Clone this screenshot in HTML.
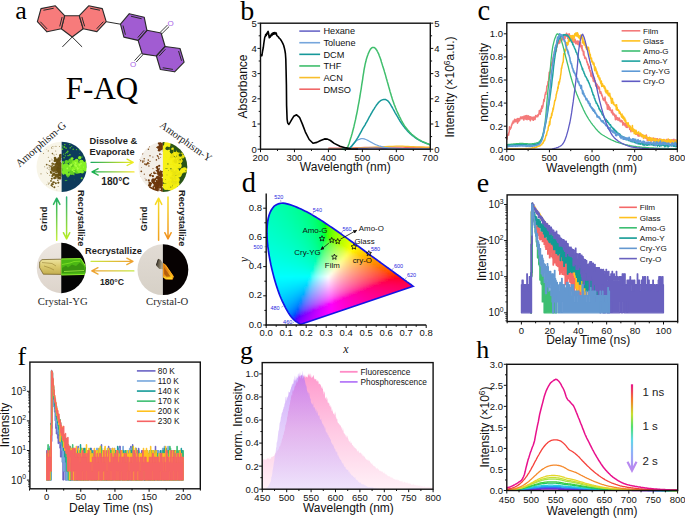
<!DOCTYPE html>
<html><head><meta charset="utf-8"><style>html,body{margin:0;padding:0;background:#fff;width:685px;height:518px;overflow:hidden}svg{display:block}</style></head>
<body><svg width="685" height="518" viewBox="0 0 685 518"><defs><clipPath id="cie"><path d="M301.02 324.27 L300.99 324.28 L300.95 324.28 L300.9 324.29 L300.86 324.3 L300.83 324.3 L300.8 324.3 L300.76 324.3 L300.72 324.3 L300.67 324.3 L300.62 324.29 L300.56 324.28 L300.48 324.26 L300.38 324.21 L300.27 324.16 L300.14 324.09 L299.98 323.99 L299.78 323.87 L299.54 323.71 L299.3 323.55 L299.08 323.41 L298.9 323.29 L298.75 323.2 L298.6 323.1 L298.42 322.99 L298.22 322.86 L298 322.72 L297.77 322.57 L297.52 322.42 L297.26 322.25 L296.99 322.08 L296.7 321.89 L296.4 321.69 L296.08 321.46 L295.74 321.22 L295.38 320.96 L295 320.66 L294.61 320.35 L294.21 320.02 L293.77 319.64 L293.3 319.17 L292.79 318.64 L292.24 318.04 L291.65 317.35 L291.02 316.56 L290.36 315.67 L289.66 314.7 L288.91 313.6 L288.12 312.33 L287.28 310.9 L286.39 309.33 L285.45 307.59 L284.46 305.63 L283.39 303.46 L282.26 301.1 L281.1 298.53 L279.94 295.7 L278.78 292.61 L277.6 289.27 L276.43 285.7 L275.28 281.93 L274.13 277.9 L272.99 273.62 L271.9 269.2 L270.9 264.75 L269.99 260.21 L269.15 255.56 L268.42 250.91 L267.84 246.39 L267.4 241.98 L267.09 237.62 L266.94 233.4 L266.98 229.4 L267.21 225.59 L267.61 221.94 L268.2 218.54 L268.98 215.47 L269.97 212.73 L271.16 210.29 L272.51 208.18 L273.98 206.45 L275.58 205.14 L277.33 204.22 L279.18 203.62 L281.06 203.27 L282.99 203.2 L284.99 203.44 L287.02 203.87 L289.04 204.37 L291.07 204.97 L293.11 205.7 L295.14 206.51 L297.14 207.34 L299.09 208.17 L301.01 209.05 L302.9 209.95 L304.78 210.89 L306.64 211.84 L308.47 212.83 L310.3 213.84 L312.12 214.87 L313.94 215.93 L315.75 217.02 L317.56 218.13 L319.36 219.25 L321.16 220.39 L322.95 221.56 L324.73 222.73 L326.52 223.92 L328.31 225.13 L330.09 226.34 L331.87 227.57 L333.66 228.8 L335.45 230.04 L337.24 231.3 L339.03 232.56 L340.82 233.82 L342.6 235.09 L344.38 236.37 L346.16 237.64 L347.94 238.92 L349.72 240.19 L351.49 241.47 L353.26 242.74 L355.02 244.01 L356.77 245.28 L358.51 246.54 L360.24 247.8 L361.96 249.05 L363.67 250.29 L365.36 251.52 L367.04 252.75 L368.7 253.96 L370.34 255.15 L371.97 256.34 L373.58 257.51 L375.16 258.66 L376.72 259.79 L378.26 260.9 L379.77 262 L381.24 263.07 L382.68 264.12 L384.09 265.15 L385.46 266.15 L386.78 267.11 L388.05 268.03 L389.27 268.92 L390.45 269.78 L391.6 270.62 L392.72 271.43 L393.8 272.22 L394.84 272.97 L395.84 273.7 L396.79 274.38 L397.69 275.03 L398.54 275.65 L399.36 276.24 L400.14 276.8 L400.87 277.33 L401.56 277.84 L402.22 278.32 L402.84 278.78 L403.42 279.2 L403.98 279.61 L404.5 279.99 L405 280.35 L405.46 280.68 L405.9 281 L406.32 281.3 L406.69 281.57 L407.02 281.82 L407.37 282.07 L407.78 282.37 L408.3 282.75 L408.89 283.18 L409.48 283.61 L410 283.99 L410.42 284.29 L410.79 284.56 L411.11 284.79 L411.4 285 L411.64 285.17 L411.84 285.32 L412.02 285.45 L412.2 285.58 L412.39 285.72 L412.57 285.85 L412.74 285.98 L412.88 286.08 L412.98 286.15 L413.05 286.2 L413.1 286.24 L413.14 286.27Z"/></clipPath><filter id="blr" x="-5%" y="-5%" width="110%" height="110%"><feGaussianBlur stdDeviation="1.3"/></filter><marker id="ah" viewBox="0 0 6 6" refX="5" refY="3" markerWidth="5" markerHeight="5" orient="auto"><path d="M0 0L6 3L0 6z" fill="#111"/></marker><linearGradient id="gpk" gradientUnits="userSpaceOnUse" x1="0" y1="374" x2="0" y2="489"><stop offset="0" stop-color="#FF9ACD"/><stop offset="0.5" stop-color="#FFCAE4"/><stop offset="1" stop-color="#FFF1F7"/></linearGradient><linearGradient id="gpu" gradientUnits="userSpaceOnUse" x1="0" y1="374" x2="0" y2="489"><stop offset="0" stop-color="#B070FA" stop-opacity="0.62"/><stop offset="0.5" stop-color="#C8A0F8" stop-opacity="0.5"/><stop offset="1" stop-color="#E8DEFD" stop-opacity="0.7"/></linearGradient><linearGradient id="harr" gradientUnits="userSpaceOnUse" x1="0" y1="384" x2="0" y2="470"><stop offset="0" stop-color="#E8108C"/><stop offset="0.18" stop-color="#F47A2A"/><stop offset="0.35" stop-color="#C8E030"/><stop offset="0.5" stop-color="#50E070"/><stop offset="0.65" stop-color="#60D8E8"/><stop offset="0.8" stop-color="#90B0F8"/><stop offset="1" stop-color="#B88AF0"/></linearGradient><filter id="soft" x="-10%" y="-10%" width="120%" height="120%"><feGaussianBlur stdDeviation="0.35"/></filter><clipPath id="c1L"><path d="M61.6 141.7V191.9A25.1 25.1 0 0 1 61.6 141.7Z"/></clipPath><clipPath id="c1R"><path d="M61.6 141.7V191.9A25.1 25.1 0 0 0 61.6 141.7Z"/></clipPath><clipPath id="c2L"><path d="M162.9 141.91V192.09A25.1 25.1 0 0 1 162.9 141.91Z"/></clipPath><clipPath id="c2R"><path d="M162.9 141.91V192.09A25.1 25.1 0 0 0 162.9 141.91Z"/></clipPath><clipPath id="c3L"><path d="M61.25 242.81V293.19A25.2 25.2 0 0 1 61.25 242.81Z"/></clipPath><clipPath id="c3R"><path d="M61.25 242.81V293.19A25.2 25.2 0 0 0 61.25 242.81Z"/></clipPath><linearGradient id="bg3" x1="0" y1="0" x2="0" y2="1"><stop offset="0" stop-color="#EEE8E2"/><stop offset="1" stop-color="#DCD3CA"/></linearGradient><linearGradient id="yc3" x1="0" y1="0" x2="0" y2="1"><stop offset="0" stop-color="#EDE3A0"/><stop offset="0.45" stop-color="#DCCB70"/><stop offset="1" stop-color="#C4AE50"/></linearGradient><clipPath id="c4L"><path d="M162.9 244.3V295.1A25.4 25.4 0 0 1 162.9 244.3Z"/></clipPath><clipPath id="c4R"><path d="M162.9 244.3V295.1A25.4 25.4 0 0 0 162.9 244.3Z"/></clipPath><linearGradient id="bg4" x1="0" y1="0" x2="0" y2="1"><stop offset="0" stop-color="#E2DCD5"/><stop offset="1" stop-color="#D6D0C6"/></linearGradient><linearGradient id="dc4" x1="0" y1="0" x2="1" y2="0.2"><stop offset="0" stop-color="#3A3328"/><stop offset="0.5" stop-color="#6A6250"/><stop offset="1" stop-color="#B4AC96"/></linearGradient><linearGradient id="oc4" x1="0" y1="0" x2="0.5" y2="1"><stop offset="0" stop-color="#D87410"/><stop offset="0.6" stop-color="#E88A14"/><stop offset="1" stop-color="#FFC81C"/></linearGradient><linearGradient id="ga1" gradientUnits="userSpaceOnUse" x1="91" y1="162.3" x2="133.3" y2="162.3"><stop offset="0" stop-color="#1CAA5E"/><stop offset="1" stop-color="#F4EE1E"/></linearGradient><linearGradient id="ga2" gradientUnits="userSpaceOnUse" x1="134" y1="171.9" x2="92" y2="171.9"><stop offset="0" stop-color="#F8E630"/><stop offset="1" stop-color="#12AE52"/></linearGradient><linearGradient id="ga3" gradientUnits="userSpaceOnUse" x1="56.7" y1="240.2" x2="56.7" y2="198.2"><stop offset="0" stop-color="#C8F040"/><stop offset="1" stop-color="#1EAE62"/></linearGradient><linearGradient id="ga4" gradientUnits="userSpaceOnUse" x1="66.6" y1="196.9" x2="66.6" y2="238.9"><stop offset="0" stop-color="#2EB07A"/><stop offset="1" stop-color="#B8EE22"/></linearGradient><linearGradient id="ga5" gradientUnits="userSpaceOnUse" x1="158.6" y1="240.2" x2="158.6" y2="198.2"><stop offset="0" stop-color="#F0A020"/><stop offset="1" stop-color="#F8E024"/></linearGradient><linearGradient id="ga6" gradientUnits="userSpaceOnUse" x1="168" y1="196.9" x2="168" y2="238.9"><stop offset="0" stop-color="#F8E024"/><stop offset="1" stop-color="#F09020"/></linearGradient><linearGradient id="ga7" gradientUnits="userSpaceOnUse" x1="91.1" y1="261.4" x2="133" y2="261.4"><stop offset="0" stop-color="#C8E840"/><stop offset="1" stop-color="#F0A030"/></linearGradient><linearGradient id="ga8" gradientUnits="userSpaceOnUse" x1="133.9" y1="270.9" x2="91.8" y2="270.9"><stop offset="0" stop-color="#C4E840"/><stop offset="1" stop-color="#F0A030"/></linearGradient></defs><polyline points="328.4,148.2 330.2,148.2 332.6,148.1 335.4,148.1 338.6,148.1 342,148 345.4,147.9 348.9,147.9 352.7,147.8 356.6,147.7 360.7,147.6 364.9,147.5 369.2,147.4 373.6,147.4 378.4,147.3 383.2,147.3 387.9,147.2 392.4,147.2 396.3,147.2 399.8,147.2 402.8,147.2 405.5,147.3 408,147.3 410.6,147.4 413.3,147.4 416.3,147.5 419.6,147.5 422.9,147.6 425.9,147.6 428.5,147.7 430.3,147.7" fill="none" stroke="#F06868" stroke-width="1.3" stroke-linejoin="round"/>
<polyline points="328.4,148.7 330.6,148.7 333.6,148.7 337.1,148.6 341,148.6 345,148.5 348.8,148.4 352.6,148.3 356.5,148.2 360.5,148 364.5,147.8 368.6,147.6 372.6,147.4 376.6,147.2 380.7,147 384.9,146.7 388.9,146.5 392.8,146.3 396.3,146.2 399.6,146.2 402.5,146.2 405.3,146.3 407.9,146.4 410.6,146.6 413.3,146.7 416.3,146.8 419.6,146.9 422.9,147 425.9,147.1 428.5,147.1 430.3,147.2" fill="none" stroke="#F8BE2C" stroke-width="1.3" stroke-linejoin="round"/>
<polyline points="328.4,149.2 330.6,149.2 333.7,149.2 337.3,149.1 341.2,149.1 345.2,149 348.8,148.9 352.2,148.8 355.6,148.7 359,148.5 362.4,148.4 365.8,148.3 369.2,148.2 372.3,148.2 375.2,148.2 378.1,148.2 381.2,148.3 385,148.4 389.5,148.4 395.6,148.5 403.1,148.6 411.2,148.7 419,148.8 425.6,148.9 430.3,148.9" fill="none" stroke="#6A68C8" stroke-width="1.3" stroke-linejoin="round"/>
<polyline points="342,149.2 342.8,149.2 343.8,149.2 345,149.2 346.4,149.1 347.7,148.8 348.9,148.3 350.1,147.5 351.2,146.3 352.4,145 353.6,143.7 354.6,142.5 355.5,141.6 356.2,141 356.8,140.5 357.4,140.2 357.8,139.9 358.3,139.7 358.8,139.5 359.4,139.3 359.9,139.1 360.5,138.9 361.1,138.7 361.6,138.6 362.2,138.6 362.8,138.6 363.3,138.7 363.8,138.8 364.4,138.9 364.9,139.1 365.5,139.3 366.1,139.5 366.6,139.8 367.2,140 367.7,140.4 368.3,140.7 368.9,141 369.5,141.4 370.2,141.7 370.9,142.1 371.6,142.5 372.3,142.9 373,143.3 373.7,143.7 374.4,144 375.1,144.4 375.8,144.7 376.7,145 377.7,145.4 378.9,145.8 380.2,146.2 381.6,146.6 383.1,147 384.8,147.4 386.6,147.7 388.4,148 390.1,148.2 392,148.4 394.1,148.5 396.7,148.7 400,148.8 404.4,148.9 410,148.9 416,148.9 421.8,148.9 426.8,148.9 430.3,148.9" fill="none" stroke="#76A6DC" stroke-width="1.3" stroke-linejoin="round"/>
<polyline points="342,149.2 342.8,149.2 343.9,149.2 345.2,149.2 346.6,149.1 347.8,148.9 348.9,148.6 349.7,148.2 350.4,147.6 351.1,146.9 351.7,146.2 352.3,145.4 353,144.5 353.8,143.5 354.6,142.5 355.4,141.3 356.2,140.1 357,138.9 357.8,137.7 358.5,136.5 359.2,135.2 359.9,133.9 360.6,132.6 361.3,131.3 362,130 362.7,128.7 363.5,127.4 364.3,126.1 365.1,124.8 365.8,123.4 366.6,122.1 367.3,120.8 368.1,119.4 368.8,118 369.5,116.7 370.3,115.3 371,114 371.8,112.7 372.5,111.4 373.3,110 374.1,108.8 374.8,107.6 375.5,106.6 376.1,105.7 376.6,104.9 377.1,104.3 377.6,103.7 378,103.1 378.5,102.6 378.9,102.1 379.4,101.7 379.8,101.3 380.2,101 380.6,100.7 381.1,100.4 381.6,100.1 382.2,99.9 382.8,99.7 383.3,99.6 383.9,99.4 384.4,99.4 384.9,99.4 385.3,99.5 385.7,99.6 386.1,99.8 386.4,100 386.8,100.2 387.1,100.4 387.5,100.6 387.8,100.8 388.1,101.1 388.4,101.5 388.8,102 389.3,102.6 389.8,103.4 390.3,104.2 390.9,105.1 391.4,106.1 392,107 392.6,108 393.1,109 393.7,110.1 394.3,111.2 394.9,112.3 395.5,113.3 396.1,114.3 396.7,115.4 397.3,116.4 397.9,117.4 398.4,118.4 399,119.3 399.5,120.2 400,121.1 400.5,121.9 401.1,122.7 401.6,123.5 402.2,124.4 402.9,125.3 403.5,126.2 404.3,127.1 405,128.1 405.8,128.9 406.5,129.8 407.2,130.6 408,131.4 408.7,132.2 409.5,132.9 410.2,133.6 411,134.3 411.8,134.9 412.5,135.6 413.3,136.2 414,136.7 414.8,137.3 415.5,137.8 416.2,138.3 416.9,138.8 417.7,139.3 418.4,139.7 419.1,140.2 419.9,140.6 420.7,141 421.5,141.4 422.4,141.8 423.3,142.2 424.1,142.6 425,142.9 425.9,143.2 426.9,143.6 428,143.9 428.9,144.2 429.7,144.4 430.3,144.6" fill="none" stroke="#16989A" stroke-width="1.5" stroke-linejoin="round"/>
<polyline points="342,149.2 342.5,149.2 343.3,149.3 344.1,149.4 345.1,149.4 345.9,149.1 346.7,148.6 347.3,147.7 347.9,146.6 348.4,145.2 349,143.7 349.5,142.1 350,140.5 350.5,138.8 351.1,137 351.6,135.2 352.2,133.2 352.7,131.2 353.3,129 353.9,126.7 354.4,124.4 355,121.9 355.6,119.4 356.1,116.7 356.7,114 357.3,111.1 357.8,108.1 358.4,104.9 359,101.8 359.5,98.8 360,96 360.4,93.4 360.8,91 361.2,88.8 361.5,86.5 361.8,84.3 362.2,82 362.6,79.6 362.9,77.2 363.3,74.7 363.7,72.3 364,70.1 364.4,68 364.8,66.1 365.1,64.4 365.5,62.8 365.9,61.3 366.2,59.8 366.6,58.5 367,57.2 367.4,56.1 367.8,55 368.1,54 368.5,53.1 368.9,52.2 369.3,51.4 369.6,50.7 369.9,50.1 370.3,49.5 370.6,49 371,48.6 371.4,48.2 371.8,47.9 372.1,47.7 372.5,47.5 372.9,47.4 373.3,47.4 373.7,47.4 374,47.5 374.4,47.7 374.8,47.9 375.1,48.2 375.5,48.6 375.9,49 376.2,49.5 376.6,50 377,50.6 377.3,51.3 377.7,52 378.1,52.8 378.5,53.6 378.9,54.5 379.2,55.5 379.6,56.5 380,57.5 380.4,58.5 380.7,59.6 381.1,60.7 381.4,61.9 381.8,63.1 382.2,64.4 382.6,65.8 383.1,67.3 383.6,68.8 384.1,70.4 384.5,71.9 385,73.5 385.5,75.1 385.9,76.6 386.3,78.2 386.8,79.8 387.2,81.4 387.7,83 388.2,84.7 388.6,86.3 389.1,88 389.6,89.7 390,91.4 390.5,93 391,94.5 391.4,96 391.9,97.5 392.3,98.9 392.8,100.4 393.3,101.8 393.8,103.2 394.3,104.7 394.9,106.1 395.4,107.5 396,108.9 396.5,110.2 397.1,111.5 397.6,112.7 398.2,113.9 398.8,115.1 399.3,116.3 399.9,117.4 400.5,118.5 401,119.6 401.5,120.6 402.1,121.6 402.6,122.6 403.2,123.5 403.7,124.4 404.3,125.3 404.8,126.1 405.4,127 406,127.8 406.6,128.6 407.3,129.4 408,130.3 408.7,131.1 409.5,132 410.2,132.7 411,133.5 411.7,134.2 412.5,134.9 413.2,135.5 414,136.1 414.7,136.7 415.5,137.3 416.3,137.8 417,138.4 417.8,138.9 418.5,139.3 419.3,139.8 420,140.2 420.7,140.6 421.4,140.9 422.1,141.3 422.7,141.6 423.5,141.9 424.3,142.3 425.3,142.7 426.4,143.3 427.6,143.8 428.7,144.3 429.6,144.7 430.3,145" fill="none" stroke="#3FBE6C" stroke-width="1.5" stroke-linejoin="round"/>
<polyline points="260.5,56.3 261.2,54.8 261.9,55.6 262.6,51 263.3,47.5 263.8,43.5 264.3,40.2 264.8,37 265.3,36.4 265.7,34.5 266.2,35.6 266.7,33.2 267.2,34 267.6,32.2 268.1,31.4 268.5,33 268.9,35.5 269.3,37.8 269.7,36.2 270.1,37.2 270.6,35.2 271,36 271.5,34 271.9,35.4 272.4,33.3 272.8,34.6 273.3,32.8 273.7,34.2 274.2,32.6 274.7,33.8 275.2,32.7 275.7,34 276.2,33 276.8,35.5 277.5,36.2 278.3,36.8 279.2,38.2 280.2,39 281,40.2 282,41.8 282.9,43.6 283.7,45.5 284.4,48.2 285,51 285.4,53.5 285.8,59 286.1,71.3 286.4,85 286.6,105.6 287.1,119.2 287.7,123 288.9,124.4 290,122.6 291.4,120.2 293.7,116.3 296.6,114.8 299.5,117.3 302.4,124.1 305.3,131.8 309.2,139.5 313,143.2 316.9,142.4 320.7,140.5 324.6,138.9 327.5,139.1 330.4,140.5 334.2,143.4 340,146.3 345.9,147.9 350.9,149 358,149.3" fill="none" stroke="#000" stroke-width="1.6" stroke-linejoin="round"/>
<line x1="299.3" y1="31.1" x2="320.1" y2="31.1" stroke="#6A68C8" stroke-width="1.6"/>
<text x="323.4" y="34.4" font-family="'Liberation Sans',sans-serif" font-size="9.2" text-anchor="start" font-weight="normal" fill="#111">Hexane</text>
<line x1="299.3" y1="42.72" x2="320.1" y2="42.72" stroke="#76A6DC" stroke-width="1.6"/>
<text x="323.4" y="46.02" font-family="'Liberation Sans',sans-serif" font-size="9.2" text-anchor="start" font-weight="normal" fill="#111">Toluene</text>
<line x1="299.3" y1="54.34" x2="320.1" y2="54.34" stroke="#16989A" stroke-width="1.6"/>
<text x="323.4" y="57.64" font-family="'Liberation Sans',sans-serif" font-size="9.2" text-anchor="start" font-weight="normal" fill="#111">DCM</text>
<line x1="299.3" y1="65.96" x2="320.1" y2="65.96" stroke="#3FBE6C" stroke-width="1.6"/>
<text x="323.4" y="69.26" font-family="'Liberation Sans',sans-serif" font-size="9.2" text-anchor="start" font-weight="normal" fill="#111">THF</text>
<line x1="299.3" y1="77.58" x2="320.1" y2="77.58" stroke="#F8BE2C" stroke-width="1.6"/>
<text x="323.4" y="80.88" font-family="'Liberation Sans',sans-serif" font-size="9.2" text-anchor="start" font-weight="normal" fill="#111">ACN</text>
<line x1="299.3" y1="89.2" x2="320.1" y2="89.2" stroke="#F06868" stroke-width="1.6"/>
<text x="323.4" y="92.5" font-family="'Liberation Sans',sans-serif" font-size="9.2" text-anchor="start" font-weight="normal" fill="#111">DMSO</text>
<rect x="260.5" y="23.2" width="169.8" height="126" fill="none" stroke="#111" stroke-width="1.4"/>
<path d="M260.5 149.2v3M294.46 149.2v3M328.42 149.2v3M362.38 149.2v3M396.34 149.2v3M430.3 149.2v3" stroke="#111" stroke-width="1"/>
<path d="M277.48 149.2v1.8M311.44 149.2v1.8M345.4 149.2v1.8M379.36 149.2v1.8M413.32 149.2v1.8" stroke="#111" stroke-width="1"/>
<path d="M260.5 149.2h-3M260.5 124h-3M260.5 98.8h-3M260.5 73.6h-3M260.5 48.4h-3M260.5 23.2h-3" stroke="#111" stroke-width="1"/>
<path d="M260.5 136.6h-1.8M260.5 111.4h-1.8M260.5 86.2h-1.8M260.5 61h-1.8M260.5 35.8h-1.8" stroke="#111" stroke-width="1"/>
<path d="M430.3 149.2h3M430.3 124h3M430.3 98.8h3M430.3 73.6h3M430.3 48.4h3M430.3 23.2h3" stroke="#111" stroke-width="1"/>
<path d="M430.3 136.6h1.8M430.3 111.4h1.8M430.3 86.2h1.8M430.3 61h1.8M430.3 35.8h1.8" stroke="#111" stroke-width="1"/>
<text x="260.5" y="160.8" font-family="'Liberation Sans',sans-serif" font-size="9.5" text-anchor="middle" font-weight="normal" fill="#111">200</text>
<text x="294.46" y="160.8" font-family="'Liberation Sans',sans-serif" font-size="9.5" text-anchor="middle" font-weight="normal" fill="#111">300</text>
<text x="328.42" y="160.8" font-family="'Liberation Sans',sans-serif" font-size="9.5" text-anchor="middle" font-weight="normal" fill="#111">400</text>
<text x="362.38" y="160.8" font-family="'Liberation Sans',sans-serif" font-size="9.5" text-anchor="middle" font-weight="normal" fill="#111">500</text>
<text x="396.34" y="160.8" font-family="'Liberation Sans',sans-serif" font-size="9.5" text-anchor="middle" font-weight="normal" fill="#111">600</text>
<text x="430.3" y="160.8" font-family="'Liberation Sans',sans-serif" font-size="9.5" text-anchor="middle" font-weight="normal" fill="#111">700</text>
<text x="256.7" y="152.6" font-family="'Liberation Sans',sans-serif" font-size="9.5" text-anchor="end" font-weight="normal" fill="#111">0</text>
<text x="256.7" y="127.4" font-family="'Liberation Sans',sans-serif" font-size="9.5" text-anchor="end" font-weight="normal" fill="#111">1</text>
<text x="256.7" y="102.2" font-family="'Liberation Sans',sans-serif" font-size="9.5" text-anchor="end" font-weight="normal" fill="#111">2</text>
<text x="256.7" y="77" font-family="'Liberation Sans',sans-serif" font-size="9.5" text-anchor="end" font-weight="normal" fill="#111">3</text>
<text x="256.7" y="51.8" font-family="'Liberation Sans',sans-serif" font-size="9.5" text-anchor="end" font-weight="normal" fill="#111">4</text>
<text x="256.7" y="26.6" font-family="'Liberation Sans',sans-serif" font-size="9.5" text-anchor="end" font-weight="normal" fill="#111">5</text>
<text x="434.2" y="152.6" font-family="'Liberation Sans',sans-serif" font-size="9.5" text-anchor="start" font-weight="normal" fill="#111">0</text>
<text x="434.2" y="127.4" font-family="'Liberation Sans',sans-serif" font-size="9.5" text-anchor="start" font-weight="normal" fill="#111">1</text>
<text x="434.2" y="102.2" font-family="'Liberation Sans',sans-serif" font-size="9.5" text-anchor="start" font-weight="normal" fill="#111">2</text>
<text x="434.2" y="77" font-family="'Liberation Sans',sans-serif" font-size="9.5" text-anchor="start" font-weight="normal" fill="#111">3</text>
<text x="434.2" y="51.8" font-family="'Liberation Sans',sans-serif" font-size="9.5" text-anchor="start" font-weight="normal" fill="#111">4</text>
<text x="434.2" y="26.6" font-family="'Liberation Sans',sans-serif" font-size="9.5" text-anchor="start" font-weight="normal" fill="#111">5</text>
<text x="247.3" y="86.5" font-family="'Liberation Sans',sans-serif" font-size="12" text-anchor="middle" font-weight="normal" fill="#111" transform="rotate(-90 247.3 86.5)">Absorbance</text>
<text x="454" y="87" font-family="'Liberation Sans',sans-serif" font-size="12" text-anchor="middle" fill="#111" transform="rotate(-90 454 87)">Intensity (×10<tspan dy="-4" font-size="8.5">6</tspan><tspan dy="4">a.u.)</tspan></text>
<text x="345.3" y="171.3" font-family="'Liberation Sans',sans-serif" font-size="12" text-anchor="middle" font-weight="normal" fill="#111">Wavelength (nm)</text>
<polyline points="506.8,134.7 507.1,139.1 507.4,135.1 507.7,135.5 508,134.7 508.3,133.7 508.6,135.1 508.9,132.3 509.2,132.3 509.5,126.8 509.8,129.6 510.1,129.4 510.4,128.6 510.7,128.3 511,128 511.3,126.5 511.6,124.8 511.9,125 512.2,123 512.5,123.9 512.8,123.2 513.1,121 513.4,121.9 513.7,122.9 514,122.2 514.3,121.1 514.6,119.2 514.9,121.6 515.2,121.4 515.5,119.7 515.8,121.8 516,120.9 516.3,119.3 516.6,119.5 516.9,119.9 517.2,119.1 517.5,123.3 517.8,118.5 518.1,120.9 518.4,121.7 518.7,119.2 519,118.6 519.3,119.9 519.6,120.6 519.9,119.1 520.2,119 520.5,117.1 520.8,117.7 521.1,118.2 521.4,116.9 521.7,118.3 522,119 522.3,117 522.6,116.8 522.9,117.6 523.2,118.2 523.5,116.8 523.8,120.1 524.1,116 524.4,116.2 524.7,118.8 525,116.6 525.3,117.9 525.6,115.8 525.9,119.3 526.2,117.9 526.5,116 526.8,115.5 527.1,119.7 527.4,117.8 527.7,116.9 528,118.2 528.3,115.7 528.6,119.3 528.9,117.6 529.2,119.5 529.5,116.6 529.8,118.5 530.1,119.1 530.4,120.8 530.7,116.7 531,117.9 531.3,118 531.6,117.5 531.9,118.5 532.2,119.6 532.5,119.8 532.8,119.7 533.1,116.9 533.4,120.3 533.7,119.1 534,118.6 534.3,117.7 534.5,117.1 534.8,119.1 535.1,119.5 535.4,117.2 535.7,115.5 536,115.9 536.3,116.4 536.6,116.8 536.9,115.9 537.2,116.4 537.5,114.9 537.8,116.7 538.1,115.2 538.4,115.2 538.7,114 539,114 539.3,110.5 539.6,111.2 539.9,110.5 540.2,114.3 540.5,111.4 540.8,111 541.1,108.7 541.4,111.6 541.7,106.5 542,105.9 542.3,108.3 542.6,107.2 542.9,106.2 543.2,104.2 543.5,102.5 543.8,99.6 544.1,101.3 544.4,98.8 544.7,98.3 545,94.7 545.3,94.7 545.6,92.4 545.9,94.3 546.2,91.6 546.5,91 546.8,86.2 547.1,85.9 547.4,85.8 547.7,84.5 548,81.6 548.3,81.7 548.6,80.4 548.9,76.7 549.2,72.2 549.5,74.6 549.8,73.5 550.1,72.9 550.4,71.7 550.7,67.5 551,65.6 551.3,65.6 551.6,63.8 551.9,62.8 552.2,61.5 552.5,62.8 552.7,59.9 553,57.8 553.3,58.1 553.6,56.4 553.9,55.9 554.2,54.1 554.5,51.1 554.8,52.2 555.1,50.9 555.4,48.5 555.7,48 556,45.5 556.3,51.1 556.6,45.6 556.9,47.2 557.2,45.6 557.5,43.9 557.8,42.9 558.1,42.5 558.4,43.5 558.7,40.6 559,43.4 559.3,42.7 559.6,40.8 559.9,42.7 560.2,37.7 560.5,39.3 560.8,37 561.1,40.4 561.4,40.6 561.7,39.4 562,38.1 562.3,40 562.6,38.1 562.9,38.5 563.2,35.5 563.5,39.1 563.8,35.9 564.1,38.6 564.4,38.9 564.7,38.3 565,38.9 565.3,36.4 565.6,34.7 565.9,36 566.2,35.1 566.5,33.2 566.8,35.4 567.1,35.5 567.4,36.2 567.7,38.4 568,34.3 568.3,38.6 568.6,34.4 568.9,35.6 569.2,33.7 569.5,35.8 569.8,37.2 570.1,35.4 570.4,37.2 570.7,36.8 571,36.6 571.2,37.2 571.5,37.6 571.8,38.9 572.1,38.1 572.4,41.7 572.7,38.6 573,40.6 573.3,36.9 573.6,36.9 573.9,42.6 574.2,39.3 574.5,40 574.8,41.7 575.1,39.3 575.4,41.2 575.7,43.7 576,41.4 576.3,41.4 576.6,41.3 576.9,43.8 577.2,41 577.5,41 577.8,44.5 578.1,44 578.4,43.3 578.7,44.5 579,41 579.3,43.9 579.6,46.3 579.9,46.4 580.2,45.6 580.5,42.2 580.8,46.8 581.1,46.9 581.4,46.9 581.7,48.5 582,45.4 582.3,50.8 582.6,49.5 582.9,51.3 583.2,51.4 583.5,55.1 583.8,51.2 584.1,55.1 584.4,55.7 584.7,58.1 585,58.5 585.3,57.2 585.6,57.4 585.9,58.5 586.2,58.6 586.5,60.2 586.8,62.1 587.1,61.7 587.4,62.9 587.7,64.8 588,64.4 588.3,64.3 588.6,66.8 588.9,68.5 589.2,67.6 589.4,66.6 589.7,70.6 590,71.2 590.3,72 590.6,70.7 590.9,76.1 591.2,73.5 591.5,73.1 591.8,76.8 592.1,74.1 592.4,76.2 592.7,78.4 593,77.9 593.3,81.1 593.6,80.2 593.9,77.3 594.2,81.8 594.5,78.3 594.8,81.5 595.1,80.4 595.4,82.2 595.7,86 596,84 596.3,83.4 596.6,85.7 596.9,86.5 597.2,84.6 597.5,86.5 597.8,88.6 598.1,87.8 598.4,86.2 598.7,88.8 599,87.5 599.3,87.3 599.6,90.1 599.9,92.4 600.2,93.4 600.5,92.3 600.8,91.7 601.1,93.1 601.4,93.4 601.7,95.3 602,94.9 602.3,96.5 602.6,96.9 602.9,98.8 603.2,99.7 603.5,98.8 603.8,100.2 604.1,100.6 604.4,99 604.7,100.6 605,97.1 605.3,100.3 605.6,102.9 605.9,101.6 606.2,102.7 606.5,104.6 606.8,102.8 607.1,105.8 607.4,109.2 607.7,104.7 607.9,107.1 608.2,104.8 608.5,108.1 608.8,109.2 609.1,106.2 609.4,110 609.7,108.8 610,107.7 610.3,109.8 610.6,110.5 610.9,110.7 611.2,110.2 611.5,112.7 611.8,111.3 612.1,111.8 612.4,110 612.7,113.7 613,114.8 613.3,113.1 613.6,114.9 613.9,114.4 614.2,115 614.5,114.1 614.8,116.7 615.1,116.3 615.4,119.7 615.7,117.9 616,115.2 616.3,118.2 616.6,118.5 616.9,119.4 617.2,117.4 617.5,118.2 617.8,120.1 618.1,118.1 618.4,118.9 618.7,118.5 619,120.5 619.3,117.9 619.6,119.7 619.9,120.6 620.2,121.4 620.5,121.3 620.8,120.2 621.1,121.8 621.4,120.4 621.7,121.3 622,120.6 622.3,121.5 622.6,122.8 622.9,125.2 623.2,122.9 623.5,122.5 623.8,123.5 624.1,123.3 624.4,124.7 624.7,124.9 625,125.8 625.3,123.3 625.6,125 625.9,126 626.1,127.2 626.4,126.1 626.7,124.4 627,125.8 627.3,127.5 627.6,125.2 627.9,125.4 628.2,126.2 628.5,126.6 628.8,126.4 629.1,127.4 629.4,127.4 629.7,129.4 630,127 630.3,128.7 630.6,126.9 630.9,131.8 631.2,128.9 631.5,128.8 631.8,130.5 632.1,129.8 632.4,129.6 632.7,130 633,131.5 633.3,131.2 633.6,130.1 633.9,129.9 634.2,131.5 634.5,131.7 634.8,131.8 635.1,131 635.4,133.6 635.7,134.1 636,132.6 636.3,134.2 636.6,133.8 636.9,133.2 637.2,132.9 637.5,134.9 637.8,132.9 638.1,136 638.4,133.6 638.7,136.1 639,136 639.3,134 639.6,135.3 639.9,135.9 640.2,135.7 640.5,134.8 640.8,135.5 641.1,135.7 641.4,134.6 641.7,136.7 642,136.6 642.3,136.8 642.6,135 642.9,135.3 643.2,135.1 643.5,136.7 643.8,137 644.1,136 644.4,137.5 644.6,136.2 644.9,136.5 645.2,138.2 645.5,137.6 645.8,137.8 646.1,135.8 646.4,135 646.7,138.1 647,138.1 647.3,140.7 647.6,138 647.9,138.4 648.2,139.7 648.5,137.7 648.8,140.4 649.1,139 649.4,138.7 649.7,140.3 650,138.1 650.3,138 650.6,140.8 650.9,140.9 651.2,138.7 651.5,139.5 651.8,140.9 652.1,140 652.4,139.8 652.7,139.9 653,138.9 653.3,139.5 653.6,138 653.9,138.5 654.2,139.4 654.5,139 654.8,138.8 655.1,139.5 655.4,141.7 655.7,139.5 656,140.4 656.3,138.7 656.6,140.4 656.9,140 657.2,140.3 657.5,138.8 657.8,140.5 658.1,141 658.4,140.4 658.7,141.3 659,140.6 659.3,140.9 659.6,140.6 659.9,138.8 660.2,141.4 660.5,140.9 660.8,141.2 661.1,140.2 661.4,142.3 661.7,141.8 662,141.1 662.3,140.4 662.6,141.1 662.9,141.6 663.1,142 663.4,140.5 663.7,139.5 664,140.7 664.3,140.9 664.6,140.6 664.9,142.1 665.2,141.5 665.5,141.4 665.8,140.8 666.1,141.2 666.4,142.5 666.7,139.9 667,139.3 667.3,141.5 667.6,140.7 667.9,140.9 668.2,140.3 668.5,142.8 668.8,139.4 669.1,141.7 669.4,139.8 669.7,141.1 670,141.6 670.3,141.3 670.6,140.2 670.9,142.1 671.2,141.6 671.5,141.7 671.8,143.1 672.1,139.8 672.4,140.6 672.7,141.2 673,139.9 673.3,142.2 673.6,141.3 673.9,139.3 674.2,140.1 674.5,143.6 674.8,144.8 675.1,142.3 675.4,140 675.7,141.7 676,141.4 676.3,140.5 676.6,142.2 676.9,141 677.2,140.4" fill="none" stroke="#F47A7A" stroke-width="1.5" stroke-linejoin="round"/>
<polyline points="506.8,148.8 507.1,148.8 507.4,148.8 507.7,148.8 508,148.8 508.3,148.8 508.6,148.8 508.9,148.8 509.2,148.8 509.5,148.8 509.8,148.8 510.1,148.8 510.4,148.8 510.7,148.8 511,148.8 511.3,148.8 511.6,148.8 511.9,148.8 512.2,148.8 512.5,148.8 512.8,148.8 513.1,148.8 513.4,148.8 513.7,148.8 514,148.8 514.3,148.8 514.6,148.8 514.9,148.8 515.2,148.8 515.5,148.8 515.8,148.8 516,148.8 516.3,148.8 516.6,148.8 516.9,148.8 517.2,148.8 517.5,148.8 517.8,148.8 518.1,148.8 518.4,148.8 518.7,148.8 519,148.8 519.3,148.8 519.6,148.8 519.9,148.8 520.2,148.8 520.5,148.8 520.8,148.8 521.1,148.8 521.4,148.8 521.7,148.8 522,148.8 522.3,148.8 522.6,148.8 522.9,148.8 523.2,148.8 523.5,148.8 523.8,148.8 524.1,148.8 524.4,148.8 524.7,148.7 525,148.8 525.3,148.6 525.6,148.8 525.9,148.8 526.2,148.5 526.5,148.8 526.8,148.6 527.1,148.8 527.4,148.6 527.7,148.8 528,148.8 528.3,148.4 528.6,148.5 528.9,148.5 529.2,148.6 529.5,148.4 529.8,148.7 530.1,148.6 530.4,148.4 530.7,148.5 531,148.4 531.3,148.3 531.6,148.2 531.9,148.2 532.2,147.9 532.5,147.9 532.8,147.8 533.1,148 533.4,148 533.7,148.1 534,147.8 534.3,148 534.5,147.7 534.8,147.4 535.1,147.2 535.4,147.2 535.7,147.4 536,147.1 536.3,147.2 536.6,146.9 536.9,146.9 537.2,146.6 537.5,146.2 537.8,146.4 538.1,146.1 538.4,146.3 538.7,146.2 539,145.9 539.3,145.7 539.6,145.9 539.9,145.6 540.2,145.8 540.5,145.4 540.8,144.9 541.1,144.9 541.4,144.8 541.7,144.8 542,143.9 542.3,143.4 542.6,143.1 542.9,142.8 543.2,143 543.5,141.1 543.8,141.4 544.1,140.8 544.4,139.8 544.7,140.5 545,138.7 545.3,137.9 545.6,136.8 545.9,135.3 546.2,134.9 546.5,135.4 546.8,133.4 547.1,131.9 547.4,130.9 547.7,130.8 548,130 548.3,127.1 548.6,126.1 548.9,125.3 549.2,125.7 549.5,121.4 549.8,124.6 550.1,121.1 550.4,117.6 550.7,118.7 551,117.2 551.3,117.5 551.6,113.6 551.9,115.3 552.2,112.4 552.5,111.4 552.7,111.6 553,108 553.3,109.6 553.6,107.5 553.9,105.4 554.2,104.6 554.5,102.2 554.8,100.3 555.1,100.7 555.4,99.7 555.7,98.4 556,96.9 556.3,94 556.6,94 556.9,91.8 557.2,91.1 557.5,90.8 557.8,87.1 558.1,88.3 558.4,85.5 558.7,81.9 559,84.2 559.3,81.2 559.6,82 559.9,79 560.2,78.9 560.5,75.8 560.8,74.5 561.1,72 561.4,68.1 561.7,68.3 562,65.9 562.3,65.1 562.6,63.4 562.9,62.4 563.2,62.1 563.5,57.5 563.8,53.4 564.1,53.8 564.4,54.1 564.7,49.4 565,51.6 565.3,50.8 565.6,50.7 565.9,49.3 566.2,47.1 566.5,42.4 566.8,45.2 567.1,45.7 567.4,44.2 567.7,42.8 568,44.6 568.3,40.9 568.6,39.3 568.9,39.4 569.2,38.4 569.5,41.1 569.8,41.4 570.1,35.9 570.4,35.9 570.7,40 571,36.8 571.2,36.8 571.5,35.7 571.8,36 572.1,37 572.4,35.6 572.7,35.5 573,35.7 573.3,38.7 573.6,40.5 573.9,36.6 574.2,38 574.5,34.6 574.8,33.8 575.1,34.5 575.4,35.5 575.7,34.7 576,32.8 576.3,36.1 576.6,33.3 576.9,33.8 577.2,34.6 577.5,32.7 577.8,36.6 578.1,33.9 578.4,37.3 578.7,37.3 579,38 579.3,35.7 579.6,38.4 579.9,37 580.2,39.3 580.5,35.9 580.8,34.9 581.1,38 581.4,35.9 581.7,38.1 582,35.8 582.3,39.7 582.6,42.9 582.9,38.1 583.2,41.3 583.5,43.2 583.8,43 584.1,45 584.4,43 584.7,45 585,41.2 585.3,43 585.6,47.3 585.9,47.6 586.2,46.5 586.5,49.2 586.8,46.7 587.1,47.2 587.4,48.9 587.7,49.2 588,48.1 588.3,47.2 588.6,47.9 588.9,51 589.2,50.5 589.4,54 589.7,53 590,56.2 590.3,54.4 590.6,58.4 590.9,58.9 591.2,58.2 591.5,58.1 591.8,62 592.1,61.4 592.4,61.1 592.7,61.7 593,64.1 593.3,63.4 593.6,64.8 593.9,62.9 594.2,65 594.5,68.6 594.8,70.7 595.1,67.9 595.4,67 595.7,69.3 596,68.9 596.3,71.7 596.6,73.8 596.9,71.3 597.2,73 597.5,72.9 597.8,76.7 598.1,75.1 598.4,77 598.7,75.6 599,78.4 599.3,79.2 599.6,79.9 599.9,77.9 600.2,80.4 600.5,82.2 600.8,83.3 601.1,84 601.4,81 601.7,86.4 602,85.6 602.3,84.1 602.6,83.9 602.9,86.3 603.2,85.5 603.5,86 603.8,86.2 604.1,88 604.4,86.1 604.7,88.6 605,87.1 605.3,91.2 605.6,88.8 605.9,92.2 606.2,92.9 606.5,90.5 606.8,92.8 607.1,91.4 607.4,93.9 607.7,90.6 607.9,93.2 608.2,95.2 608.5,93.9 608.8,93.4 609.1,96.1 609.4,94.8 609.7,93.2 610,95.3 610.3,97 610.6,98.3 610.9,97.3 611.2,100.7 611.5,103.2 611.8,100.6 612.1,101.7 612.4,98.5 612.7,101.2 613,103.2 613.3,104 613.6,102.3 613.9,104.6 614.2,104.8 614.5,104.7 614.8,105 615.1,105.5 615.4,106 615.7,104.9 616,104.9 616.3,109.7 616.6,104.7 616.9,108.3 617.2,107.4 617.5,110.3 617.8,109.4 618.1,110 618.4,110.6 618.7,110.1 619,110.8 619.3,113.3 619.6,112.6 619.9,112 620.2,112.5 620.5,114.2 620.8,114.5 621.1,114.8 621.4,116.4 621.7,117.1 622,114 622.3,116.9 622.6,116.8 622.9,118.3 623.2,116.3 623.5,116.2 623.8,119.1 624.1,118.6 624.4,120.6 624.7,118 625,119.5 625.3,122.1 625.6,120 625.9,121.5 626.1,121.9 626.4,122.4 626.7,124 627,124.3 627.3,123.3 627.6,124.4 627.9,125.9 628.2,122.7 628.5,125.7 628.8,126.4 629.1,126.9 629.4,125.6 629.7,125.6 630,126.7 630.3,126.3 630.6,129.3 630.9,128.2 631.2,128.6 631.5,128.3 631.8,128 632.1,131.2 632.4,125.4 632.7,130.3 633,129.1 633.3,128.8 633.6,129 633.9,129.9 634.2,133.7 634.5,131.8 634.8,129.9 635.1,132 635.4,132.4 635.7,134.1 636,130.2 636.3,131.2 636.6,133 636.9,132.3 637.2,132.4 637.5,133.8 637.8,133 638.1,132.6 638.4,132.4 638.7,131.8 639,133.4 639.3,134.1 639.6,133.4 639.9,134.7 640.2,135.6 640.5,133.1 640.8,134.9 641.1,134.6 641.4,134.1 641.7,136.3 642,134.5 642.3,134.9 642.6,135.6 642.9,135.3 643.2,136.7 643.5,138.5 643.8,136.5 644.1,137.3 644.4,135.5 644.6,136.3 644.9,137.4 645.2,136.9 645.5,135.6 645.8,135.9 646.1,136.9 646.4,137 646.7,137.9 647,137.9 647.3,137.2 647.6,138.1 647.9,137.8 648.2,139.5 648.5,140.2 648.8,140.3 649.1,139.1 649.4,137.2 649.7,137.5 650,140 650.3,140.7 650.6,138.2 650.9,138.7 651.2,140.8 651.5,138.2 651.8,139.2 652.1,138 652.4,139.2 652.7,138.7 653,139.4 653.3,140.8 653.6,140.1 653.9,140.6 654.2,139 654.5,141.1 654.8,141.7 655.1,139.3 655.4,138.9 655.7,138.6 656,139 656.3,141.9 656.6,141 656.9,140.9 657.2,140.3 657.5,142.7 657.8,140.4 658.1,140.1 658.4,141.5 658.7,140.3 659,139.2 659.3,140.5 659.6,139.4 659.9,139.5 660.2,140.2 660.5,140.2 660.8,141.1 661.1,139.3 661.4,141.2 661.7,141.5 662,140 662.3,141.6 662.6,140.3 662.9,139.7 663.1,140.8 663.4,140.8 663.7,139.9 664,140.1 664.3,142.6 664.6,142.4 664.9,139.5 665.2,140.6 665.5,143.3 665.8,142.5 666.1,141 666.4,142.1 666.7,140.5 667,141 667.3,140.6 667.6,142.4 667.9,140.4 668.2,139 668.5,142 668.8,139.7 669.1,140.1 669.4,140.5 669.7,141.3 670,142.5 670.3,142.2 670.6,140.4 670.9,140.2 671.2,139.9 671.5,140.2 671.8,140.3 672.1,141.8 672.4,142.6 672.7,141.1 673,140.8 673.3,141.3 673.6,143 673.9,141.9 674.2,143 674.5,141.2 674.8,142.6 675.1,141.6 675.4,141.1 675.7,141.3 676,140 676.3,142.7 676.6,143.9 676.9,140.5 677.2,140" fill="none" stroke="#FFC11E" stroke-width="1.5" stroke-linejoin="round"/>
<polyline points="506.8,144.7 507.7,144.6 508.5,144.5 509.4,144.4 510.2,144.3 511.1,144.2 511.9,144.1 512.8,144.1 513.6,144 514.5,143.9 515.3,143.8 516.2,143.7 517,143.7 517.9,143.6 518.7,143.6 519.6,143.5 520.4,143.5 521.3,143.5 522.1,143.5 523,143.5 523.9,143.6 524.7,143.6 525.6,143.7 526.4,143.7 527.3,143.7 528.1,143.8 529,143.8 529.8,143.8 530.7,143.8 531.5,143.8 532.4,143.7 533.2,143.7 534.1,143.5 534.9,143.3 535.8,143.2 536.6,142.9 537.5,142.7 538.3,142.3 539.2,141.7 540,140.9 540.9,139.7 541.8,137.9 542.6,135.5 543.5,132 544.3,127.3 545.2,121.6 546,113.6 546.9,102.3 547.7,93 548.6,85 549.4,77.1 550.3,68.8 551.1,59.7 552,51.8 552.8,46.4 553.7,42.6 554.5,39.6 555.4,37.2 556.2,35.2 557.1,34 558,34 558.8,34.9 559.7,36.3 560.5,38.2 561.4,40.6 562.2,43.3 563.1,46.4 563.9,49.7 564.8,53.2 565.6,56.6 566.5,59.9 567.3,63.1 568.2,66.4 569,69.8 569.9,73.1 570.7,76.3 571.6,79.3 572.4,82.1 573.3,84.7 574.1,87.2 575,89.5 575.9,91.7 576.7,93.9 577.6,95.9 578.4,98 579.3,100 580.1,101.9 581,103.9 581.8,105.9 582.7,107.8 583.5,109.7 584.4,111.4 585.2,113.1 586.1,114.7 586.9,116.2 587.8,117.6 588.6,119 589.5,120.3 590.3,121.5 591.2,122.8 592,123.9 592.9,125.1 593.8,126.2 594.6,127.2 595.5,128.3 596.3,129.3 597.2,130.2 598,131.2 598.9,132 599.7,132.8 600.6,133.5 601.4,134.2 602.3,134.8 603.1,135.3 604,135.8 604.8,136.3 605.7,136.8 606.5,137.3 607.4,137.8 608.2,138.3 609.1,138.7 610,139.2 610.8,139.6 611.7,140 612.5,140.4 613.4,140.7 614.2,141.1 615.1,141.4 615.9,141.8 616.8,142.1 617.6,142.4 618.5,142.6 619.3,142.9 620.2,143.2 621,143.4 621.9,143.7 622.7,143.9 623.6,144.1 624.4,144.4 625.3,144.6 626.1,144.8 627,145 627.9,145.2 628.7,145.3 629.6,145.5 630.4,145.7 631.3,145.8 632.1,146 633,146.1 633.8,146.3 634.7,146.4 635.5,146.5 636.4,146.6 637.2,146.8 638.1,146.9 638.9,147 639.8,147 640.6,147.1 641.5,147.2 642.3,147.3 643.2,147.4 644.1,147.4 644.9,147.5 645.8,147.5 646.6,147.6 647.5,147.7 648.3,147.7 649.2,147.8 650,147.8 650.9,147.9 651.7,147.9 652.6,148 653.4,148 654.3,148.1 655.1,148.1 656,148.1 656.8,148.2 657.7,148.2 658.5,148.3 659.4,148.3 660.2,148.3 661.1,148.4 662,148.4 662.8,148.4 663.7,148.4 664.5,148.5 665.4,148.5 666.2,148.5 667.1,148.5 667.9,148.5 668.8,148.6 669.6,148.6 670.5,148.6 671.3,148.6 672.2,148.6 673,148.6 673.9,148.7 674.7,148.7 675.6,148.7 676.4,148.7 677.3,148.7" fill="none" stroke="#3DBE72" stroke-width="1.3" stroke-linejoin="round"/>
<polyline points="506.8,145.2 507.1,145.2 507.4,145.2 507.7,145.2 508,145.3 508.3,145.2 508.6,145.1 508.9,145.2 509.2,145 509.5,145.2 509.8,145.1 510.1,145 510.4,145.1 510.7,145.1 511,145.1 511.3,145.1 511.6,144.9 511.9,145 512.2,144.9 512.5,145 512.8,144.9 513.1,144.9 513.4,145 513.7,144.9 514,144.9 514.3,144.8 514.6,144.9 514.9,144.8 515.2,144.7 515.5,144.9 515.8,144.9 516,144.7 516.3,144.8 516.6,144.8 516.9,144.7 517.2,144.8 517.5,144.7 517.8,144.7 518.1,144.7 518.4,144.8 518.7,144.8 519,144.7 519.3,144.7 519.6,144.6 519.9,144.7 520.2,144.7 520.5,144.7 520.8,144.7 521.1,144.8 521.4,144.8 521.7,144.7 522,144.7 522.3,144.7 522.6,144.7 522.9,144.7 523.2,144.6 523.5,144.7 523.8,144.8 524.1,144.7 524.4,144.7 524.7,144.8 525,144.8 525.3,144.8 525.6,144.8 525.9,144.8 526.2,144.9 526.5,144.8 526.8,144.9 527.1,144.9 527.4,145 527.7,144.9 528,145.1 528.3,144.9 528.6,144.9 528.9,144.9 529.2,145 529.5,145 529.8,145.1 530.1,145.1 530.4,145 530.7,145 531,144.9 531.3,145 531.6,144.9 531.9,145.1 532.2,145 532.5,144.9 532.8,144.8 533.1,144.9 533.4,144.9 533.7,144.7 534,144.7 534.3,144.7 534.5,144.7 534.8,144.6 535.1,144.4 535.4,144.3 535.7,144.4 536,144.1 536.3,144.2 536.6,144.1 536.9,144 537.2,143.9 537.5,143.7 537.8,143.7 538.1,143.6 538.4,143.5 538.7,143.3 539,143.1 539.3,142.8 539.6,142.6 539.9,142.1 540.2,141.9 540.5,141.4 540.8,140.9 541.1,140.7 541.4,140 541.7,139.1 542,138.5 542.3,137.7 542.6,136.7 542.9,136 543.2,134.8 543.5,133.9 543.8,132.8 544.1,130.8 544.4,129.9 544.7,128.4 545,126.5 545.3,125 545.6,123.9 545.9,122.4 546.2,120.7 546.5,119.4 546.8,117.3 547.1,115.6 547.4,113.8 547.7,111.8 548,109.9 548.3,107.5 548.6,105.6 548.9,104.7 549.2,101.7 549.5,100.4 549.8,98.4 550.1,95.6 550.4,94 550.7,91.6 551,88.8 551.3,87.1 551.6,84.8 551.9,81.9 552.2,79.2 552.5,77.1 552.7,75.6 553,72.8 553.3,70 553.6,66.6 553.9,64.5 554.2,62.1 554.5,59.5 554.8,57.9 555.1,55.3 555.4,53.3 555.7,52.1 556,49.9 556.3,48 556.6,47.3 556.9,45 557.2,43.7 557.5,42.5 557.8,42.3 558.1,40.9 558.4,39.5 558.7,39.1 559,39.2 559.3,38.2 559.6,37.1 559.9,37.4 560.2,36.8 560.5,35.5 560.8,36.4 561.1,36.2 561.4,36.4 561.7,36 562,34.9 562.3,35.5 562.6,35.9 562.9,35.7 563.2,35.1 563.5,34.7 563.8,35.4 564.1,34.6 564.4,35.2 564.7,34.7 565,34.7 565.3,34.6 565.6,35.1 565.9,35 566.2,34.8 566.5,35.7 566.8,35.2 567.1,35.1 567.4,35.1 567.7,35.8 568,36.2 568.3,36.3 568.6,37 568.9,37.2 569.2,37.3 569.5,37.7 569.8,38.8 570.1,38.9 570.4,40.3 570.7,39.4 571,40.6 571.2,40.8 571.5,42 571.8,42.1 572.1,42.4 572.4,42.8 572.7,44.5 573,44.1 573.3,45.2 573.6,46.1 573.9,46.2 574.2,47.2 574.5,47.9 574.8,48.8 575.1,49 575.4,49.8 575.7,50.7 576,51.8 576.3,52.4 576.6,52.7 576.9,53.1 577.2,54.6 577.5,54.8 577.8,56.3 578.1,57.6 578.4,57.7 578.7,59.3 579,59.5 579.3,60 579.6,61.5 579.9,62.2 580.2,61.8 580.5,63.6 580.8,64.3 581.1,64.9 581.4,66 581.7,66.8 582,67.3 582.3,69.4 582.6,68.4 582.9,70.2 583.2,71 583.5,71 583.8,71.9 584.1,73.3 584.4,73.3 584.7,74.6 585,75.1 585.3,76.2 585.6,76.5 585.9,76.6 586.2,77.4 586.5,77.9 586.8,78.3 587.1,79.3 587.4,80.2 587.7,80.6 588,80.3 588.3,81.7 588.6,82.1 588.9,82.9 589.2,83.4 589.4,83.9 589.7,84.8 590,85.6 590.3,86.6 590.6,87.4 590.9,87.6 591.2,88.3 591.5,89.2 591.8,90.5 592.1,91.9 592.4,92.1 592.7,93 593,94.8 593.3,94.5 593.6,95.4 593.9,95.7 594.2,97.7 594.5,98.5 594.8,98.3 595.1,100.2 595.4,100.5 595.7,101.4 596,102 596.3,103.2 596.6,103.1 596.9,103.2 597.2,104.1 597.5,104.8 597.8,105.8 598.1,105.6 598.4,106.6 598.7,107 599,108.8 599.3,108.5 599.6,109.8 599.9,109.6 600.2,110.3 600.5,111.4 600.8,111.4 601.1,111.5 601.4,112.3 601.7,112.8 602,114 602.3,114.4 602.6,115.1 602.9,115.1 603.2,115.1 603.5,115.9 603.8,116.6 604.1,117.6 604.4,117.4 604.7,118.1 605,119.4 605.3,119.7 605.6,119.5 605.9,120.2 606.2,119.5 606.5,120.6 606.8,121.5 607.1,121.6 607.4,121 607.7,122.6 607.9,122.2 608.2,122.7 608.5,122.6 608.8,123.3 609.1,124.1 609.4,124 609.7,124.6 610,124.5 610.3,125.4 610.6,124.8 610.9,126.1 611.2,126.2 611.5,127 611.8,127 612.1,127.4 612.4,127.7 612.7,127.7 613,128.7 613.3,129.2 613.6,128.6 613.9,129.6 614.2,130 614.5,129.5 614.8,130 615.1,131.9 615.4,131.2 615.7,130.9 616,131.2 616.3,132.1 616.6,131.5 616.9,132.8 617.2,132.8 617.5,132.9 617.8,133.3 618.1,133.2 618.4,133.3 618.7,134.1 619,133.7 619.3,134.9 619.6,134.9 619.9,134.2 620.2,135.2 620.5,135 620.8,135.9 621.1,136.1 621.4,136.2 621.7,136.3 622,136.7 622.3,136.8 622.6,136.6 622.9,136.6 623.2,137.3 623.5,137.2 623.8,137.2 624.1,138.3 624.4,138.7 624.7,137.4 625,137.7 625.3,138.4 625.6,138.4 625.9,139.2 626.1,139.5 626.4,138.9 626.7,139.8 627,138.9 627.3,139.7 627.6,139.4 627.9,138.8 628.2,139 628.5,140.1 628.8,139.6 629.1,140.7 629.4,140.6 629.7,140.3 630,139.9 630.3,140.9 630.6,140.5 630.9,140.9 631.2,141.6 631.5,141.2 631.8,140.6 632.1,141.4 632.4,141.2 632.7,141.2 633,142 633.3,141.2 633.6,141.2 633.9,141.2 634.2,141.4 634.5,142.4 634.8,142.5 635.1,142.7 635.4,142.8 635.7,142.9 636,142.1 636.3,142 636.6,143 636.9,142.5 637.2,143.5 637.5,143.1 637.8,143.5 638.1,143.9 638.4,143.2 638.7,143.2 639,143.5 639.3,143.6 639.6,143.9 639.9,143.6 640.2,143.9 640.5,143.5 640.8,144.3 641.1,143.7 641.4,143.6 641.7,143.3 642,143.4 642.3,143.9 642.6,144.3 642.9,144.9 643.2,144.1 643.5,143.5 643.8,143.4 644.1,145.4 644.4,144.6 644.6,144.4 644.9,144.8 645.2,144.3 645.5,144.4 645.8,144.7 646.1,144.5 646.4,145.2 646.7,145 647,145 647.3,144.2 647.6,145.3 647.9,144.7 648.2,144.3 648.5,144.7 648.8,144.3 649.1,145 649.4,144.5 649.7,144.4 650,143.8 650.3,144.5 650.6,144.2 650.9,144.8 651.2,144.8 651.5,144.2 651.8,144.6 652.1,144.3 652.4,144.6 652.7,144 653,143.9 653.3,145.4 653.6,144.2 653.9,144.8 654.2,144.8 654.5,145.1 654.8,144.8 655.1,145.6 655.4,145.5 655.7,145.5 656,145 656.3,144.8 656.6,144.9 656.9,145.1 657.2,145.5 657.5,146.1 657.8,145.1 658.1,145.2 658.4,145.1 658.7,144.7 659,145.4 659.3,145.4 659.6,146.4 659.9,145.1 660.2,145.4 660.5,145.7 660.8,145.2 661.1,145.9 661.4,145.7 661.7,144.5 662,145.1 662.3,145 662.6,145.1 662.9,145.2 663.1,145.4 663.4,144.5 663.7,145.6 664,145.2 664.3,145.6 664.6,145.7 664.9,146.7 665.2,146.5 665.5,144.9 665.8,144.9 666.1,145.8 666.4,145.6 666.7,145.3 667,146.1 667.3,144.8 667.6,146.1 667.9,146 668.2,146.9 668.5,144.9 668.8,145.6 669.1,144.9 669.4,146.1 669.7,145.5 670,145.6 670.3,145.6 670.6,144.7 670.9,144.7 671.2,145.1 671.5,145.9 671.8,145.3 672.1,145.1 672.4,145.5 672.7,145.5 673,145.5 673.3,146.2 673.6,145.6 673.9,145 674.2,146.2 674.5,145.7 674.8,145.4 675.1,146.4 675.4,145.9 675.7,146.6 676,146.1 676.3,146.5 676.6,146.2 676.9,146 677.2,146" fill="none" stroke="#1FA3A0" stroke-width="1.5" stroke-linejoin="round"/>
<polyline points="506.8,146.4 507.1,146.7 507.4,146.2 507.7,146.4 508,146.5 508.3,146.4 508.6,146.3 508.9,146.4 509.2,146.3 509.5,146.3 509.8,146.2 510.1,146.3 510.4,146.2 510.7,146.2 511,146.2 511.3,146 511.6,146.2 511.9,146.3 512.2,146.1 512.5,146.1 512.8,146.1 513.1,146.1 513.4,145.8 513.7,146 514,146 514.3,146.1 514.6,145.9 514.9,146 515.2,146.1 515.5,146.1 515.8,145.9 516,145.9 516.3,146.1 516.6,146 516.9,145.8 517.2,145.8 517.5,146.1 517.8,145.9 518.1,145.8 518.4,145.9 518.7,145.9 519,145.9 519.3,146 519.6,145.8 519.9,145.8 520.2,146 520.5,145.8 520.8,145.7 521.1,145.8 521.4,145.7 521.7,145.9 522,145.7 522.3,146 522.6,145.6 522.9,145.9 523.2,146 523.5,146 523.8,146 524.1,146 524.4,146 524.7,146 525,145.9 525.3,145.9 525.6,146.1 525.9,145.9 526.2,146.2 526.5,146.2 526.8,146.2 527.1,146 527.4,146.3 527.7,146.3 528,146 528.3,145.9 528.6,146 528.9,146.3 529.2,146.1 529.5,146 529.8,146.1 530.1,146.4 530.4,146.2 530.7,146.4 531,146.3 531.3,145.9 531.6,146 531.9,146.3 532.2,146.3 532.5,146 532.8,146.1 533.1,145.9 533.4,146 533.7,145.9 534,145.8 534.3,145.9 534.5,146 534.8,145.8 535.1,145.7 535.4,145.6 535.7,145.5 536,145.5 536.3,145.3 536.6,145.4 536.9,145.1 537.2,144.9 537.5,145 537.8,144.9 538.1,144.7 538.4,144.6 538.7,144.5 539,144.4 539.3,144.2 539.6,144 539.9,143.4 540.2,142.9 540.5,142.9 540.8,142.2 541.1,141.6 541.4,141.1 541.7,140.5 542,139.6 542.3,139.1 542.6,137.5 542.9,136.4 543.2,134.4 543.5,133.3 543.8,132.2 544.1,130.4 544.4,128.1 544.7,126.3 545,125.1 545.3,123.4 545.6,122.2 545.9,120 546.2,118.1 546.5,116.4 546.8,113.3 547.1,113 547.4,110 547.7,107.5 548,105.2 548.3,102.2 548.6,101.6 548.9,98.8 549.2,95.8 549.5,93.2 549.8,90.7 550.1,88 550.4,83.8 550.7,82.1 551,78.9 551.3,74.7 551.6,71.9 551.9,70 552.2,68.8 552.5,66.3 552.7,64 553,61.9 553.3,59.1 553.6,55.6 553.9,54.5 554.2,53.5 554.5,51.8 554.8,50.5 555.1,47.2 555.4,48.5 555.7,45.4 556,45.6 556.3,44.2 556.6,43.5 556.9,40.6 557.2,40.5 557.5,37.4 557.8,39.6 558.1,38.9 558.4,36.8 558.7,36.1 559,36.2 559.3,37.1 559.6,33.9 559.9,34.3 560.2,34.4 560.5,35.2 560.8,34.4 561.1,35.6 561.4,35.4 561.7,35.9 562,35.2 562.3,37 562.6,37.4 562.9,36.8 563.2,38.1 563.5,38.9 563.8,39.7 564.1,39.5 564.4,41.5 564.7,41.3 565,40.9 565.3,43 565.6,44.8 565.9,46 566.2,45.8 566.5,47.8 566.8,49.1 567.1,49.4 567.4,50.7 567.7,50.1 568,53.1 568.3,51.7 568.6,54.6 568.9,55 569.2,55.6 569.5,57 569.8,57.7 570.1,60.1 570.4,62.2 570.7,61.6 571,63.8 571.2,63.9 571.5,63.6 571.8,65.5 572.1,66.8 572.4,68.1 572.7,68.4 573,69.1 573.3,71.1 573.6,70.4 573.9,72.3 574.2,72 574.5,73.3 574.8,72.9 575.1,73.8 575.4,75.2 575.7,76 576,76.2 576.3,76.2 576.6,77.1 576.9,78.5 577.2,79.1 577.5,78.7 577.8,82 578.1,80.9 578.4,82.7 578.7,81.5 579,83.7 579.3,84.1 579.6,85.5 579.9,85.3 580.2,85.4 580.5,85.3 580.8,88.4 581.1,88.4 581.4,85.6 581.7,88.7 582,90.2 582.3,90.5 582.6,93.7 582.9,90.9 583.2,92.8 583.5,94.7 583.8,93.2 584.1,95.3 584.4,96.2 584.7,95.5 585,96.2 585.3,97.4 585.6,97.7 585.9,99.2 586.2,99.8 586.5,98.5 586.8,98.7 587.1,99.9 587.4,100.4 587.7,101.6 588,101.8 588.3,103 588.6,101.3 588.9,103.6 589.2,103.3 589.4,104.1 589.7,105.7 590,103.5 590.3,105.8 590.6,106.6 590.9,106.3 591.2,107.6 591.5,107.3 591.8,108.5 592.1,107.7 592.4,108.6 592.7,110.2 593,108.7 593.3,109.8 593.6,111.3 593.9,110.6 594.2,110.9 594.5,110.2 594.8,112.8 595.1,111.9 595.4,113.1 595.7,112.9 596,114 596.3,114.3 596.6,114.2 596.9,116 597.2,117.1 597.5,115.8 597.8,116.6 598.1,116.5 598.4,116.5 598.7,117.5 599,116.8 599.3,118.1 599.6,118.4 599.9,118.1 600.2,118.7 600.5,119.6 600.8,119.8 601.1,120.9 601.4,121.1 601.7,120.9 602,120.7 602.3,122 602.6,121.3 602.9,120.8 603.2,120.9 603.5,123 603.8,122.5 604.1,123.2 604.4,123.3 604.7,123.6 605,124.2 605.3,124.2 605.6,125.1 605.9,125.7 606.2,125.6 606.5,125.7 606.8,125.4 607.1,126.4 607.4,126.3 607.7,126.1 607.9,128.2 608.2,127.9 608.5,127.6 608.8,128.2 609.1,129.3 609.4,127.9 609.7,129 610,130 610.3,127.9 610.6,130.8 610.9,130 611.2,130.7 611.5,130.3 611.8,130.2 612.1,131.6 612.4,131.2 612.7,131.5 613,132.4 613.3,130.9 613.6,131.9 613.9,132.5 614.2,133 614.5,132.9 614.8,132.8 615.1,133.5 615.4,132.3 615.7,135.5 616,135.4 616.3,134.1 616.6,135.6 616.9,134.3 617.2,135 617.5,134.2 617.8,134.5 618.1,133.9 618.4,134.4 618.7,134.3 619,135.1 619.3,134.8 619.6,135.4 619.9,136.4 620.2,137.1 620.5,137.3 620.8,136 621.1,138.5 621.4,136.6 621.7,137.5 622,136.4 622.3,137 622.6,137.8 622.9,137.3 623.2,139.3 623.5,137.4 623.8,137.3 624.1,139.3 624.4,137.2 624.7,138.1 625,138 625.3,139.4 625.6,137.9 625.9,138 626.1,138.6 626.4,139.5 626.7,138.1 627,137.8 627.3,138.6 627.6,138.2 627.9,139.6 628.2,139.1 628.5,139 628.8,139.2 629.1,137.2 629.4,139.2 629.7,140 630,139 630.3,140.6 630.6,139.5 630.9,139.3 631.2,140.4 631.5,140.3 631.8,140.9 632.1,140.1 632.4,140.8 632.7,138.9 633,139.8 633.3,140.6 633.6,141.6 633.9,138.9 634.2,139.6 634.5,140.3 634.8,140.6 635.1,140.7 635.4,141.2 635.7,139.4 636,140.8 636.3,142.2 636.6,141.6 636.9,143.3 637.2,140.7 637.5,140.7 637.8,139.9 638.1,139.7 638.4,142.1 638.7,141.1 639,140.8 639.3,141 639.6,142.1 639.9,141.1 640.2,141.4 640.5,140.7 640.8,141.9 641.1,142.1 641.4,142.4 641.7,142.3 642,142.7 642.3,142.4 642.6,141.8 642.9,141.8 643.2,141.2 643.5,141.4 643.8,141.8 644.1,143.3 644.4,142 644.6,141.5 644.9,143.6 645.2,143.4 645.5,143.3 645.8,143.4 646.1,142.9 646.4,143.4 646.7,142.4 647,143.7 647.3,142.9 647.6,143.2 647.9,143.6 648.2,142 648.5,142.9 648.8,142.5 649.1,143.2 649.4,142.4 649.7,142.5 650,143.1 650.3,144.5 650.6,142.4 650.9,142.5 651.2,142.9 651.5,142.9 651.8,143 652.1,143 652.4,144 652.7,143.2 653,143 653.3,143.7 653.6,144 653.9,141.8 654.2,142.8 654.5,143.6 654.8,143.7 655.1,145.5 655.4,144.5 655.7,143.6 656,142.4 656.3,145.1 656.6,144 656.9,141.9 657.2,142.9 657.5,143.2 657.8,142.5 658.1,143.6 658.4,143.7 658.7,143 659,142.9 659.3,144.4 659.6,142.4 659.9,145 660.2,144.2 660.5,141.1 660.8,144.1 661.1,143.1 661.4,144.5 661.7,143.9 662,144.3 662.3,144 662.6,143.2 662.9,142.3 663.1,143 663.4,142.5 663.7,144.2 664,142.6 664.3,143.3 664.6,142.7 664.9,144.1 665.2,144 665.5,142.7 665.8,143.3 666.1,143.7 666.4,144.4 666.7,143.9 667,143.5 667.3,143.3 667.6,144.3 667.9,144.1 668.2,143.5 668.5,144.8 668.8,143.1 669.1,143.9 669.4,144 669.7,145.9 670,145.2 670.3,144.8 670.6,144.4 670.9,144.9 671.2,143.7 671.5,143.9 671.8,144.2 672.1,145.6 672.4,142.9 672.7,144.2 673,143.5 673.3,144.6 673.6,144 673.9,143.5 674.2,143.8 674.5,143.3 674.8,144.2 675.1,142.4 675.4,145.6 675.7,144.5 676,143.3 676.3,144.3 676.6,144.4 676.9,145.5 677.2,143.1" fill="none" stroke="#5E9AD6" stroke-width="1.6" stroke-linejoin="round"/>
<polyline points="506.8,149.3 507.7,149.3 508.5,149.3 509.4,149.3 510.2,149.3 511.1,149.3 511.9,149.3 512.8,149.3 513.6,149.3 514.5,149.3 515.3,149.3 516.2,149.3 517,149.3 517.9,149.3 518.7,149.3 519.6,149.3 520.4,149.3 521.3,149.3 522.1,149.3 523,149.3 523.9,149.3 524.7,149.3 525.6,149.3 526.4,149.3 527.3,149.3 528.1,149.3 529,149.3 529.8,149.3 530.7,149.3 531.5,149.3 532.4,149.3 533.2,149.3 534.1,149.3 534.9,149.3 535.8,149.3 536.6,149.3 537.5,149.3 538.3,149.3 539.2,149.3 540,149.3 540.9,149.3 541.8,149.3 542.6,149.3 543.5,149.3 544.3,149.3 545.2,149.3 546,149.3 546.9,149.3 547.7,149.3 548.6,149.3 549.4,149.3 550.3,149.3 551.1,149.3 552,149.2 552.8,148.9 553.7,148.6 554.5,148.3 555.4,148.1 556.2,147.9 557.1,147.6 558,147.3 558.8,146.9 559.7,146.5 560.5,146 561.4,145.4 562.2,144.6 563.1,143.5 563.9,142.1 564.8,140.4 565.6,138.2 566.5,135.7 567.3,132.8 568.2,129.6 569,126.2 569.9,122.5 570.7,118.1 571.6,112.9 572.4,107.2 573.3,101.2 574.1,94.8 575,87.9 575.9,80.7 576.7,73.1 577.6,63.4 578.4,52.6 579.3,46 580.1,41.4 581,37.8 581.8,35 582.7,34.2 583.5,36.1 584.4,38.3 585.2,41.4 586.1,44.8 586.9,48.4 587.8,52.1 588.6,55.8 589.5,59.5 590.3,63.2 591.2,66.8 592,70.3 592.9,73.8 593.8,76.9 594.6,79.9 595.5,82.8 596.3,85.9 597.2,89.8 598,93.8 598.9,97.5 599.7,101 600.6,104.4 601.4,107.6 602.3,110.7 603.1,113.8 604,116.6 604.8,119.3 605.7,121.7 606.5,124 607.4,126.1 608.2,128 609.1,129.7 610,131.3 610.8,132.8 611.7,134.3 612.5,135.6 613.4,136.7 614.2,137.7 615.1,138.5 615.9,139.3 616.8,139.9 617.6,140.6 618.5,141.2 619.3,141.7 620.2,142.2 621,142.7 621.9,143.2 622.7,143.7 623.6,144.1 624.4,144.5 625.3,144.8 626.1,145.2 627,145.5 627.9,145.8 628.7,146.1 629.6,146.4 630.4,146.6 631.3,146.8 632.1,147 633,147.1 633.8,147.3 634.7,147.4 635.5,147.5 636.4,147.6 637.2,147.8 638.1,147.9 638.9,147.9 639.8,148 640.6,148.1 641.5,148.2 642.3,148.3 643.2,148.4 644.1,148.5 644.9,148.5 645.8,148.6 646.6,148.6 647.5,148.7 648.3,148.7 649.2,148.8 650,148.8 650.9,148.8 651.7,148.9 652.6,148.9 653.4,148.9 654.3,148.9 655.1,149 656,149 656.8,149 657.7,149 658.5,149 659.4,149 660.2,149.1 661.1,149.1 662,149.1 662.8,149.1 663.7,149.1 664.5,149.2 665.4,149.2 666.2,149.2 667.1,149.2 667.9,149.2 668.8,149.2 669.6,149.2 670.5,149.2 671.3,149.2 672.2,149.3 673,149.3 673.9,149.3 674.7,149.3 675.6,149.3 676.4,149.3 677.3,149.3" fill="none" stroke="#5F5BC4" stroke-width="1.3" stroke-linejoin="round"/>
<line x1="621.6" y1="30.8" x2="640.3" y2="30.8" stroke="#F47A7A" stroke-width="1.6"/>
<text x="643" y="33.8" font-family="'Liberation Sans',sans-serif" font-size="8.1" text-anchor="start" font-weight="normal" fill="#111">Film</text>
<line x1="621.6" y1="40.9" x2="640.3" y2="40.9" stroke="#FFC11E" stroke-width="1.6"/>
<text x="643" y="43.9" font-family="'Liberation Sans',sans-serif" font-size="8.1" text-anchor="start" font-weight="normal" fill="#111">Glass</text>
<line x1="621.6" y1="51" x2="640.3" y2="51" stroke="#3DBE72" stroke-width="1.6"/>
<text x="643" y="54" font-family="'Liberation Sans',sans-serif" font-size="8.1" text-anchor="start" font-weight="normal" fill="#111">Amo-G</text>
<line x1="621.6" y1="61.1" x2="640.3" y2="61.1" stroke="#1FA3A0" stroke-width="1.6"/>
<text x="643" y="64.1" font-family="'Liberation Sans',sans-serif" font-size="8.1" text-anchor="start" font-weight="normal" fill="#111">Amo-Y</text>
<line x1="621.6" y1="71.2" x2="640.3" y2="71.2" stroke="#5E9AD6" stroke-width="1.6"/>
<text x="643" y="74.2" font-family="'Liberation Sans',sans-serif" font-size="8.1" text-anchor="start" font-weight="normal" fill="#111">Cry-YG</text>
<line x1="621.6" y1="81.3" x2="640.3" y2="81.3" stroke="#5F5BC4" stroke-width="1.6"/>
<text x="643" y="84.3" font-family="'Liberation Sans',sans-serif" font-size="8.1" text-anchor="start" font-weight="normal" fill="#111">Cry-O</text>
<rect x="506.8" y="22.7" width="170.5" height="126.6" fill="none" stroke="#111" stroke-width="1.4"/>
<path d="M506.8 149.3v3M549.42 149.3v3M592.05 149.3v3M634.67 149.3v3M677.3 149.3v3" stroke="#111" stroke-width="1"/>
<path d="M528.11 149.3v1.8M570.74 149.3v1.8M613.36 149.3v1.8M655.99 149.3v1.8" stroke="#111" stroke-width="1"/>
<path d="M506.8 149.3h-3M506.8 126.2h-3M506.8 103.1h-3M506.8 80h-3M506.8 56.9h-3M506.8 33.8h-3" stroke="#111" stroke-width="1"/>
<path d="M506.8 137.75h-1.8M506.8 114.65h-1.8M506.8 91.55h-1.8M506.8 68.45h-1.8M506.8 45.35h-1.8" stroke="#111" stroke-width="1"/>
<text x="506.8" y="161.4" font-family="'Liberation Sans',sans-serif" font-size="9.5" text-anchor="middle" font-weight="normal" fill="#111">400</text>
<text x="549.42" y="161.4" font-family="'Liberation Sans',sans-serif" font-size="9.5" text-anchor="middle" font-weight="normal" fill="#111">500</text>
<text x="592.05" y="161.4" font-family="'Liberation Sans',sans-serif" font-size="9.5" text-anchor="middle" font-weight="normal" fill="#111">600</text>
<text x="634.67" y="161.4" font-family="'Liberation Sans',sans-serif" font-size="9.5" text-anchor="middle" font-weight="normal" fill="#111">700</text>
<text x="677.3" y="161.4" font-family="'Liberation Sans',sans-serif" font-size="9.5" text-anchor="middle" font-weight="normal" fill="#111">800</text>
<text x="503" y="152.7" font-family="'Liberation Sans',sans-serif" font-size="9.5" text-anchor="end" font-weight="normal" fill="#111">0.0</text>
<text x="503" y="129.6" font-family="'Liberation Sans',sans-serif" font-size="9.5" text-anchor="end" font-weight="normal" fill="#111">0.2</text>
<text x="503" y="106.5" font-family="'Liberation Sans',sans-serif" font-size="9.5" text-anchor="end" font-weight="normal" fill="#111">0.4</text>
<text x="503" y="83.4" font-family="'Liberation Sans',sans-serif" font-size="9.5" text-anchor="end" font-weight="normal" fill="#111">0.6</text>
<text x="503" y="60.3" font-family="'Liberation Sans',sans-serif" font-size="9.5" text-anchor="end" font-weight="normal" fill="#111">0.8</text>
<text x="503" y="37.2" font-family="'Liberation Sans',sans-serif" font-size="9.5" text-anchor="end" font-weight="normal" fill="#111">1.0</text>
<text x="488.4" y="82.3" font-family="'Liberation Sans',sans-serif" font-size="12" text-anchor="middle" font-weight="normal" fill="#111" transform="rotate(-90 488.4 82.3)">norm. Intensity</text>
<text x="591.5" y="171.9" font-family="'Liberation Sans',sans-serif" font-size="12" text-anchor="middle" font-weight="normal" fill="#111">Wavelength (nm)</text>
<g clip-path="url(#cie)"><g filter="url(#blr)"><rect x="273" y="200" width="4" height="4" fill="#00ffae"/><rect x="276" y="200" width="4" height="4" fill="#00ffab"/><rect x="279" y="200" width="4" height="4" fill="#00ffa8"/><rect x="282" y="200" width="4" height="4" fill="#00ffa5"/><rect x="285" y="200" width="4" height="4" fill="#00ffa1"/><rect x="288" y="200" width="4" height="4" fill="#00ff9d"/><rect x="291" y="200" width="4" height="4" fill="#00ff99"/><rect x="270" y="203" width="4" height="4" fill="#00ffb2"/><rect x="273" y="203" width="4" height="4" fill="#00ffb0"/><rect x="276" y="203" width="4" height="4" fill="#00ffad"/><rect x="279" y="203" width="4" height="4" fill="#00ffaa"/><rect x="282" y="203" width="4" height="4" fill="#00ffa7"/><rect x="285" y="203" width="4" height="4" fill="#00ffa3"/><rect x="288" y="203" width="4" height="4" fill="#00ff9f"/><rect x="291" y="203" width="4" height="4" fill="#00ff9b"/><rect x="294" y="203" width="4" height="4" fill="#00ff96"/><rect x="297" y="203" width="4" height="4" fill="#00ff91"/><rect x="267" y="206" width="4" height="4" fill="#00ffb7"/><rect x="270" y="206" width="4" height="4" fill="#00ffb4"/><rect x="273" y="206" width="4" height="4" fill="#00ffb2"/><rect x="276" y="206" width="4" height="4" fill="#00ffaf"/><rect x="279" y="206" width="4" height="4" fill="#00ffac"/><rect x="282" y="206" width="4" height="4" fill="#00ffa9"/><rect x="285" y="206" width="4" height="4" fill="#00ffa5"/><rect x="288" y="206" width="4" height="4" fill="#00ffa1"/><rect x="291" y="206" width="4" height="4" fill="#00ff9d"/><rect x="294" y="206" width="4" height="4" fill="#00ff99"/><rect x="297" y="206" width="4" height="4" fill="#00ff93"/><rect x="300" y="206" width="4" height="4" fill="#00ff8d"/><rect x="303" y="206" width="4" height="4" fill="#00ff87"/><rect x="267" y="209" width="4" height="4" fill="#00ffb9"/><rect x="270" y="209" width="4" height="4" fill="#00ffb7"/><rect x="273" y="209" width="4" height="4" fill="#00ffb4"/><rect x="276" y="209" width="4" height="4" fill="#00ffb1"/><rect x="279" y="209" width="4" height="4" fill="#00ffae"/><rect x="282" y="209" width="4" height="4" fill="#00ffab"/><rect x="285" y="209" width="4" height="4" fill="#00ffa8"/><rect x="288" y="209" width="4" height="4" fill="#00ffa4"/><rect x="291" y="209" width="4" height="4" fill="#00ffa0"/><rect x="294" y="209" width="4" height="4" fill="#00ff9b"/><rect x="297" y="209" width="4" height="4" fill="#00ff96"/><rect x="300" y="209" width="4" height="4" fill="#00ff90"/><rect x="303" y="209" width="4" height="4" fill="#00ff89"/><rect x="306" y="209" width="4" height="4" fill="#00ff82"/><rect x="309" y="209" width="4" height="4" fill="#00ff79"/><rect x="267" y="212" width="4" height="4" fill="#00ffbb"/><rect x="270" y="212" width="4" height="4" fill="#00ffb9"/><rect x="273" y="212" width="4" height="4" fill="#00ffb6"/><rect x="276" y="212" width="4" height="4" fill="#00ffb3"/><rect x="279" y="212" width="4" height="4" fill="#00ffb1"/><rect x="282" y="212" width="4" height="4" fill="#00ffad"/><rect x="285" y="212" width="4" height="4" fill="#00ffaa"/><rect x="288" y="212" width="4" height="4" fill="#00ffa6"/><rect x="291" y="212" width="4" height="4" fill="#00ffa2"/><rect x="294" y="212" width="4" height="4" fill="#00ff9d"/><rect x="297" y="212" width="4" height="4" fill="#00ff98"/><rect x="300" y="212" width="4" height="4" fill="#00ff93"/><rect x="303" y="212" width="4" height="4" fill="#00ff8c"/><rect x="306" y="212" width="4" height="4" fill="#00ff84"/><rect x="309" y="212" width="4" height="4" fill="#00ff7b"/><rect x="312" y="212" width="4" height="4" fill="#00ff71"/><rect x="315" y="212" width="4" height="4" fill="#00ff63"/><rect x="264" y="215" width="4" height="4" fill="#00ffbf"/><rect x="267" y="215" width="4" height="4" fill="#00ffbd"/><rect x="270" y="215" width="4" height="4" fill="#00ffbb"/><rect x="273" y="215" width="4" height="4" fill="#00ffb8"/><rect x="276" y="215" width="4" height="4" fill="#00ffb6"/><rect x="279" y="215" width="4" height="4" fill="#00ffb3"/><rect x="282" y="215" width="4" height="4" fill="#00ffb0"/><rect x="285" y="215" width="4" height="4" fill="#00ffac"/><rect x="288" y="215" width="4" height="4" fill="#00ffa9"/><rect x="291" y="215" width="4" height="4" fill="#00ffa5"/><rect x="294" y="215" width="4" height="4" fill="#00ffa0"/><rect x="297" y="215" width="4" height="4" fill="#00ff9b"/><rect x="300" y="215" width="4" height="4" fill="#00ff95"/><rect x="303" y="215" width="4" height="4" fill="#00ff8f"/><rect x="306" y="215" width="4" height="4" fill="#00ff87"/><rect x="309" y="215" width="4" height="4" fill="#00ff7e"/><rect x="312" y="215" width="4" height="4" fill="#00ff74"/><rect x="315" y="215" width="4" height="4" fill="#00ff66"/><rect x="318" y="215" width="4" height="4" fill="#00ff55"/><rect x="321" y="215" width="4" height="4" fill="#00ff3a"/><rect x="264" y="218" width="4" height="4" fill="#00ffc1"/><rect x="267" y="218" width="4" height="4" fill="#00ffbf"/><rect x="270" y="218" width="4" height="4" fill="#00ffbd"/><rect x="273" y="218" width="4" height="4" fill="#00ffbb"/><rect x="276" y="218" width="4" height="4" fill="#00ffb8"/><rect x="279" y="218" width="4" height="4" fill="#00ffb5"/><rect x="282" y="218" width="4" height="4" fill="#00ffb2"/><rect x="285" y="218" width="4" height="4" fill="#00ffaf"/><rect x="288" y="218" width="4" height="4" fill="#00ffab"/><rect x="291" y="218" width="4" height="4" fill="#00ffa7"/><rect x="294" y="218" width="4" height="4" fill="#00ffa3"/><rect x="297" y="218" width="4" height="4" fill="#00ff9e"/><rect x="300" y="218" width="4" height="4" fill="#00ff98"/><rect x="303" y="218" width="4" height="4" fill="#00ff92"/><rect x="306" y="218" width="4" height="4" fill="#00ff8a"/><rect x="309" y="218" width="4" height="4" fill="#00ff81"/><rect x="312" y="218" width="4" height="4" fill="#00ff77"/><rect x="315" y="218" width="4" height="4" fill="#00ff69"/><rect x="318" y="218" width="4" height="4" fill="#00ff58"/><rect x="321" y="218" width="4" height="4" fill="#00ff3d"/><rect x="324" y="218" width="4" height="4" fill="#17ff00"/><rect x="264" y="221" width="4" height="4" fill="#00ffc3"/><rect x="267" y="221" width="4" height="4" fill="#00ffc2"/><rect x="270" y="221" width="4" height="4" fill="#00ffbf"/><rect x="273" y="221" width="4" height="4" fill="#00ffbd"/><rect x="276" y="221" width="4" height="4" fill="#00ffbb"/><rect x="279" y="221" width="4" height="4" fill="#00ffb8"/><rect x="282" y="221" width="4" height="4" fill="#00ffb5"/><rect x="285" y="221" width="4" height="4" fill="#00ffb2"/><rect x="288" y="221" width="4" height="4" fill="#00ffae"/><rect x="291" y="221" width="4" height="4" fill="#00ffaa"/><rect x="294" y="221" width="4" height="4" fill="#00ffa5"/><rect x="297" y="221" width="4" height="4" fill="#00ffa1"/><rect x="300" y="221" width="4" height="4" fill="#00ff9b"/><rect x="303" y="221" width="4" height="4" fill="#00ff95"/><rect x="306" y="221" width="4" height="4" fill="#00ff8d"/><rect x="309" y="221" width="4" height="4" fill="#00ff84"/><rect x="312" y="221" width="4" height="4" fill="#00ff7a"/><rect x="315" y="221" width="4" height="4" fill="#00ff6d"/><rect x="318" y="221" width="4" height="4" fill="#00ff5b"/><rect x="321" y="221" width="4" height="4" fill="#00ff41"/><rect x="324" y="221" width="4" height="4" fill="#10ff00"/><rect x="327" y="221" width="4" height="4" fill="#49ff00"/><rect x="330" y="221" width="4" height="4" fill="#64ff00"/><rect x="264" y="224" width="4" height="4" fill="#00ffc6"/><rect x="267" y="224" width="4" height="4" fill="#00ffc4"/><rect x="270" y="224" width="4" height="4" fill="#00ffc2"/><rect x="273" y="224" width="4" height="4" fill="#00ffc0"/><rect x="276" y="224" width="4" height="4" fill="#00ffbd"/><rect x="279" y="224" width="4" height="4" fill="#00ffba"/><rect x="282" y="224" width="4" height="4" fill="#00ffb7"/><rect x="285" y="224" width="4" height="4" fill="#00ffb4"/><rect x="288" y="224" width="4" height="4" fill="#00ffb1"/><rect x="291" y="224" width="4" height="4" fill="#00ffad"/><rect x="294" y="224" width="4" height="4" fill="#00ffa8"/><rect x="297" y="224" width="4" height="4" fill="#00ffa4"/><rect x="300" y="224" width="4" height="4" fill="#00ff9e"/><rect x="303" y="224" width="4" height="4" fill="#00ff98"/><rect x="306" y="224" width="4" height="4" fill="#00ff90"/><rect x="309" y="224" width="4" height="4" fill="#00ff88"/><rect x="312" y="224" width="4" height="4" fill="#00ff7d"/><rect x="315" y="224" width="4" height="4" fill="#00ff70"/><rect x="318" y="224" width="4" height="4" fill="#00ff5f"/><rect x="321" y="224" width="4" height="4" fill="#00ff45"/><rect x="324" y="224" width="4" height="4" fill="#05ff00"/><rect x="327" y="224" width="4" height="4" fill="#49ff00"/><rect x="330" y="224" width="4" height="4" fill="#66ff00"/><rect x="333" y="224" width="4" height="4" fill="#7bff00"/><rect x="264" y="227" width="4" height="4" fill="#00ffc8"/><rect x="267" y="227" width="4" height="4" fill="#00ffc6"/><rect x="270" y="227" width="4" height="4" fill="#00ffc4"/><rect x="273" y="227" width="4" height="4" fill="#00ffc2"/><rect x="276" y="227" width="4" height="4" fill="#00ffc0"/><rect x="279" y="227" width="4" height="4" fill="#00ffbd"/><rect x="282" y="227" width="4" height="4" fill="#00ffba"/><rect x="285" y="227" width="4" height="4" fill="#00ffb7"/><rect x="288" y="227" width="4" height="4" fill="#00ffb4"/><rect x="291" y="227" width="4" height="4" fill="#00ffb0"/><rect x="294" y="227" width="4" height="4" fill="#00ffab"/><rect x="297" y="227" width="4" height="4" fill="#00ffa7"/><rect x="300" y="227" width="4" height="4" fill="#00ffa1"/><rect x="303" y="227" width="4" height="4" fill="#00ff9b"/><rect x="306" y="227" width="4" height="4" fill="#00ff94"/><rect x="309" y="227" width="4" height="4" fill="#00ff8b"/><rect x="312" y="227" width="4" height="4" fill="#00ff81"/><rect x="315" y="227" width="4" height="4" fill="#00ff74"/><rect x="318" y="227" width="4" height="4" fill="#00ff63"/><rect x="321" y="227" width="4" height="4" fill="#00ff49"/><rect x="324" y="227" width="4" height="4" fill="#00ff0a"/><rect x="327" y="227" width="4" height="4" fill="#49ff00"/><rect x="330" y="227" width="4" height="4" fill="#67ff00"/><rect x="333" y="227" width="4" height="4" fill="#7dff00"/><rect x="336" y="227" width="4" height="4" fill="#8fff00"/><rect x="339" y="227" width="4" height="4" fill="#9eff00"/><rect x="264" y="230" width="4" height="4" fill="#00ffca"/><rect x="267" y="230" width="4" height="4" fill="#00ffc9"/><rect x="270" y="230" width="4" height="4" fill="#00ffc7"/><rect x="273" y="230" width="4" height="4" fill="#00ffc5"/><rect x="276" y="230" width="4" height="4" fill="#00ffc2"/><rect x="279" y="230" width="4" height="4" fill="#00ffc0"/><rect x="282" y="230" width="4" height="4" fill="#00ffbd"/><rect x="285" y="230" width="4" height="4" fill="#00ffba"/><rect x="288" y="230" width="4" height="4" fill="#00ffb7"/><rect x="291" y="230" width="4" height="4" fill="#00ffb3"/><rect x="294" y="230" width="4" height="4" fill="#00ffaf"/><rect x="297" y="230" width="4" height="4" fill="#00ffaa"/><rect x="300" y="230" width="4" height="4" fill="#00ffa5"/><rect x="303" y="230" width="4" height="4" fill="#00ff9e"/><rect x="306" y="230" width="4" height="4" fill="#00ff97"/><rect x="309" y="230" width="4" height="4" fill="#00ff8f"/><rect x="312" y="230" width="4" height="4" fill="#00ff84"/><rect x="315" y="230" width="4" height="4" fill="#00ff78"/><rect x="318" y="230" width="4" height="4" fill="#00ff67"/><rect x="321" y="230" width="4" height="4" fill="#00ff4e"/><rect x="324" y="230" width="4" height="4" fill="#00ff16"/><rect x="327" y="230" width="4" height="4" fill="#49ff00"/><rect x="330" y="230" width="4" height="4" fill="#68ff00"/><rect x="333" y="230" width="4" height="4" fill="#7fff00"/><rect x="336" y="230" width="4" height="4" fill="#92ff00"/><rect x="339" y="230" width="4" height="4" fill="#a2ff00"/><rect x="342" y="230" width="4" height="4" fill="#b0ff00"/><rect x="264" y="233" width="4" height="4" fill="#00ffcd"/><rect x="267" y="233" width="4" height="4" fill="#00ffcc"/><rect x="270" y="233" width="4" height="4" fill="#00ffca"/><rect x="273" y="233" width="4" height="4" fill="#00ffc8"/><rect x="276" y="233" width="4" height="4" fill="#00ffc5"/><rect x="279" y="233" width="4" height="4" fill="#00ffc3"/><rect x="282" y="233" width="4" height="4" fill="#00ffc0"/><rect x="285" y="233" width="4" height="4" fill="#00ffbd"/><rect x="288" y="233" width="4" height="4" fill="#00ffba"/><rect x="291" y="233" width="4" height="4" fill="#00ffb6"/><rect x="294" y="233" width="4" height="4" fill="#00ffb2"/><rect x="297" y="233" width="4" height="4" fill="#00ffad"/><rect x="300" y="233" width="4" height="4" fill="#00ffa8"/><rect x="303" y="233" width="4" height="4" fill="#00ffa2"/><rect x="306" y="233" width="4" height="4" fill="#00ff9b"/><rect x="309" y="233" width="4" height="4" fill="#00ff93"/><rect x="312" y="233" width="4" height="4" fill="#00ff88"/><rect x="315" y="233" width="4" height="4" fill="#00ff7c"/><rect x="318" y="233" width="4" height="4" fill="#00ff6b"/><rect x="321" y="233" width="4" height="4" fill="#00ff52"/><rect x="324" y="233" width="4" height="4" fill="#00ff1f"/><rect x="327" y="233" width="4" height="4" fill="#48ff00"/><rect x="330" y="233" width="4" height="4" fill="#6aff00"/><rect x="333" y="233" width="4" height="4" fill="#82ff00"/><rect x="336" y="233" width="4" height="4" fill="#95ff00"/><rect x="339" y="233" width="4" height="4" fill="#a6ff00"/><rect x="342" y="233" width="4" height="4" fill="#b5ff00"/><rect x="345" y="233" width="4" height="4" fill="#c2ff00"/><rect x="264" y="236" width="4" height="4" fill="#00ffd0"/><rect x="267" y="236" width="4" height="4" fill="#00ffce"/><rect x="270" y="236" width="4" height="4" fill="#00ffcc"/><rect x="273" y="236" width="4" height="4" fill="#00ffca"/><rect x="276" y="236" width="4" height="4" fill="#00ffc8"/><rect x="279" y="236" width="4" height="4" fill="#00ffc6"/><rect x="282" y="236" width="4" height="4" fill="#00ffc3"/><rect x="285" y="236" width="4" height="4" fill="#00ffc0"/><rect x="288" y="236" width="4" height="4" fill="#00ffbd"/><rect x="291" y="236" width="4" height="4" fill="#00ffb9"/><rect x="294" y="236" width="4" height="4" fill="#00ffb5"/><rect x="297" y="236" width="4" height="4" fill="#00ffb1"/><rect x="300" y="236" width="4" height="4" fill="#00ffac"/><rect x="303" y="236" width="4" height="4" fill="#00ffa6"/><rect x="306" y="236" width="4" height="4" fill="#00ff9f"/><rect x="309" y="236" width="4" height="4" fill="#00ff97"/><rect x="312" y="236" width="4" height="4" fill="#00ff8d"/><rect x="315" y="236" width="4" height="4" fill="#00ff80"/><rect x="318" y="236" width="4" height="4" fill="#00ff6f"/><rect x="321" y="236" width="4" height="4" fill="#00ff57"/><rect x="324" y="236" width="4" height="4" fill="#00ff26"/><rect x="327" y="236" width="4" height="4" fill="#48ff00"/><rect x="330" y="236" width="4" height="4" fill="#6cff00"/><rect x="333" y="236" width="4" height="4" fill="#85ff00"/><rect x="336" y="236" width="4" height="4" fill="#99ff00"/><rect x="339" y="236" width="4" height="4" fill="#abff00"/><rect x="342" y="236" width="4" height="4" fill="#baff00"/><rect x="345" y="236" width="4" height="4" fill="#c8ff00"/><rect x="348" y="236" width="4" height="4" fill="#d4ff00"/><rect x="351" y="236" width="4" height="4" fill="#e0ff00"/><rect x="264" y="239" width="4" height="4" fill="#00ffd2"/><rect x="267" y="239" width="4" height="4" fill="#00ffd1"/><rect x="270" y="239" width="4" height="4" fill="#00ffcf"/><rect x="273" y="239" width="4" height="4" fill="#00ffcd"/><rect x="276" y="239" width="4" height="4" fill="#00ffcb"/><rect x="279" y="239" width="4" height="4" fill="#00ffc9"/><rect x="282" y="239" width="4" height="4" fill="#00ffc6"/><rect x="285" y="239" width="4" height="4" fill="#00ffc4"/><rect x="288" y="239" width="4" height="4" fill="#00ffc1"/><rect x="291" y="239" width="4" height="4" fill="#00ffbd"/><rect x="294" y="239" width="4" height="4" fill="#00ffb9"/><rect x="297" y="239" width="4" height="4" fill="#00ffb5"/><rect x="300" y="239" width="4" height="4" fill="#00ffb0"/><rect x="303" y="239" width="4" height="4" fill="#00ffaa"/><rect x="306" y="239" width="4" height="4" fill="#00ffa3"/><rect x="309" y="239" width="4" height="4" fill="#00ff9b"/><rect x="312" y="239" width="4" height="4" fill="#00ff91"/><rect x="315" y="239" width="4" height="4" fill="#00ff85"/><rect x="318" y="239" width="4" height="4" fill="#00ff74"/><rect x="321" y="239" width="4" height="4" fill="#00ff5c"/><rect x="324" y="239" width="4" height="4" fill="#1bff37"/><rect x="327" y="239" width="4" height="4" fill="#51ff26"/><rect x="330" y="239" width="4" height="4" fill="#6eff01"/><rect x="333" y="239" width="4" height="4" fill="#89ff00"/><rect x="336" y="239" width="4" height="4" fill="#9eff00"/><rect x="339" y="239" width="4" height="4" fill="#b0ff00"/><rect x="342" y="239" width="4" height="4" fill="#c0ff00"/><rect x="345" y="239" width="4" height="4" fill="#ceff00"/><rect x="348" y="239" width="4" height="4" fill="#dbff00"/><rect x="351" y="239" width="4" height="4" fill="#e7ff00"/><rect x="354" y="239" width="4" height="4" fill="#f3ff00"/><rect x="264" y="242" width="4" height="4" fill="#00ffd5"/><rect x="267" y="242" width="4" height="4" fill="#00ffd4"/><rect x="270" y="242" width="4" height="4" fill="#00ffd2"/><rect x="273" y="242" width="4" height="4" fill="#00ffd1"/><rect x="276" y="242" width="4" height="4" fill="#00ffce"/><rect x="279" y="242" width="4" height="4" fill="#00ffcc"/><rect x="282" y="242" width="4" height="4" fill="#00ffca"/><rect x="285" y="242" width="4" height="4" fill="#00ffc7"/><rect x="288" y="242" width="4" height="4" fill="#00ffc4"/><rect x="291" y="242" width="4" height="4" fill="#00ffc1"/><rect x="294" y="242" width="4" height="4" fill="#00ffbd"/><rect x="297" y="242" width="4" height="4" fill="#00ffb9"/><rect x="300" y="242" width="4" height="4" fill="#00ffb4"/><rect x="303" y="242" width="4" height="4" fill="#00ffae"/><rect x="306" y="242" width="4" height="4" fill="#00ffa8"/><rect x="309" y="242" width="4" height="4" fill="#00ffa0"/><rect x="312" y="242" width="4" height="4" fill="#00ff96"/><rect x="315" y="242" width="4" height="4" fill="#00ff89"/><rect x="318" y="242" width="4" height="4" fill="#00ff79"/><rect x="321" y="242" width="4" height="4" fill="#00ff61"/><rect x="324" y="242" width="4" height="4" fill="#38ff4d"/><rect x="327" y="242" width="4" height="4" fill="#5fff42"/><rect x="330" y="242" width="4" height="4" fill="#7aff35"/><rect x="333" y="242" width="4" height="4" fill="#8fff21"/><rect x="336" y="242" width="4" height="4" fill="#a3ff00"/><rect x="339" y="242" width="4" height="4" fill="#b6ff00"/><rect x="342" y="242" width="4" height="4" fill="#c6ff00"/><rect x="345" y="242" width="4" height="4" fill="#d5ff00"/><rect x="348" y="242" width="4" height="4" fill="#e3ff00"/><rect x="351" y="242" width="4" height="4" fill="#efff00"/><rect x="354" y="242" width="4" height="4" fill="#fbff00"/><rect x="357" y="242" width="4" height="4" fill="#fff800"/><rect x="264" y="245" width="4" height="4" fill="#00ffd8"/><rect x="267" y="245" width="4" height="4" fill="#00ffd7"/><rect x="270" y="245" width="4" height="4" fill="#00ffd6"/><rect x="273" y="245" width="4" height="4" fill="#00ffd4"/><rect x="276" y="245" width="4" height="4" fill="#00ffd2"/><rect x="279" y="245" width="4" height="4" fill="#00ffd0"/><rect x="282" y="245" width="4" height="4" fill="#00ffcd"/><rect x="285" y="245" width="4" height="4" fill="#00ffcb"/><rect x="288" y="245" width="4" height="4" fill="#00ffc8"/><rect x="291" y="245" width="4" height="4" fill="#00ffc5"/><rect x="294" y="245" width="4" height="4" fill="#00ffc1"/><rect x="297" y="245" width="4" height="4" fill="#00ffbd"/><rect x="300" y="245" width="4" height="4" fill="#00ffb8"/><rect x="303" y="245" width="4" height="4" fill="#00ffb3"/><rect x="306" y="245" width="4" height="4" fill="#00ffac"/><rect x="309" y="245" width="4" height="4" fill="#00ffa5"/><rect x="312" y="245" width="4" height="4" fill="#00ff9b"/><rect x="315" y="245" width="4" height="4" fill="#00ff8f"/><rect x="318" y="245" width="4" height="4" fill="#00ff7f"/><rect x="321" y="245" width="4" height="4" fill="#00ff67"/><rect x="324" y="245" width="4" height="4" fill="#4bff5e"/><rect x="327" y="245" width="4" height="4" fill="#6cff56"/><rect x="330" y="245" width="4" height="4" fill="#85ff4d"/><rect x="333" y="245" width="4" height="4" fill="#9aff42"/><rect x="336" y="245" width="4" height="4" fill="#acff33"/><rect x="339" y="245" width="4" height="4" fill="#bdff1b"/><rect x="342" y="245" width="4" height="4" fill="#ceff00"/><rect x="345" y="245" width="4" height="4" fill="#ddff00"/><rect x="348" y="245" width="4" height="4" fill="#ebff00"/><rect x="351" y="245" width="4" height="4" fill="#f9ff00"/><rect x="354" y="245" width="4" height="4" fill="#fff900"/><rect x="357" y="245" width="4" height="4" fill="#ffee00"/><rect x="360" y="245" width="4" height="4" fill="#ffe500"/><rect x="363" y="245" width="4" height="4" fill="#ffdd00"/><rect x="264" y="248" width="4" height="4" fill="#00ffdb"/><rect x="267" y="248" width="4" height="4" fill="#00ffda"/><rect x="270" y="248" width="4" height="4" fill="#00ffd9"/><rect x="273" y="248" width="4" height="4" fill="#00ffd7"/><rect x="276" y="248" width="4" height="4" fill="#00ffd5"/><rect x="279" y="248" width="4" height="4" fill="#00ffd3"/><rect x="282" y="248" width="4" height="4" fill="#00ffd1"/><rect x="285" y="248" width="4" height="4" fill="#00ffcf"/><rect x="288" y="248" width="4" height="4" fill="#00ffcc"/><rect x="291" y="248" width="4" height="4" fill="#00ffc9"/><rect x="294" y="248" width="4" height="4" fill="#00ffc5"/><rect x="297" y="248" width="4" height="4" fill="#00ffc1"/><rect x="300" y="248" width="4" height="4" fill="#00ffbd"/><rect x="303" y="248" width="4" height="4" fill="#00ffb8"/><rect x="306" y="248" width="4" height="4" fill="#00ffb1"/><rect x="309" y="248" width="4" height="4" fill="#00ffaa"/><rect x="312" y="248" width="4" height="4" fill="#00ffa1"/><rect x="315" y="248" width="4" height="4" fill="#00ff95"/><rect x="318" y="248" width="4" height="4" fill="#00ff85"/><rect x="321" y="248" width="4" height="4" fill="#2bff74"/><rect x="324" y="248" width="4" height="4" fill="#5bff6e"/><rect x="327" y="248" width="4" height="4" fill="#79ff68"/><rect x="330" y="248" width="4" height="4" fill="#90ff60"/><rect x="333" y="248" width="4" height="4" fill="#a5ff58"/><rect x="336" y="248" width="4" height="4" fill="#b7ff4e"/><rect x="339" y="248" width="4" height="4" fill="#c8ff41"/><rect x="342" y="248" width="4" height="4" fill="#d7ff30"/><rect x="345" y="248" width="4" height="4" fill="#e7ff0f"/><rect x="348" y="248" width="4" height="4" fill="#f6ff00"/><rect x="351" y="248" width="4" height="4" fill="#fffb00"/><rect x="354" y="248" width="4" height="4" fill="#ffef00"/><rect x="357" y="248" width="4" height="4" fill="#ffe400"/><rect x="360" y="248" width="4" height="4" fill="#ffdb00"/><rect x="363" y="248" width="4" height="4" fill="#ffd300"/><rect x="366" y="248" width="4" height="4" fill="#ffcc00"/><rect x="264" y="251" width="4" height="4" fill="#00ffdf"/><rect x="267" y="251" width="4" height="4" fill="#00ffde"/><rect x="270" y="251" width="4" height="4" fill="#00ffdc"/><rect x="273" y="251" width="4" height="4" fill="#00ffdb"/><rect x="276" y="251" width="4" height="4" fill="#00ffd9"/><rect x="279" y="251" width="4" height="4" fill="#00ffd7"/><rect x="282" y="251" width="4" height="4" fill="#00ffd5"/><rect x="285" y="251" width="4" height="4" fill="#00ffd3"/><rect x="288" y="251" width="4" height="4" fill="#00ffd0"/><rect x="291" y="251" width="4" height="4" fill="#00ffcd"/><rect x="294" y="251" width="4" height="4" fill="#00ffca"/><rect x="297" y="251" width="4" height="4" fill="#00ffc6"/><rect x="300" y="251" width="4" height="4" fill="#00ffc2"/><rect x="303" y="251" width="4" height="4" fill="#00ffbd"/><rect x="306" y="251" width="4" height="4" fill="#00ffb7"/><rect x="309" y="251" width="4" height="4" fill="#00ffb0"/><rect x="312" y="251" width="4" height="4" fill="#00ffa7"/><rect x="315" y="251" width="4" height="4" fill="#00ff9b"/><rect x="318" y="251" width="4" height="4" fill="#00ff8b"/><rect x="321" y="251" width="4" height="4" fill="#44ff82"/><rect x="324" y="251" width="4" height="4" fill="#6aff7d"/><rect x="327" y="251" width="4" height="4" fill="#85ff78"/><rect x="330" y="251" width="4" height="4" fill="#9cff72"/><rect x="333" y="251" width="4" height="4" fill="#b0ff6b"/><rect x="336" y="251" width="4" height="4" fill="#c2ff63"/><rect x="339" y="251" width="4" height="4" fill="#d3ff5a"/><rect x="342" y="251" width="4" height="4" fill="#e3ff4f"/><rect x="345" y="251" width="4" height="4" fill="#f2ff41"/><rect x="348" y="251" width="4" height="4" fill="#fffd2c"/><rect x="351" y="251" width="4" height="4" fill="#ffef00"/><rect x="354" y="251" width="4" height="4" fill="#ffe300"/><rect x="357" y="251" width="4" height="4" fill="#ffd900"/><rect x="360" y="251" width="4" height="4" fill="#ffd100"/><rect x="363" y="251" width="4" height="4" fill="#ffc900"/><rect x="366" y="251" width="4" height="4" fill="#ffc200"/><rect x="369" y="251" width="4" height="4" fill="#ffbc00"/><rect x="372" y="251" width="4" height="4" fill="#ffb600"/><rect x="264" y="254" width="4" height="4" fill="#00ffe2"/><rect x="267" y="254" width="4" height="4" fill="#00ffe1"/><rect x="270" y="254" width="4" height="4" fill="#00ffe0"/><rect x="273" y="254" width="4" height="4" fill="#00ffde"/><rect x="276" y="254" width="4" height="4" fill="#00ffdd"/><rect x="279" y="254" width="4" height="4" fill="#00ffdb"/><rect x="282" y="254" width="4" height="4" fill="#00ffd9"/><rect x="285" y="254" width="4" height="4" fill="#00ffd7"/><rect x="288" y="254" width="4" height="4" fill="#00ffd5"/><rect x="291" y="254" width="4" height="4" fill="#00ffd2"/><rect x="294" y="254" width="4" height="4" fill="#00ffcf"/><rect x="297" y="254" width="4" height="4" fill="#00ffcb"/><rect x="300" y="254" width="4" height="4" fill="#00ffc7"/><rect x="303" y="254" width="4" height="4" fill="#00ffc3"/><rect x="306" y="254" width="4" height="4" fill="#00ffbd"/><rect x="309" y="254" width="4" height="4" fill="#00ffb6"/><rect x="312" y="254" width="4" height="4" fill="#00ffad"/><rect x="315" y="254" width="4" height="4" fill="#00ffa2"/><rect x="318" y="254" width="4" height="4" fill="#11ff94"/><rect x="321" y="254" width="4" height="4" fill="#57ff90"/><rect x="324" y="254" width="4" height="4" fill="#78ff8b"/><rect x="327" y="254" width="4" height="4" fill="#92ff87"/><rect x="330" y="254" width="4" height="4" fill="#a8ff82"/><rect x="333" y="254" width="4" height="4" fill="#bbff7c"/><rect x="336" y="254" width="4" height="4" fill="#cdff76"/><rect x="339" y="254" width="4" height="4" fill="#dfff6e"/><rect x="342" y="254" width="4" height="4" fill="#efff66"/><rect x="345" y="254" width="4" height="4" fill="#ffff5c"/><rect x="348" y="254" width="4" height="4" fill="#fff04b"/><rect x="351" y="254" width="4" height="4" fill="#ffe338"/><rect x="354" y="254" width="4" height="4" fill="#ffd820"/><rect x="357" y="254" width="4" height="4" fill="#ffce00"/><rect x="360" y="254" width="4" height="4" fill="#ffc500"/><rect x="363" y="254" width="4" height="4" fill="#ffbe00"/><rect x="366" y="254" width="4" height="4" fill="#ffb800"/><rect x="369" y="254" width="4" height="4" fill="#ffb200"/><rect x="372" y="254" width="4" height="4" fill="#ffac00"/><rect x="375" y="254" width="4" height="4" fill="#ffa700"/><rect x="267" y="257" width="4" height="4" fill="#00ffe5"/><rect x="270" y="257" width="4" height="4" fill="#00ffe3"/><rect x="273" y="257" width="4" height="4" fill="#00ffe2"/><rect x="276" y="257" width="4" height="4" fill="#00ffe1"/><rect x="279" y="257" width="4" height="4" fill="#00ffdf"/><rect x="282" y="257" width="4" height="4" fill="#00ffdd"/><rect x="285" y="257" width="4" height="4" fill="#00ffdc"/><rect x="288" y="257" width="4" height="4" fill="#00ffd9"/><rect x="291" y="257" width="4" height="4" fill="#00ffd7"/><rect x="294" y="257" width="4" height="4" fill="#00ffd4"/><rect x="297" y="257" width="4" height="4" fill="#00ffd1"/><rect x="300" y="257" width="4" height="4" fill="#00ffcd"/><rect x="303" y="257" width="4" height="4" fill="#00ffc9"/><rect x="306" y="257" width="4" height="4" fill="#00ffc3"/><rect x="309" y="257" width="4" height="4" fill="#00ffbd"/><rect x="312" y="257" width="4" height="4" fill="#00ffb5"/><rect x="315" y="257" width="4" height="4" fill="#00ffaa"/><rect x="318" y="257" width="4" height="4" fill="#39ffa1"/><rect x="321" y="257" width="4" height="4" fill="#67ff9d"/><rect x="324" y="257" width="4" height="4" fill="#86ff9a"/><rect x="327" y="257" width="4" height="4" fill="#9eff96"/><rect x="330" y="257" width="4" height="4" fill="#b4ff91"/><rect x="333" y="257" width="4" height="4" fill="#c7ff8d"/><rect x="336" y="257" width="4" height="4" fill="#daff87"/><rect x="339" y="257" width="4" height="4" fill="#ebff81"/><rect x="342" y="257" width="4" height="4" fill="#fcff7b"/><rect x="345" y="257" width="4" height="4" fill="#fff26d"/><rect x="348" y="257" width="4" height="4" fill="#ffe45e"/><rect x="351" y="257" width="4" height="4" fill="#ffd84f"/><rect x="354" y="257" width="4" height="4" fill="#ffcd40"/><rect x="357" y="257" width="4" height="4" fill="#ffc32e"/><rect x="360" y="257" width="4" height="4" fill="#ffba14"/><rect x="363" y="257" width="4" height="4" fill="#ffb200"/><rect x="366" y="257" width="4" height="4" fill="#ffac00"/><rect x="369" y="257" width="4" height="4" fill="#ffa600"/><rect x="372" y="257" width="4" height="4" fill="#ffa100"/><rect x="375" y="257" width="4" height="4" fill="#ff9d00"/><rect x="378" y="257" width="4" height="4" fill="#ff9800"/><rect x="267" y="260" width="4" height="4" fill="#00ffe8"/><rect x="270" y="260" width="4" height="4" fill="#00ffe7"/><rect x="273" y="260" width="4" height="4" fill="#00ffe6"/><rect x="276" y="260" width="4" height="4" fill="#00ffe5"/><rect x="279" y="260" width="4" height="4" fill="#00ffe4"/><rect x="282" y="260" width="4" height="4" fill="#00ffe2"/><rect x="285" y="260" width="4" height="4" fill="#00ffe0"/><rect x="288" y="260" width="4" height="4" fill="#00ffde"/><rect x="291" y="260" width="4" height="4" fill="#00ffdc"/><rect x="294" y="260" width="4" height="4" fill="#00ffda"/><rect x="297" y="260" width="4" height="4" fill="#00ffd7"/><rect x="300" y="260" width="4" height="4" fill="#00ffd3"/><rect x="303" y="260" width="4" height="4" fill="#00ffcf"/><rect x="306" y="260" width="4" height="4" fill="#00ffca"/><rect x="309" y="260" width="4" height="4" fill="#00ffc4"/><rect x="312" y="260" width="4" height="4" fill="#00ffbd"/><rect x="315" y="260" width="4" height="4" fill="#00ffb3"/><rect x="318" y="260" width="4" height="4" fill="#50ffae"/><rect x="321" y="260" width="4" height="4" fill="#77ffab"/><rect x="324" y="260" width="4" height="4" fill="#93ffa8"/><rect x="327" y="260" width="4" height="4" fill="#abffa5"/><rect x="330" y="260" width="4" height="4" fill="#c1ffa1"/><rect x="333" y="260" width="4" height="4" fill="#d4ff9d"/><rect x="336" y="260" width="4" height="4" fill="#e7ff99"/><rect x="339" y="260" width="4" height="4" fill="#f9ff94"/><rect x="342" y="260" width="4" height="4" fill="#fff488"/><rect x="345" y="260" width="4" height="4" fill="#ffe57a"/><rect x="348" y="260" width="4" height="4" fill="#ffd86c"/><rect x="351" y="260" width="4" height="4" fill="#ffcd5f"/><rect x="354" y="260" width="4" height="4" fill="#ffc253"/><rect x="357" y="260" width="4" height="4" fill="#ffb845"/><rect x="360" y="260" width="4" height="4" fill="#ffaf37"/><rect x="363" y="260" width="4" height="4" fill="#ffa725"/><rect x="366" y="260" width="4" height="4" fill="#ff9f05"/><rect x="369" y="260" width="4" height="4" fill="#ff9a00"/><rect x="372" y="260" width="4" height="4" fill="#ff9500"/><rect x="375" y="260" width="4" height="4" fill="#ff9100"/><rect x="378" y="260" width="4" height="4" fill="#ff8d00"/><rect x="381" y="260" width="4" height="4" fill="#ff8900"/><rect x="384" y="260" width="4" height="4" fill="#ff8600"/><rect x="267" y="263" width="4" height="4" fill="#00ffec"/><rect x="270" y="263" width="4" height="4" fill="#00ffeb"/><rect x="273" y="263" width="4" height="4" fill="#00ffea"/><rect x="276" y="263" width="4" height="4" fill="#00ffe9"/><rect x="279" y="263" width="4" height="4" fill="#00ffe8"/><rect x="282" y="263" width="4" height="4" fill="#00ffe7"/><rect x="285" y="263" width="4" height="4" fill="#00ffe5"/><rect x="288" y="263" width="4" height="4" fill="#00ffe4"/><rect x="291" y="263" width="4" height="4" fill="#00ffe2"/><rect x="294" y="263" width="4" height="4" fill="#00ffe0"/><rect x="297" y="263" width="4" height="4" fill="#00ffdd"/><rect x="300" y="263" width="4" height="4" fill="#00ffda"/><rect x="303" y="263" width="4" height="4" fill="#00ffd7"/><rect x="306" y="263" width="4" height="4" fill="#00ffd2"/><rect x="309" y="263" width="4" height="4" fill="#00ffcd"/><rect x="312" y="263" width="4" height="4" fill="#00ffc6"/><rect x="315" y="263" width="4" height="4" fill="#28ffbe"/><rect x="318" y="263" width="4" height="4" fill="#64ffbc"/><rect x="321" y="263" width="4" height="4" fill="#86ffba"/><rect x="324" y="263" width="4" height="4" fill="#a1ffb7"/><rect x="327" y="263" width="4" height="4" fill="#b9ffb4"/><rect x="330" y="263" width="4" height="4" fill="#ceffb1"/><rect x="333" y="263" width="4" height="4" fill="#e2ffae"/><rect x="336" y="263" width="4" height="4" fill="#f5ffaa"/><rect x="339" y="263" width="4" height="4" fill="#fff7a0"/><rect x="342" y="263" width="4" height="4" fill="#ffe792"/><rect x="345" y="263" width="4" height="4" fill="#ffd984"/><rect x="348" y="263" width="4" height="4" fill="#ffcc78"/><rect x="351" y="263" width="4" height="4" fill="#ffc16c"/><rect x="354" y="263" width="4" height="4" fill="#ffb760"/><rect x="357" y="263" width="4" height="4" fill="#ffae55"/><rect x="360" y="263" width="4" height="4" fill="#ffa549"/><rect x="363" y="263" width="4" height="4" fill="#ff9d3d"/><rect x="366" y="263" width="4" height="4" fill="#ff952f"/><rect x="369" y="263" width="4" height="4" fill="#ff8e1d"/><rect x="372" y="263" width="4" height="4" fill="#ff8700"/><rect x="375" y="263" width="4" height="4" fill="#ff8300"/><rect x="378" y="263" width="4" height="4" fill="#ff8000"/><rect x="381" y="263" width="4" height="4" fill="#ff7c00"/><rect x="384" y="263" width="4" height="4" fill="#ff7900"/><rect x="387" y="263" width="4" height="4" fill="#ff7600"/><rect x="267" y="266" width="4" height="4" fill="#00fff0"/><rect x="270" y="266" width="4" height="4" fill="#00fff0"/><rect x="273" y="266" width="4" height="4" fill="#00ffef"/><rect x="276" y="266" width="4" height="4" fill="#00ffee"/><rect x="279" y="266" width="4" height="4" fill="#00ffed"/><rect x="282" y="266" width="4" height="4" fill="#00ffec"/><rect x="285" y="266" width="4" height="4" fill="#00ffeb"/><rect x="288" y="266" width="4" height="4" fill="#00ffea"/><rect x="291" y="266" width="4" height="4" fill="#00ffe8"/><rect x="294" y="266" width="4" height="4" fill="#00ffe6"/><rect x="297" y="266" width="4" height="4" fill="#00ffe4"/><rect x="300" y="266" width="4" height="4" fill="#00ffe2"/><rect x="303" y="266" width="4" height="4" fill="#00ffdf"/><rect x="306" y="266" width="4" height="4" fill="#00ffdb"/><rect x="309" y="266" width="4" height="4" fill="#00ffd6"/><rect x="312" y="266" width="4" height="4" fill="#00ffd0"/><rect x="315" y="266" width="4" height="4" fill="#48ffcc"/><rect x="318" y="266" width="4" height="4" fill="#76ffca"/><rect x="321" y="266" width="4" height="4" fill="#95ffc9"/><rect x="324" y="266" width="4" height="4" fill="#b0ffc6"/><rect x="327" y="266" width="4" height="4" fill="#c7ffc4"/><rect x="330" y="266" width="4" height="4" fill="#ddffc2"/><rect x="333" y="266" width="4" height="4" fill="#f1ffbf"/><rect x="336" y="266" width="4" height="4" fill="#fff9b8"/><rect x="339" y="266" width="4" height="4" fill="#ffe8a8"/><rect x="342" y="266" width="4" height="4" fill="#ffd99a"/><rect x="345" y="266" width="4" height="4" fill="#ffcc8d"/><rect x="348" y="266" width="4" height="4" fill="#ffc081"/><rect x="351" y="266" width="4" height="4" fill="#ffb576"/><rect x="354" y="266" width="4" height="4" fill="#ffac6c"/><rect x="357" y="266" width="4" height="4" fill="#ffa361"/><rect x="360" y="266" width="4" height="4" fill="#ff9a57"/><rect x="363" y="266" width="4" height="4" fill="#ff924d"/><rect x="366" y="266" width="4" height="4" fill="#ff8a42"/><rect x="369" y="266" width="4" height="4" fill="#ff8336"/><rect x="372" y="266" width="4" height="4" fill="#ff7c28"/><rect x="375" y="266" width="4" height="4" fill="#ff7514"/><rect x="378" y="266" width="4" height="4" fill="#ff7000"/><rect x="381" y="266" width="4" height="4" fill="#ff6d00"/><rect x="384" y="266" width="4" height="4" fill="#ff6b00"/><rect x="387" y="266" width="4" height="4" fill="#ff6800"/><rect x="390" y="266" width="4" height="4" fill="#ff6600"/><rect x="267" y="269" width="4" height="4" fill="#00fff5"/><rect x="270" y="269" width="4" height="4" fill="#00fff4"/><rect x="273" y="269" width="4" height="4" fill="#00fff4"/><rect x="276" y="269" width="4" height="4" fill="#00fff3"/><rect x="279" y="269" width="4" height="4" fill="#00fff2"/><rect x="282" y="269" width="4" height="4" fill="#00fff2"/><rect x="285" y="269" width="4" height="4" fill="#00fff1"/><rect x="288" y="269" width="4" height="4" fill="#00fff0"/><rect x="291" y="269" width="4" height="4" fill="#00ffef"/><rect x="294" y="269" width="4" height="4" fill="#00ffed"/><rect x="297" y="269" width="4" height="4" fill="#00ffec"/><rect x="300" y="269" width="4" height="4" fill="#00ffea"/><rect x="303" y="269" width="4" height="4" fill="#00ffe8"/><rect x="306" y="269" width="4" height="4" fill="#00ffe5"/><rect x="309" y="269" width="4" height="4" fill="#00ffe1"/><rect x="312" y="269" width="4" height="4" fill="#00ffdc"/><rect x="315" y="269" width="4" height="4" fill="#5fffdb"/><rect x="318" y="269" width="4" height="4" fill="#87ffda"/><rect x="321" y="269" width="4" height="4" fill="#a5ffd8"/><rect x="324" y="269" width="4" height="4" fill="#bfffd7"/><rect x="327" y="269" width="4" height="4" fill="#d7ffd5"/><rect x="330" y="269" width="4" height="4" fill="#edffd3"/><rect x="333" y="269" width="4" height="4" fill="#fffccf"/><rect x="336" y="269" width="4" height="4" fill="#ffeabe"/><rect x="339" y="269" width="4" height="4" fill="#ffdaaf"/><rect x="342" y="269" width="4" height="4" fill="#ffcca1"/><rect x="345" y="269" width="4" height="4" fill="#ffbf95"/><rect x="348" y="269" width="4" height="4" fill="#ffb48a"/><rect x="351" y="269" width="4" height="4" fill="#ffa97f"/><rect x="354" y="269" width="4" height="4" fill="#ffa075"/><rect x="357" y="269" width="4" height="4" fill="#ff976b"/><rect x="360" y="269" width="4" height="4" fill="#ff8f62"/><rect x="363" y="269" width="4" height="4" fill="#ff8759"/><rect x="366" y="269" width="4" height="4" fill="#ff7f4f"/><rect x="369" y="269" width="4" height="4" fill="#ff7845"/><rect x="372" y="269" width="4" height="4" fill="#ff713b"/><rect x="375" y="269" width="4" height="4" fill="#ff6a2f"/><rect x="378" y="269" width="4" height="4" fill="#ff6321"/><rect x="381" y="269" width="4" height="4" fill="#ff5c0a"/><rect x="384" y="269" width="4" height="4" fill="#ff5900"/><rect x="387" y="269" width="4" height="4" fill="#ff5700"/><rect x="390" y="269" width="4" height="4" fill="#ff5400"/><rect x="393" y="269" width="4" height="4" fill="#ff5300"/><rect x="396" y="269" width="4" height="4" fill="#ff5100"/><rect x="270" y="272" width="4" height="4" fill="#00fff9"/><rect x="273" y="272" width="4" height="4" fill="#00fff9"/><rect x="276" y="272" width="4" height="4" fill="#00fff8"/><rect x="279" y="272" width="4" height="4" fill="#00fff8"/><rect x="282" y="272" width="4" height="4" fill="#00fff7"/><rect x="285" y="272" width="4" height="4" fill="#00fff7"/><rect x="288" y="272" width="4" height="4" fill="#00fff6"/><rect x="291" y="272" width="4" height="4" fill="#00fff6"/><rect x="294" y="272" width="4" height="4" fill="#00fff5"/><rect x="297" y="272" width="4" height="4" fill="#00fff4"/><rect x="300" y="272" width="4" height="4" fill="#00fff3"/><rect x="303" y="272" width="4" height="4" fill="#00fff2"/><rect x="306" y="272" width="4" height="4" fill="#00fff0"/><rect x="309" y="272" width="4" height="4" fill="#00ffee"/><rect x="312" y="272" width="4" height="4" fill="#3bffec"/><rect x="315" y="272" width="4" height="4" fill="#74ffeb"/><rect x="318" y="272" width="4" height="4" fill="#98ffea"/><rect x="321" y="272" width="4" height="4" fill="#b5ffe9"/><rect x="324" y="272" width="4" height="4" fill="#cfffe8"/><rect x="327" y="272" width="4" height="4" fill="#e7ffe8"/><rect x="330" y="272" width="4" height="4" fill="#feffe7"/><rect x="333" y="272" width="4" height="4" fill="#ffebd4"/><rect x="336" y="272" width="4" height="4" fill="#ffdac3"/><rect x="339" y="272" width="4" height="4" fill="#ffcbb4"/><rect x="342" y="272" width="4" height="4" fill="#ffbea7"/><rect x="345" y="272" width="4" height="4" fill="#ffb29c"/><rect x="348" y="272" width="4" height="4" fill="#ffa791"/><rect x="351" y="272" width="4" height="4" fill="#ff9d87"/><rect x="354" y="272" width="4" height="4" fill="#ff947d"/><rect x="357" y="272" width="4" height="4" fill="#ff8b74"/><rect x="360" y="272" width="4" height="4" fill="#ff836b"/><rect x="363" y="272" width="4" height="4" fill="#ff7b62"/><rect x="366" y="272" width="4" height="4" fill="#ff735a"/><rect x="369" y="272" width="4" height="4" fill="#ff6c51"/><rect x="372" y="272" width="4" height="4" fill="#ff6449"/><rect x="375" y="272" width="4" height="4" fill="#ff5d3f"/><rect x="378" y="272" width="4" height="4" fill="#ff5635"/><rect x="381" y="272" width="4" height="4" fill="#ff4e2a"/><rect x="384" y="272" width="4" height="4" fill="#ff471b"/><rect x="387" y="272" width="4" height="4" fill="#ff3f00"/><rect x="390" y="272" width="4" height="4" fill="#ff3d00"/><rect x="393" y="272" width="4" height="4" fill="#ff3c00"/><rect x="396" y="272" width="4" height="4" fill="#ff3b00"/><rect x="399" y="272" width="4" height="4" fill="#ff3900"/><rect x="270" y="275" width="4" height="4" fill="#00fffe"/><rect x="273" y="275" width="4" height="4" fill="#00fffe"/><rect x="276" y="275" width="4" height="4" fill="#00fffe"/><rect x="279" y="275" width="4" height="4" fill="#00fffe"/><rect x="282" y="275" width="4" height="4" fill="#00fffe"/><rect x="285" y="275" width="4" height="4" fill="#00fffe"/><rect x="288" y="275" width="4" height="4" fill="#00fffe"/><rect x="291" y="275" width="4" height="4" fill="#00fffe"/><rect x="294" y="275" width="4" height="4" fill="#00fffd"/><rect x="297" y="275" width="4" height="4" fill="#00fffd"/><rect x="300" y="275" width="4" height="4" fill="#00fffd"/><rect x="303" y="275" width="4" height="4" fill="#00fffd"/><rect x="306" y="275" width="4" height="4" fill="#00fffd"/><rect x="309" y="275" width="4" height="4" fill="#00fffc"/><rect x="312" y="275" width="4" height="4" fill="#59fffc"/><rect x="315" y="275" width="4" height="4" fill="#87fffc"/><rect x="318" y="275" width="4" height="4" fill="#aafffc"/><rect x="321" y="275" width="4" height="4" fill="#c7fffc"/><rect x="324" y="275" width="4" height="4" fill="#e1fffc"/><rect x="327" y="275" width="4" height="4" fill="#fafffc"/><rect x="330" y="275" width="4" height="4" fill="#ffedea"/><rect x="333" y="275" width="4" height="4" fill="#ffdbd8"/><rect x="336" y="275" width="4" height="4" fill="#ffcac8"/><rect x="339" y="275" width="4" height="4" fill="#ffbcb9"/><rect x="342" y="275" width="4" height="4" fill="#ffb0ad"/><rect x="345" y="275" width="4" height="4" fill="#ffa4a2"/><rect x="348" y="275" width="4" height="4" fill="#ff9a97"/><rect x="351" y="275" width="4" height="4" fill="#ff908d"/><rect x="354" y="275" width="4" height="4" fill="#ff8784"/><rect x="357" y="275" width="4" height="4" fill="#ff7e7b"/><rect x="360" y="275" width="4" height="4" fill="#ff7673"/><rect x="363" y="275" width="4" height="4" fill="#ff6e6b"/><rect x="366" y="275" width="4" height="4" fill="#ff6663"/><rect x="369" y="275" width="4" height="4" fill="#ff5e5b"/><rect x="372" y="275" width="4" height="4" fill="#ff5653"/><rect x="375" y="275" width="4" height="4" fill="#ff4e4b"/><rect x="378" y="275" width="4" height="4" fill="#ff4643"/><rect x="381" y="275" width="4" height="4" fill="#ff3e3a"/><rect x="384" y="275" width="4" height="4" fill="#ff3430"/><rect x="387" y="275" width="4" height="4" fill="#ff2a24"/><rect x="390" y="275" width="4" height="4" fill="#ff1c14"/><rect x="393" y="275" width="4" height="4" fill="#ff0e00"/><rect x="396" y="275" width="4" height="4" fill="#ff0d00"/><rect x="399" y="275" width="4" height="4" fill="#ff0d00"/><rect x="402" y="275" width="4" height="4" fill="#ff0c00"/><rect x="405" y="275" width="4" height="4" fill="#ff0b00"/><rect x="270" y="278" width="4" height="4" fill="#00fbff"/><rect x="273" y="278" width="4" height="4" fill="#00faff"/><rect x="276" y="278" width="4" height="4" fill="#00faff"/><rect x="279" y="278" width="4" height="4" fill="#00faff"/><rect x="282" y="278" width="4" height="4" fill="#00faff"/><rect x="285" y="278" width="4" height="4" fill="#00f9ff"/><rect x="288" y="278" width="4" height="4" fill="#00f9ff"/><rect x="291" y="278" width="4" height="4" fill="#00f8ff"/><rect x="294" y="278" width="4" height="4" fill="#00f7ff"/><rect x="297" y="278" width="4" height="4" fill="#00f7ff"/><rect x="300" y="278" width="4" height="4" fill="#00f6ff"/><rect x="303" y="278" width="4" height="4" fill="#00f5ff"/><rect x="306" y="278" width="4" height="4" fill="#00f3ff"/><rect x="309" y="278" width="4" height="4" fill="#1ff1ff"/><rect x="312" y="278" width="4" height="4" fill="#6af1ff"/><rect x="315" y="278" width="4" height="4" fill="#92f0ff"/><rect x="318" y="278" width="4" height="4" fill="#b1efff"/><rect x="321" y="278" width="4" height="4" fill="#ccefff"/><rect x="324" y="278" width="4" height="4" fill="#e5eeff"/><rect x="327" y="278" width="4" height="4" fill="#fcedff"/><rect x="330" y="278" width="4" height="4" fill="#ffdbed"/><rect x="333" y="278" width="4" height="4" fill="#ffcadb"/><rect x="336" y="278" width="4" height="4" fill="#ffbbcc"/><rect x="339" y="278" width="4" height="4" fill="#ffadbe"/><rect x="342" y="278" width="4" height="4" fill="#ffa1b2"/><rect x="345" y="278" width="4" height="4" fill="#ff96a7"/><rect x="348" y="278" width="4" height="4" fill="#ff8c9d"/><rect x="351" y="278" width="4" height="4" fill="#ff8293"/><rect x="354" y="278" width="4" height="4" fill="#ff798a"/><rect x="357" y="278" width="4" height="4" fill="#ff7082"/><rect x="360" y="278" width="4" height="4" fill="#ff687a"/><rect x="363" y="278" width="4" height="4" fill="#ff5f72"/><rect x="366" y="278" width="4" height="4" fill="#ff576b"/><rect x="369" y="278" width="4" height="4" fill="#ff4e63"/><rect x="372" y="278" width="4" height="4" fill="#ff455c"/><rect x="375" y="278" width="4" height="4" fill="#ff3c55"/><rect x="378" y="278" width="4" height="4" fill="#ff324d"/><rect x="381" y="278" width="4" height="4" fill="#ff2546"/><rect x="384" y="278" width="4" height="4" fill="#ff153d"/><rect x="387" y="278" width="4" height="4" fill="#ff0037"/><rect x="390" y="278" width="4" height="4" fill="#ff0036"/><rect x="393" y="278" width="4" height="4" fill="#ff0035"/><rect x="396" y="278" width="4" height="4" fill="#ff0034"/><rect x="399" y="278" width="4" height="4" fill="#ff0032"/><rect x="402" y="278" width="4" height="4" fill="#ff0031"/><rect x="405" y="278" width="4" height="4" fill="#ff0031"/><rect x="408" y="278" width="4" height="4" fill="#ff0030"/><rect x="270" y="281" width="4" height="4" fill="#00f5ff"/><rect x="273" y="281" width="4" height="4" fill="#00f5ff"/><rect x="276" y="281" width="4" height="4" fill="#00f4ff"/><rect x="279" y="281" width="4" height="4" fill="#00f3ff"/><rect x="282" y="281" width="4" height="4" fill="#00f3ff"/><rect x="285" y="281" width="4" height="4" fill="#00f2ff"/><rect x="288" y="281" width="4" height="4" fill="#00f1ff"/><rect x="291" y="281" width="4" height="4" fill="#00efff"/><rect x="294" y="281" width="4" height="4" fill="#00eeff"/><rect x="297" y="281" width="4" height="4" fill="#00ecff"/><rect x="300" y="281" width="4" height="4" fill="#00eaff"/><rect x="303" y="281" width="4" height="4" fill="#00e7ff"/><rect x="306" y="281" width="4" height="4" fill="#00e4ff"/><rect x="309" y="281" width="4" height="4" fill="#44e1ff"/><rect x="312" y="281" width="4" height="4" fill="#77e0ff"/><rect x="315" y="281" width="4" height="4" fill="#99deff"/><rect x="318" y="281" width="4" height="4" fill="#b5ddff"/><rect x="321" y="281" width="4" height="4" fill="#cedcff"/><rect x="324" y="281" width="4" height="4" fill="#e5daff"/><rect x="327" y="281" width="4" height="4" fill="#fbd8ff"/><rect x="330" y="281" width="4" height="4" fill="#ffc9ef"/><rect x="333" y="281" width="4" height="4" fill="#ffb9de"/><rect x="336" y="281" width="4" height="4" fill="#ffaacf"/><rect x="339" y="281" width="4" height="4" fill="#ff9ec2"/><rect x="342" y="281" width="4" height="4" fill="#ff92b6"/><rect x="345" y="281" width="4" height="4" fill="#ff87ac"/><rect x="348" y="281" width="4" height="4" fill="#ff7da2"/><rect x="351" y="281" width="4" height="4" fill="#ff7399"/><rect x="354" y="281" width="4" height="4" fill="#ff6a90"/><rect x="357" y="281" width="4" height="4" fill="#ff6088"/><rect x="360" y="281" width="4" height="4" fill="#ff5780"/><rect x="363" y="281" width="4" height="4" fill="#ff4e79"/><rect x="366" y="281" width="4" height="4" fill="#ff4472"/><rect x="369" y="281" width="4" height="4" fill="#ff3a6b"/><rect x="372" y="281" width="4" height="4" fill="#ff2e64"/><rect x="375" y="281" width="4" height="4" fill="#ff205d"/><rect x="378" y="281" width="4" height="4" fill="#ff0856"/><rect x="381" y="281" width="4" height="4" fill="#ff0053"/><rect x="384" y="281" width="4" height="4" fill="#ff0051"/><rect x="387" y="281" width="4" height="4" fill="#ff004f"/><rect x="390" y="281" width="4" height="4" fill="#ff004d"/><rect x="393" y="281" width="4" height="4" fill="#ff004c"/><rect x="396" y="281" width="4" height="4" fill="#ff004a"/><rect x="399" y="281" width="4" height="4" fill="#ff0049"/><rect x="402" y="281" width="4" height="4" fill="#ff0048"/><rect x="405" y="281" width="4" height="4" fill="#ff0046"/><rect x="408" y="281" width="4" height="4" fill="#ff0045"/><rect x="411" y="281" width="4" height="4" fill="#ff0044"/><rect x="273" y="284" width="4" height="4" fill="#00efff"/><rect x="276" y="284" width="4" height="4" fill="#00eeff"/><rect x="279" y="284" width="4" height="4" fill="#00edff"/><rect x="282" y="284" width="4" height="4" fill="#00ecff"/><rect x="285" y="284" width="4" height="4" fill="#00eaff"/><rect x="288" y="284" width="4" height="4" fill="#00e8ff"/><rect x="291" y="284" width="4" height="4" fill="#00e6ff"/><rect x="294" y="284" width="4" height="4" fill="#00e4ff"/><rect x="297" y="284" width="4" height="4" fill="#00e1ff"/><rect x="300" y="284" width="4" height="4" fill="#00deff"/><rect x="303" y="284" width="4" height="4" fill="#00d9ff"/><rect x="306" y="284" width="4" height="4" fill="#00d3ff"/><rect x="309" y="284" width="4" height="4" fill="#58d1ff"/><rect x="312" y="284" width="4" height="4" fill="#81cfff"/><rect x="315" y="284" width="4" height="4" fill="#9fcdff"/><rect x="318" y="284" width="4" height="4" fill="#b9cbff"/><rect x="321" y="284" width="4" height="4" fill="#d0c9ff"/><rect x="324" y="284" width="4" height="4" fill="#e5c7ff"/><rect x="327" y="284" width="4" height="4" fill="#fac4ff"/><rect x="330" y="284" width="4" height="4" fill="#ffb7f1"/><rect x="333" y="284" width="4" height="4" fill="#ffa7e1"/><rect x="336" y="284" width="4" height="4" fill="#ff99d3"/><rect x="339" y="284" width="4" height="4" fill="#ff8dc6"/><rect x="342" y="284" width="4" height="4" fill="#ff81bb"/><rect x="345" y="284" width="4" height="4" fill="#ff77b0"/><rect x="348" y="284" width="4" height="4" fill="#ff6ca7"/><rect x="351" y="284" width="4" height="4" fill="#ff629e"/><rect x="354" y="284" width="4" height="4" fill="#ff5895"/><rect x="357" y="284" width="4" height="4" fill="#ff4e8d"/><rect x="360" y="284" width="4" height="4" fill="#ff4386"/><rect x="363" y="284" width="4" height="4" fill="#ff387f"/><rect x="366" y="284" width="4" height="4" fill="#ff2a78"/><rect x="369" y="284" width="4" height="4" fill="#ff1871"/><rect x="372" y="284" width="4" height="4" fill="#ff006c"/><rect x="375" y="284" width="4" height="4" fill="#ff0069"/><rect x="378" y="284" width="4" height="4" fill="#ff0066"/><rect x="381" y="284" width="4" height="4" fill="#ff0064"/><rect x="384" y="284" width="4" height="4" fill="#ff0062"/><rect x="387" y="284" width="4" height="4" fill="#ff0060"/><rect x="390" y="284" width="4" height="4" fill="#ff005e"/><rect x="393" y="284" width="4" height="4" fill="#ff005c"/><rect x="396" y="284" width="4" height="4" fill="#ff005a"/><rect x="399" y="284" width="4" height="4" fill="#ff0058"/><rect x="402" y="284" width="4" height="4" fill="#ff0057"/><rect x="405" y="284" width="4" height="4" fill="#ff0055"/><rect x="408" y="284" width="4" height="4" fill="#ff0054"/><rect x="411" y="284" width="4" height="4" fill="#ff0053"/><rect x="414" y="284" width="4" height="4" fill="#ff0051"/><rect x="273" y="287" width="4" height="4" fill="#00e9ff"/><rect x="276" y="287" width="4" height="4" fill="#00e8ff"/><rect x="279" y="287" width="4" height="4" fill="#00e6ff"/><rect x="282" y="287" width="4" height="4" fill="#00e4ff"/><rect x="285" y="287" width="4" height="4" fill="#00e2ff"/><rect x="288" y="287" width="4" height="4" fill="#00e0ff"/><rect x="291" y="287" width="4" height="4" fill="#00ddff"/><rect x="294" y="287" width="4" height="4" fill="#00daff"/><rect x="297" y="287" width="4" height="4" fill="#00d6ff"/><rect x="300" y="287" width="4" height="4" fill="#00d0ff"/><rect x="303" y="287" width="4" height="4" fill="#00caff"/><rect x="306" y="287" width="4" height="4" fill="#2dc3ff"/><rect x="309" y="287" width="4" height="4" fill="#67c1ff"/><rect x="312" y="287" width="4" height="4" fill="#89beff"/><rect x="315" y="287" width="4" height="4" fill="#a4bcff"/><rect x="318" y="287" width="4" height="4" fill="#bcb9ff"/><rect x="321" y="287" width="4" height="4" fill="#d1b6ff"/><rect x="324" y="287" width="4" height="4" fill="#e6b3ff"/><rect x="327" y="287" width="4" height="4" fill="#f9afff"/><rect x="330" y="287" width="4" height="4" fill="#ffa3f3"/><rect x="333" y="287" width="4" height="4" fill="#ff95e3"/><rect x="336" y="287" width="4" height="4" fill="#ff87d6"/><rect x="339" y="287" width="4" height="4" fill="#ff7bc9"/><rect x="342" y="287" width="4" height="4" fill="#ff6fbe"/><rect x="345" y="287" width="4" height="4" fill="#ff64b4"/><rect x="348" y="287" width="4" height="4" fill="#ff59ab"/><rect x="351" y="287" width="4" height="4" fill="#ff4da2"/><rect x="354" y="287" width="4" height="4" fill="#ff429a"/><rect x="357" y="287" width="4" height="4" fill="#ff3492"/><rect x="360" y="287" width="4" height="4" fill="#ff258b"/><rect x="363" y="287" width="4" height="4" fill="#ff0b84"/><rect x="366" y="287" width="4" height="4" fill="#ff0080"/><rect x="369" y="287" width="4" height="4" fill="#ff007c"/><rect x="372" y="287" width="4" height="4" fill="#ff0079"/><rect x="375" y="287" width="4" height="4" fill="#ff0076"/><rect x="378" y="287" width="4" height="4" fill="#ff0073"/><rect x="381" y="287" width="4" height="4" fill="#ff0071"/><rect x="384" y="287" width="4" height="4" fill="#ff006e"/><rect x="387" y="287" width="4" height="4" fill="#ff006c"/><rect x="390" y="287" width="4" height="4" fill="#ff006a"/><rect x="393" y="287" width="4" height="4" fill="#ff0068"/><rect x="396" y="287" width="4" height="4" fill="#ff0066"/><rect x="399" y="287" width="4" height="4" fill="#ff0064"/><rect x="402" y="287" width="4" height="4" fill="#ff0063"/><rect x="405" y="287" width="4" height="4" fill="#ff0061"/><rect x="408" y="287" width="4" height="4" fill="#ff0060"/><rect x="411" y="287" width="4" height="4" fill="#ff005e"/><rect x="273" y="290" width="4" height="4" fill="#00e3ff"/><rect x="276" y="290" width="4" height="4" fill="#00e1ff"/><rect x="279" y="290" width="4" height="4" fill="#00dfff"/><rect x="282" y="290" width="4" height="4" fill="#00ddff"/><rect x="285" y="290" width="4" height="4" fill="#00daff"/><rect x="288" y="290" width="4" height="4" fill="#00d7ff"/><rect x="291" y="290" width="4" height="4" fill="#00d3ff"/><rect x="294" y="290" width="4" height="4" fill="#00cfff"/><rect x="297" y="290" width="4" height="4" fill="#00c9ff"/><rect x="300" y="290" width="4" height="4" fill="#00c2ff"/><rect x="303" y="290" width="4" height="4" fill="#00b9ff"/><rect x="306" y="290" width="4" height="4" fill="#47b3ff"/><rect x="309" y="290" width="4" height="4" fill="#72b1ff"/><rect x="312" y="290" width="4" height="4" fill="#90aeff"/><rect x="315" y="290" width="4" height="4" fill="#a9aaff"/><rect x="318" y="290" width="4" height="4" fill="#bfa7ff"/><rect x="321" y="290" width="4" height="4" fill="#d3a3ff"/><rect x="324" y="290" width="4" height="4" fill="#e69fff"/><rect x="327" y="290" width="4" height="4" fill="#f89aff"/><rect x="330" y="290" width="4" height="4" fill="#ff8ff5"/><rect x="333" y="290" width="4" height="4" fill="#ff80e6"/><rect x="336" y="290" width="4" height="4" fill="#ff73d8"/><rect x="339" y="290" width="4" height="4" fill="#ff66cc"/><rect x="342" y="290" width="4" height="4" fill="#ff5ac2"/><rect x="345" y="290" width="4" height="4" fill="#ff4db8"/><rect x="348" y="290" width="4" height="4" fill="#ff40af"/><rect x="351" y="290" width="4" height="4" fill="#ff30a6"/><rect x="354" y="290" width="4" height="4" fill="#ff1d9e"/><rect x="357" y="290" width="4" height="4" fill="#ff0098"/><rect x="360" y="290" width="4" height="4" fill="#ff0093"/><rect x="363" y="290" width="4" height="4" fill="#ff008f"/><rect x="366" y="290" width="4" height="4" fill="#ff008b"/><rect x="369" y="290" width="4" height="4" fill="#ff0087"/><rect x="372" y="290" width="4" height="4" fill="#ff0084"/><rect x="375" y="290" width="4" height="4" fill="#ff0081"/><rect x="378" y="290" width="4" height="4" fill="#ff007e"/><rect x="381" y="290" width="4" height="4" fill="#ff007b"/><rect x="384" y="290" width="4" height="4" fill="#ff0079"/><rect x="387" y="290" width="4" height="4" fill="#ff0076"/><rect x="390" y="290" width="4" height="4" fill="#ff0074"/><rect x="393" y="290" width="4" height="4" fill="#ff0072"/><rect x="396" y="290" width="4" height="4" fill="#ff0070"/><rect x="399" y="290" width="4" height="4" fill="#ff006e"/><rect x="402" y="290" width="4" height="4" fill="#ff006c"/><rect x="405" y="290" width="4" height="4" fill="#ff006b"/><rect x="408" y="290" width="4" height="4" fill="#ff0069"/><rect x="276" y="293" width="4" height="4" fill="#00daff"/><rect x="279" y="293" width="4" height="4" fill="#00d8ff"/><rect x="282" y="293" width="4" height="4" fill="#00d5ff"/><rect x="285" y="293" width="4" height="4" fill="#00d1ff"/><rect x="288" y="293" width="4" height="4" fill="#00cdff"/><rect x="291" y="293" width="4" height="4" fill="#00c9ff"/><rect x="294" y="293" width="4" height="4" fill="#00c3ff"/><rect x="297" y="293" width="4" height="4" fill="#00bcff"/><rect x="300" y="293" width="4" height="4" fill="#00b3ff"/><rect x="303" y="293" width="4" height="4" fill="#03a7ff"/><rect x="306" y="293" width="4" height="4" fill="#57a3ff"/><rect x="309" y="293" width="4" height="4" fill="#7ba0ff"/><rect x="312" y="293" width="4" height="4" fill="#969cff"/><rect x="315" y="293" width="4" height="4" fill="#ac98ff"/><rect x="318" y="293" width="4" height="4" fill="#c194ff"/><rect x="321" y="293" width="4" height="4" fill="#d48fff"/><rect x="324" y="293" width="4" height="4" fill="#e689ff"/><rect x="327" y="293" width="4" height="4" fill="#f783ff"/><rect x="330" y="293" width="4" height="4" fill="#ff78f6"/><rect x="333" y="293" width="4" height="4" fill="#ff69e8"/><rect x="336" y="293" width="4" height="4" fill="#ff5bdb"/><rect x="339" y="293" width="4" height="4" fill="#ff4ccf"/><rect x="342" y="293" width="4" height="4" fill="#ff3dc5"/><rect x="345" y="293" width="4" height="4" fill="#ff2bbb"/><rect x="348" y="293" width="4" height="4" fill="#ff0fb2"/><rect x="351" y="293" width="4" height="4" fill="#ff00ac"/><rect x="354" y="293" width="4" height="4" fill="#ff00a6"/><rect x="357" y="293" width="4" height="4" fill="#ff00a1"/><rect x="360" y="293" width="4" height="4" fill="#ff009c"/><rect x="363" y="293" width="4" height="4" fill="#ff0098"/><rect x="366" y="293" width="4" height="4" fill="#ff0094"/><rect x="369" y="293" width="4" height="4" fill="#ff0090"/><rect x="372" y="293" width="4" height="4" fill="#ff008d"/><rect x="375" y="293" width="4" height="4" fill="#ff008a"/><rect x="378" y="293" width="4" height="4" fill="#ff0087"/><rect x="381" y="293" width="4" height="4" fill="#ff0084"/><rect x="384" y="293" width="4" height="4" fill="#ff0081"/><rect x="387" y="293" width="4" height="4" fill="#ff007f"/><rect x="390" y="293" width="4" height="4" fill="#ff007d"/><rect x="393" y="293" width="4" height="4" fill="#ff007b"/><rect x="396" y="293" width="4" height="4" fill="#ff0079"/><rect x="399" y="293" width="4" height="4" fill="#ff0077"/><rect x="276" y="296" width="4" height="4" fill="#00d3ff"/><rect x="279" y="296" width="4" height="4" fill="#00d0ff"/><rect x="282" y="296" width="4" height="4" fill="#00cdff"/><rect x="285" y="296" width="4" height="4" fill="#00c8ff"/><rect x="288" y="296" width="4" height="4" fill="#00c4ff"/><rect x="291" y="296" width="4" height="4" fill="#00beff"/><rect x="294" y="296" width="4" height="4" fill="#00b6ff"/><rect x="297" y="296" width="4" height="4" fill="#00adff"/><rect x="300" y="296" width="4" height="4" fill="#00a1ff"/><rect x="303" y="296" width="4" height="4" fill="#3497ff"/><rect x="306" y="296" width="4" height="4" fill="#6493ff"/><rect x="309" y="296" width="4" height="4" fill="#828fff"/><rect x="312" y="296" width="4" height="4" fill="#9b8aff"/><rect x="315" y="296" width="4" height="4" fill="#b085ff"/><rect x="318" y="296" width="4" height="4" fill="#c37fff"/><rect x="321" y="296" width="4" height="4" fill="#d579ff"/><rect x="324" y="296" width="4" height="4" fill="#e672ff"/><rect x="327" y="296" width="4" height="4" fill="#f769ff"/><rect x="330" y="296" width="4" height="4" fill="#ff5df8"/><rect x="333" y="296" width="4" height="4" fill="#ff4cea"/><rect x="336" y="296" width="4" height="4" fill="#ff3add"/><rect x="339" y="296" width="4" height="4" fill="#ff23d2"/><rect x="342" y="296" width="4" height="4" fill="#ff00c8"/><rect x="345" y="296" width="4" height="4" fill="#ff00c0"/><rect x="348" y="296" width="4" height="4" fill="#ff00b9"/><rect x="351" y="296" width="4" height="4" fill="#ff00b3"/><rect x="354" y="296" width="4" height="4" fill="#ff00ad"/><rect x="357" y="296" width="4" height="4" fill="#ff00a8"/><rect x="360" y="296" width="4" height="4" fill="#ff00a4"/><rect x="363" y="296" width="4" height="4" fill="#ff009f"/><rect x="366" y="296" width="4" height="4" fill="#ff009b"/><rect x="369" y="296" width="4" height="4" fill="#ff0098"/><rect x="372" y="296" width="4" height="4" fill="#ff0094"/><rect x="375" y="296" width="4" height="4" fill="#ff0091"/><rect x="378" y="296" width="4" height="4" fill="#ff008e"/><rect x="381" y="296" width="4" height="4" fill="#ff008c"/><rect x="384" y="296" width="4" height="4" fill="#ff0089"/><rect x="387" y="296" width="4" height="4" fill="#ff0086"/><rect x="390" y="296" width="4" height="4" fill="#ff0084"/><rect x="279" y="299" width="4" height="4" fill="#00c8ff"/><rect x="282" y="299" width="4" height="4" fill="#00c4ff"/><rect x="285" y="299" width="4" height="4" fill="#00bfff"/><rect x="288" y="299" width="4" height="4" fill="#00b9ff"/><rect x="291" y="299" width="4" height="4" fill="#00b2ff"/><rect x="294" y="299" width="4" height="4" fill="#00a9ff"/><rect x="297" y="299" width="4" height="4" fill="#009dff"/><rect x="300" y="299" width="4" height="4" fill="#008eff"/><rect x="303" y="299" width="4" height="4" fill="#4986ff"/><rect x="306" y="299" width="4" height="4" fill="#6e81ff"/><rect x="309" y="299" width="4" height="4" fill="#897cff"/><rect x="312" y="299" width="4" height="4" fill="#9f76ff"/><rect x="315" y="299" width="4" height="4" fill="#b36fff"/><rect x="318" y="299" width="4" height="4" fill="#c568ff"/><rect x="321" y="299" width="4" height="4" fill="#d65fff"/><rect x="324" y="299" width="4" height="4" fill="#e655ff"/><rect x="327" y="299" width="4" height="4" fill="#f648ff"/><rect x="330" y="299" width="4" height="4" fill="#ff35f9"/><rect x="333" y="299" width="4" height="4" fill="#ff14eb"/><rect x="336" y="299" width="4" height="4" fill="#ff00e0"/><rect x="339" y="299" width="4" height="4" fill="#ff00d6"/><rect x="342" y="299" width="4" height="4" fill="#ff00ce"/><rect x="345" y="299" width="4" height="4" fill="#ff00c6"/><rect x="348" y="299" width="4" height="4" fill="#ff00bf"/><rect x="351" y="299" width="4" height="4" fill="#ff00b9"/><rect x="354" y="299" width="4" height="4" fill="#ff00b4"/><rect x="357" y="299" width="4" height="4" fill="#ff00af"/><rect x="360" y="299" width="4" height="4" fill="#ff00aa"/><rect x="363" y="299" width="4" height="4" fill="#ff00a6"/><rect x="366" y="299" width="4" height="4" fill="#ff00a2"/><rect x="369" y="299" width="4" height="4" fill="#ff009e"/><rect x="372" y="299" width="4" height="4" fill="#ff009b"/><rect x="375" y="299" width="4" height="4" fill="#ff0098"/><rect x="378" y="299" width="4" height="4" fill="#ff0095"/><rect x="381" y="299" width="4" height="4" fill="#ff0092"/><rect x="279" y="302" width="4" height="4" fill="#00c0ff"/><rect x="282" y="302" width="4" height="4" fill="#00bbff"/><rect x="285" y="302" width="4" height="4" fill="#00b5ff"/><rect x="288" y="302" width="4" height="4" fill="#00aeff"/><rect x="291" y="302" width="4" height="4" fill="#00a5ff"/><rect x="294" y="302" width="4" height="4" fill="#009aff"/><rect x="297" y="302" width="4" height="4" fill="#008bff"/><rect x="300" y="302" width="4" height="4" fill="#1d79ff"/><rect x="303" y="302" width="4" height="4" fill="#5774ff"/><rect x="306" y="302" width="4" height="4" fill="#766eff"/><rect x="309" y="302" width="4" height="4" fill="#8e67ff"/><rect x="312" y="302" width="4" height="4" fill="#a35fff"/><rect x="315" y="302" width="4" height="4" fill="#b656ff"/><rect x="318" y="302" width="4" height="4" fill="#c74bff"/><rect x="321" y="302" width="4" height="4" fill="#d73dff"/><rect x="324" y="302" width="4" height="4" fill="#e728ff"/><rect x="327" y="302" width="4" height="4" fill="#f600ff"/><rect x="330" y="302" width="4" height="4" fill="#ff00fa"/><rect x="333" y="302" width="4" height="4" fill="#ff00ee"/><rect x="336" y="302" width="4" height="4" fill="#ff00e3"/><rect x="339" y="302" width="4" height="4" fill="#ff00da"/><rect x="342" y="302" width="4" height="4" fill="#ff00d2"/><rect x="345" y="302" width="4" height="4" fill="#ff00cb"/><rect x="348" y="302" width="4" height="4" fill="#ff00c4"/><rect x="351" y="302" width="4" height="4" fill="#ff00bf"/><rect x="354" y="302" width="4" height="4" fill="#ff00b9"/><rect x="357" y="302" width="4" height="4" fill="#ff00b4"/><rect x="360" y="302" width="4" height="4" fill="#ff00b0"/><rect x="363" y="302" width="4" height="4" fill="#ff00ac"/><rect x="366" y="302" width="4" height="4" fill="#ff00a8"/><rect x="369" y="302" width="4" height="4" fill="#ff00a4"/><rect x="372" y="302" width="4" height="4" fill="#ff00a1"/><rect x="279" y="305" width="4" height="4" fill="#00b7ff"/><rect x="282" y="305" width="4" height="4" fill="#00b1ff"/><rect x="285" y="305" width="4" height="4" fill="#00aaff"/><rect x="288" y="305" width="4" height="4" fill="#00a2ff"/><rect x="291" y="305" width="4" height="4" fill="#0097ff"/><rect x="294" y="305" width="4" height="4" fill="#0089ff"/><rect x="297" y="305" width="4" height="4" fill="#0076ff"/><rect x="300" y="305" width="4" height="4" fill="#3966ff"/><rect x="303" y="305" width="4" height="4" fill="#625fff"/><rect x="306" y="305" width="4" height="4" fill="#7d57ff"/><rect x="309" y="305" width="4" height="4" fill="#934dff"/><rect x="312" y="305" width="4" height="4" fill="#a741ff"/><rect x="315" y="305" width="4" height="4" fill="#b831ff"/><rect x="318" y="305" width="4" height="4" fill="#c915ff"/><rect x="321" y="305" width="4" height="4" fill="#d900ff"/><rect x="324" y="305" width="4" height="4" fill="#e800ff"/><rect x="327" y="305" width="4" height="4" fill="#f600ff"/><rect x="330" y="305" width="4" height="4" fill="#ff00fb"/><rect x="333" y="305" width="4" height="4" fill="#ff00f0"/><rect x="336" y="305" width="4" height="4" fill="#ff00e6"/><rect x="339" y="305" width="4" height="4" fill="#ff00de"/><rect x="342" y="305" width="4" height="4" fill="#ff00d6"/><rect x="345" y="305" width="4" height="4" fill="#ff00cf"/><rect x="348" y="305" width="4" height="4" fill="#ff00c9"/><rect x="351" y="305" width="4" height="4" fill="#ff00c3"/><rect x="354" y="305" width="4" height="4" fill="#ff00be"/><rect x="357" y="305" width="4" height="4" fill="#ff00b9"/><rect x="360" y="305" width="4" height="4" fill="#ff00b5"/><rect x="363" y="305" width="4" height="4" fill="#ff00b1"/><rect x="282" y="308" width="4" height="4" fill="#00a7ff"/><rect x="285" y="308" width="4" height="4" fill="#009fff"/><rect x="288" y="308" width="4" height="4" fill="#0094ff"/><rect x="291" y="308" width="4" height="4" fill="#0087ff"/><rect x="294" y="308" width="4" height="4" fill="#0075ff"/><rect x="297" y="308" width="4" height="4" fill="#005aff"/><rect x="300" y="308" width="4" height="4" fill="#4a4fff"/><rect x="303" y="308" width="4" height="4" fill="#6b44ff"/><rect x="306" y="308" width="4" height="4" fill="#8337ff"/><rect x="309" y="308" width="4" height="4" fill="#9824ff"/><rect x="312" y="308" width="4" height="4" fill="#aa00ff"/><rect x="315" y="308" width="4" height="4" fill="#bd00ff"/><rect x="318" y="308" width="4" height="4" fill="#cd00ff"/><rect x="321" y="308" width="4" height="4" fill="#dc00ff"/><rect x="324" y="308" width="4" height="4" fill="#e900ff"/><rect x="327" y="308" width="4" height="4" fill="#f600ff"/><rect x="330" y="308" width="4" height="4" fill="#ff00fc"/><rect x="333" y="308" width="4" height="4" fill="#ff00f2"/><rect x="336" y="308" width="4" height="4" fill="#ff00e9"/><rect x="339" y="308" width="4" height="4" fill="#ff00e1"/><rect x="342" y="308" width="4" height="4" fill="#ff00d9"/><rect x="345" y="308" width="4" height="4" fill="#ff00d3"/><rect x="348" y="308" width="4" height="4" fill="#ff00cd"/><rect x="351" y="308" width="4" height="4" fill="#ff00c7"/><rect x="354" y="308" width="4" height="4" fill="#ff00c2"/><rect x="282" y="311" width="4" height="4" fill="#009cff"/><rect x="285" y="311" width="4" height="4" fill="#0092ff"/><rect x="288" y="311" width="4" height="4" fill="#0085ff"/><rect x="291" y="311" width="4" height="4" fill="#0075ff"/><rect x="294" y="311" width="4" height="4" fill="#005cff"/><rect x="297" y="311" width="4" height="4" fill="#283cff"/><rect x="300" y="311" width="4" height="4" fill="#562dff"/><rect x="303" y="311" width="4" height="4" fill="#7213ff"/><rect x="306" y="311" width="4" height="4" fill="#8b00ff"/><rect x="309" y="311" width="4" height="4" fill="#a000ff"/><rect x="312" y="311" width="4" height="4" fill="#b300ff"/><rect x="315" y="311" width="4" height="4" fill="#c300ff"/><rect x="318" y="311" width="4" height="4" fill="#d100ff"/><rect x="321" y="311" width="4" height="4" fill="#de00ff"/><rect x="324" y="311" width="4" height="4" fill="#ea00ff"/><rect x="327" y="311" width="4" height="4" fill="#f600ff"/><rect x="330" y="311" width="4" height="4" fill="#ff00fd"/><rect x="333" y="311" width="4" height="4" fill="#ff00f4"/><rect x="336" y="311" width="4" height="4" fill="#ff00eb"/><rect x="339" y="311" width="4" height="4" fill="#ff00e3"/><rect x="342" y="311" width="4" height="4" fill="#ff00dc"/><rect x="345" y="311" width="4" height="4" fill="#ff00d6"/><rect x="285" y="314" width="4" height="4" fill="#0084ff"/><rect x="288" y="314" width="4" height="4" fill="#0074ff"/><rect x="291" y="314" width="4" height="4" fill="#005eff"/><rect x="294" y="314" width="4" height="4" fill="#0036ff"/><rect x="297" y="314" width="4" height="4" fill="#3f00ff"/><rect x="300" y="314" width="4" height="4" fill="#6700ff"/><rect x="303" y="314" width="4" height="4" fill="#8200ff"/><rect x="306" y="314" width="4" height="4" fill="#9700ff"/><rect x="309" y="314" width="4" height="4" fill="#a900ff"/><rect x="312" y="314" width="4" height="4" fill="#b900ff"/><rect x="315" y="314" width="4" height="4" fill="#c700ff"/><rect x="318" y="314" width="4" height="4" fill="#d400ff"/><rect x="321" y="314" width="4" height="4" fill="#e000ff"/><rect x="324" y="314" width="4" height="4" fill="#eb00ff"/><rect x="327" y="314" width="4" height="4" fill="#f600ff"/><rect x="330" y="314" width="4" height="4" fill="#ff00fe"/><rect x="333" y="314" width="4" height="4" fill="#ff00f5"/><rect x="336" y="314" width="4" height="4" fill="#ff00ed"/><rect x="288" y="317" width="4" height="4" fill="#005fff"/><rect x="291" y="317" width="4" height="4" fill="#003dff"/><rect x="294" y="317" width="4" height="4" fill="#3200ff"/><rect x="297" y="317" width="4" height="4" fill="#5e00ff"/><rect x="300" y="317" width="4" height="4" fill="#7a00ff"/><rect x="303" y="317" width="4" height="4" fill="#8f00ff"/><rect x="306" y="317" width="4" height="4" fill="#a100ff"/><rect x="309" y="317" width="4" height="4" fill="#b000ff"/><rect x="312" y="317" width="4" height="4" fill="#be00ff"/><rect x="315" y="317" width="4" height="4" fill="#cb00ff"/><rect x="318" y="317" width="4" height="4" fill="#d700ff"/><rect x="321" y="317" width="4" height="4" fill="#e200ff"/><rect x="324" y="317" width="4" height="4" fill="#ec00ff"/><rect x="327" y="317" width="4" height="4" fill="#f600ff"/><rect x="291" y="320" width="4" height="4" fill="#2300ff"/><rect x="294" y="320" width="4" height="4" fill="#5600ff"/><rect x="297" y="320" width="4" height="4" fill="#7200ff"/><rect x="300" y="320" width="4" height="4" fill="#8700ff"/><rect x="303" y="320" width="4" height="4" fill="#9900ff"/><rect x="306" y="320" width="4" height="4" fill="#a900ff"/><rect x="309" y="320" width="4" height="4" fill="#b600ff"/><rect x="312" y="320" width="4" height="4" fill="#c300ff"/><rect x="315" y="320" width="4" height="4" fill="#ce00ff"/><rect x="318" y="320" width="4" height="4" fill="#d900ff"/><rect x="294" y="323" width="4" height="4" fill="#6a00ff"/><rect x="297" y="323" width="4" height="4" fill="#8000ff"/><rect x="300" y="323" width="4" height="4" fill="#9200ff"/><rect x="303" y="323" width="4" height="4" fill="#a100ff"/><rect x="306" y="323" width="4" height="4" fill="#af00ff"/><rect x="309" y="323" width="4" height="4" fill="#bb00ff"/><rect x="300" y="326" width="4" height="4" fill="#9300ff"/></g></g>
<path d="M301.02 324.27 L300.99 324.28 L300.95 324.28 L300.9 324.29 L300.86 324.3 L300.83 324.3 L300.8 324.3 L300.76 324.3 L300.72 324.3 L300.67 324.3 L300.62 324.29 L300.56 324.28 L300.48 324.26 L300.38 324.21 L300.27 324.16 L300.14 324.09 L299.98 323.99 L299.78 323.87 L299.54 323.71 L299.3 323.55 L299.08 323.41 L298.9 323.29 L298.75 323.2 L298.6 323.1 L298.42 322.99 L298.22 322.86 L298 322.72 L297.77 322.57 L297.52 322.42 L297.26 322.25 L296.99 322.08 L296.7 321.89 L296.4 321.69 L296.08 321.46 L295.74 321.22 L295.38 320.96 L295 320.66 L294.61 320.35 L294.21 320.02 L293.77 319.64 L293.3 319.17 L292.79 318.64 L292.24 318.04 L291.65 317.35 L291.02 316.56 L290.36 315.67 L289.66 314.7 L288.91 313.6 L288.12 312.33 L287.28 310.9 L286.39 309.33 L285.45 307.59 L284.46 305.63 L283.39 303.46 L282.26 301.1 L281.1 298.53 L279.94 295.7 L278.78 292.61 L277.6 289.27 L276.43 285.7 L275.28 281.93 L274.13 277.9 L272.99 273.62 L271.9 269.2 L270.9 264.75 L269.99 260.21 L269.15 255.56 L268.42 250.91 L267.84 246.39 L267.4 241.98 L267.09 237.62 L266.94 233.4 L266.98 229.4 L267.21 225.59 L267.61 221.94 L268.2 218.54 L268.98 215.47 L269.97 212.73 L271.16 210.29 L272.51 208.18 L273.98 206.45 L275.58 205.14 L277.33 204.22 L279.18 203.62 L281.06 203.27 L282.99 203.2 L284.99 203.44 L287.02 203.87 L289.04 204.37 L291.07 204.97 L293.11 205.7 L295.14 206.51 L297.14 207.34 L299.09 208.17 L301.01 209.05 L302.9 209.95 L304.78 210.89 L306.64 211.84 L308.47 212.83 L310.3 213.84 L312.12 214.87 L313.94 215.93 L315.75 217.02 L317.56 218.13 L319.36 219.25 L321.16 220.39 L322.95 221.56 L324.73 222.73 L326.52 223.92 L328.31 225.13 L330.09 226.34 L331.87 227.57 L333.66 228.8 L335.45 230.04 L337.24 231.3 L339.03 232.56 L340.82 233.82 L342.6 235.09 L344.38 236.37 L346.16 237.64 L347.94 238.92 L349.72 240.19 L351.49 241.47 L353.26 242.74 L355.02 244.01 L356.77 245.28 L358.51 246.54 L360.24 247.8 L361.96 249.05 L363.67 250.29 L365.36 251.52 L367.04 252.75 L368.7 253.96 L370.34 255.15 L371.97 256.34 L373.58 257.51 L375.16 258.66 L376.72 259.79 L378.26 260.9 L379.77 262 L381.24 263.07 L382.68 264.12 L384.09 265.15 L385.46 266.15 L386.78 267.11 L388.05 268.03 L389.27 268.92 L390.45 269.78 L391.6 270.62 L392.72 271.43 L393.8 272.22 L394.84 272.97 L395.84 273.7 L396.79 274.38 L397.69 275.03 L398.54 275.65 L399.36 276.24 L400.14 276.8 L400.87 277.33 L401.56 277.84 L402.22 278.32 L402.84 278.78 L403.42 279.2 L403.98 279.61 L404.5 279.99 L405 280.35 L405.46 280.68 L405.9 281 L406.32 281.3 L406.69 281.57 L407.02 281.82 L407.37 282.07 L407.78 282.37 L408.3 282.75 L408.89 283.18 L409.48 283.61 L410 283.99 L410.42 284.29 L410.79 284.56 L411.11 284.79 L411.4 285 L411.64 285.17 L411.84 285.32 L412.02 285.45 L412.2 285.58 L412.39 285.72 L412.57 285.85 L412.74 285.98 L412.88 286.08 L412.98 286.15 L413.05 286.2 L413.1 286.24 L413.14 286.27Z" fill="none" stroke="#1414E6" stroke-width="1.7"/>
<path d="M294.5 321.29l-1.64 2.02M283.74 305.98l-2.33 1.15M267.04 246.48l-2.58 0.29M280.95 202.47l-0.35 -2.58M312.52 214.18l1.29 -2.26M341.28 233.17l1.5 -2.12M369.17 253.31l1.53 -2.1M392.07 269.97l1.53 -2.1M404.97 279.34l1.53 -2.1" stroke="#8080C0" stroke-width="0.6"/>
<text x="278.8" y="198.6" font-family="'Liberation Sans',sans-serif" font-size="5.5" text-anchor="middle" font-weight="normal" fill="#2828E0">520</text>
<text x="317.4" y="211.5" font-family="'Liberation Sans',sans-serif" font-size="5.5" text-anchor="middle" font-weight="normal" fill="#2828E0">540</text>
<text x="347.1" y="231" font-family="'Liberation Sans',sans-serif" font-size="5.5" text-anchor="middle" font-weight="normal" fill="#2828E0">560</text>
<text x="375.5" y="251.3" font-family="'Liberation Sans',sans-serif" font-size="5.5" text-anchor="middle" font-weight="normal" fill="#2828E0">580</text>
<text x="398.5" y="268" font-family="'Liberation Sans',sans-serif" font-size="5.5" text-anchor="middle" font-weight="normal" fill="#2828E0">600</text>
<text x="411.5" y="277.2" font-family="'Liberation Sans',sans-serif" font-size="5.5" text-anchor="middle" font-weight="normal" fill="#2828E0">620</text>
<text x="258" y="249.1" font-family="'Liberation Sans',sans-serif" font-size="5.5" text-anchor="middle" font-weight="normal" fill="#2828E0">500</text>
<text x="275" y="310" font-family="'Liberation Sans',sans-serif" font-size="5.5" text-anchor="middle" font-weight="normal" fill="#2828E0">480</text>
<text x="287.7" y="324.2" font-family="'Liberation Sans',sans-serif" font-size="5.5" text-anchor="middle" font-weight="normal" fill="#2828E0">460</text>
<polygon points="322,235.7 322.77,237.54 324.76,237.7 323.24,239 323.7,240.95 322,239.91 320.3,240.95 320.76,239 319.24,237.7 321.23,237.54" fill="none" stroke="#111" stroke-width="0.85"/>
<polygon points="331.7,237.4 332.47,239.24 334.46,239.4 332.94,240.7 333.4,242.65 331.7,241.61 330,242.65 330.46,240.7 328.94,239.4 330.93,239.24" fill="none" stroke="#111" stroke-width="0.85"/>
<polygon points="337.7,238.5 338.47,240.34 340.46,240.5 338.94,241.8 339.4,243.75 337.7,242.71 336,243.75 336.46,241.8 334.94,240.5 336.93,240.34" fill="none" stroke="#111" stroke-width="0.85"/>
<polygon points="353.9,243.9 354.67,245.74 356.66,245.9 355.14,247.2 355.6,249.15 353.9,248.11 352.2,249.15 352.66,247.2 351.14,245.9 353.13,245.74" fill="none" stroke="#111" stroke-width="0.85"/>
<polygon points="368.8,250.6 369.57,252.44 371.56,252.6 370.04,253.9 370.5,255.85 368.8,254.81 367.1,255.85 367.56,253.9 366.04,252.6 368.03,252.44" fill="none" stroke="#111" stroke-width="0.85"/>
<polygon points="334.4,254.1 335.17,255.94 337.16,256.1 335.64,257.4 336.1,259.35 334.4,258.31 332.7,259.35 333.16,257.4 331.64,256.1 333.63,255.94" fill="none" stroke="#111" stroke-width="0.85"/>
<line x1="340.4" y1="239.2" x2="356.6" y2="230.3" stroke="#111" stroke-width="0.8" marker-end="url(#ah)"/>
<line x1="328.8" y1="243.2" x2="320.9" y2="249.6" stroke="#111" stroke-width="0.8" marker-end="url(#ah)"/>
<text x="315" y="233.4" font-family="'Liberation Sans',sans-serif" font-size="7.9" text-anchor="middle" font-weight="normal" fill="#111">Amo-G</text>
<text x="358.8" y="230.8" font-family="'Liberation Sans',sans-serif" font-size="7.9" text-anchor="start" font-weight="normal" fill="#111">Amo-O</text>
<text x="307.5" y="254.8" font-family="'Liberation Sans',sans-serif" font-size="7.9" text-anchor="middle" font-weight="normal" fill="#111">Cry-YG</text>
<text x="364.5" y="244.4" font-family="'Liberation Sans',sans-serif" font-size="7.9" text-anchor="middle" font-weight="normal" fill="#111">Glass</text>
<text x="362.3" y="262.7" font-family="'Liberation Sans',sans-serif" font-size="7.9" text-anchor="middle" font-weight="normal" fill="#111">cry-O</text>
<text x="332.3" y="267.9" font-family="'Liberation Sans',sans-serif" font-size="7.9" text-anchor="middle" font-weight="normal" fill="#111">Film</text>
<line x1="266.2" y1="193.4" x2="266.2" y2="325.7" stroke="#111" stroke-width="1.4"/>
<line x1="265.5" y1="325" x2="426.2" y2="325" stroke="#111" stroke-width="1.4"/>
<path d="M266.2 325h-3M266.2 295.8h-3M266.2 266.6h-3M266.2 237.4h-3M266.2 208.2h-3" stroke="#111" stroke-width="1"/>
<path d="M266.2 310.4h-1.8M266.2 281.2h-1.8M266.2 252h-1.8M266.2 222.8h-1.8" stroke="#111" stroke-width="1"/>
<path d="M266.2 325v3M286.2 325v3M306.2 325v3M326.2 325v3M346.2 325v3M366.2 325v3M386.2 325v3M406.2 325v3M426.2 325v3" stroke="#111" stroke-width="1"/>
<path d="M276.2 325v1.8M296.2 325v1.8M316.2 325v1.8M336.2 325v1.8M356.2 325v1.8M376.2 325v1.8M396.2 325v1.8M416.2 325v1.8" stroke="#111" stroke-width="1"/>
<text x="266.2" y="335.8" font-family="'Liberation Sans',sans-serif" font-size="9.5" text-anchor="middle" font-weight="normal" fill="#111">0.0</text>
<text x="286.2" y="335.8" font-family="'Liberation Sans',sans-serif" font-size="9.5" text-anchor="middle" font-weight="normal" fill="#111">0.1</text>
<text x="306.2" y="335.8" font-family="'Liberation Sans',sans-serif" font-size="9.5" text-anchor="middle" font-weight="normal" fill="#111">0.2</text>
<text x="326.2" y="335.8" font-family="'Liberation Sans',sans-serif" font-size="9.5" text-anchor="middle" font-weight="normal" fill="#111">0.3</text>
<text x="346.2" y="335.8" font-family="'Liberation Sans',sans-serif" font-size="9.5" text-anchor="middle" font-weight="normal" fill="#111">0.4</text>
<text x="366.2" y="335.8" font-family="'Liberation Sans',sans-serif" font-size="9.5" text-anchor="middle" font-weight="normal" fill="#111">0.5</text>
<text x="386.2" y="335.8" font-family="'Liberation Sans',sans-serif" font-size="9.5" text-anchor="middle" font-weight="normal" fill="#111">0.6</text>
<text x="406.2" y="335.8" font-family="'Liberation Sans',sans-serif" font-size="9.5" text-anchor="middle" font-weight="normal" fill="#111">0.7</text>
<text x="426.2" y="335.8" font-family="'Liberation Sans',sans-serif" font-size="9.5" text-anchor="middle" font-weight="normal" fill="#111">0.8</text>
<text x="262" y="327.6" font-family="'Liberation Sans',sans-serif" font-size="9.5" text-anchor="end" font-weight="normal" fill="#111">0.0</text>
<text x="262" y="298.4" font-family="'Liberation Sans',sans-serif" font-size="9.5" text-anchor="end" font-weight="normal" fill="#111">0.2</text>
<text x="262" y="269.2" font-family="'Liberation Sans',sans-serif" font-size="9.5" text-anchor="end" font-weight="normal" fill="#111">0.4</text>
<text x="262" y="240" font-family="'Liberation Sans',sans-serif" font-size="9.5" text-anchor="end" font-weight="normal" fill="#111">0.6</text>
<text x="262" y="210.8" font-family="'Liberation Sans',sans-serif" font-size="9.5" text-anchor="end" font-weight="normal" fill="#111">0.8</text>
<text x="247.5" y="259.5" font-family="'Liberation Serif',serif" font-size="12" text-anchor="middle" font-weight="normal" fill="#111" font-style="italic" transform="rotate(-90 247.5 259.5)">y</text>
<text x="346" y="353" font-family="'Liberation Serif',serif" font-size="12" text-anchor="middle" font-weight="normal" fill="#111" font-style="italic">x</text>
<path d="M530.8 275.2V275.2H531.4V211.6H532V204.5H532.6V207.6H533.2V210.5H533.8V215H534.4V217.7H535V220.9H535.6V222.8H536.2V224.3H536.8V225.9H537.4V225.6H538V227.1H538.6V229.7H539.2V228.7H539.8V231.9H540.4V233.3H541V231.9H541.6V231.1H542.2V234.2H542.8V233.3H543.4V235.6H544V233.3H544.6V236.6H545.2V236.6H545.8V239.4H546.4V241.2H547V239H547.6V238.5H548.2V241.2H548.8V242.3H549.4V243.9H550V243.3H550.6V247.1H551.2V242.8H551.8V240.3H552.4V240.3H553V243.3H553.6V247.1H554.2V250.3H554.8V247.1H555.4V251.2H556V251.2H556.6V249.1H557.2V249.1H557.8V250.9H558.4V252.1H559V252.3H559.6V256.1H560.2V255.9H560.8V259.8H561.4V255.3H562V257.8H562.6V257.2H563.2V262.5H563.8V258.6H564.4V258.1H565V261.2H565.6V267.3H566.2V264.9H566.8V263.4H567.4V265.6H568V261.9H568.6V267.7H569.2V266.6H569.8V269.3H570.4V267.5H571V273.8H571.6V270.3H572.2V271.4H572.8V273.8H573.4V273.8H574V273.8H574.6V275.2H575.2V273.8H575.8V271.4H576.4V273.8H577V276.7H577.6V276.7H578.2V273.8H578.8V273.8H579.4V276.7H580V278.4H580.6V278.4H581.2V278.4H581.8V280.2H582.4V282.3H583V280.2H583.6V282.3H584.2V284.7H584.8V280.2H585.4V284.7H586V282.3H586.6V280.2H586.8V295.6H586.6V295.6H586V295.6H585.4V295.6H584.8V295.6H584.2V295.6H583.6V295.6H583V295.6H582.4V295.6H581.8V295.6H581.2V295.6H580.6V295.6H580V295.6H579.4V295.6H578.8V295.6H578.2V295.6H577.6V295.6H577V291.1H576.4V287.6H575.8V282.3H575.2V287.6H574.6V295.6H574V282.3H573.4V284.7H572.8V291.1H572.2V291.1H571.6V287.6H571V282.3H570.4V282.3H569.8V281.5H569.2V277.1H568.6V277.9H568V278.9H567.4V283.7H566.8V282.7H566.2V276.7H565.6V284.6H565V274.9H564.4V274.9H563.8V274.1H563.2V270.9H562.6V274.4H562V267.2H561.4V272.7H560.8V267.9H560.2V274.3H559.6V270.7H559V265.3H558.4V266.6H557.8V266.1H557.2V265.5H556.6V265.1H556V263H555.4V259.5H554.8V263H554.2V259.5H553.6V265.1H553V258H552.4V256.6H551.8V256.6H551.2V253.1H550.6V251.2H550V258H549.4V249.4H548.8V247.8H548.2V254.2H547.6V247.8H547V248.6H546.4V249.4H545.8V247.1H545.2V244.5H544.6V244.5H544V240.3H543.4V239.8H542.8V241.7H542.2V238.5H541.6V239.4H541V238.5H540.4V239.8H539.8V238.5H539.2V235.6H538.6V233.9H538V232.5H537.4V235.9H536.8V231.4H536.2V228.5H535.6V227.7H535V221.7H534.4V220.3H533.8V216.5H533.2V211.7H532.6V211.6H532V275.3H531.4V312.8H530.8Z" fill="#F46868" stroke="#F46868" stroke-width="1.2" stroke-linejoin="round"/>
<path d="M530.8 272.6V272.6H531.4V211.6H532V204.1H532.6V204.2H533.2V205.5H533.8V206.2H534.4V206.4H535V208.1H535.6V209.2H536.2V209.4H536.8V210.5H537.4V211.9H538V212.1H538.6V213.1H539.2V213.1H539.8V214.3H540.4V216.1H541V216.1H541.6V217.4H542.2V218.1H542.8V219.3H543.4V220.1H544V221H544.6V222.2H545.2V222.8H545.8V223.3H546.4V224H547V223.8H547.6V225.8H548.2V227.2H548.8V227.6H549.4V227.8H550V227.8H550.6V230.7H551.2V231.1H551.8V233.2H552.4V232.7H553V233.3H553.6V236H554.2V235.7H554.8V235.4H555.4V238.7H556V239.2H556.6V238.2H557.2V240.7H557.8V241.2H558.4V241.8H559V242.3H559.6V242.9H560.2V244.5H560.8V243.8H561.4V244H562V246.6H562.6V246.6H563.2V244.5H563.8V249.6H564.4V249.2H565V249.6H565.6V252.9H566.2V252.1H566.8V250.3H567.4V252.1H568V252.9H568.6V256.1H569.2V257.7H569.8V257.1H570.4V256.1H571V255.6H571.6V258.9H572.2V260.1H572.8V262.2H573.4V263.8H574V260.1H574.6V262.2H575.2V263H575.8V263H576.4V265.5H577V264.9H577.6V262.3H578.2V264.1H578.8V265.1H579.4V269.3H580V268.4H580.6V271.4H581.2V272.6H581.8V270.3H582.4V275.2H583V278.4H583.6V275.2H584.2V275.2H584.8V276.7H585.4V276.7H586V272.6H586.6V282.3H586.8V295.6H586.6V295.6H586V295.6H585.4V295.6H584.8V287.6H584.2V291.1H583.6V291.1H583V291.1H582.4V295.6H581.8V287.6H581.2V284.7H580.6V291.1H580V282.3H579.4V282.3H578.8V279.9H578.2V289.9H577.6V292.9H577V284.7H576.4V288.2H575.8V277.3H575.2V277.3H574.6V275.5H574V271H573.4V272.3H572.8V269.7H572.2V269.7H571.6V267.5H571V266.5H570.4V264.6H569.8V264.6H569.2V265.5H568.6V262.2H568V263.8H567.4V259.5H566.8V258.3H566.2V257.1H565.6V257.1H565V256.6H564.4V256.6H563.8V257.1H563.2V255.1H562.6V254.7H562V253.3H561.4V248.9H560.8V250.6H560.2V250.3H559.6V250.3H559V248H558.4V247.1H557.8V243.6H557.2V243.3H556.6V242.9H556V242.9H555.4V241.2H554.8V241.2H554.2V239.6H553.6V239.9H553V237.3H552.4V235.1H551.8V235.1H551.2V233.6H550.6V233.2H550V232.1H549.4V231.8H548.8V230.5H548.2V229.2H547.6V230H547V228.6H546.4V227.1H545.8V225.4H545.2V225.4H544.6V223.7H544V222.4H543.4V221.7H542.8V220.3H542.2V220.3H541.6V219.7H541V217.9H540.4V217.4H539.8V216H539.2V215.8H538.6V214.6H538V213.7H537.4V213.9H536.8V212.6H536.2V210.7H535.6V209.9H535V208.9H534.4V208.4H533.8V206.9H533.2V206.6H532.6V211.6H532V272.6H531.4V312.8H530.8Z" fill="#FFC11E" stroke="#FFC11E" stroke-width="1.2" stroke-linejoin="round"/>
<path d="M530.8 276.7V276.7H531.4V210.9H532V203.2H532.6V206.5H533.2V212.6H533.8V216.8H534.4V222.1H535V225.5H535.6V230.9H536.2V233H536.8V239.4H537.4V243H538V246.2H538.6V253.5H539.2V255H539.8V260.9H540.4V265.8H541V267.5H541.6V268.4H542.2V275.2H542.8V272.6H543.4V280.2H544V280.2H544.6V282.3H545.2V287.6H545.8V295.6H546.4V284.7H547V291.1H547.6V287.6H548.2V287.6H548.8V291.1H549.4V295.6H550V291.1H550.6V295.6H551.2V295.6H551.8V295.6H552.4V295.6H553V295.6H553.6V295.6H554.2V312.8H554.8V301.9H555.4V301.9H556V295.6H556.6V301.9H556.9V312.8H556.6V312.8H556V312.8H555.4V312.8H554.8V312.8H554.2V312.8H553.6V312.8H553V312.8H552.4V312.8H551.8V312.8H551.2V312.8H550.6V312.8H550V312.8H549.4V312.8H548.8V312.8H548.2V312.8H547.6V312.8H547V312.8H546.4V312.8H545.8V301.9H545.2V312.8H544.6V312.8H544V301.9H543.4V291.1H542.8V301.9H542.2V284.7H541.6V283.8H541V279.6H540.4V280.1H539.8V265.8H539.2V264.3H538.6V258.5H538V257.5H537.4V246.6H536.8V241.9H536.2V235.8H535.6V232.1H535V227.5H534.4V222.1H533.8V217.6H533.2V212.6H532.6V210.9H532V276.7H531.4V312.8H530.8Z" fill="#3DBE72" stroke="#3DBE72" stroke-width="1.2" stroke-linejoin="round"/>
<path d="M530.8 272.6V272.6H531.4V212H532V203.5H532.6V205.9H533.2V209.1H533.8V212.3H534.4V213.8H535V216H535.6V216.4H536.2V217.7H536.8V220.2H537.4V219.3H538V222H538.6V219.3H539.2V223H539.8V221H540.4V223.4H541V224H541.6V224H542.2V226.1H542.8V225.6H543.4V224.7H544V227.4H544.6V228.5H545.2V225.9H545.8V228.2H546.4V230H547V229.4H547.6V229.4H548.2V231.4H548.8V231.7H549.4V231.7H550V232.8H550.6V230.4H551.2V234.9H551.8V237.2H552.4V236.2H553V236.2H553.6V236.7H554.2V236.7H554.8V235.3H555.4V239.4H556V241.2H556.6V239.4H557.2V241.9H557.8V241.9H558.4V238.8H559V241.2H559.6V244.9H560.2V244.1H560.8V242.6H561.4V243.3H562V243.3H562.6V245.8H563.2V246.6H563.8V250.2H564.4V243.5H565V243.5H565.6V245.9H566.2V245.9H566.8V252.4H567.4V248.8H568V250.9H568.6V247.9H569.2V253.2H569.8V253.1H570.4V255.5H571V252.9H571.6V254H572.2V255.3H572.8V255.3H573.4V259.8H574V258.5H574.6V255.3H575.2V258.1H575.8V256.9H576.4V262.4H577V263H577.6V263.9H578.2V264.2H578.8V265.7H579.4V264.5H580V265.1H580.6V268.8H581.2V265.8H581.8V265.5H582.4V268.6H583V268.4H583.6V269.3H584.2V272.6H584.8V263.6H585.4V270.3H586V271.4H586.6V275.2H587.2V270.3H587.8V271.4H588.4V270.3H589V272.6H589.6V272.6H590.2V275.2H590.8V273.8H591.4V276.7H592V275.2H592.6V272.6H593.2V267.5H593.8V276.7H594.4V280.2H595V278.4H595.6V278.4H596.2V280.2H596.8V275.2H597.4V278.4H598V278.4H598.6V280.2H599.2V282.3H599.8V284.7H600.4V284.7H601V276.7H601.6V284.7H602.2V282.3H602.8V284.7H603.4V284.7H604V278.4H604.6V282.3H605.2V284.7H605.8V284.7H606.4V282.3H606.7V301.9H606.4V301.9H605.8V301.9H605.2V301.9H604.6V301.9H604V301.9H603.4V301.9H602.8V301.9H602.2V301.9H601.6V301.9H601V301.9H600.4V301.9H599.8V301.9H599.2V301.9H598.6V301.9H598V301.9H597.4V301.9H596.8V301.9H596.2V301.9H595.6V301.9H595V291.1H594.4V301.9H593.8V301.9H593.2V295.6H592.6V301.9H592V301.9H591.4V287.6H590.8V287.6H590.2V287.6H589.6V291.1H589V284.7H588.4V282.3H587.8V291.1H587.2V287.6H586.6V291.1H586V287.6H585.4V287.6H584.8V287.6H584.2V287.6H583.6V284.7H583V279.6H582.4V274H581.8V280.4H581.2V280.1H580.6V284.2H580V284.2H579.4V278.1H578.8V274.8H578.2V281.7H577.6V276.1H577V277.4H576.4V275H575.8V272.2H575.2V270.9H574.6V270.9H574V271.8H573.4V269.5H572.8V263.5H572.2V272.6H571.6V269.6H571V271.3H570.4V267.7H569.8V272.5H569.2V269.3H568.6V266.1H568V274.2H567.4V262.5H566.8V261.7H566.2V263.1H565.6V262.7H565V256.1H564.4V266.4H563.8V258.6H563.2V260.6H562.6V256.6H562V256.6H561.4V255H560.8V260.6H560.2V253.5H559.6V253.5H559V252.1H558.4V255H557.8V248.6H557.2V250.9H556.6V253.5H556V247.6H555.4V249.7H554.8V248.6H554.2V249.7H553.6V245.8H553V241.2H552.4V244.1H551.8V244.1H551.2V240.6H550.6V241.2H550V242.6H549.4V241.9H548.8V240H548.2V240H547.6V238.8H547V236.2H546.4V236.2H545.8V236.7H545.2V237.2H544.6V233.6H544V234H543.4V231.4H542.8V231H542.2V231H541.6V231H541V227.7H540.4V227.4H539.8V227.1H539.2V225.4H538.6V226.6H538V224.7H537.4V222.6H536.8V224.5H536.2V220.7H535.6V221.2H535V220.7H534.4V216.1H533.8V214.5H533.2V213.5H532.6V212H532V272.6H531.4V312.8H530.8Z" fill="#129A94" stroke="#129A94" stroke-width="1.2" stroke-linejoin="round"/>
<path d="M521.4 284.7V284.7H522V280.2H522.6V280.2H523.2V291.1H523.8V284.7H524.4V284.7H525V291.1H525.6V284.7H526.2V291.1H526.8V273.8H527.4V284.7H528V284.7H528.6V291.1H529.2V276.7H529.8V291.1H530.4V284.7H531V244.1H531.6V204H532.2V202.9H532.8V204.6H533.4V204.6H534V207.3H534.6V208.1H535.2V208H535.8V209.5H536.4V210.3H537V210.8H537.6V211.7H538.2V212H538.8V213.3H539.4V215H540V216H540.6V216H541.2V217.8H541.8V217.3H542.4V219.5H543V219.2H543.6V220.3H544.2V221.9H544.8V221.5H545.4V223.2H546V223.4H546.6V223.4H547.2V224H547.8V225.4H548.4V225.9H549V225.7H549.6V226.9H550.2V227.1H550.8V227.1H551.4V228.7H552V230.4H552.6V230.2H553.2V230.2H553.8V231.9H554.4V232.3H555V232.5H555.6V234H556.2V231H556.8V234.2H557.4V234.7H558V236.2H558.6V235.1H559.2V235.8H559.8V237.7H560.4V239.1H561V238.3H561.6V239.1H562.2V239.7H562.8V240.9H563.4V239.7H564V240.6H564.6V242.6H565.2V244.9H565.8V241.2H566.4V243H567V243.7H567.6V243.7H568.2V246.6H568.8V247.1H569.4V247.6H570V249.7H570.6V247.1H571.2V248.6H571.8V249.1H572.4V249.7H573V249.7H573.6V250.3H574.2V250.3H574.8V253.5H575.4V248.1H576V253.5H576.6V253.5H577.2V254.2H577.8V258.5H578.4V254.2H579V253.5H579.6V253.5H580.2V260.6H580.8V256.6H581.4V255H582V259.5H582.6V256.6H583.2V258.5H583.8V260.6H584.4V259.5H585V259.5H585.6V263H586.2V260.6H586.8V264.3H587.4V264.3H588V264.3H588.6V265.8H589.2V263H589.8V261.7H590.4V264.3H591V261.7H591.6V263H592.2V265.8H592.8V263H593.4V265.8H594V271.4H594.6V264.3H595.2V267.5H595.8V267.5H596.4V267.5H597V267.5H597.6V269.3H598.2V267.5H598.8V267.5H599.4V269.3H600V269.3H600.6V273.8H601.2V269.3H601.8V271.4H602.4V273.8H603V269.3H603.6V271.4H604.2V271.4H604.8V273.8H605.4V276.7H606V269.3H606.6V271.4H607.2V280.2H607.8V273.8H608.4V271.4H609V276.7H609.6V276.7H610.2V276.7H610.8V273.8H611.4V273.8H612V271.4H612.6V276.7H613.2V280.2H613.8V273.8H614.4V280.2H615V276.7H615.6V280.2H616.2V271.4H616.8V280.2H617.4V276.7H618V280.2H618.6V280.2H619.2V276.7H619.8V280.2H620.4V276.7H621V284.7H621.6V276.7H622.2V273.8H622.8V273.8H623.4V284.7H624V273.8H624.6V273.8H625.2V284.7H625.8V284.7H626.4V284.7H627V280.2H627.6V284.7H628.2V280.2H628.8V280.2H629.4V284.7H630V276.7H630.6V291.1H631.2V284.7H631.8V280.2H632.4V284.7H633V291.1H633.6V280.2H634.2V280.2H634.8V284.7H635.4V284.7H636V284.7H636.6V284.7H637.2V273.8H637.8V284.7H638.4V280.2H639V280.2H639.6V291.1H640.2V284.7H640.8V284.7H641.4V280.2H642V284.7H642.6V276.7H643.2V284.7H643.8V284.7H644.4V276.7H645V276.7H645.6V284.7H646.2V284.7H646.8V284.7H647.4V276.7H648V284.7H648.6V280.2H649.2V291.1H649.8V284.7H650.4V284.7H651V284.7H651.6V284.7H652.2V284.7H652.8V280.2H653.4V284.7H654V284.7H654.6V291.1H655.2V291.1H655.8V284.7H656.4V284.7H657V291.1H657.6V284.7H658.2V280.2H658.8V276.7H659.4V276.7H660V284.7H660.6V276.7H661.2V291.1H661.8V284.7H662.4V276.7H663V284.7H663.5V312.8H663V312.8H662.4V312.8H661.8V312.8H661.2V312.8H660.6V312.8H660V312.8H659.4V312.8H658.8V312.8H658.2V312.8H657.6V312.8H657V312.8H656.4V312.8H655.8V312.8H655.2V312.8H654.6V312.8H654V312.8H653.4V312.8H652.8V312.8H652.2V312.8H651.6V312.8H651V312.8H650.4V312.8H649.8V312.8H649.2V312.8H648.6V312.8H648V312.8H647.4V312.8H646.8V312.8H646.2V312.8H645.6V312.8H645V312.8H644.4V312.8H643.8V312.8H643.2V312.8H642.6V312.8H642V312.8H641.4V312.8H640.8V312.8H640.2V312.8H639.6V312.8H639V312.8H638.4V312.8H637.8V312.8H637.2V312.8H636.6V312.8H636V312.8H635.4V312.8H634.8V312.8H634.2V312.8H633.6V312.8H633V312.8H632.4V312.8H631.8V312.8H631.2V312.8H630.6V312.8H630V312.8H629.4V312.8H628.8V312.8H628.2V312.8H627.6V301.9H627V312.8H626.4V312.8H625.8V312.8H625.2V312.8H624.6V312.8H624V301.9H623.4V301.9H622.8V312.8H622.2V312.8H621.6V312.8H621V301.9H620.4V301.9H619.8V312.8H619.2V312.8H618.6V312.8H618V312.8H617.4V312.8H616.8V312.8H616.2V312.8H615.6V312.8H615V312.8H614.4V312.8H613.8V312.8H613.2V312.8H612.6V312.8H612V301.9H611.4V312.8H610.8V312.8H610.2V301.9H609.6V312.8H609V312.8H608.4V312.8H607.8V312.8H607.2V301.9H606.6V301.9H606V301.9H605.4V312.8H604.8V301.9H604.2V312.8H603.6V312.8H603V284.7H602.4V291.1H601.8V301.9H601.2V301.9H600.6V312.8H600V301.9H599.4V301.9H598.8V301.9H598.2V291.1H597.6V284.7H597V284.7H596.4V291.1H595.8V301.9H595.2V284.7H594.6V284.7H594V284.7H593.4V301.9H592.8V301.9H592.2V280.2H591.6V280.2H591V276.7H590.4V276.7H589.8V291.1H589.2V276.7H588.6V280.2H588V280.2H587.4V280.2H586.8V280.2H586.2V273.8H585.6V273.8H585V280.2H584.4V284.7H583.8V269.3H583.2V273.8H582.6V280.2H582V276.7H581.4V273.8H580.8V267.5H580.2V264.3H579.6V265.8H579V269.3H578.4V265.8H577.8V269.3H577.2V269.3H576.6V269.3H576V264.3H575.4V263H574.8V261.7H574.2V265.8H573.6V265.8H573V257.5H572.4V255.8H571.8V255.8H571.2V256.6H570.6V255.8H570V255H569.4V255.8H568.8V251.5H568.2V253.5H567.6V252.8H567V250.3H566.4V256.6H565.8V248.1H565.2V251.5H564.6V249.1H564V249.7H563.4V247.1H562.8V245.8H562.2V246.2H561.6V246.2H561V244.9H560.4V243.7H559.8V246.2H559.2V241.9H558.6V242.6H558V242.3H557.4V240.6H556.8V238H556.2V238.8H555.6V236.7H555V235.1H554.4V238.3H553.8V235.1H553.2V235.1H552.6V234.7H552V232.5H551.4V231.7H550.8V231.7H550.2V234.5H549.6V231.7H549V229.9H548.4V230.4H547.8V229.6H547.2V226.5H546.6V227.3H546V225.6H545.4V226.6H544.8V225.6H544.2V223.2H543.6V223.4H543V223.6H542.4V220.6H541.8V220.6H541.2V218.8H540.6V218H540V217.8H539.4V217.7H538.8V217.7H538.2V214.5H537.6V213.9H537V213.4H536.4V212.8H535.8V211.3H535.2V209.7H534.6V209.4H534V208.9H533.4V206.5H532.8V205.9H532.2V244.1H531.6V312.8H531V312.8H530.4V312.8H529.8V312.8H529.2V312.8H528.6V312.8H528V312.8H527.4V312.8H526.8V312.8H526.2V312.8H525.6V312.8H525V312.8H524.4V312.8H523.8V312.8H523.2V312.8H522.6V312.8H522V312.8H521.4Z" fill="#6961BF" stroke="#6961BF" stroke-width="1.2" stroke-linejoin="round"/>
<path d="M531.6 204.7V204.7H532.2V204.7H532.8V207.8H533.4V212.6H534V217.7H534.6V220.8H535.2V225H535.8V230.2H536.4V233.8H537V233.8H537.6V240.6H538.2V241.9H538.8V244.1H539.4V249.7H540V248.6H540.6V256.6H541.2V255H541.8V255H542.4V258.1H543V260.2H543.6V263.5H544.2V263.9H544.8V264.7H545.4V268H546V266.5H546.6V267H547.2V263.6H547.8V266.6H548.4V272.6H549V273.8H549.6V271.4H550.2V271.4H550.8V273.8H551.4V276.7H552V273.8H552.6V273.8H553.2V276.7H553.8V278.4H554.4V270.3H555V278.4H555.6V280.2H556.2V282.3H556.8V282.3H557.4V284.7H558V287.6H558.6V291.1H559.2V284.7H559.8V282.3H560.4V282.3H561V282.3H561.6V278.4H562.2V284.7H562.8V284.7H563.4V287.6H564V284.7H564.6V287.6H565.2V291.1H565.8V291.1H566.4V282.3H567V291.1H567.6V282.3H568.2V287.6H568.8V284.7H569.4V295.6H570V287.6H570.6V295.6H571.2V284.7H571.8V287.6H572.4V287.6H573V284.7H573.6V291.1H574.2V291.1H574.8V301.9H575.4V291.1H576V291.1H576.6V301.9H577.2V291.1H577.8V291.1H578.4V291.1H579V295.6H579.6V295.6H580.2V295.6H580.8V295.6H581.4V295.6H582V284.7H582.6V284.7H583.2V291.1H583.8V295.6H584.4V295.6H585V295.6H585.6V301.9H586.2V291.1H586.8V295.6H587.4V295.6H588V295.6H588.6V291.1H589.2V295.6H589.8V301.9H590.4V287.6H591V295.6H591.6V295.6H592.2V291.1H592.8V295.6H593.4V291.1H594V291.1H594.6V301.9H595.2V291.1H595.8V295.6H596.4V295.6H597V295.6H597.6V295.6H598.2V295.6H598.8V295.6H599.4V295.6H600V291.1H600.6V295.6H601.2V295.6H601.8V295.6H602.4V291.1H603V295.6H603.6V301.9H604.2V295.6H604.8V295.6H605.4V295.6H606V301.9H606.6V295.6H607.2V295.6H607.8V287.6H608.4V301.9H609V291.1H609.5V312.8H609V312.8H608.4V312.8H607.8V312.8H607.2V312.8H606.6V312.8H606V312.8H605.4V312.8H604.8V312.8H604.2V312.8H603.6V312.8H603V312.8H602.4V312.8H601.8V312.8H601.2V312.8H600.6V301.9H600V312.8H599.4V312.8H598.8V312.8H598.2V312.8H597.6V312.8H597V312.8H596.4V312.8H595.8V312.8H595.2V312.8H594.6V312.8H594V312.8H593.4V312.8H592.8V312.8H592.2V312.8H591.6V312.8H591V312.8H590.4V312.8H589.8V312.8H589.2V312.8H588.6V312.8H588V312.8H587.4V312.8H586.8V312.8H586.2V312.8H585.6V312.8H585V312.8H584.4V312.8H583.8V312.8H583.2V312.8H582.6V312.8H582V312.8H581.4V312.8H580.8V312.8H580.2V312.8H579.6V312.8H579V312.8H578.4V312.8H577.8V312.8H577.2V312.8H576.6V312.8H576V312.8H575.4V312.8H574.8V312.8H574.2V312.8H573.6V312.8H573V312.8H572.4V312.8H571.8V312.8H571.2V312.8H570.6V312.8H570V312.8H569.4V312.8H568.8V312.8H568.2V312.8H567.6V312.8H567V312.8H566.4V312.8H565.8V312.8H565.2V312.8H564.6V312.8H564V312.8H563.4V312.8H562.8V312.8H562.2V301.9H561.6V312.8H561V312.8H560.4V312.8H559.8V301.9H559.2V312.8H558.6V312.8H558V301.9H557.4V301.9H556.8V301.9H556.2V312.8H555.6V295.6H555V301.9H554.4V301.9H553.8V312.8H553.2V312.8H552.6V301.9H552V291.1H551.4V295.6H550.8V287.6H550.2V284.7H549.6V284.7H549V291.1H548.4V280.2H547.8V282.3H547.2V286.9H546.6V293.6H546V293.6H545.4V280.4H544.8V282.4H544.2V273.6H543.6V276.1H543V276.1H542.4V267.6H541.8V273.8H541.2V265.8H540.6V265.8H540V261.7H539.4V255H538.8V249.1H538.2V249.1H537.6V244.9H537V240.3H536.4V236.2H535.8V233.6H535.2V227H534.6V225H534V218.1H533.4V213.1H532.8V208.8H532.2V235.1H531.6Z" fill="#6498D0" stroke="#6498D0" stroke-width="1.2" stroke-linejoin="round"/>
<line x1="619.2" y1="207.3" x2="636.9" y2="207.3" stroke="#F46868" stroke-width="1.6"/>
<text x="639.8" y="210.3" font-family="'Liberation Sans',sans-serif" font-size="8.1" text-anchor="start" font-weight="normal" fill="#111">Film</text>
<line x1="619.2" y1="217.56" x2="636.9" y2="217.56" stroke="#FFC11E" stroke-width="1.6"/>
<text x="639.8" y="220.56" font-family="'Liberation Sans',sans-serif" font-size="8.1" text-anchor="start" font-weight="normal" fill="#111">Glass</text>
<line x1="619.2" y1="227.82" x2="636.9" y2="227.82" stroke="#3DBE72" stroke-width="1.6"/>
<text x="639.8" y="230.82" font-family="'Liberation Sans',sans-serif" font-size="8.1" text-anchor="start" font-weight="normal" fill="#111">Amo-G</text>
<line x1="619.2" y1="238.08" x2="636.9" y2="238.08" stroke="#129A94" stroke-width="1.6"/>
<text x="639.8" y="241.08" font-family="'Liberation Sans',sans-serif" font-size="8.1" text-anchor="start" font-weight="normal" fill="#111">Amo-Y</text>
<line x1="619.2" y1="248.34" x2="636.9" y2="248.34" stroke="#6498D0" stroke-width="1.6"/>
<text x="639.8" y="251.34" font-family="'Liberation Sans',sans-serif" font-size="8.1" text-anchor="start" font-weight="normal" fill="#111">Cry-YG</text>
<line x1="619.2" y1="258.6" x2="636.9" y2="258.6" stroke="#6961BF" stroke-width="1.6"/>
<text x="639.8" y="261.6" font-family="'Liberation Sans',sans-serif" font-size="8.1" text-anchor="start" font-weight="normal" fill="#111">Cry-O</text>
<rect x="507.1" y="194.9" width="170.6" height="126.6" fill="none" stroke="#111" stroke-width="1.4"/>
<path d="M521.4 321.5v3M549.82 321.5v3M578.24 321.5v3M606.66 321.5v3M635.08 321.5v3M663.5 321.5v3" stroke="#111" stroke-width="1"/>
<path d="M507.19 321.5v1.8M535.61 321.5v1.8M564.03 321.5v1.8M592.45 321.5v1.8M620.87 321.5v1.8M649.29 321.5v1.8M677.71 321.5v1.8" stroke="#111" stroke-width="1"/>
<path d="M507.1 312.8h-3M507.1 276.7h-3M507.1 240.6h-3M507.1 204.5h-3" stroke="#111" stroke-width="1"/>
<path d="M507.1 301.93h-1.8M507.1 295.58h-1.8M507.1 291.07h-1.8M507.1 287.57h-1.8M507.1 284.71h-1.8M507.1 282.29h-1.8M507.1 280.2h-1.8M507.1 278.35h-1.8M507.1 265.83h-1.8M507.1 259.48h-1.8M507.1 254.97h-1.8M507.1 251.47h-1.8M507.1 248.61h-1.8M507.1 246.19h-1.8M507.1 244.1h-1.8M507.1 242.25h-1.8M507.1 229.73h-1.8M507.1 223.38h-1.8M507.1 218.87h-1.8M507.1 215.37h-1.8M507.1 212.51h-1.8M507.1 210.09h-1.8M507.1 208h-1.8M507.1 206.15h-1.8M507.1 320.81h-1.8M507.1 318.39h-1.8M507.1 316.3h-1.8M507.1 314.45h-1.8" stroke="#111" stroke-width="0.8"/>
<text x="503.5" y="316.2" font-family="'Liberation Sans',sans-serif" font-size="10" text-anchor="end" fill="#111">10<tspan dy="-4.1" font-size="6.8">0</tspan></text>
<text x="503.5" y="280.1" font-family="'Liberation Sans',sans-serif" font-size="10" text-anchor="end" fill="#111">10<tspan dy="-4.1" font-size="6.8">1</tspan></text>
<text x="503.5" y="244" font-family="'Liberation Sans',sans-serif" font-size="10" text-anchor="end" fill="#111">10<tspan dy="-4.1" font-size="6.8">2</tspan></text>
<text x="503.5" y="207.9" font-family="'Liberation Sans',sans-serif" font-size="10" text-anchor="end" fill="#111">10<tspan dy="-4.1" font-size="6.8">3</tspan></text>
<text x="521.4" y="334" font-family="'Liberation Sans',sans-serif" font-size="9.5" text-anchor="middle" font-weight="normal" fill="#111">0</text>
<text x="549.82" y="334" font-family="'Liberation Sans',sans-serif" font-size="9.5" text-anchor="middle" font-weight="normal" fill="#111">20</text>
<text x="578.24" y="334" font-family="'Liberation Sans',sans-serif" font-size="9.5" text-anchor="middle" font-weight="normal" fill="#111">40</text>
<text x="606.66" y="334" font-family="'Liberation Sans',sans-serif" font-size="9.5" text-anchor="middle" font-weight="normal" fill="#111">60</text>
<text x="635.08" y="334" font-family="'Liberation Sans',sans-serif" font-size="9.5" text-anchor="middle" font-weight="normal" fill="#111">80</text>
<text x="663.5" y="334" font-family="'Liberation Sans',sans-serif" font-size="9.5" text-anchor="middle" font-weight="normal" fill="#111">100</text>
<text x="486" y="258.6" font-family="'Liberation Sans',sans-serif" font-size="12" text-anchor="middle" font-weight="normal" fill="#111" transform="rotate(-90 486 258.6)">Intensity</text>
<text x="588.2" y="344.3" font-family="'Liberation Sans',sans-serif" font-size="12" text-anchor="middle" font-weight="normal" fill="#111">Delay Time (ns)</text>
<path d="M46.6 450.5V450.5H47.2V450.5H47.8V462.3H48.4V453.4H49V453.4H49.6V453.4H50.2V453.4H50.8V441.6H51.4V371H52V373.5H52.6V382H53.2V390.8H53.8V397.8H54.4V404.7H55V409.4H55.6V414.9H56.2V421.4H56.8V421.4H57.4V423.1H58V430H58.6V430.9H59.2V435.4H59.8V439.2H60.4V441.6H61V439.2H61.6V442.9H62.2V444.5H62.8V444.5H63.4V448.2H64V446.2H64.6V448.2H65.2V453.4H65.8V453.4H66.4V453.4H67V448.2H67.6V444.5H68.2V453.4H68.8V453.4H69.4V450.5H70V450.5H70.6V453.4H71.2V453.4H71.8V450.5H72.4V450.5H73V450.5H73.6V453.4H74.2V450.5H74.8V453.4H75.4V453.4H76V457.1H76.6V457.1H77.2V453.4H77.8V446.2H78.4V457.1H79V453.4H79.6V453.4H80.2V457.1H80.8V453.4H81.4V453.4H82V453.4H82.6V453.4H83.2V450.5H83.8V448.2H84.4V450.5H85V453.4H85.6V457.1H86.2V453.4H86.8V457.1H87.4V453.4H88V450.5H88.6V450.5H89.2V450.5H89.8V450.5H90.4V448.2H91V448.2H91.6V457.1H92.2V457.1H92.8V453.4H93.4V450.5H94V453.4H94.6V453.4H95.2V453.4H95.8V453.4H96.4V453.4H97V453.4H97.6V457.1H98.2V450.5H98.8V457.1H99.4V453.4H100V450.5H100.6V450.5H101.2V444.5H101.8V453.4H102.4V450.5H103V457.1H103.6V450.5H104.2V450.5H104.8V457.1H105.4V471.2H106V457.1H106.6V453.4H107.2V453.4H107.8V462.3H108.4V446.2H109V453.4H109.6V448.2H110.2V450.5H110.8V450.5H111.4V450.5H112V448.2H112.6V457.1H113.2V453.4H113.8V457.1H114.4V457.1H115V450.5H115.6V450.5H116.2V453.4H116.8V450.5H117.4V450.5H118V457.1H118.6V453.4H119.2V446.2H119.8V446.2H120.4V450.5H121V450.5H121.6V457.1H122.2V462.3H122.8V457.1H123.4V453.4H124V453.4H124.6V457.1H125.2V457.1H125.8V453.4H126.4V453.4H127V457.1H127.6V457.1H128.2V457.1H128.8V450.5H129.4V450.5H130V450.5H130.6V446.2H131.2V450.5H131.8V453.4H132.4V444.5H133V448.2H133.6V457.1H134.2V453.4H134.8V453.4H135.4V448.2H136V448.2H136.6V453.4H137.2V457.1H137.8V450.5H138.4V448.2H139V462.3H139.6V453.4H140.2V462.3H140.8V457.1H141.4V450.5H142V450.5H142.6V450.5H143.2V457.1H143.8V457.1H144.4V457.1H145V453.4H145.6V462.3H146.2V457.1H146.8V457.1H147.4V457.1H148V453.4H148.6V453.4H149.2V453.4H149.8V457.1H150.4V453.4H151V457.1H151.6V457.1H152.2V453.4H152.8V462.3H153.4V450.5H154V453.4H154.6V453.4H155.2V446.2H155.8V453.4H156.4V450.5H157V457.1H157.6V450.5H158.2V457.1H158.8V457.1H159.4V457.1H160V457.1H160.6V457.1H161.2V453.4H161.8V453.4H162.4V450.5H163V450.5H163.6V453.4H164.2V453.4H164.8V453.4H165.4V450.5H166V457.1H166.6V457.1H167.2V453.4H167.8V453.4H168.4V453.4H169V448.2H169.6V450.5H170.2V450.5H170.8V450.5H171.4V450.5H172V450.5H172.6V457.1H173.2V450.5H173.8V450.5H174.4V450.5H175V453.4H175.6V453.4H176.2V457.1H176.8V450.5H177.4V457.1H178V453.4H178.6V453.4H179.2V457.1H179.8V457.1H180.4V450.5H181V450.5H181.6V457.1H182.2V450.5H182.8V453.4H183.3V462.3H182.8V480.1H182.2V480.1H181.6V471.2H181V471.2H180.4V480.1H179.8V480.1H179.2V480.1H178.6V480.1H178V471.2H177.4V480.1H176.8V471.2H176.2V471.2H175.6V480.1H175V471.2H174.4V471.2H173.8V471.2H173.2V480.1H172.6V480.1H172V480.1H171.4V471.2H170.8V471.2H170.2V471.2H169.6V480.1H169V471.2H168.4V480.1H167.8V471.2H167.2V471.2H166.6V480.1H166V480.1H165.4V480.1H164.8V471.2H164.2V471.2H163.6V480.1H163V471.2H162.4V480.1H161.8V471.2H161.2V471.2H160.6V471.2H160V480.1H159.4V480.1H158.8V480.1H158.2V480.1H157.6V471.2H157V471.2H156.4V471.2H155.8V471.2H155.2V471.2H154.6V480.1H154V480.1H153.4V471.2H152.8V480.1H152.2V480.1H151.6V480.1H151V480.1H150.4V480.1H149.8V471.2H149.2V480.1H148.6V471.2H148V480.1H147.4V471.2H146.8V480.1H146.2V480.1H145.6V480.1H145V480.1H144.4V471.2H143.8V471.2H143.2V480.1H142.6V471.2H142V480.1H141.4V480.1H140.8V471.2H140.2V471.2H139.6V480.1H139V480.1H138.4V471.2H137.8V480.1H137.2V480.1H136.6V480.1H136V480.1H135.4V480.1H134.8V471.2H134.2V471.2H133.6V471.2H133V480.1H132.4V480.1H131.8V480.1H131.2V480.1H130.6V471.2H130V462.3H129.4V480.1H128.8V480.1H128.2V471.2H127.6V480.1H127V480.1H126.4V480.1H125.8V480.1H125.2V480.1H124.6V480.1H124V480.1H123.4V480.1H122.8V480.1H122.2V471.2H121.6V471.2H121V480.1H120.4V471.2H119.8V480.1H119.2V480.1H118.6V480.1H118V480.1H117.4V480.1H116.8V471.2H116.2V471.2H115.6V471.2H115V471.2H114.4V471.2H113.8V471.2H113.2V480.1H112.6V471.2H112V480.1H111.4V480.1H110.8V480.1H110.2V471.2H109.6V480.1H109V480.1H108.4V480.1H107.8V480.1H107.2V480.1H106.6V471.2H106V480.1H105.4V480.1H104.8V471.2H104.2V480.1H103.6V480.1H103V471.2H102.4V480.1H101.8V480.1H101.2V480.1H100.6V480.1H100V480.1H99.4V480.1H98.8V480.1H98.2V471.2H97.6V471.2H97V480.1H96.4V471.2H95.8V480.1H95.2V471.2H94.6V480.1H94V471.2H93.4V480.1H92.8V480.1H92.2V480.1H91.6V480.1H91V471.2H90.4V471.2H89.8V471.2H89.2V471.2H88.6V480.1H88V480.1H87.4V471.2H86.8V480.1H86.2V480.1H85.6V471.2H85V471.2H84.4V480.1H83.8V480.1H83.2V462.3H82.6V471.2H82V480.1H81.4V462.3H80.8V480.1H80.2V471.2H79.6V471.2H79V480.1H78.4V480.1H77.8V480.1H77.2V480.1H76.6V480.1H76V471.2H75.4V480.1H74.8V471.2H74.2V471.2H73.6V480.1H73V471.2H72.4V480.1H71.8V471.2H71.2V480.1H70.6V480.1H70V480.1H69.4V480.1H68.8V462.3H68.2V462.3H67.6V480.1H67V480.1H66.4V480.1H65.8V480.1H65.2V471.2H64.6V471.2H64V480.1H63.4V480.1H62.8V462.3H62.2V457.1H61.6V457.1H61V457.1H60.4V448.2H59.8V442.9H59.2V440.3H58.6V443.7H58V438.3H57.4V434H56.8V434H56.2V428.4H55.6V420.9H55V412H54.4V406.9H53.8V399.1H53.2V391H52.6V382H52V441.6H51.4V480.1H50.8V480.1H50.2V480.1H49.6V471.2H49V480.1H48.4V471.2H47.8V480.1H47.2V480.1H46.6Z" fill="#6962C4" stroke="#6962C4" stroke-width="0.9" stroke-linejoin="round"/>
<path d="M46.6 453.4V453.4H47.2V453.4H47.8V448.2H48.4V453.4H49V453.4H49.6V446.2H50.2V457.1H50.8V429.3H51.4V370.1H52V372.9H52.6V380.5H53.2V389.4H53.8V394.5H54.4V400.4H55V407.7H55.6V412.8H56.2V415.9H56.8V418.1H57.4V422.5H58V430.3H58.6V426H59.2V428.8H59.8V429.8H60.4V432.8H61V436.4H61.6V435.5H62.2V436.4H62.8V440.4H63.4V446.2H64V442.9H64.6V450.5H65.2V448.2H65.8V448.2H66.4V444.5H67V453.4H67.6V453.4H68.2V450.5H68.8V450.5H69.4V450.5H70V450.5H70.6V453.4H71.2V453.4H71.8V457.1H72.4V453.4H73V457.1H73.6V453.4H74.2V457.1H74.8V457.1H75.4V453.4H76V453.4H76.6V457.1H77.2V457.1H77.8V457.1H78.4V450.5H79V457.1H79.6V453.4H80.2V450.5H80.8V450.5H81.4V457.1H82V457.1H82.6V457.1H83.2V453.4H83.8V457.1H84.4V457.1H85V462.3H85.6V457.1H86.2V457.1H86.8V453.4H87.4V453.4H88V453.4H88.6V453.4H89.2V457.1H89.8V450.5H90.4V453.4H91V450.5H91.6V453.4H92.2V450.5H92.8V450.5H93.4V453.4H94V457.1H94.6V457.1H95.2V462.3H95.8V457.1H96.4V448.2H97V448.2H97.6V457.1H98.2V457.1H98.8V457.1H99.4V453.4H100V450.5H100.6V450.5H101.2V453.4H101.8V457.1H102.4V462.3H103V453.4H103.6V453.4H104.2V453.4H104.8V453.4H105.4V453.4H106V462.3H106.6V457.1H107.2V448.2H107.8V457.1H108.4V457.1H109V450.5H109.6V453.4H110.2V457.1H110.8V453.4H111.4V450.5H112V453.4H112.6V450.5H113.2V462.3H113.8V453.4H114.4V448.2H115V453.4H115.6V457.1H116.2V453.4H116.8V453.4H117.4V450.5H118V448.2H118.6V457.1H119.2V448.2H119.8V453.4H120.4V462.3H121V453.4H121.6V453.4H122.2V450.5H122.8V446.2H123.4V453.4H124V453.4H124.6V450.5H125.2V457.1H125.8V453.4H126.4V453.4H127V457.1H127.6V450.5H128.2V450.5H128.8V453.4H129.4V448.2H130V448.2H130.6V453.4H131.2V448.2H131.8V462.3H132.4V448.2H133V453.4H133.6V453.4H134.2V453.4H134.8V457.1H135.4V457.1H136V462.3H136.6V457.1H137.2V453.4H137.8V457.1H138.4V462.3H139V453.4H139.6V457.1H140.2V453.4H140.8V453.4H141.4V453.4H142V457.1H142.6V450.5H143.2V453.4H143.8V457.1H144.4V453.4H145V453.4H145.6V450.5H146.2V453.4H146.8V457.1H147.4V453.4H148V453.4H148.6V457.1H149.2V457.1H149.8V450.5H150.4V450.5H151V453.4H151.6V453.4H152.2V457.1H152.8V453.4H153.4V457.1H154V457.1H154.6V462.3H155.2V457.1H155.8V457.1H156.4V450.5H157V457.1H157.6V450.5H158.2V450.5H158.8V457.1H159.4V457.1H160V457.1H160.6V450.5H161.2V450.5H161.8V450.5H162.4V448.2H163V448.2H163.6V462.3H164.2V446.2H164.8V457.1H165.4V453.4H166V457.1H166.6V453.4H167.2V453.4H167.8V446.2H168.4V453.4H169V453.4H169.6V450.5H170.2V457.1H170.8V457.1H171.4V457.1H172V453.4H172.6V457.1H173.2V450.5H173.8V450.5H174.4V462.3H175V462.3H175.6V462.3H176.2V457.1H176.8V453.4H177.4V453.4H178V453.4H178.6V453.4H179.2V453.4H179.8V453.4H180.4V457.1H181V457.1H181.6V462.3H182.2V457.1H182.8V457.1H183.3V480.1H182.8V480.1H182.2V480.1H181.6V480.1H181V480.1H180.4V471.2H179.8V480.1H179.2V480.1H178.6V480.1H178V480.1H177.4V471.2H176.8V480.1H176.2V480.1H175.6V480.1H175V471.2H174.4V480.1H173.8V471.2H173.2V471.2H172.6V480.1H172V480.1H171.4V480.1H170.8V480.1H170.2V480.1H169.6V471.2H169V471.2H168.4V480.1H167.8V480.1H167.2V480.1H166.6V480.1H166V471.2H165.4V480.1H164.8V480.1H164.2V480.1H163.6V480.1H163V480.1H162.4V480.1H161.8V480.1H161.2V480.1H160.6V480.1H160V471.2H159.4V480.1H158.8V480.1H158.2V471.2H157.6V471.2H157V480.1H156.4V480.1H155.8V480.1H155.2V480.1H154.6V480.1H154V480.1H153.4V480.1H152.8V471.2H152.2V471.2H151.6V480.1H151V480.1H150.4V480.1H149.8V480.1H149.2V471.2H148.6V480.1H148V471.2H147.4V480.1H146.8V471.2H146.2V471.2H145.6V480.1H145V480.1H144.4V480.1H143.8V471.2H143.2V480.1H142.6V471.2H142V462.3H141.4V480.1H140.8V480.1H140.2V471.2H139.6V480.1H139V480.1H138.4V471.2H137.8V480.1H137.2V480.1H136.6V480.1H136V471.2H135.4V480.1H134.8V480.1H134.2V480.1H133.6V480.1H133V471.2H132.4V480.1H131.8V480.1H131.2V480.1H130.6V480.1H130V471.2H129.4V480.1H128.8V480.1H128.2V480.1H127.6V480.1H127V480.1H126.4V480.1H125.8V480.1H125.2V480.1H124.6V471.2H124V471.2H123.4V480.1H122.8V480.1H122.2V480.1H121.6V471.2H121V480.1H120.4V480.1H119.8V480.1H119.2V471.2H118.6V480.1H118V480.1H117.4V471.2H116.8V480.1H116.2V471.2H115.6V480.1H115V471.2H114.4V480.1H113.8V471.2H113.2V480.1H112.6V480.1H112V480.1H111.4V471.2H110.8V480.1H110.2V480.1H109.6V480.1H109V480.1H108.4V480.1H107.8V471.2H107.2V471.2H106.6V480.1H106V480.1H105.4V480.1H104.8V471.2H104.2V480.1H103.6V480.1H103V480.1H102.4V471.2H101.8V480.1H101.2V471.2H100.6V471.2H100V480.1H99.4V471.2H98.8V471.2H98.2V471.2H97.6V471.2H97V480.1H96.4V480.1H95.8V480.1H95.2V471.2H94.6V480.1H94V480.1H93.4V471.2H92.8V471.2H92.2V471.2H91.6V480.1H91V471.2H90.4V480.1H89.8V471.2H89.2V480.1H88.6V480.1H88V480.1H87.4V480.1H86.8V471.2H86.2V471.2H85.6V480.1H85V480.1H84.4V480.1H83.8V480.1H83.2V480.1H82.6V480.1H82V480.1H81.4V480.1H80.8V480.1H80.2V480.1H79.6V480.1H79V462.3H78.4V471.2H77.8V471.2H77.2V471.2H76.6V480.1H76V480.1H75.4V480.1H74.8V480.1H74.2V480.1H73.6V480.1H73V480.1H72.4V480.1H71.8V471.2H71.2V471.2H70.6V480.1H70V480.1H69.4V480.1H68.8V480.1H68.2V462.3H67.6V480.1H67V480.1H66.4V480.1H65.8V457.1H65.2V457.1H64.6V471.2H64V471.2H63.4V462.3H62.8V462.3H62.2V450.5H61.6V444.5H61V442.1H60.4V436.9H59.8V440.2H59.2V431.6H58.6V434H58V431.5H57.4V426.6H56.8V423.8H56.2V423.1H55.6V412.8H55V409.6H54.4V402.2H53.8V395.5H53.2V389.4H52.6V380.5H52V429.3H51.4V480.1H50.8V480.1H50.2V480.1H49.6V480.1H49V480.1H48.4V480.1H47.8V471.2H47.2V471.2H46.6Z" fill="#76A6DC" stroke="#76A6DC" stroke-width="0.9" stroke-linejoin="round"/>
<path d="M46.6 457.1V457.1H47.2V457.1H47.8V457.1H48.4V448.2H49V448.2H49.6V450.5H50.2V448.2H50.8V423.1H51.4V371.2H52V372.6H52.6V379.4H53.2V386.5H53.8V393.7H54.4V399.4H55V404.7H55.6V409H56.2V410.8H56.8V415.5H57.4V417.7H58V419.4H58.6V423.8H59.2V424.4H59.8V422.7H60.4V426.8H61V431.1H61.6V431.1H62.2V436.2H62.8V437.3H63.4V440.4H64V438.2H64.6V442.9H65.2V444.5H65.8V446.2H66.4V446.2H67V446.2H67.6V444.5H68.2V450.5H68.8V448.2H69.4V448.2H70V450.5H70.6V450.5H71.2V448.2H71.8V450.5H72.4V450.5H73V453.4H73.6V453.4H74.2V457.1H74.8V457.1H75.4V453.4H76V450.5H76.6V450.5H77.2V453.4H77.8V453.4H78.4V462.3H79V453.4H79.6V453.4H80.2V444.5H80.8V462.3H81.4V462.3H82V453.4H82.6V453.4H83.2V462.3H83.8V448.2H84.4V450.5H85V462.3H85.6V453.4H86.2V453.4H86.8V457.1H87.4V450.5H88V450.5H88.6V457.1H89.2V457.1H89.8V448.2H90.4V462.3H91V457.1H91.6V450.5H92.2V453.4H92.8V457.1H93.4V453.4H94V450.5H94.6V457.1H95.2V453.4H95.8V462.3H96.4V457.1H97V457.1H97.6V457.1H98.2V453.4H98.8V448.2H99.4V453.4H100V462.3H100.6V457.1H101.2V457.1H101.8V453.4H102.4V457.1H103V457.1H103.6V457.1H104.2V450.5H104.8V453.4H105.4V453.4H106V453.4H106.6V457.1H107.2V457.1H107.8V450.5H108.4V453.4H109V453.4H109.6V453.4H110.2V453.4H110.8V450.5H111.4V450.5H112V462.3H112.6V462.3H113.2V457.1H113.8V457.1H114.4V450.5H115V450.5H115.6V457.1H116.2V457.1H116.8V453.4H117.4V446.2H118V457.1H118.6V453.4H119.2V462.3H119.8V453.4H120.4V453.4H121V453.4H121.6V453.4H122.2V457.1H122.8V450.5H123.4V453.4H124V457.1H124.6V457.1H125.2V450.5H125.8V453.4H126.4V462.3H127V462.3H127.6V453.4H128.2V453.4H128.8V453.4H129.4V453.4H130V457.1H130.6V450.5H131.2V450.5H131.8V453.4H132.4V446.2H133V453.4H133.6V450.5H134.2V453.4H134.8V453.4H135.4V453.4H136V457.1H136.6V453.4H137.2V457.1H137.8V450.5H138.4V450.5H139V457.1H139.6V457.1H140.2V457.1H140.8V453.4H141.4V453.4H142V457.1H142.6V457.1H143.2V457.1H143.8V453.4H144.4V462.3H145V453.4H145.6V457.1H146.2V453.4H146.8V450.5H147.4V457.1H148V453.4H148.6V457.1H149.2V453.4H149.8V457.1H150.4V457.1H151V450.5H151.6V453.4H152.2V457.1H152.8V457.1H153.4V457.1H154V462.3H154.6V457.1H155.2V453.4H155.8V462.3H156.4V471.2H157V453.4H157.6V457.1H158.2V457.1H158.8V457.1H159.4V457.1H160V450.5H160.6V457.1H161.2V453.4H161.8V453.4H162.4V453.4H163V450.5H163.6V450.5H164.2V448.2H164.8V462.3H165.4V457.1H166V448.2H166.6V453.4H167.2V457.1H167.8V450.5H168.4V450.5H169V453.4H169.6V462.3H170.2V453.4H170.8V453.4H171.4V453.4H172V462.3H172.6V457.1H173.2V457.1H173.8V453.4H174.4V450.5H175V450.5H175.6V453.4H176.2V471.2H176.8V462.3H177.4V453.4H178V453.4H178.6V457.1H179.2V457.1H179.8V450.5H180.4V453.4H181V448.2H181.6V450.5H182.2V450.5H182.8V457.1H183.3V480.1H182.8V480.1H182.2V480.1H181.6V480.1H181V471.2H180.4V480.1H179.8V471.2H179.2V480.1H178.6V471.2H178V471.2H177.4V480.1H176.8V480.1H176.2V480.1H175.6V480.1H175V480.1H174.4V480.1H173.8V480.1H173.2V480.1H172.6V471.2H172V480.1H171.4V480.1H170.8V480.1H170.2V480.1H169.6V480.1H169V480.1H168.4V480.1H167.8V480.1H167.2V480.1H166.6V480.1H166V480.1H165.4V480.1H164.8V480.1H164.2V480.1H163.6V471.2H163V471.2H162.4V471.2H161.8V480.1H161.2V480.1H160.6V480.1H160V471.2H159.4V480.1H158.8V471.2H158.2V480.1H157.6V471.2H157V480.1H156.4V471.2H155.8V471.2H155.2V480.1H154.6V480.1H154V480.1H153.4V480.1H152.8V480.1H152.2V471.2H151.6V480.1H151V480.1H150.4V480.1H149.8V480.1H149.2V480.1H148.6V480.1H148V480.1H147.4V471.2H146.8V471.2H146.2V480.1H145.6V480.1H145V480.1H144.4V480.1H143.8V471.2H143.2V471.2H142.6V471.2H142V471.2H141.4V480.1H140.8V480.1H140.2V480.1H139.6V480.1H139V480.1H138.4V480.1H137.8V480.1H137.2V480.1H136.6V480.1H136V480.1H135.4V471.2H134.8V471.2H134.2V471.2H133.6V480.1H133V471.2H132.4V471.2H131.8V471.2H131.2V480.1H130.6V471.2H130V471.2H129.4V471.2H128.8V480.1H128.2V480.1H127.6V480.1H127V471.2H126.4V471.2H125.8V462.3H125.2V480.1H124.6V471.2H124V471.2H123.4V480.1H122.8V480.1H122.2V471.2H121.6V471.2H121V471.2H120.4V471.2H119.8V480.1H119.2V480.1H118.6V471.2H118V471.2H117.4V480.1H116.8V480.1H116.2V480.1H115.6V480.1H115V471.2H114.4V480.1H113.8V480.1H113.2V480.1H112.6V480.1H112V480.1H111.4V480.1H110.8V480.1H110.2V480.1H109.6V471.2H109V480.1H108.4V480.1H107.8V480.1H107.2V480.1H106.6V480.1H106V471.2H105.4V480.1H104.8V480.1H104.2V480.1H103.6V471.2H103V471.2H102.4V480.1H101.8V471.2H101.2V471.2H100.6V480.1H100V480.1H99.4V471.2H98.8V480.1H98.2V480.1H97.6V471.2H97V480.1H96.4V480.1H95.8V480.1H95.2V480.1H94.6V480.1H94V480.1H93.4V480.1H92.8V480.1H92.2V462.3H91.6V480.1H91V480.1H90.4V471.2H89.8V471.2H89.2V480.1H88.6V480.1H88V480.1H87.4V480.1H86.8V480.1H86.2V471.2H85.6V480.1H85V462.3H84.4V480.1H83.8V480.1H83.2V480.1H82.6V480.1H82V480.1H81.4V480.1H80.8V471.2H80.2V480.1H79.6V480.1H79V471.2H78.4V471.2H77.8V480.1H77.2V480.1H76.6V471.2H76V471.2H75.4V480.1H74.8V480.1H74.2V480.1H73.6V471.2H73V471.2H72.4V480.1H71.8V471.2H71.2V480.1H70.6V480.1H70V480.1H69.4V471.2H68.8V471.2H68.2V462.3H67.6V471.2H67V462.3H66.4V462.3H65.8V457.1H65.2V457.1H64.6V450.5H64V450.5H63.4V446.2H62.8V445.6H62.2V441.8H61.6V439.4H61V439.4H60.4V435.5H59.8V435.5H59.2V429.3H58.6V425.9H58V423.1H57.4V419.4H56.8V416.9H56.2V411.5H55.6V409.4H55V405.3H54.4V399.4H53.8V396H53.2V386.5H52.6V379.4H52V423.1H51.4V471.2H50.8V471.2H50.2V471.2H49.6V471.2H49V471.2H48.4V480.1H47.8V480.1H47.2V480.1H46.6Z" fill="#139A98" stroke="#139A98" stroke-width="0.9" stroke-linejoin="round"/>
<path d="M46.6 453.4V453.4H47.2V457.1H47.8V444.5H48.4V462.3H49V448.2H49.6V453.4H50.2V453.4H50.8V428.4H51.4V371.4H52V372.3H52.6V380H53.2V386.4H53.8V391.3H54.4V397H55V400.2H55.6V405.5H56.2V405.8H56.8V412H57.4V413.6H58V415.5H58.6V419.4H59.2V419.4H59.8V419.4H60.4V422.5H61V427.7H61.6V427.8H62.2V433.6H62.8V431.3H63.4V434.8H64V435.5H64.6V437.3H65.2V438.2H65.8V438.2H66.4V442.9H67V444.5H67.6V446.2H68.2V444.5H68.8V450.5H69.4V448.2H70V446.2H70.6V450.5H71.2V450.5H71.8V450.5H72.4V444.5H73V448.2H73.6V453.4H74.2V457.1H74.8V450.5H75.4V453.4H76V457.1H76.6V453.4H77.2V457.1H77.8V457.1H78.4V453.4H79V462.3H79.6V450.5H80.2V457.1H80.8V448.2H81.4V448.2H82V450.5H82.6V457.1H83.2V457.1H83.8V453.4H84.4V450.5H85V457.1H85.6V448.2H86.2V457.1H86.8V450.5H87.4V453.4H88V457.1H88.6V457.1H89.2V457.1H89.8V457.1H90.4V462.3H91V457.1H91.6V457.1H92.2V457.1H92.8V462.3H93.4V457.1H94V453.4H94.6V457.1H95.2V457.1H95.8V457.1H96.4V462.3H97V450.5H97.6V450.5H98.2V453.4H98.8V453.4H99.4V457.1H100V457.1H100.6V446.2H101.2V448.2H101.8V450.5H102.4V462.3H103V457.1H103.6V453.4H104.2V453.4H104.8V457.1H105.4V457.1H106V457.1H106.6V453.4H107.2V450.5H107.8V453.4H108.4V453.4H109V450.5H109.6V453.4H110.2V450.5H110.8V457.1H111.4V450.5H112V453.4H112.6V453.4H113.2V453.4H113.8V450.5H114.4V450.5H115V457.1H115.6V457.1H116.2V457.1H116.8V457.1H117.4V450.5H118V453.4H118.6V453.4H119.2V453.4H119.8V450.5H120.4V450.5H121V457.1H121.6V462.3H122.2V453.4H122.8V453.4H123.4V457.1H124V457.1H124.6V462.3H125.2V450.5H125.8V450.5H126.4V453.4H127V453.4H127.6V457.1H128.2V453.4H128.8V462.3H129.4V453.4H130V450.5H130.6V457.1H131.2V453.4H131.8V457.1H132.4V453.4H133V462.3H133.6V462.3H134.2V457.1H134.8V462.3H135.4V448.2H136V457.1H136.6V453.4H137.2V457.1H137.8V457.1H138.4V457.1H139V453.4H139.6V457.1H140.2V457.1H140.8V462.3H141.4V453.4H142V462.3H142.6V453.4H143.2V450.5H143.8V457.1H144.4V453.4H145V453.4H145.6V457.1H146.2V457.1H146.8V453.4H147.4V462.3H148V457.1H148.6V457.1H149.2V450.5H149.8V453.4H150.4V457.1H151V457.1H151.6V450.5H152.2V453.4H152.8V450.5H153.4V450.5H154V457.1H154.6V462.3H155.2V450.5H155.8V450.5H156.4V453.4H157V453.4H157.6V457.1H158.2V457.1H158.8V457.1H159.4V453.4H160V457.1H160.6V457.1H161.2V457.1H161.8V457.1H162.4V450.5H163V457.1H163.6V453.4H164.2V457.1H164.8V457.1H165.4V462.3H166V453.4H166.6V453.4H167.2V457.1H167.8V457.1H168.4V450.5H169V453.4H169.6V446.2H170.2V448.2H170.8V457.1H171.4V453.4H172V457.1H172.6V462.3H173.2V453.4H173.8V453.4H174.4V450.5H175V450.5H175.6V453.4H176.2V457.1H176.8V446.2H177.4V450.5H178V457.1H178.6V450.5H179.2V450.5H179.8V457.1H180.4V457.1H181V453.4H181.6V453.4H182.2V457.1H182.8V450.5H183.3V480.1H182.8V480.1H182.2V480.1H181.6V480.1H181V480.1H180.4V480.1H179.8V480.1H179.2V480.1H178.6V471.2H178V480.1H177.4V480.1H176.8V480.1H176.2V480.1H175.6V480.1H175V480.1H174.4V480.1H173.8V480.1H173.2V480.1H172.6V480.1H172V471.2H171.4V480.1H170.8V480.1H170.2V480.1H169.6V480.1H169V480.1H168.4V480.1H167.8V480.1H167.2V480.1H166.6V480.1H166V480.1H165.4V471.2H164.8V480.1H164.2V480.1H163.6V480.1H163V480.1H162.4V480.1H161.8V480.1H161.2V480.1H160.6V480.1H160V471.2H159.4V471.2H158.8V480.1H158.2V480.1H157.6V480.1H157V471.2H156.4V480.1H155.8V480.1H155.2V480.1H154.6V471.2H154V480.1H153.4V480.1H152.8V480.1H152.2V480.1H151.6V471.2H151V480.1H150.4V480.1H149.8V471.2H149.2V471.2H148.6V480.1H148V480.1H147.4V480.1H146.8V480.1H146.2V480.1H145.6V480.1H145V480.1H144.4V480.1H143.8V471.2H143.2V471.2H142.6V480.1H142V480.1H141.4V480.1H140.8V471.2H140.2V480.1H139.6V480.1H139V480.1H138.4V480.1H137.8V480.1H137.2V480.1H136.6V471.2H136V480.1H135.4V480.1H134.8V480.1H134.2V480.1H133.6V480.1H133V480.1H132.4V480.1H131.8V480.1H131.2V480.1H130.6V480.1H130V480.1H129.4V480.1H128.8V480.1H128.2V480.1H127.6V471.2H127V480.1H126.4V480.1H125.8V471.2H125.2V471.2H124.6V480.1H124V480.1H123.4V471.2H122.8V471.2H122.2V480.1H121.6V480.1H121V480.1H120.4V480.1H119.8V480.1H119.2V480.1H118.6V480.1H118V480.1H117.4V480.1H116.8V480.1H116.2V480.1H115.6V480.1H115V480.1H114.4V471.2H113.8V471.2H113.2V471.2H112.6V471.2H112V480.1H111.4V480.1H110.8V471.2H110.2V480.1H109.6V480.1H109V480.1H108.4V471.2H107.8V480.1H107.2V480.1H106.6V480.1H106V480.1H105.4V480.1H104.8V480.1H104.2V471.2H103.6V480.1H103V471.2H102.4V480.1H101.8V480.1H101.2V471.2H100.6V471.2H100V471.2H99.4V480.1H98.8V471.2H98.2V480.1H97.6V480.1H97V480.1H96.4V471.2H95.8V480.1H95.2V480.1H94.6V471.2H94V480.1H93.4V480.1H92.8V480.1H92.2V471.2H91.6V480.1H91V480.1H90.4V480.1H89.8V471.2H89.2V471.2H88.6V471.2H88V471.2H87.4V480.1H86.8V471.2H86.2V471.2H85.6V480.1H85V480.1H84.4V480.1H83.8V480.1H83.2V480.1H82.6V480.1H82V480.1H81.4V480.1H80.8V480.1H80.2V471.2H79.6V471.2H79V480.1H78.4V480.1H77.8V480.1H77.2V480.1H76.6V480.1H76V480.1H75.4V480.1H74.8V480.1H74.2V471.2H73.6V471.2H73V462.3H72.4V471.2H71.8V471.2H71.2V480.1H70.6V480.1H70V471.2H69.4V480.1H68.8V480.1H68.2V457.1H67.6V462.3H67V471.2H66.4V457.1H65.8V450.5H65.2V450.5H64.6V444.5H64V445.8H63.4V446.8H62.8V443.2H62.2V440.2H61.6V438.5H61V435.5H60.4V431.5H59.8V429.3H59.2V426.6H58.6V421.4H58V419.9H57.4V415.9H56.8V413.9H56.2V410.3H55.6V406.4H55V401.3H54.4V398H53.8V391.8H53.2V386.4H52.6V380H52V428.4H51.4V471.2H50.8V480.1H50.2V480.1H49.6V480.1H49V480.1H48.4V471.2H47.8V471.2H47.2V480.1H46.6Z" fill="#3DBE72" stroke="#3DBE72" stroke-width="0.9" stroke-linejoin="round"/>
<path d="M46.6 457.1V457.1H47.2V457.1H47.8V457.1H48.4V453.4H49V450.5H49.6V450.5H50.2V453.4H50.8V425.1H51.4V371.1H52V372.7H52.6V379.5H53.2V385.4H53.8V390.6H54.4V396H55V401.2H55.6V402.2H56.2V408.6H56.8V408.2H57.4V411.2H58V414.5H58.6V416.6H59.2V419.9H59.8V422.5H60.4V425.1H61V426.6H61.6V426.5H62.2V427.1H62.8V428.4H63.4V434H64V435.8H64.6V436.4H65.2V439.2H65.8V440.4H66.4V439.2H67V439.2H67.6V444.5H68.2V448.2H68.8V446.2H69.4V450.5H70V450.5H70.6V448.2H71.2V448.2H71.8V450.5H72.4V450.5H73V448.2H73.6V450.5H74.2V453.4H74.8V457.1H75.4V457.1H76V446.2H76.6V453.4H77.2V457.1H77.8V457.1H78.4V448.2H79V457.1H79.6V453.4H80.2V453.4H80.8V462.3H81.4V450.5H82V448.2H82.6V462.3H83.2V453.4H83.8V457.1H84.4V457.1H85V453.4H85.6V453.4H86.2V444.5H86.8V462.3H87.4V450.5H88V450.5H88.6V448.2H89.2V450.5H89.8V453.4H90.4V450.5H91V453.4H91.6V457.1H92.2V453.4H92.8V457.1H93.4V457.1H94V448.2H94.6V450.5H95.2V457.1H95.8V450.5H96.4V450.5H97V450.5H97.6V457.1H98.2V453.4H98.8V448.2H99.4V462.3H100V446.2H100.6V457.1H101.2V457.1H101.8V462.3H102.4V450.5H103V450.5H103.6V450.5H104.2V448.2H104.8V446.2H105.4V453.4H106V453.4H106.6V457.1H107.2V453.4H107.8V448.2H108.4V448.2H109V450.5H109.6V453.4H110.2V453.4H110.8V453.4H111.4V453.4H112V448.2H112.6V457.1H113.2V457.1H113.8V448.2H114.4V457.1H115V457.1H115.6V457.1H116.2V450.5H116.8V453.4H117.4V450.5H118V457.1H118.6V453.4H119.2V462.3H119.8V462.3H120.4V457.1H121V450.5H121.6V450.5H122.2V453.4H122.8V453.4H123.4V453.4H124V462.3H124.6V457.1H125.2V453.4H125.8V462.3H126.4V457.1H127V450.5H127.6V453.4H128.2V453.4H128.8V453.4H129.4V450.5H130V457.1H130.6V453.4H131.2V453.4H131.8V457.1H132.4V457.1H133V446.2H133.6V462.3H134.2V462.3H134.8V457.1H135.4V448.2H136V457.1H136.6V453.4H137.2V453.4H137.8V457.1H138.4V457.1H139V453.4H139.6V453.4H140.2V453.4H140.8V453.4H141.4V453.4H142V453.4H142.6V457.1H143.2V448.2H143.8V450.5H144.4V450.5H145V450.5H145.6V450.5H146.2V448.2H146.8V450.5H147.4V450.5H148V457.1H148.6V453.4H149.2V457.1H149.8V450.5H150.4V446.2H151V453.4H151.6V457.1H152.2V450.5H152.8V453.4H153.4V450.5H154V453.4H154.6V462.3H155.2V453.4H155.8V450.5H156.4V457.1H157V457.1H157.6V462.3H158.2V457.1H158.8V453.4H159.4V453.4H160V453.4H160.6V457.1H161.2V457.1H161.8V462.3H162.4V453.4H163V453.4H163.6V453.4H164.2V453.4H164.8V457.1H165.4V446.2H166V453.4H166.6V457.1H167.2V453.4H167.8V457.1H168.4V457.1H169V457.1H169.6V450.5H170.2V462.3H170.8V457.1H171.4V453.4H172V457.1H172.6V450.5H173.2V457.1H173.8V462.3H174.4V457.1H175V450.5H175.6V457.1H176.2V457.1H176.8V453.4H177.4V453.4H178V453.4H178.6V462.3H179.2V453.4H179.8V450.5H180.4V453.4H181V453.4H181.6V457.1H182.2V462.3H182.8V457.1H183.3V480.1H182.8V480.1H182.2V480.1H181.6V471.2H181V480.1H180.4V480.1H179.8V480.1H179.2V480.1H178.6V471.2H178V471.2H177.4V480.1H176.8V480.1H176.2V480.1H175.6V480.1H175V471.2H174.4V480.1H173.8V471.2H173.2V480.1H172.6V480.1H172V480.1H171.4V480.1H170.8V480.1H170.2V480.1H169.6V471.2H169V480.1H168.4V480.1H167.8V471.2H167.2V480.1H166.6V480.1H166V471.2H165.4V480.1H164.8V471.2H164.2V471.2H163.6V480.1H163V480.1H162.4V480.1H161.8V471.2H161.2V471.2H160.6V480.1H160V471.2H159.4V480.1H158.8V480.1H158.2V471.2H157.6V471.2H157V480.1H156.4V480.1H155.8V480.1H155.2V471.2H154.6V471.2H154V480.1H153.4V480.1H152.8V480.1H152.2V480.1H151.6V480.1H151V471.2H150.4V480.1H149.8V471.2H149.2V480.1H148.6V471.2H148V480.1H147.4V480.1H146.8V480.1H146.2V480.1H145.6V480.1H145V471.2H144.4V471.2H143.8V471.2H143.2V480.1H142.6V471.2H142V480.1H141.4V471.2H140.8V480.1H140.2V480.1H139.6V480.1H139V480.1H138.4V480.1H137.8V480.1H137.2V480.1H136.6V471.2H136V480.1H135.4V471.2H134.8V480.1H134.2V480.1H133.6V480.1H133V480.1H132.4V480.1H131.8V471.2H131.2V480.1H130.6V462.3H130V471.2H129.4V471.2H128.8V480.1H128.2V480.1H127.6V462.3H127V480.1H126.4V480.1H125.8V480.1H125.2V471.2H124.6V480.1H124V480.1H123.4V480.1H122.8V480.1H122.2V480.1H121.6V471.2H121V471.2H120.4V480.1H119.8V480.1H119.2V471.2H118.6V480.1H118V480.1H117.4V480.1H116.8V480.1H116.2V480.1H115.6V480.1H115V480.1H114.4V480.1H113.8V471.2H113.2V480.1H112.6V471.2H112V480.1H111.4V480.1H110.8V480.1H110.2V480.1H109.6V480.1H109V480.1H108.4V480.1H107.8V480.1H107.2V471.2H106.6V471.2H106V480.1H105.4V471.2H104.8V480.1H104.2V471.2H103.6V480.1H103V471.2H102.4V480.1H101.8V480.1H101.2V480.1H100.6V480.1H100V480.1H99.4V480.1H98.8V480.1H98.2V480.1H97.6V480.1H97V471.2H96.4V480.1H95.8V480.1H95.2V471.2H94.6V480.1H94V480.1H93.4V480.1H92.8V480.1H92.2V480.1H91.6V480.1H91V480.1H90.4V480.1H89.8V471.2H89.2V480.1H88.6V471.2H88V480.1H87.4V480.1H86.8V480.1H86.2V480.1H85.6V471.2H85V480.1H84.4V480.1H83.8V471.2H83.2V480.1H82.6V480.1H82V480.1H81.4V480.1H80.8V471.2H80.2V480.1H79.6V480.1H79V471.2H78.4V480.1H77.8V471.2H77.2V471.2H76.6V471.2H76V480.1H75.4V480.1H74.8V480.1H74.2V480.1H73.6V480.1H73V471.2H72.4V471.2H71.8V471.2H71.2V457.1H70.6V462.3H70V480.1H69.4V471.2H68.8V457.1H68.2V462.3H67.6V453.4H67V453.4H66.4V450.5H65.8V450.5H65.2V450.5H64.6V446.2H64V447.5H63.4V441.1H62.8V437.6H62.2V435.5H61.6V435.5H61V432.7H60.4V441.6H59.8V425.1H59.2V424.4H58.6V421.4H58V418.1H57.4V415.9H56.8V413.3H56.2V410.1H55.6V402.8H55V401.2H54.4V396H53.8V391.8H53.2V385.4H52.6V379.5H52V425.1H51.4V471.2H50.8V471.2H50.2V480.1H49.6V471.2H49V471.2H48.4V471.2H47.8V480.1H47.2V480.1H46.6Z" fill="#FFC11E" stroke="#FFC11E" stroke-width="0.9" stroke-linejoin="round"/>
<path d="M46.6 453.4V453.4H47.2V450.5H47.8V457.1H48.4V457.1H49V450.5H49.6V457.1H50.2V457.1H50.8V435.5H51.4V370.7H52V372.3H52.6V377.9H53.2V384.9H53.8V389.9H54.4V395H55V398.7H55.6V402.7H56.2V406.9H56.8V409.9H57.4V410.1H58V414.2H58.6V413.9H59.2V419H59.8V420.4H60.4V422.5H61V425.1H61.6V428.4H62.2V427.8H62.8V428H63.4V426.1H64V434.4H64.6V435.4H65.2V433.3H65.8V439.2H66.4V438.2H67V438.2H67.6V437.3H68.2V446.2H68.8V446.2H69.4V446.2H70V450.5H70.6V450.5H71.2V450.5H71.8V450.5H72.4V448.2H73V453.4H73.6V448.2H74.2V448.2H74.8V448.2H75.4V457.1H76V453.4H76.6V453.4H77.2V453.4H77.8V457.1H78.4V453.4H79V453.4H79.6V462.3H80.2V453.4H80.8V457.1H81.4V457.1H82V450.5H82.6V450.5H83.2V457.1H83.8V453.4H84.4V457.1H85V453.4H85.6V457.1H86.2V457.1H86.8V453.4H87.4V462.3H88V450.5H88.6V450.5H89.2V462.3H89.8V462.3H90.4V462.3H91V462.3H91.6V471.2H92.2V457.1H92.8V462.3H93.4V457.1H94V453.4H94.6V450.5H95.2V457.1H95.8V457.1H96.4V462.3H97V453.4H97.6V462.3H98.2V457.1H98.8V462.3H99.4V453.4H100V457.1H100.6V453.4H101.2V457.1H101.8V457.1H102.4V462.3H103V457.1H103.6V450.5H104.2V457.1H104.8V462.3H105.4V457.1H106V450.5H106.6V471.2H107.2V457.1H107.8V457.1H108.4V450.5H109V462.3H109.6V462.3H110.2V462.3H110.8V453.4H111.4V453.4H112V462.3H112.6V457.1H113.2V457.1H113.8V457.1H114.4V453.4H115V453.4H115.6V457.1H116.2V457.1H116.8V450.5H117.4V450.5H118V462.3H118.6V462.3H119.2V457.1H119.8V457.1H120.4V450.5H121V462.3H121.6V457.1H122.2V457.1H122.8V457.1H123.4V457.1H124V453.4H124.6V457.1H125.2V462.3H125.8V453.4H126.4V462.3H127V457.1H127.6V457.1H128.2V457.1H128.8V471.2H129.4V462.3H130V457.1H130.6V462.3H131.2V457.1H131.8V462.3H132.4V457.1H133V450.5H133.6V450.5H134.2V450.5H134.8V453.4H135.4V457.1H136V457.1H136.6V462.3H137.2V450.5H137.8V457.1H138.4V457.1H139V462.3H139.6V471.2H140.2V457.1H140.8V457.1H141.4V462.3H142V457.1H142.6V450.5H143.2V462.3H143.8V462.3H144.4V457.1H145V457.1H145.6V457.1H146.2V462.3H146.8V462.3H147.4V462.3H148V462.3H148.6V462.3H149.2V457.1H149.8V462.3H150.4V457.1H151V462.3H151.6V457.1H152.2V453.4H152.8V453.4H153.4V462.3H154V457.1H154.6V457.1H155.2V462.3H155.8V457.1H156.4V462.3H157V457.1H157.6V457.1H158.2V457.1H158.8V462.3H159.4V462.3H160V453.4H160.6V453.4H161.2V453.4H161.8V457.1H162.4V462.3H163V471.2H163.6V457.1H164.2V457.1H164.8V462.3H165.4V471.2H166V450.5H166.6V450.5H167.2V457.1H167.8V457.1H168.4V457.1H169V462.3H169.6V462.3H170.2V457.1H170.8V450.5H171.4V462.3H172V462.3H172.6V457.1H173.2V450.5H173.8V457.1H174.4V457.1H175V453.4H175.6V462.3H176.2V457.1H176.8V462.3H177.4V453.4H178V453.4H178.6V457.1H179.2V462.3H179.8V457.1H180.4V453.4H181V457.1H181.6V462.3H182.2V457.1H182.8V457.1H183.3V480.1H182.8V480.1H182.2V480.1H181.6V480.1H181V480.1H180.4V480.1H179.8V480.1H179.2V480.1H178.6V480.1H178V471.2H177.4V480.1H176.8V480.1H176.2V480.1H175.6V480.1H175V480.1H174.4V480.1H173.8V471.2H173.2V480.1H172.6V480.1H172V480.1H171.4V480.1H170.8V480.1H170.2V480.1H169.6V471.2H169V480.1H168.4V480.1H167.8V480.1H167.2V480.1H166.6V480.1H166V480.1H165.4V480.1H164.8V480.1H164.2V480.1H163.6V480.1H163V480.1H162.4V480.1H161.8V480.1H161.2V480.1H160.6V471.2H160V480.1H159.4V480.1H158.8V480.1H158.2V480.1H157.6V480.1H157V480.1H156.4V480.1H155.8V480.1H155.2V480.1H154.6V480.1H154V480.1H153.4V480.1H152.8V471.2H152.2V480.1H151.6V480.1H151V480.1H150.4V480.1H149.8V480.1H149.2V480.1H148.6V480.1H148V480.1H147.4V480.1H146.8V480.1H146.2V480.1H145.6V480.1H145V480.1H144.4V471.2H143.8V480.1H143.2V480.1H142.6V480.1H142V480.1H141.4V480.1H140.8V480.1H140.2V480.1H139.6V480.1H139V480.1H138.4V471.2H137.8V471.2H137.2V480.1H136.6V480.1H136V480.1H135.4V480.1H134.8V480.1H134.2V471.2H133.6V471.2H133V480.1H132.4V480.1H131.8V480.1H131.2V480.1H130.6V471.2H130V480.1H129.4V480.1H128.8V480.1H128.2V480.1H127.6V471.2H127V480.1H126.4V480.1H125.8V480.1H125.2V480.1H124.6V480.1H124V480.1H123.4V480.1H122.8V480.1H122.2V480.1H121.6V471.2H121V480.1H120.4V480.1H119.8V480.1H119.2V480.1H118.6V471.2H118V480.1H117.4V471.2H116.8V480.1H116.2V480.1H115.6V480.1H115V480.1H114.4V480.1H113.8V480.1H113.2V480.1H112.6V480.1H112V480.1H111.4V471.2H110.8V480.1H110.2V480.1H109.6V480.1H109V480.1H108.4V480.1H107.8V480.1H107.2V480.1H106.6V480.1H106V480.1H105.4V480.1H104.8V480.1H104.2V471.2H103.6V471.2H103V480.1H102.4V480.1H101.8V480.1H101.2V480.1H100.6V480.1H100V480.1H99.4V471.2H98.8V471.2H98.2V480.1H97.6V480.1H97V480.1H96.4V480.1H95.8V480.1H95.2V480.1H94.6V480.1H94V480.1H93.4V480.1H92.8V480.1H92.2V480.1H91.6V480.1H91V480.1H90.4V480.1H89.8V480.1H89.2V480.1H88.6V480.1H88V480.1H87.4V480.1H86.8V471.2H86.2V480.1H85.6V480.1H85V480.1H84.4V480.1H83.8V480.1H83.2V480.1H82.6V471.2H82V480.1H81.4V480.1H80.8V480.1H80.2V480.1H79.6V480.1H79V480.1H78.4V480.1H77.8V480.1H77.2V480.1H76.6V480.1H76V480.1H75.4V471.2H74.8V480.1H74.2V471.2H73.6V471.2H73V471.2H72.4V480.1H71.8V480.1H71.2V471.2H70.6V457.1H70V457.1H69.4V471.2H68.8V457.1H68.2V471.2H67.6V457.1H67V448.2H66.4V453.4H65.8V448.2H65.2V448.2H64.6V442.2H64V440.6H63.4V439.8H62.8V439.9H62.2V435.5H61.6V435.5H61V432.7H60.4V425.9H59.8V422.5H59.2V422.5H58.6V419H58V417.7H57.4V413.9H56.8V412.5H56.2V409.6H55.6V403.6H55V401.4H54.4V395H53.8V390H53.2V385.6H52.6V378.5H52V435.5H51.4V471.2H50.8V471.2H50.2V471.2H49.6V480.1H49V480.1H48.4V480.1H47.8V480.1H47.2V480.1H46.6Z" fill="#F66464" stroke="#F66464" stroke-width="0.9" stroke-linejoin="round"/>
<line x1="136.9" y1="370.9" x2="155.5" y2="370.9" stroke="#6962C4" stroke-width="1.6"/>
<text x="157.8" y="373.9" font-family="'Liberation Sans',sans-serif" font-size="8.3" text-anchor="start" font-weight="normal" fill="#111">80 K</text>
<line x1="136.9" y1="380.98" x2="155.5" y2="380.98" stroke="#76A6DC" stroke-width="1.6"/>
<text x="157.8" y="383.98" font-family="'Liberation Sans',sans-serif" font-size="8.3" text-anchor="start" font-weight="normal" fill="#111">110 K</text>
<line x1="136.9" y1="391.06" x2="155.5" y2="391.06" stroke="#139A98" stroke-width="1.6"/>
<text x="157.8" y="394.06" font-family="'Liberation Sans',sans-serif" font-size="8.3" text-anchor="start" font-weight="normal" fill="#111">140 K</text>
<line x1="136.9" y1="401.14" x2="155.5" y2="401.14" stroke="#3DBE72" stroke-width="1.6"/>
<text x="157.8" y="404.14" font-family="'Liberation Sans',sans-serif" font-size="8.3" text-anchor="start" font-weight="normal" fill="#111">170 K</text>
<line x1="136.9" y1="411.22" x2="155.5" y2="411.22" stroke="#FFC11E" stroke-width="1.6"/>
<text x="157.8" y="414.22" font-family="'Liberation Sans',sans-serif" font-size="8.3" text-anchor="start" font-weight="normal" fill="#111">200 K</text>
<line x1="136.9" y1="421.3" x2="155.5" y2="421.3" stroke="#F66464" stroke-width="1.6"/>
<text x="157.8" y="424.3" font-family="'Liberation Sans',sans-serif" font-size="8.3" text-anchor="start" font-weight="normal" fill="#111">230 K</text>
<rect x="29.9" y="362.1" width="170.4" height="126.7" fill="none" stroke="#111" stroke-width="1.4"/>
<path d="M46.6 488.8v3M80.78 488.8v3M114.95 488.8v3M149.12 488.8v3M183.3 488.8v3" stroke="#111" stroke-width="1"/>
<path d="M29.51 488.8v1.8M63.69 488.8v1.8M97.86 488.8v1.8M132.04 488.8v1.8M166.21 488.8v1.8M200.39 488.8v1.8" stroke="#111" stroke-width="1"/>
<path d="M29.9 480.1h-3M29.9 450.5h-3M29.9 420.9h-3M29.9 391.3h-3" stroke="#111" stroke-width="1"/>
<path d="M29.9 471.19h-1.8M29.9 465.98h-1.8M29.9 462.28h-1.8M29.9 459.41h-1.8M29.9 457.07h-1.8M29.9 455.09h-1.8M29.9 453.37h-1.8M29.9 451.85h-1.8M29.9 441.59h-1.8M29.9 436.38h-1.8M29.9 432.68h-1.8M29.9 429.81h-1.8M29.9 427.47h-1.8M29.9 425.49h-1.8M29.9 423.77h-1.8M29.9 422.25h-1.8M29.9 411.99h-1.8M29.9 406.78h-1.8M29.9 403.08h-1.8M29.9 400.21h-1.8M29.9 397.87h-1.8M29.9 395.89h-1.8M29.9 394.17h-1.8M29.9 392.65h-1.8M29.9 486.67h-1.8M29.9 484.69h-1.8M29.9 482.97h-1.8M29.9 481.45h-1.8" stroke="#111" stroke-width="0.8"/>
<text x="26" y="483.5" font-family="'Liberation Sans',sans-serif" font-size="10" text-anchor="end" fill="#111">10<tspan dy="-4.1" font-size="6.8">0</tspan></text>
<text x="26" y="453.9" font-family="'Liberation Sans',sans-serif" font-size="10" text-anchor="end" fill="#111">10<tspan dy="-4.1" font-size="6.8">1</tspan></text>
<text x="26" y="424.3" font-family="'Liberation Sans',sans-serif" font-size="10" text-anchor="end" fill="#111">10<tspan dy="-4.1" font-size="6.8">2</tspan></text>
<text x="26" y="394.7" font-family="'Liberation Sans',sans-serif" font-size="10" text-anchor="end" fill="#111">10<tspan dy="-4.1" font-size="6.8">3</tspan></text>
<text x="46.6" y="500.1" font-family="'Liberation Sans',sans-serif" font-size="9.5" text-anchor="middle" font-weight="normal" fill="#111">0</text>
<text x="80.78" y="500.1" font-family="'Liberation Sans',sans-serif" font-size="9.5" text-anchor="middle" font-weight="normal" fill="#111">50</text>
<text x="114.95" y="500.1" font-family="'Liberation Sans',sans-serif" font-size="9.5" text-anchor="middle" font-weight="normal" fill="#111">100</text>
<text x="149.12" y="500.1" font-family="'Liberation Sans',sans-serif" font-size="9.5" text-anchor="middle" font-weight="normal" fill="#111">150</text>
<text x="183.3" y="500.1" font-family="'Liberation Sans',sans-serif" font-size="9.5" text-anchor="middle" font-weight="normal" fill="#111">200</text>
<text x="9.3" y="425" font-family="'Liberation Sans',sans-serif" font-size="12" text-anchor="middle" font-weight="normal" fill="#111" transform="rotate(-90 9.3 425)">Intensity</text>
<text x="111.1" y="512.2" font-family="'Liberation Sans',sans-serif" font-size="12" text-anchor="middle" font-weight="normal" fill="#111">Delay Time (ns)</text>
<polygon points="262.3,489.2 262.3,460.4 262.6,460 262.9,460 263.2,459.2 263.5,459.7 263.8,459 264.1,460.2 264.3,458.6 264.6,459.7 264.9,459.5 265.2,459.6 265.5,459.8 265.8,460.1 266.1,459 266.4,460.1 266.7,459.2 267,458.3 267.3,459.4 267.6,457.5 267.9,458.3 268.2,457.5 268.4,459.5 268.7,458.1 269,459.3 269.3,459.4 269.6,459.2 269.9,456 270.2,458.5 270.5,458.9 270.8,458.7 271.1,456.6 271.4,457.8 271.7,457 272,457 272.3,456.4 272.5,456.5 272.8,457.3 273.1,455.9 273.4,456 273.7,456.4 274,456.1 274.3,455.9 274.6,454 274.9,455.2 275.2,453.1 275.5,452.4 275.8,453 276.1,453.6 276.4,452.5 276.6,450.1 276.9,451.4 277.2,450.3 277.5,451.5 277.8,450.2 278.1,450.3 278.4,449 278.7,449.3 279,447.8 279.3,446 279.6,446.6 279.9,446.6 280.2,445.5 280.5,445.4 280.7,442.9 281,443.2 281.3,443 281.6,441 281.9,439.7 282.2,438.5 282.5,438.4 282.8,437.6 283.1,434.1 283.4,435.6 283.7,435 284,431.7 284.3,431.4 284.6,430.8 284.8,429.4 285.1,428.3 285.4,424.4 285.7,425.1 286,423.9 286.3,422.4 286.6,421.4 286.9,419.8 287.2,416.3 287.5,417.1 287.8,414.6 288.1,411.4 288.4,411 288.7,410.8 288.9,407.9 289.2,407.2 289.5,404.2 289.8,405.3 290.1,402.7 290.4,399.7 290.7,400.7 291,396.2 291.3,394.1 291.6,397.3 291.9,394.7 292.2,395.5 292.5,389.1 292.8,391.8 293,391.3 293.3,391.5 293.6,389.9 293.9,389.8 294.2,388.9 294.5,386.8 294.8,386.5 295.1,384.3 295.4,386.2 295.7,385.7 296,382.2 296.3,383.9 296.6,381.7 296.9,380.9 297.1,382.6 297.4,382.5 297.7,380.7 298,381.7 298.3,375.9 298.6,378.1 298.9,380 299.2,374.6 299.5,378.1 299.8,375.3 300.1,377.9 300.4,377.5 300.7,377.5 300.9,379.3 301.2,375 301.5,375.8 301.8,375.1 302.1,379 302.4,378.3 302.7,378.6 303,376.1 303.3,375.7 303.6,377.2 303.9,378.6 304.2,376.3 304.5,376.7 304.8,374.8 305,374.8 305.3,377.9 305.6,375.5 305.9,378.2 306.2,376.1 306.5,377.2 306.8,376.4 307.1,378 307.4,376.9 307.7,377.1 308,373.9 308.3,375.5 308.6,373 308.9,375.9 309.1,374.8 309.4,376.9 309.7,373.8 310,373.7 310.3,377.4 310.6,376.2 310.9,372.9 311.2,376 311.5,378.1 311.8,378.1 312.1,376.1 312.4,377.1 312.7,377 313,378.2 313.2,375.6 313.5,375.4 313.8,375.3 314.1,377.9 314.4,378.7 314.7,379.7 315,378.8 315.3,378.9 315.6,378.9 315.9,380.1 316.2,380.9 316.5,381.6 316.8,378.7 317.1,380.5 317.3,381.7 317.6,381.6 317.9,379.7 318.2,381.3 318.5,381.7 318.8,384.5 319.1,383.8 319.4,383.6 319.7,384 320,384.2 320.3,386 320.6,383.7 320.9,385 321.2,386.6 321.4,388.3 321.7,387.9 322,385.9 322.3,387.6 322.6,389.2 322.9,388.4 323.2,391.4 323.5,391.6 323.8,394.8 324.1,393.3 324.4,391.9 324.7,391.3 325,396.7 325.3,397.8 325.5,397.9 325.8,399.1 326.1,397.6 326.4,396.6 326.7,400.5 327,399.1 327.3,398.1 327.6,401.5 327.9,403.1 328.2,402.9 328.5,402.1 328.8,403.5 329.1,403.2 329.4,404.1 329.6,406.3 329.9,405.5 330.2,407.1 330.5,407.7 330.8,404.4 331.1,406.4 331.4,408.2 331.7,410.6 332,411.3 332.3,408.7 332.6,411.5 332.9,411.4 333.2,413.5 333.5,414 333.7,414.2 334,412.8 334.3,415.9 334.6,411.7 334.9,415.6 335.2,413.4 335.5,411.3 335.8,417.6 336.1,416.5 336.4,419.8 336.7,418 337,419 337.3,419.2 337.5,421.8 337.8,422.5 338.1,423.1 338.4,423.7 338.7,422.7 339,423.7 339.3,424.9 339.6,423.8 339.9,425.4 340.2,425.6 340.5,425.4 340.8,425.6 341.1,428.3 341.4,429.1 341.6,427.1 341.9,426.9 342.2,427.9 342.5,430.3 342.8,430.2 343.1,431.5 343.4,427.9 343.7,432.7 344,433.6 344.3,434 344.6,432.7 344.9,434.7 345.2,435.3 345.5,434 345.7,436 346,437 346.3,434.8 346.6,436.9 346.9,437.7 347.2,435.6 347.5,436.5 347.8,438 348.1,438.5 348.4,439.3 348.7,440.6 349,440.9 349.3,441.2 349.6,441.7 349.8,442.3 350.1,440.3 350.4,442.2 350.7,443.4 351,443 351.3,443.3 351.6,442.1 351.9,444.2 352.2,445.3 352.5,445.2 352.8,444.4 353.1,446.4 353.4,445.5 353.7,446.6 353.9,447.2 354.2,447.6 354.5,448.1 354.8,446.2 355.1,448.6 355.4,448 355.7,448.3 356,448.8 356.3,449.5 356.6,448.4 356.9,450.5 357.2,450.4 357.5,451.3 357.8,451.8 358,450.7 358.3,451.7 358.6,449.8 358.9,452.6 359.2,453 359.5,452.1 359.8,453.4 360.1,452.3 360.4,452.8 360.7,452.8 361,453.6 361.3,453.7 361.6,453.3 361.9,455.3 362.1,455.2 362.4,453.5 362.7,456.2 363,455.9 363.3,455.1 363.6,457.1 363.9,455.5 364.2,456.4 364.5,456.7 364.8,457.1 365.1,457.8 365.4,458.3 365.7,458.7 366,459 366.2,459.1 366.5,459.4 366.8,460 367.1,460 367.4,460.4 367.7,460.2 368,458.7 368.3,460.6 368.6,461.6 368.9,459.8 369.2,461.8 369.5,460.1 369.8,461.1 370.1,462.1 370.3,462.6 370.6,463.5 370.9,461.9 371.2,463.8 371.5,463.8 371.8,464.1 372.1,462.4 372.4,465.2 372.7,464.8 373,464.6 373.3,466.1 373.6,466.3 373.9,465.4 374.1,466.8 374.4,465.9 374.7,466.2 375,466.5 375.3,466.7 375.6,467.6 375.9,467.8 376.2,468.4 376.5,468.4 376.8,468.7 377.1,467.8 377.4,467.9 377.7,468.8 378,469.7 378.2,469.9 378.5,469.2 378.8,468.7 379.1,469.9 379.4,470.8 379.7,470.8 380,471 380.3,470.5 380.6,471.6 380.9,470.7 381.2,471.2 381.5,471.5 381.8,472.1 382.1,470.8 382.3,471.6 382.6,472.5 382.9,472 383.2,473.1 383.5,473.4 383.8,472.8 384.1,471.5 384.4,474.1 384.7,472.8 385,474 385.3,474.6 385.6,473.3 385.9,474.8 386.2,474.4 386.4,474.3 386.7,474.6 387,475.5 387.3,475 387.6,475.7 387.9,475.9 388.2,476.4 388.5,476.1 388.8,476 389.1,476.7 389.4,476.1 389.7,476 390,477.4 390.3,476.7 390.5,476.3 390.8,477.9 391.1,477.4 391.4,477.3 391.7,477.5 392,478 392.3,477.2 392.6,478 392.9,478.5 393.2,478.8 393.5,478.4 393.8,478.7 394.1,479.3 394.4,479 394.6,479.6 394.9,478.8 395.2,479.8 395.5,480 395.8,479.3 396.1,479.4 396.4,480.3 396.7,479 397,480 397.3,479.8 397.6,479.2 397.9,480.9 398.2,480.1 398.5,479.8 398.7,480.3 399,480.7 399.3,480.5 399.6,481.2 399.9,480.9 400.2,481.1 400.5,481.3 400.8,481.3 401.1,481.7 401.4,481.3 401.7,481.2 402,480.7 402.3,480.8 402.6,482.2 402.8,482.4 403.1,482.6 403.4,482.6 403.7,482.8 404,481.3 404.3,482.1 404.6,481.8 404.9,482.3 405.2,482.1 405.5,482.7 405.8,482.7 406.1,482.7 406.4,482.4 406.7,483.3 406.9,482.6 407.2,481.5 407.5,483.4 407.8,483 408.1,483.1 408.4,483.2 408.7,483.9 409,483 409.3,483.5 409.6,483.2 409.9,483.7 410.2,484.1 410.5,483.8 410.7,483 411,484.3 411.3,484.7 411.6,484.7 411.9,484.7 412.2,484 412.5,484.9 412.8,485 413.1,484 413.4,483.6 413.7,485.1 414,484.6 414.3,485.3 414.6,484.9 414.8,484.8 415.1,485.4 415.4,484.7 415.7,485.1 416,485.6 416.3,485.5 416.6,485.6 416.9,485.2 417.2,485.1 417.5,485.7 417.8,485.6 418.1,485.8 418.4,486.1 418.7,485.1 418.9,486.1 419.2,485.2 419.5,485.8 419.8,486.1 420.1,484.8 420.4,486.4 420.7,486.4 421,486.4 421.3,486.3 421.6,486.3 421.9,485.9 422.2,486.5 422.5,486.3 422.8,486.7 423,485.9 423.3,486.7 423.6,486.8 423.9,486.9 424.2,486.7 424.5,486.6 424.8,485.8 425.1,486.8 425.4,487 425.7,487 426,487 426.3,486.8 426.6,487.1 426.9,486.9 427.1,487.1 427.4,487.3 427.7,486.3 428,487.1 428.3,486.6 428.6,486.8 428.9,487.4 429.2,486.5 429.5,486.9 429.8,487.6 430.1,485.8 430.4,487.5 430.7,486.7 431,486.8 431.2,487.4 431.5,486.9 431.8,487.6 432.1,487.7 432.4,486.7 432.7,486.8 433,488 433.1,489.2" fill="url(#gpk)"/>
<polygon points="262.3,489.2 262.3,489.2 262.6,489.2 262.9,489.2 263.2,489.2 263.5,489.2 263.8,489.2 264.1,489.2 264.3,489.2 264.6,489.2 264.9,489.2 265.2,489.2 265.5,488.6 265.8,488.9 266.1,488.8 266.4,488.5 266.7,487.8 267,487 267.3,487.5 267.6,487.6 267.9,487 268.2,485.6 268.4,486.2 268.7,485.6 269,485 269.3,483.3 269.6,484.3 269.9,483.2 270.2,482.8 270.5,481.8 270.8,481.3 271.1,479.5 271.4,476.3 271.7,477.3 272,475.3 272.3,473.6 272.5,470.7 272.8,469.4 273.1,468.3 273.4,466.3 273.7,463.7 274,462 274.3,460.7 274.6,457.7 274.9,454.3 275.2,454.8 275.5,453.1 275.8,451 276.1,447.3 276.4,447.4 276.6,443.2 276.9,442.1 277.2,441.4 277.5,439.5 277.8,436.6 278.1,434.2 278.4,431.3 278.7,430.4 279,429.5 279.3,426.9 279.6,423.4 279.9,422.5 280.2,422 280.5,420.4 280.7,419 281,416.4 281.3,416.8 281.6,413.8 281.9,413 282.2,412 282.5,412.4 282.8,410.2 283.1,409.2 283.4,409.1 283.7,406.6 284,407.6 284.3,406 284.6,403.7 284.8,403.5 285.1,403.1 285.4,400.4 285.7,397.1 286,396.9 286.3,401 286.6,399.9 286.9,395.9 287.2,398.8 287.5,396 287.8,397.5 288.1,396 288.4,394.4 288.7,391.6 288.9,391.4 289.2,392.7 289.5,391.7 289.8,392.5 290.1,391.5 290.4,389.6 290.7,389.6 291,388.3 291.3,386.4 291.6,387.1 291.9,384.5 292.2,383.5 292.5,385.9 292.8,383.3 293,383.9 293.3,383.7 293.6,381.9 293.9,378.9 294.2,380.1 294.5,381.6 294.8,375.1 295.1,379.2 295.4,381.3 295.7,379.2 296,375.1 296.3,380 296.6,379.3 296.9,376.6 297.1,378.4 297.4,377.6 297.7,377.8 298,373.4 298.3,373.7 298.6,376.8 298.9,376.2 299.2,372 299.5,375.9 299.8,377 300.1,376.1 300.4,375.2 300.7,376.1 300.9,371.9 301.2,375.8 301.5,374.6 301.8,375.8 302.1,375.1 302.4,376 302.7,370.5 303,374.2 303.3,377.7 303.6,375.9 303.9,374.2 304.2,380.8 304.5,376.8 304.8,380.6 305,380.8 305.3,383.9 305.6,386 305.9,381.7 306.2,387.2 306.5,385 306.8,389.3 307.1,390.8 307.4,391.2 307.7,392.8 308,392.5 308.3,393.2 308.6,391.4 308.9,396.6 309.1,392.8 309.4,393.4 309.7,395.9 310,398.3 310.3,399.1 310.6,398 310.9,402.1 311.2,402.8 311.5,402.9 311.8,404 312.1,403.7 312.4,405.2 312.7,403.3 313,405.6 313.2,401.6 313.5,407.3 313.8,407.5 314.1,407.3 314.4,407.4 314.7,407 315,409.6 315.3,408.5 315.6,410.6 315.9,411.5 316.2,408.8 316.5,411.4 316.8,413.3 317.1,412.9 317.3,411.4 317.6,411 317.9,414.4 318.2,415.3 318.5,415.6 318.8,416.3 319.1,415.2 319.4,415.4 319.7,417.8 320,419.3 320.3,419.1 320.6,420 320.9,419.8 321.2,418 321.4,422.1 321.7,420.4 322,422.7 322.3,423.9 322.6,424.6 322.9,422.7 323.2,426 323.5,424 323.8,426.1 324.1,426.4 324.4,426.4 324.7,428.5 325,428.7 325.3,426.7 325.5,429.7 325.8,431.4 326.1,431.6 326.4,432.6 326.7,432.2 327,433.9 327.3,432.3 327.6,434.4 327.9,435 328.2,435.6 328.5,434.4 328.8,437.2 329.1,437.7 329.4,438.4 329.6,437 329.9,437.1 330.2,440.4 330.5,439.1 330.8,438.9 331.1,441.9 331.4,442.8 331.7,442.4 332,444.1 332.3,443.8 332.6,444.6 332.9,444.9 333.2,446.6 333.5,445.7 333.7,443.9 334,446.9 334.3,448.3 334.6,448.4 334.9,449 335.2,449.1 335.5,450.6 335.8,451.9 336.1,451.1 336.4,451.7 336.7,452.9 337,451.2 337.3,452.7 337.5,454.7 337.8,455.6 338.1,456.1 338.4,454.5 338.7,456.9 339,457 339.3,457.8 339.6,459 339.9,458.5 340.2,459.3 340.5,459.9 340.8,459.7 341.1,460.7 341.4,460.4 341.6,462.4 341.9,461.8 342.2,463.1 342.5,463 342.8,463.9 343.1,464.9 343.4,462.6 343.7,465.1 344,465.8 344.3,466.7 344.6,466.9 344.9,466.3 345.2,467.5 345.5,466.5 345.7,468.5 346,469.2 346.3,469.4 346.6,468.4 346.9,469.9 347.2,469.7 347.5,469.7 347.8,470.3 348.1,469.3 348.4,471.1 348.7,472 349,472.4 349.3,471 349.6,472.2 349.8,473.4 350.1,473.3 350.4,473.4 350.7,474 351,474.4 351.3,474.8 351.6,475.2 351.9,475.5 352.2,474.9 352.5,476.3 352.8,475.8 353.1,476 353.4,477 353.7,476.9 353.9,476.8 354.2,478 354.5,477.5 354.8,477.7 355.1,476.9 355.4,477.5 355.7,479.4 356,479.2 356.3,480.1 356.6,480.4 356.9,479.4 357.2,479.8 357.5,480.3 357.8,481.5 358,480.6 358.3,481.9 358.6,481.7 358.9,482.2 359.2,482.1 359.5,482.9 359.8,482.7 360.1,482.9 360.4,481.8 360.7,483 361,483.3 361.3,484 361.6,484.2 361.9,483.6 362.1,484.2 362.4,484.2 362.7,484.8 363,484.1 363.3,484.1 363.6,484.4 363.9,485 364.2,484.8 364.5,484.8 364.8,485.8 365.1,485 365.4,485.9 365.7,485.6 366,485.5 366.2,486.2 366.5,486.3 366.8,486.2 367.1,486.4 367.4,486.7 367.7,487 368,486.8 368.3,486.9 368.6,487.3 368.9,487.4 369.2,487.1 369.5,487.3 369.8,486.9 370.1,487.6 370.3,487.2 370.6,487 370.9,487.5 371.2,486.4 371.5,487.5 371.8,487.6 372.1,488 372.4,486.9 372.7,487.1 373,486.9 373.3,487.7 373.6,488 373.9,487.9 374.1,488 374.4,488.6 374.7,488.3 375,488.2 375.3,488.7 375.6,488.1 375.9,487.2 376.2,488.4 376.5,488.2 376.8,488.3 377.1,488.8 377.4,488.4 377.7,488.8 378,488.5 378.2,488.5 378.5,488.1 378.8,489.2 379.1,488.9 379.4,488.6 379.7,489.2 380,488.6 380.3,489.2 380.6,489.2 380.9,489 381.2,488.7 381.5,489.2 381.8,489.2 382.1,489.2 382.3,489.2 382.6,489 382.9,488.9 383.2,489.2 383.5,489.2 383.8,489.2 384.1,489.2 384.4,489.2 384.7,489.2 385,488.4 385.3,489.2 385.6,488.7 385.9,489.2 386.2,489.2 386.4,489.2 386.7,489.2 387,489.2 387.3,489.2 387.6,489.2 387.9,488.9 388.2,489.2 388.5,488.7 388.8,489.2 389.1,489.2 389.4,489.2 389.7,489.2 390,489.2 390.3,489.2 390.5,489.1 390.8,489.2 391.1,488.9 391.4,489.2 391.7,489.2 392,489.2 392.3,489.2 392.6,489.2 392.9,489.2 393.2,489.2 393.5,489.2 393.8,489.2 394.1,489.1 394.4,489.2 394.6,489.2 394.9,489.2 395.2,489.2 395.5,489.2 395.8,489.2 396.1,489.2 396.4,489.2 396.7,489 397,489.2 397.3,489.2 397.6,489.2 397.9,489.2 398.2,489.2 398.5,489.2 398.7,489.2 399,488.7 399.3,489.2 399.6,489.2 399.9,489.2 400.2,489.2 400.5,489.2 400.8,489.2 401.1,489.2 401.4,489.2 401.7,489.2 402,489.2 402.3,489.2 402.6,489.2 402.8,489.2 403.1,488.9 403.4,489.2 403.7,489.2 404,489.2 404.3,489.1 404.6,489.2 404.9,489.2 405.2,489.2 405.5,489.2 405.8,489.2 406.1,489.2 406.4,489.2 406.7,489.2 406.9,489.2 407.2,488.7 407.5,489.2 407.8,489.2 408.1,489.2 408.4,489.2 408.7,489.2 409,489.2 409.3,489.2 409.6,488.9 409.9,489.2 410.2,489.2 410.5,489.2 410.7,489.2 411,489.2 411.3,489.2 411.6,489.2 411.9,489.2 412.2,489.2 412.5,489 412.8,488.8 413.1,489.2 413.4,489.2 413.7,488.7 414,489.2 414.3,489.2 414.6,489.2 414.8,489.2 415.1,489.2 415.4,489.2 415.7,489.2 416,489.2 416.3,489.2 416.6,489.2 416.9,489.2 417.2,489.2 417.5,489.2 417.8,489.2 418.1,489.2 418.4,489.2 418.7,489.2 418.9,489.2 419.2,489.2 419.5,489.2 419.8,489.2 420.1,489.2 420.4,489.2 420.7,489.2 421,489.2 421.3,489.2 421.6,489.2 421.9,489.2 422.2,489.2 422.5,489.2 422.8,489.2 423,488.8 423.3,489.2 423.6,489 423.9,489.2 424.2,489.2 424.5,489.2 424.8,489.2 425.1,489.2 425.4,489.1 425.7,489.2 426,489.2 426.3,489.2 426.6,488.7 426.9,489.2 427.1,489.2 427.4,489.2 427.7,489.2 428,489.2 428.3,489.2 428.6,489.2 428.9,489.2 429.2,489.2 429.5,489.2 429.8,488.7 430.1,489.2 430.4,489.2 430.7,489.2 431,489.2 431.2,489.2 431.5,489.2 431.8,489.2 432.1,489.2 432.4,489.2 432.7,489.2 433,489.2 433.1,489.2" fill="url(#gpu)"/>
<line x1="339.9" y1="371.8" x2="357.6" y2="371.8" stroke="#FF8CC6" stroke-width="1.8"/>
<line x1="339.9" y1="381.9" x2="357.6" y2="381.9" stroke="#B67CF8" stroke-width="1.8"/>
<text x="360.5" y="374.6" font-family="'Liberation Sans',sans-serif" font-size="8.3" text-anchor="start" font-weight="normal" fill="#111">Fluorescence</text>
<text x="360.5" y="384.7" font-family="'Liberation Sans',sans-serif" font-size="8.3" text-anchor="start" font-weight="normal" fill="#111">Phosphorescence</text>
<rect x="262.2" y="362.6" width="170.9" height="126.6" fill="none" stroke="#111" stroke-width="1.4"/>
<path d="M262.3 489.2v3M286.7 489.2v3M311.1 489.2v3M335.5 489.2v3M359.9 489.2v3M384.3 489.2v3M408.7 489.2v3M433.1 489.2v3" stroke="#111" stroke-width="1"/>
<path d="M274.5 489.2v1.8M298.9 489.2v1.8M323.3 489.2v1.8M347.7 489.2v1.8M372.1 489.2v1.8M396.5 489.2v1.8M420.9 489.2v1.8" stroke="#111" stroke-width="1"/>
<path d="M262.2 489.2h-3M262.2 466.14h-3M262.2 443.08h-3M262.2 420.02h-3M262.2 396.96h-3M262.2 373.9h-3" stroke="#111" stroke-width="1"/>
<path d="M262.2 477.67h-1.8M262.2 454.61h-1.8M262.2 431.55h-1.8M262.2 408.49h-1.8M262.2 385.43h-1.8" stroke="#111" stroke-width="1"/>
<text x="262.3" y="500.6" font-family="'Liberation Sans',sans-serif" font-size="9.5" text-anchor="middle" font-weight="normal" fill="#111">450</text>
<text x="286.7" y="500.6" font-family="'Liberation Sans',sans-serif" font-size="9.5" text-anchor="middle" font-weight="normal" fill="#111">500</text>
<text x="311.1" y="500.6" font-family="'Liberation Sans',sans-serif" font-size="9.5" text-anchor="middle" font-weight="normal" fill="#111">550</text>
<text x="335.5" y="500.6" font-family="'Liberation Sans',sans-serif" font-size="9.5" text-anchor="middle" font-weight="normal" fill="#111">600</text>
<text x="359.9" y="500.6" font-family="'Liberation Sans',sans-serif" font-size="9.5" text-anchor="middle" font-weight="normal" fill="#111">650</text>
<text x="384.3" y="500.6" font-family="'Liberation Sans',sans-serif" font-size="9.5" text-anchor="middle" font-weight="normal" fill="#111">700</text>
<text x="408.7" y="500.6" font-family="'Liberation Sans',sans-serif" font-size="9.5" text-anchor="middle" font-weight="normal" fill="#111">750</text>
<text x="433.1" y="500.6" font-family="'Liberation Sans',sans-serif" font-size="9.5" text-anchor="middle" font-weight="normal" fill="#111">800</text>
<text x="258.8" y="492.6" font-family="'Liberation Sans',sans-serif" font-size="9.5" text-anchor="end" font-weight="normal" fill="#111">0.0</text>
<text x="258.8" y="469.54" font-family="'Liberation Sans',sans-serif" font-size="9.5" text-anchor="end" font-weight="normal" fill="#111">0.2</text>
<text x="258.8" y="446.48" font-family="'Liberation Sans',sans-serif" font-size="9.5" text-anchor="end" font-weight="normal" fill="#111">0.4</text>
<text x="258.8" y="423.42" font-family="'Liberation Sans',sans-serif" font-size="9.5" text-anchor="end" font-weight="normal" fill="#111">0.6</text>
<text x="258.8" y="400.36" font-family="'Liberation Sans',sans-serif" font-size="9.5" text-anchor="end" font-weight="normal" fill="#111">0.8</text>
<text x="258.8" y="377.3" font-family="'Liberation Sans',sans-serif" font-size="9.5" text-anchor="end" font-weight="normal" fill="#111">1.0</text>
<text x="242.2" y="421.5" font-family="'Liberation Sans',sans-serif" font-size="12" text-anchor="middle" font-weight="normal" fill="#111" transform="rotate(-90 242.2 421.5)">norm. Intensity</text>
<text x="348.4" y="511.9" font-family="'Liberation Sans',sans-serif" font-size="12" text-anchor="middle" font-weight="normal" fill="#111">Wavelength (nm)</text>
<polyline points="506.8,490.4 507.5,490.4 508.3,490.4 509,490.4 509.7,490.4 510.5,490.4 511.2,490.4 511.9,490.4 512.7,490.4 513.4,490.3 514.1,490.3 514.9,490.3 515.6,490.3 516.3,490.3 517,490.2 517.8,490.2 518.5,490.2 519.2,490.2 520,490.1 520.7,490.1 521.4,490.1 522.2,490.1 522.9,490 523.6,490 524.4,490 525.1,489.9 525.8,489.9 526.6,489.9 527.3,489.8 528,489.8 528.8,489.8 529.5,489.7 530.2,489.7 531,489.6 531.7,489.6 532.4,489.6 533.2,489.5 533.9,489.5 534.6,489.5 535.3,489.4 536.1,489.4 536.8,489.4 537.5,489.4 538.3,489.3 539,489.3 539.7,489.3 540.5,489.3 541.2,489.2 541.9,489.2 542.7,489.2 543.4,489.2 544.1,489.2 544.9,489.2 545.6,489.2 546.3,489.2 547.1,489.2 547.8,489.1 548.5,489.1 549.3,489.1 550,489.1 550.7,489.1 551.5,489.2 552.2,489.2 552.9,489.2 553.6,489.2 554.4,489.2 555.1,489.2 555.8,489.2 556.6,489.2 557.3,489.2 558,489.2 558.8,489.3 559.5,489.3 560.2,489.3 561,489.3 561.7,489.4 562.4,489.4 563.2,489.4 563.9,489.4 564.6,489.4 565.4,489.4 566.1,489.5 566.8,489.5 567.6,489.5 568.3,489.5 569,489.5 569.8,489.5 570.5,489.5 571.2,489.6 571.9,489.6 572.7,489.6 573.4,489.6 574.1,489.6 574.9,489.7 575.6,489.7 576.3,489.7 577.1,489.7 577.8,489.7 578.5,489.8 579.3,489.8 580,489.8 580.7,489.8 581.5,489.8 582.2,489.9 582.9,489.9 583.7,489.9 584.4,489.9 585.1,489.9 585.9,489.9 586.6,490 587.3,490 588.1,490 588.8,490 589.5,490 590.2,490 591,490.1 591.7,490.1 592.4,490.1 593.2,490.1 593.9,490.1 594.6,490.1 595.4,490.1 596.1,490.2 596.8,490.2 597.6,490.2 598.3,490.2 599,490.2 599.8,490.2 600.5,490.2 601.2,490.2 602,490.3 602.7,490.3 603.4,490.3 604.2,490.3 604.9,490.3 605.6,490.3 606.4,490.3 607.1,490.3 607.8,490.3 608.5,490.3 609.3,490.3 610,490.3 610.7,490.3 611.5,490.3 612.2,490.4 612.9,490.4 613.7,490.4 614.4,490.4 615.1,490.4 615.9,490.4 616.6,490.4 617.3,490.4 618.1,490.4 618.8,490.4 619.5,490.4 620.3,490.4 621,490.4 621.7,490.4 622.5,490.4 623.2,490.4 623.9,490.4 624.7,490.4 625.4,490.4 626.1,490.4 626.8,490.4 627.6,490.4 628.3,490.4 629,490.4 629.8,490.4 630.5,490.4 631.2,490.4 632,490.5 632.7,490.5 633.4,490.5 634.2,490.5 634.9,490.5 635.6,490.5 636.4,490.5 637.1,490.5 637.8,490.5 638.6,490.5 639.3,490.5 640,490.5 640.8,490.5 641.5,490.5 642.2,490.5 643,490.5 643.7,490.5 644.4,490.5 645.1,490.5 645.9,490.5 646.6,490.5 647.3,490.5 648.1,490.5 648.8,490.5 649.5,490.5 650.3,490.5 651,490.5 651.7,490.5 652.5,490.5 653.2,490.5 653.9,490.5 654.7,490.5 655.4,490.5 656.1,490.5 656.9,490.5 657.6,490.5 658.3,490.5 659.1,490.5 659.8,490.5 660.5,490.5 661.3,490.5 662,490.5 662.7,490.5 663.4,490.5 664.2,490.5 664.9,490.5 665.6,490.5 666.4,490.5 667.1,490.5 667.8,490.5 668.6,490.5 669.3,490.5 670,490.5 670.8,490.5 671.5,490.5 672.2,490.5 673,490.5 673.7,490.5 674.4,490.5 675.2,490.5 675.9,490.5 676.6,490.5 677.4,490.5" fill="none" stroke="#9020D0" stroke-width="1.3" stroke-linejoin="round"/>
<polyline points="506.8,490.4 507.5,490.4 508.3,490.4 509,490.4 509.7,490.3 510.5,490.3 511.2,490.3 511.9,490.3 512.7,490.3 513.4,490.3 514.1,490.2 514.9,490.2 515.6,490.2 516.3,490.1 517,490.1 517.8,490.1 518.5,490 519.2,490 520,490 520.7,489.9 521.4,489.9 522.2,489.8 522.9,489.8 523.6,489.7 524.4,489.7 525.1,489.6 525.8,489.6 526.6,489.5 527.3,489.4 528,489.4 528.8,489.3 529.5,489.3 530.2,489.2 531,489.1 531.7,489.1 532.4,489 533.2,489 533.9,488.9 534.6,488.9 535.3,488.8 536.1,488.8 536.8,488.7 537.5,488.7 538.3,488.6 539,488.6 539.7,488.5 540.5,488.5 541.2,488.5 541.9,488.4 542.7,488.4 543.4,488.4 544.1,488.4 544.9,488.4 545.6,488.3 546.3,488.3 547.1,488.3 547.8,488.3 548.5,488.3 549.3,488.3 550,488.3 550.7,488.3 551.5,488.3 552.2,488.3 552.9,488.3 553.6,488.3 554.4,488.3 555.1,488.4 555.8,488.4 556.6,488.4 557.3,488.4 558,488.4 558.8,488.5 559.5,488.5 560.2,488.5 561,488.6 561.7,488.6 562.4,488.7 563.2,488.7 563.9,488.7 564.6,488.8 565.4,488.8 566.1,488.8 566.8,488.8 567.6,488.8 568.3,488.8 569,488.9 569.8,488.9 570.5,488.9 571.2,488.9 571.9,489 572.7,489 573.4,489 574.1,489.1 574.9,489.1 575.6,489.1 576.3,489.2 577.1,489.2 577.8,489.2 578.5,489.3 579.3,489.3 580,489.3 580.7,489.4 581.5,489.4 582.2,489.4 582.9,489.5 583.7,489.5 584.4,489.5 585.1,489.6 585.9,489.6 586.6,489.6 587.3,489.6 588.1,489.7 588.8,489.7 589.5,489.7 590.2,489.7 591,489.8 591.7,489.8 592.4,489.8 593.2,489.8 593.9,489.9 594.6,489.9 595.4,489.9 596.1,489.9 596.8,490 597.6,490 598.3,490 599,490 599.8,490 600.5,490.1 601.2,490.1 602,490.1 602.7,490.1 603.4,490.1 604.2,490.1 604.9,490.1 605.6,490.2 606.4,490.2 607.1,490.2 607.8,490.2 608.5,490.2 609.3,490.2 610,490.2 610.7,490.2 611.5,490.2 612.2,490.3 612.9,490.3 613.7,490.3 614.4,490.3 615.1,490.3 615.9,490.3 616.6,490.3 617.3,490.3 618.1,490.3 618.8,490.3 619.5,490.3 620.3,490.3 621,490.4 621.7,490.4 622.5,490.4 623.2,490.4 623.9,490.4 624.7,490.4 625.4,490.4 626.1,490.4 626.8,490.4 627.6,490.4 628.3,490.4 629,490.4 629.8,490.4 630.5,490.4 631.2,490.4 632,490.4 632.7,490.4 633.4,490.4 634.2,490.4 634.9,490.4 635.6,490.4 636.4,490.4 637.1,490.4 637.8,490.4 638.6,490.4 639.3,490.4 640,490.4 640.8,490.4 641.5,490.5 642.2,490.5 643,490.5 643.7,490.5 644.4,490.5 645.1,490.5 645.9,490.5 646.6,490.5 647.3,490.5 648.1,490.5 648.8,490.5 649.5,490.5 650.3,490.5 651,490.5 651.7,490.5 652.5,490.5 653.2,490.5 653.9,490.5 654.7,490.5 655.4,490.5 656.1,490.5 656.9,490.5 657.6,490.5 658.3,490.5 659.1,490.5 659.8,490.5 660.5,490.5 661.3,490.5 662,490.5 662.7,490.5 663.4,490.5 664.2,490.5 664.9,490.5 665.6,490.5 666.4,490.5 667.1,490.5 667.8,490.5 668.6,490.5 669.3,490.5 670,490.5 670.8,490.5 671.5,490.5 672.2,490.5 673,490.5 673.7,490.5 674.4,490.5 675.2,490.5 675.9,490.5 676.6,490.5 677.4,490.5" fill="none" stroke="#6434E0" stroke-width="1.3" stroke-linejoin="round"/>
<polyline points="506.8,490.4 507.5,490.3 508.3,490.3 509,490.3 509.7,490.3 510.5,490.3 511.2,490.2 511.9,490.2 512.7,490.2 513.4,490.2 514.1,490.1 514.9,490.1 515.6,490.1 516.3,490 517,490 517.8,489.9 518.5,489.9 519.2,489.8 520,489.8 520.7,489.7 521.4,489.6 522.2,489.6 522.9,489.5 523.6,489.4 524.4,489.4 525.1,489.3 525.8,489.2 526.6,489.1 527.3,489 528,489 528.8,488.9 529.5,488.8 530.2,488.7 531,488.6 531.7,488.5 532.4,488.4 533.2,488.4 533.9,488.3 534.6,488.2 535.3,488.1 536.1,488 536.8,488 537.5,487.9 538.3,487.8 539,487.8 539.7,487.7 540.5,487.7 541.2,487.6 541.9,487.6 542.7,487.5 543.4,487.5 544.1,487.4 544.9,487.4 545.6,487.4 546.3,487.4 547.1,487.4 547.8,487.3 548.5,487.3 549.3,487.3 550,487.3 550.7,487.3 551.5,487.3 552.2,487.3 552.9,487.3 553.6,487.4 554.4,487.4 555.1,487.4 555.8,487.4 556.6,487.4 557.3,487.5 558,487.5 558.8,487.6 559.5,487.6 560.2,487.6 561,487.7 561.7,487.8 562.4,487.8 563.2,487.9 563.9,487.9 564.6,488 565.4,488 566.1,488 566.8,488 567.6,488.1 568.3,488.1 569,488.1 569.8,488.2 570.5,488.2 571.2,488.2 571.9,488.3 572.7,488.3 573.4,488.4 574.1,488.4 574.9,488.5 575.6,488.5 576.3,488.6 577.1,488.6 577.8,488.7 578.5,488.7 579.3,488.8 580,488.8 580.7,488.8 581.5,488.9 582.2,488.9 582.9,489 583.7,489 584.4,489.1 585.1,489.1 585.9,489.2 586.6,489.2 587.3,489.2 588.1,489.3 588.8,489.3 589.5,489.3 590.2,489.4 591,489.4 591.7,489.5 592.4,489.5 593.2,489.5 593.9,489.6 594.6,489.6 595.4,489.6 596.1,489.7 596.8,489.7 597.6,489.7 598.3,489.8 599,489.8 599.8,489.8 600.5,489.8 601.2,489.9 602,489.9 602.7,489.9 603.4,489.9 604.2,490 604.9,490 605.6,490 606.4,490 607.1,490 607.8,490 608.5,490.1 609.3,490.1 610,490.1 610.7,490.1 611.5,490.1 612.2,490.1 612.9,490.2 613.7,490.2 614.4,490.2 615.1,490.2 615.9,490.2 616.6,490.2 617.3,490.2 618.1,490.2 618.8,490.3 619.5,490.3 620.3,490.3 621,490.3 621.7,490.3 622.5,490.3 623.2,490.3 623.9,490.3 624.7,490.3 625.4,490.3 626.1,490.3 626.8,490.3 627.6,490.3 628.3,490.3 629,490.4 629.8,490.4 630.5,490.4 631.2,490.4 632,490.4 632.7,490.4 633.4,490.4 634.2,490.4 634.9,490.4 635.6,490.4 636.4,490.4 637.1,490.4 637.8,490.4 638.6,490.4 639.3,490.4 640,490.4 640.8,490.4 641.5,490.4 642.2,490.4 643,490.4 643.7,490.4 644.4,490.4 645.1,490.4 645.9,490.4 646.6,490.4 647.3,490.4 648.1,490.5 648.8,490.5 649.5,490.5 650.3,490.5 651,490.5 651.7,490.5 652.5,490.5 653.2,490.5 653.9,490.5 654.7,490.5 655.4,490.5 656.1,490.5 656.9,490.5 657.6,490.5 658.3,490.5 659.1,490.5 659.8,490.5 660.5,490.5 661.3,490.5 662,490.5 662.7,490.5 663.4,490.5 664.2,490.5 664.9,490.5 665.6,490.5 666.4,490.5 667.1,490.5 667.8,490.5 668.6,490.5 669.3,490.5 670,490.5 670.8,490.5 671.5,490.5 672.2,490.5 673,490.5 673.7,490.5 674.4,490.5 675.2,490.5 675.9,490.5 676.6,490.5 677.4,490.5" fill="none" stroke="#3470F0" stroke-width="1.3" stroke-linejoin="round"/>
<polyline points="506.8,490.3 507.5,490.3 508.3,490.3 509,490.3 509.7,490.2 510.5,490.2 511.2,490.2 511.9,490.1 512.7,490.1 513.4,490.1 514.1,490 514.9,490 515.6,489.9 516.3,489.9 517,489.8 517.8,489.8 518.5,489.7 519.2,489.6 520,489.6 520.7,489.5 521.4,489.4 522.2,489.3 522.9,489.2 523.6,489.1 524.4,489 525.1,488.9 525.8,488.8 526.6,488.7 527.3,488.6 528,488.5 528.8,488.4 529.5,488.3 530.2,488.2 531,488.1 531.7,487.9 532.4,487.8 533.2,487.7 533.9,487.6 534.6,487.5 535.3,487.4 536.1,487.3 536.8,487.2 537.5,487.1 538.3,487 539,486.9 539.7,486.8 540.5,486.8 541.2,486.7 541.9,486.6 542.7,486.6 543.4,486.5 544.1,486.5 544.9,486.4 545.6,486.4 546.3,486.3 547.1,486.3 547.8,486.3 548.5,486.3 549.3,486.3 550,486.3 550.7,486.3 551.5,486.3 552.2,486.3 552.9,486.3 553.6,486.3 554.4,486.3 555.1,486.3 555.8,486.4 556.6,486.4 557.3,486.4 558,486.5 558.8,486.5 559.5,486.6 560.2,486.7 561,486.7 561.7,486.8 562.4,486.9 563.2,486.9 563.9,487 564.6,487.1 565.4,487.1 566.1,487.2 566.8,487.2 567.6,487.2 568.3,487.3 569,487.3 569.8,487.4 570.5,487.4 571.2,487.5 571.9,487.5 572.7,487.6 573.4,487.6 574.1,487.7 574.9,487.7 575.6,487.8 576.3,487.9 577.1,487.9 577.8,488 578.5,488.1 579.3,488.1 580,488.2 580.7,488.3 581.5,488.3 582.2,488.4 582.9,488.4 583.7,488.5 584.4,488.6 585.1,488.6 585.9,488.7 586.6,488.7 587.3,488.8 588.1,488.8 588.8,488.9 589.5,488.9 590.2,489 591,489 591.7,489.1 592.4,489.1 593.2,489.2 593.9,489.2 594.6,489.3 595.4,489.3 596.1,489.4 596.8,489.4 597.6,489.4 598.3,489.5 599,489.5 599.8,489.6 600.5,489.6 601.2,489.6 602,489.7 602.7,489.7 603.4,489.7 604.2,489.8 604.9,489.8 605.6,489.8 606.4,489.8 607.1,489.9 607.8,489.9 608.5,489.9 609.3,489.9 610,489.9 610.7,490 611.5,490 612.2,490 612.9,490 613.7,490 614.4,490.1 615.1,490.1 615.9,490.1 616.6,490.1 617.3,490.1 618.1,490.2 618.8,490.2 619.5,490.2 620.3,490.2 621,490.2 621.7,490.2 622.5,490.2 623.2,490.2 623.9,490.2 624.7,490.2 625.4,490.3 626.1,490.3 626.8,490.3 627.6,490.3 628.3,490.3 629,490.3 629.8,490.3 630.5,490.3 631.2,490.3 632,490.3 632.7,490.3 633.4,490.3 634.2,490.4 634.9,490.4 635.6,490.4 636.4,490.4 637.1,490.4 637.8,490.4 638.6,490.4 639.3,490.4 640,490.4 640.8,490.4 641.5,490.4 642.2,490.4 643,490.4 643.7,490.4 644.4,490.4 645.1,490.4 645.9,490.4 646.6,490.4 647.3,490.4 648.1,490.4 648.8,490.4 649.5,490.4 650.3,490.4 651,490.4 651.7,490.4 652.5,490.4 653.2,490.5 653.9,490.5 654.7,490.5 655.4,490.5 656.1,490.5 656.9,490.5 657.6,490.5 658.3,490.5 659.1,490.5 659.8,490.5 660.5,490.5 661.3,490.5 662,490.5 662.7,490.5 663.4,490.5 664.2,490.5 664.9,490.5 665.6,490.5 666.4,490.5 667.1,490.5 667.8,490.5 668.6,490.5 669.3,490.5 670,490.5 670.8,490.5 671.5,490.5 672.2,490.5 673,490.5 673.7,490.5 674.4,490.5 675.2,490.5 675.9,490.5 676.6,490.5 677.4,490.5" fill="none" stroke="#22A6F0" stroke-width="1.3" stroke-linejoin="round"/>
<polyline points="506.8,490.3 507.5,490.2 508.3,490.2 509,490.2 509.7,490.2 510.5,490.1 511.2,490.1 511.9,490.1 512.7,490 513.4,490 514.1,489.9 514.9,489.9 515.6,489.8 516.3,489.7 517,489.7 517.8,489.6 518.5,489.5 519.2,489.4 520,489.3 520.7,489.2 521.4,489.1 522.2,489 522.9,488.9 523.6,488.8 524.4,488.7 525.1,488.6 525.8,488.4 526.6,488.3 527.3,488.1 528,488 528.8,487.9 529.5,487.7 530.2,487.6 531,487.4 531.7,487.3 532.4,487.2 533.2,487 533.9,486.9 534.6,486.7 535.3,486.6 536.1,486.5 536.8,486.4 537.5,486.2 538.3,486.1 539,486 539.7,485.9 540.5,485.8 541.2,485.7 541.9,485.6 542.7,485.6 543.4,485.5 544.1,485.4 544.9,485.4 545.6,485.4 546.3,485.3 547.1,485.3 547.8,485.3 548.5,485.2 549.3,485.2 550,485.2 550.7,485.2 551.5,485.2 552.2,485.2 552.9,485.2 553.6,485.3 554.4,485.3 555.1,485.3 555.8,485.3 556.6,485.4 557.3,485.4 558,485.5 558.8,485.5 559.5,485.6 560.2,485.7 561,485.8 561.7,485.9 562.4,486 563.2,486.1 563.9,486.1 564.6,486.2 565.4,486.3 566.1,486.3 566.8,486.4 567.6,486.4 568.3,486.5 569,486.5 569.8,486.6 570.5,486.6 571.2,486.7 571.9,486.8 572.7,486.8 573.4,486.9 574.1,487 574.9,487 575.6,487.1 576.3,487.2 577.1,487.3 577.8,487.4 578.5,487.5 579.3,487.5 580,487.6 580.7,487.7 581.5,487.8 582.2,487.8 582.9,487.9 583.7,488 584.4,488.1 585.1,488.1 585.9,488.2 586.6,488.3 587.3,488.3 588.1,488.4 588.8,488.5 589.5,488.5 590.2,488.6 591,488.7 591.7,488.7 592.4,488.8 593.2,488.8 593.9,488.9 594.6,489 595.4,489 596.1,489.1 596.8,489.1 597.6,489.2 598.3,489.2 599,489.3 599.8,489.3 600.5,489.4 601.2,489.4 602,489.4 602.7,489.5 603.4,489.5 604.2,489.6 604.9,489.6 605.6,489.6 606.4,489.7 607.1,489.7 607.8,489.7 608.5,489.8 609.3,489.8 610,489.8 610.7,489.8 611.5,489.9 612.2,489.9 612.9,489.9 613.7,489.9 614.4,490 615.1,490 615.9,490 616.6,490 617.3,490 618.1,490.1 618.8,490.1 619.5,490.1 620.3,490.1 621,490.1 621.7,490.1 622.5,490.1 623.2,490.2 623.9,490.2 624.7,490.2 625.4,490.2 626.1,490.2 626.8,490.2 627.6,490.2 628.3,490.2 629,490.3 629.8,490.3 630.5,490.3 631.2,490.3 632,490.3 632.7,490.3 633.4,490.3 634.2,490.3 634.9,490.3 635.6,490.3 636.4,490.3 637.1,490.3 637.8,490.3 638.6,490.4 639.3,490.4 640,490.4 640.8,490.4 641.5,490.4 642.2,490.4 643,490.4 643.7,490.4 644.4,490.4 645.1,490.4 645.9,490.4 646.6,490.4 647.3,490.4 648.1,490.4 648.8,490.4 649.5,490.4 650.3,490.4 651,490.4 651.7,490.4 652.5,490.4 653.2,490.4 653.9,490.4 654.7,490.4 655.4,490.4 656.1,490.4 656.9,490.5 657.6,490.5 658.3,490.5 659.1,490.5 659.8,490.5 660.5,490.5 661.3,490.5 662,490.5 662.7,490.5 663.4,490.5 664.2,490.5 664.9,490.5 665.6,490.5 666.4,490.5 667.1,490.5 667.8,490.5 668.6,490.5 669.3,490.5 670,490.5 670.8,490.5 671.5,490.5 672.2,490.5 673,490.5 673.7,490.5 674.4,490.5 675.2,490.5 675.9,490.5 676.6,490.5 677.4,490.5" fill="none" stroke="#22CEDC" stroke-width="1.3" stroke-linejoin="round"/>
<polyline points="506.8,490.2 507.5,490.2 508.3,490.1 509,490.1 509.7,490.1 510.5,490 511.2,490 511.9,489.9 512.7,489.9 513.4,489.8 514.1,489.7 514.9,489.7 515.6,489.6 516.3,489.5 517,489.4 517.8,489.3 518.5,489.2 519.2,489.1 520,488.9 520.7,488.8 521.4,488.7 522.2,488.5 522.9,488.4 523.6,488.2 524.4,488.1 525.1,487.9 525.8,487.7 526.6,487.5 527.3,487.3 528,487.1 528.8,486.9 529.5,486.8 530.2,486.6 531,486.4 531.7,486.2 532.4,485.9 533.2,485.8 533.9,485.6 534.6,485.4 535.3,485.2 536.1,485 536.8,484.8 537.5,484.6 538.3,484.5 539,484.3 539.7,484.2 540.5,484 541.2,483.9 541.9,483.8 542.7,483.7 543.4,483.6 544.1,483.5 544.9,483.4 545.6,483.3 546.3,483.3 547.1,483.2 547.8,483.2 548.5,483.1 549.3,483.1 550,483.1 550.7,483.1 551.5,483.1 552.2,483.1 552.9,483.1 553.6,483.1 554.4,483.2 555.1,483.2 555.8,483.2 556.6,483.3 557.3,483.3 558,483.4 558.8,483.5 559.5,483.6 560.2,483.7 561,483.8 561.7,483.9 562.4,484 563.2,484.2 563.9,484.3 564.6,484.4 565.4,484.6 566.1,484.6 566.8,484.7 567.6,484.7 568.3,484.8 569,484.9 569.8,484.9 570.5,485 571.2,485.1 571.9,485.2 572.7,485.3 573.4,485.4 574.1,485.5 574.9,485.6 575.6,485.7 576.3,485.8 577.1,485.9 577.8,486 578.5,486.2 579.3,486.3 580,486.4 580.7,486.5 581.5,486.6 582.2,486.7 582.9,486.8 583.7,486.9 584.4,487 585.1,487.1 585.9,487.2 586.6,487.3 587.3,487.4 588.1,487.5 588.8,487.6 589.5,487.7 590.2,487.8 591,487.9 591.7,488 592.4,488 593.2,488.1 593.9,488.2 594.6,488.3 595.4,488.4 596.1,488.4 596.8,488.5 597.6,488.6 598.3,488.7 599,488.7 599.8,488.8 600.5,488.9 601.2,488.9 602,489 602.7,489 603.4,489.1 604.2,489.2 604.9,489.2 605.6,489.3 606.4,489.3 607.1,489.3 607.8,489.4 608.5,489.4 609.3,489.5 610,489.5 610.7,489.5 611.5,489.6 612.2,489.6 612.9,489.7 613.7,489.7 614.4,489.7 615.1,489.8 615.9,489.8 616.6,489.8 617.3,489.8 618.1,489.9 618.8,489.9 619.5,489.9 620.3,489.9 621,490 621.7,490 622.5,490 623.2,490 623.9,490 624.7,490 625.4,490.1 626.1,490.1 626.8,490.1 627.6,490.1 628.3,490.1 629,490.1 629.8,490.2 630.5,490.2 631.2,490.2 632,490.2 632.7,490.2 633.4,490.2 634.2,490.2 634.9,490.2 635.6,490.3 636.4,490.3 637.1,490.3 637.8,490.3 638.6,490.3 639.3,490.3 640,490.3 640.8,490.3 641.5,490.3 642.2,490.3 643,490.3 643.7,490.3 644.4,490.3 645.1,490.4 645.9,490.4 646.6,490.4 647.3,490.4 648.1,490.4 648.8,490.4 649.5,490.4 650.3,490.4 651,490.4 651.7,490.4 652.5,490.4 653.2,490.4 653.9,490.4 654.7,490.4 655.4,490.4 656.1,490.4 656.9,490.4 657.6,490.4 658.3,490.4 659.1,490.4 659.8,490.4 660.5,490.4 661.3,490.4 662,490.5 662.7,490.5 663.4,490.5 664.2,490.5 664.9,490.5 665.6,490.5 666.4,490.5 667.1,490.5 667.8,490.5 668.6,490.5 669.3,490.5 670,490.5 670.8,490.5 671.5,490.5 672.2,490.5 673,490.5 673.7,490.5 674.4,490.5 675.2,490.5 675.9,490.5 676.6,490.5 677.4,490.5" fill="none" stroke="#1EC664" stroke-width="1.3" stroke-linejoin="round"/>
<polyline points="506.8,490.2 507.5,490.1 508.3,490.1 509,490.1 509.7,490 510.5,490 511.2,489.9 511.9,489.9 512.7,489.8 513.4,489.7 514.1,489.7 514.9,489.6 515.6,489.5 516.3,489.4 517,489.3 517.8,489.2 518.5,489 519.2,488.9 520,488.8 520.7,488.6 521.4,488.5 522.2,488.3 522.9,488.1 523.6,488 524.4,487.8 525.1,487.6 525.8,487.4 526.6,487.2 527.3,486.9 528,486.7 528.8,486.5 529.5,486.3 530.2,486 531,485.8 531.7,485.6 532.4,485.3 533.2,485.1 533.9,484.9 534.6,484.6 535.3,484.4 536.1,484.2 536.8,484 537.5,483.8 538.3,483.6 539,483.4 539.7,483.2 540.5,483 541.2,482.9 541.9,482.7 542.7,482.6 543.4,482.5 544.1,482.3 544.9,482.2 545.6,482.2 546.3,482.1 547.1,482 547.8,482 548.5,481.9 549.3,481.9 550,481.9 550.7,481.8 551.5,481.8 552.2,481.8 552.9,481.8 553.6,481.9 554.4,481.9 555.1,481.9 555.8,481.9 556.6,482 557.3,482.1 558,482.1 558.8,482.2 559.5,482.3 560.2,482.4 561,482.6 561.7,482.7 562.4,482.8 563.2,483 563.9,483.2 564.6,483.3 565.4,483.4 566.1,483.6 566.8,483.7 567.6,483.7 568.3,483.8 569,483.8 569.8,483.9 570.5,484 571.2,484.1 571.9,484.2 572.7,484.3 573.4,484.4 574.1,484.5 574.9,484.7 575.6,484.8 576.3,484.9 577.1,485.1 577.8,485.2 578.5,485.3 579.3,485.5 580,485.6 580.7,485.7 581.5,485.8 582.2,486 582.9,486.1 583.7,486.2 584.4,486.3 585.1,486.5 585.9,486.6 586.6,486.7 587.3,486.8 588.1,486.9 588.8,487 589.5,487.1 590.2,487.3 591,487.4 591.7,487.5 592.4,487.6 593.2,487.7 593.9,487.7 594.6,487.8 595.4,487.9 596.1,488 596.8,488.1 597.6,488.2 598.3,488.3 599,488.4 599.8,488.5 600.5,488.5 601.2,488.6 602,488.7 602.7,488.8 603.4,488.8 604.2,488.9 604.9,488.9 605.6,489 606.4,489.1 607.1,489.1 607.8,489.2 608.5,489.2 609.3,489.3 610,489.3 610.7,489.4 611.5,489.4 612.2,489.4 612.9,489.5 613.7,489.5 614.4,489.6 615.1,489.6 615.9,489.6 616.6,489.7 617.3,489.7 618.1,489.7 618.8,489.8 619.5,489.8 620.3,489.8 621,489.9 621.7,489.9 622.5,489.9 623.2,489.9 623.9,489.9 624.7,490 625.4,490 626.1,490 626.8,490 627.6,490 628.3,490 629,490.1 629.8,490.1 630.5,490.1 631.2,490.1 632,490.1 632.7,490.1 633.4,490.2 634.2,490.2 634.9,490.2 635.6,490.2 636.4,490.2 637.1,490.2 637.8,490.2 638.6,490.2 639.3,490.3 640,490.3 640.8,490.3 641.5,490.3 642.2,490.3 643,490.3 643.7,490.3 644.4,490.3 645.1,490.3 645.9,490.3 646.6,490.3 647.3,490.3 648.1,490.4 648.8,490.4 649.5,490.4 650.3,490.4 651,490.4 651.7,490.4 652.5,490.4 653.2,490.4 653.9,490.4 654.7,490.4 655.4,490.4 656.1,490.4 656.9,490.4 657.6,490.4 658.3,490.4 659.1,490.4 659.8,490.4 660.5,490.4 661.3,490.4 662,490.4 662.7,490.4 663.4,490.4 664.2,490.4 664.9,490.5 665.6,490.5 666.4,490.5 667.1,490.5 667.8,490.5 668.6,490.5 669.3,490.5 670,490.5 670.8,490.5 671.5,490.5 672.2,490.5 673,490.5 673.7,490.5 674.4,490.5 675.2,490.5 675.9,490.5 676.6,490.5 677.4,490.5" fill="none" stroke="#3CD040" stroke-width="1.3" stroke-linejoin="round"/>
<polyline points="506.8,490.1 507.5,490.1 508.3,490 509,490 509.7,489.9 510.5,489.8 511.2,489.8 511.9,489.7 512.7,489.6 513.4,489.5 514.1,489.5 514.9,489.4 515.6,489.3 516.3,489.1 517,489 517.8,488.8 518.5,488.7 519.2,488.5 520,488.4 520.7,488.2 521.4,488 522.2,487.8 522.9,487.5 523.6,487.3 524.4,487.1 525.1,486.8 525.8,486.6 526.6,486.3 527.3,486 528,485.7 528.8,485.4 529.5,485.1 530.2,484.8 531,484.5 531.7,484.2 532.4,483.9 533.2,483.6 533.9,483.3 534.6,483 535.3,482.7 536.1,482.4 536.8,482.1 537.5,481.8 538.3,481.5 539,481.3 539.7,481 540.5,480.8 541.2,480.6 541.9,480.4 542.7,480.2 543.4,480 544.1,479.9 544.9,479.7 545.6,479.6 546.3,479.5 547.1,479.4 547.8,479.3 548.5,479.2 549.3,479.2 550,479.1 550.7,479.1 551.5,479.1 552.2,479.1 552.9,479.1 553.6,479.1 554.4,479.1 555.1,479.2 555.8,479.2 556.6,479.3 557.3,479.3 558,479.4 558.8,479.5 559.5,479.6 560.2,479.8 561,479.9 561.7,480.1 562.4,480.3 563.2,480.5 563.9,480.7 564.6,480.9 565.4,481.1 566.1,481.3 566.8,481.4 567.6,481.5 568.3,481.6 569,481.7 569.8,481.8 570.5,481.9 571.2,482 571.9,482.1 572.7,482.3 573.4,482.4 574.1,482.5 574.9,482.7 575.6,482.9 576.3,483 577.1,483.2 577.8,483.4 578.5,483.6 579.3,483.7 580,483.9 580.7,484.1 581.5,484.3 582.2,484.4 582.9,484.6 583.7,484.8 584.4,484.9 585.1,485.1 585.9,485.2 586.6,485.4 587.3,485.5 588.1,485.7 588.8,485.8 589.5,486 590.2,486.1 591,486.3 591.7,486.4 592.4,486.5 593.2,486.7 593.9,486.8 594.6,486.9 595.4,487 596.1,487.2 596.8,487.3 597.6,487.4 598.3,487.5 599,487.6 599.8,487.7 600.5,487.8 601.2,487.9 602,488 602.7,488.1 603.4,488.2 604.2,488.3 604.9,488.4 605.6,488.5 606.4,488.6 607.1,488.6 607.8,488.7 608.5,488.8 609.3,488.8 610,488.9 610.7,488.9 611.5,489 612.2,489.1 612.9,489.1 613.7,489.2 614.4,489.2 615.1,489.3 615.9,489.3 616.6,489.4 617.3,489.4 618.1,489.5 618.8,489.5 619.5,489.6 620.3,489.6 621,489.6 621.7,489.7 622.5,489.7 623.2,489.7 623.9,489.7 624.7,489.8 625.4,489.8 626.1,489.8 626.8,489.8 627.6,489.9 628.3,489.9 629,489.9 629.8,489.9 630.5,490 631.2,490 632,490 632.7,490 633.4,490 634.2,490.1 634.9,490.1 635.6,490.1 636.4,490.1 637.1,490.1 637.8,490.1 638.6,490.2 639.3,490.2 640,490.2 640.8,490.2 641.5,490.2 642.2,490.2 643,490.2 643.7,490.2 644.4,490.3 645.1,490.3 645.9,490.3 646.6,490.3 647.3,490.3 648.1,490.3 648.8,490.3 649.5,490.3 650.3,490.3 651,490.3 651.7,490.3 652.5,490.3 653.2,490.4 653.9,490.4 654.7,490.4 655.4,490.4 656.1,490.4 656.9,490.4 657.6,490.4 658.3,490.4 659.1,490.4 659.8,490.4 660.5,490.4 661.3,490.4 662,490.4 662.7,490.4 663.4,490.4 664.2,490.4 664.9,490.4 665.6,490.4 666.4,490.4 667.1,490.4 667.8,490.4 668.6,490.4 669.3,490.5 670,490.5 670.8,490.5 671.5,490.5 672.2,490.5 673,490.5 673.7,490.5 674.4,490.5 675.2,490.5 675.9,490.5 676.6,490.5 677.4,490.5" fill="none" stroke="#A4E04A" stroke-width="1.3" stroke-linejoin="round"/>
<polyline points="506.8,490.1 507.5,490 508.3,490 509,489.9 509.7,489.9 510.5,489.8 511.2,489.7 511.9,489.7 512.7,489.6 513.4,489.5 514.1,489.4 514.9,489.3 515.6,489.2 516.3,489 517,488.9 517.8,488.7 518.5,488.6 519.2,488.4 520,488.2 520.7,488 521.4,487.8 522.2,487.6 522.9,487.3 523.6,487.1 524.4,486.8 525.1,486.5 525.8,486.3 526.6,486 527.3,485.7 528,485.3 528.8,485 529.5,484.7 530.2,484.3 531,484 531.7,483.6 532.4,483.3 533.2,482.9 533.9,482.6 534.6,482.2 535.3,481.9 536.1,481.6 536.8,481.2 537.5,480.9 538.3,480.6 539,480.3 539.7,480 540.5,479.7 541.2,479.5 541.9,479.2 542.7,479 543.4,478.8 544.1,478.6 544.9,478.4 545.6,478.3 546.3,478.1 547.1,478 547.8,477.9 548.5,477.8 549.3,477.7 550,477.7 550.7,477.6 551.5,477.6 552.2,477.6 552.9,477.6 553.6,477.6 554.4,477.6 555.1,477.7 555.8,477.7 556.6,477.8 557.3,477.8 558,477.9 558.8,478 559.5,478.1 560.2,478.3 561,478.5 561.7,478.6 562.4,478.8 563.2,479 563.9,479.2 564.6,479.5 565.4,479.7 566.1,479.9 566.8,480.1 567.6,480.3 568.3,480.4 569,480.4 569.8,480.6 570.5,480.7 571.2,480.8 571.9,481 572.7,481.1 573.4,481.3 574.1,481.4 574.9,481.6 575.6,481.8 576.3,481.9 577.1,482.1 577.8,482.3 578.5,482.5 579.3,482.7 580,482.9 580.7,483.1 581.5,483.3 582.2,483.5 582.9,483.7 583.7,483.9 584.4,484.1 585.1,484.3 585.9,484.4 586.6,484.6 587.3,484.8 588.1,485 588.8,485.1 589.5,485.3 590.2,485.5 591,485.6 591.7,485.8 592.4,485.9 593.2,486.1 593.9,486.2 594.6,486.4 595.4,486.5 596.1,486.6 596.8,486.8 597.6,486.9 598.3,487 599,487.2 599.8,487.3 600.5,487.4 601.2,487.5 602,487.6 602.7,487.8 603.4,487.9 604.2,488 604.9,488.1 605.6,488.2 606.4,488.2 607.1,488.3 607.8,488.4 608.5,488.5 609.3,488.6 610,488.6 610.7,488.7 611.5,488.8 612.2,488.8 612.9,488.9 613.7,489 614.4,489 615.1,489.1 615.9,489.1 616.6,489.2 617.3,489.3 618.1,489.3 618.8,489.4 619.5,489.4 620.3,489.4 621,489.5 621.7,489.5 622.5,489.6 623.2,489.6 623.9,489.6 624.7,489.7 625.4,489.7 626.1,489.7 626.8,489.7 627.6,489.8 628.3,489.8 629,489.8 629.8,489.8 630.5,489.9 631.2,489.9 632,489.9 632.7,489.9 633.4,490 634.2,490 634.9,490 635.6,490 636.4,490.1 637.1,490.1 637.8,490.1 638.6,490.1 639.3,490.1 640,490.1 640.8,490.1 641.5,490.2 642.2,490.2 643,490.2 643.7,490.2 644.4,490.2 645.1,490.2 645.9,490.2 646.6,490.3 647.3,490.3 648.1,490.3 648.8,490.3 649.5,490.3 650.3,490.3 651,490.3 651.7,490.3 652.5,490.3 653.2,490.3 653.9,490.3 654.7,490.3 655.4,490.4 656.1,490.4 656.9,490.4 657.6,490.4 658.3,490.4 659.1,490.4 659.8,490.4 660.5,490.4 661.3,490.4 662,490.4 662.7,490.4 663.4,490.4 664.2,490.4 664.9,490.4 665.6,490.4 666.4,490.4 667.1,490.4 667.8,490.4 668.6,490.4 669.3,490.4 670,490.4 670.8,490.4 671.5,490.4 672.2,490.5 673,490.5 673.7,490.5 674.4,490.5 675.2,490.5 675.9,490.5 676.6,490.5 677.4,490.5" fill="none" stroke="#C8E030" stroke-width="1.3" stroke-linejoin="round"/>
<polyline points="506.8,490.1 507.5,490 508.3,489.9 509,489.9 509.7,489.8 510.5,489.7 511.2,489.7 511.9,489.6 512.7,489.5 513.4,489.4 514.1,489.3 514.9,489.2 515.6,489 516.3,488.9 517,488.7 517.8,488.6 518.5,488.4 519.2,488.2 520,488 520.7,487.8 521.4,487.5 522.2,487.3 522.9,487 523.6,486.7 524.4,486.4 525.1,486.1 525.8,485.8 526.6,485.5 527.3,485.1 528,484.7 528.8,484.3 529.5,484 530.2,483.6 531,483.2 531.7,482.8 532.4,482.4 533.2,482 533.9,481.5 534.6,481.1 535.3,480.7 536.1,480.3 536.8,480 537.5,479.6 538.3,479.2 539,478.8 539.7,478.5 540.5,478.2 541.2,477.9 541.9,477.6 542.7,477.3 543.4,477 544.1,476.8 544.9,476.6 545.6,476.4 546.3,476.2 547.1,476 547.8,475.9 548.5,475.8 549.3,475.7 550,475.6 550.7,475.6 551.5,475.5 552.2,475.5 552.9,475.5 553.6,475.5 554.4,475.5 555.1,475.5 555.8,475.6 556.6,475.6 557.3,475.7 558,475.8 558.8,475.9 559.5,476 560.2,476.2 561,476.4 561.7,476.6 562.4,476.8 563.2,477 563.9,477.2 564.6,477.5 565.4,477.8 566.1,478 566.8,478.3 567.6,478.5 568.3,478.6 569,478.7 569.8,478.8 570.5,479 571.2,479.1 571.9,479.3 572.7,479.5 573.4,479.6 574.1,479.8 574.9,480 575.6,480.2 576.3,480.4 577.1,480.6 577.8,480.8 578.5,481.1 579.3,481.3 580,481.5 580.7,481.8 581.5,482 582.2,482.2 582.9,482.4 583.7,482.7 584.4,482.9 585.1,483.1 585.9,483.3 586.6,483.5 587.3,483.7 588.1,483.9 588.8,484.1 589.5,484.3 590.2,484.5 591,484.7 591.7,484.9 592.4,485.1 593.2,485.2 593.9,485.4 594.6,485.6 595.4,485.7 596.1,485.9 596.8,486.1 597.6,486.2 598.3,486.4 599,486.5 599.8,486.7 600.5,486.8 601.2,487 602,487.1 602.7,487.2 603.4,487.4 604.2,487.5 604.9,487.6 605.6,487.7 606.4,487.8 607.1,487.9 607.8,488 608.5,488.1 609.3,488.2 610,488.3 610.7,488.4 611.5,488.4 612.2,488.5 612.9,488.6 613.7,488.7 614.4,488.7 615.1,488.8 615.9,488.9 616.6,488.9 617.3,489 618.1,489.1 618.8,489.1 619.5,489.2 620.3,489.2 621,489.3 621.7,489.3 622.5,489.4 623.2,489.4 623.9,489.5 624.7,489.5 625.4,489.5 626.1,489.6 626.8,489.6 627.6,489.6 628.3,489.7 629,489.7 629.8,489.7 630.5,489.8 631.2,489.8 632,489.8 632.7,489.8 633.4,489.9 634.2,489.9 634.9,489.9 635.6,489.9 636.4,490 637.1,490 637.8,490 638.6,490 639.3,490 640,490.1 640.8,490.1 641.5,490.1 642.2,490.1 643,490.1 643.7,490.1 644.4,490.2 645.1,490.2 645.9,490.2 646.6,490.2 647.3,490.2 648.1,490.2 648.8,490.2 649.5,490.3 650.3,490.3 651,490.3 651.7,490.3 652.5,490.3 653.2,490.3 653.9,490.3 654.7,490.3 655.4,490.3 656.1,490.3 656.9,490.3 657.6,490.3 658.3,490.4 659.1,490.4 659.8,490.4 660.5,490.4 661.3,490.4 662,490.4 662.7,490.4 663.4,490.4 664.2,490.4 664.9,490.4 665.6,490.4 666.4,490.4 667.1,490.4 667.8,490.4 668.6,490.4 669.3,490.4 670,490.4 670.8,490.4 671.5,490.4 672.2,490.4 673,490.4 673.7,490.4 674.4,490.4 675.2,490.4 675.9,490.5 676.6,490.5 677.4,490.5" fill="none" stroke="#E4D62A" stroke-width="1.3" stroke-linejoin="round"/>
<polyline points="506.8,489.7 507.5,489.7 508.3,489.7 509,489.6 509.7,489.5 510.5,489.4 511.2,489.3 511.9,489.2 512.7,489.1 513.4,488.9 514.1,488.8 514.9,488.6 515.6,488.4 516.3,488.3 517,488 517.8,487.8 518.5,487.5 519.2,487.2 520,486.9 520.7,486.6 521.4,486.2 522.2,485.9 522.9,485.5 523.6,485 524.4,484.6 525.1,484.1 525.8,483.6 526.6,483.1 527.3,482.5 528,482 528.8,481.4 529.5,480.8 530.2,480.1 531,479.4 531.7,478.8 532.4,478.1 533.2,477.4 533.9,476.7 534.6,476.1 535.3,475.4 536.1,474.7 536.8,474 537.5,473.3 538.3,472.7 539,472 539.7,471.4 540.5,470.8 541.2,470.2 541.9,469.6 542.7,469.1 543.4,468.6 544.1,468.2 544.9,467.7 545.6,467.3 546.3,467 547.1,466.6 547.8,466.3 548.5,466.1 549.3,465.8 550,465.7 550.7,465.5 551.5,465.4 552.2,465.3 552.9,465.2 553.6,465.1 554.4,465.1 555.1,465.1 555.8,465.2 556.6,465.2 557.3,465.3 558,465.4 558.8,465.5 559.5,465.6 560.2,465.8 561,466 561.7,466.3 562.4,466.6 563.2,466.9 563.9,467.3 564.6,467.7 565.4,468.1 566.1,468.5 566.8,469 567.6,469.4 568.3,469.9 569,470.2 569.8,470.5 570.5,470.6 571.2,470.8 571.9,471 572.7,471.3 573.4,471.5 574.1,471.8 574.9,472.1 575.6,472.4 576.3,472.7 577.1,473.1 577.8,473.4 578.5,473.8 579.3,474.2 580,474.6 580.7,475 581.5,475.4 582.2,475.7 582.9,476.1 583.7,476.5 584.4,476.9 585.1,477.3 585.9,477.6 586.6,478 587.3,478.4 588.1,478.7 588.8,479 589.5,479.4 590.2,479.7 591,480 591.7,480.4 592.4,480.7 593.2,481 593.9,481.3 594.6,481.6 595.4,481.9 596.1,482.2 596.8,482.5 597.6,482.7 598.3,483 599,483.3 599.8,483.5 600.5,483.8 601.2,484 602,484.3 602.7,484.5 603.4,484.7 604.2,485 604.9,485.2 605.6,485.4 606.4,485.6 607.1,485.8 607.8,485.9 608.5,486.1 609.3,486.3 610,486.4 610.7,486.6 611.5,486.7 612.2,486.9 612.9,487 613.7,487.1 614.4,487.3 615.1,487.4 615.9,487.5 616.6,487.6 617.3,487.8 618.1,487.9 618.8,488 619.5,488.1 620.3,488.2 621,488.3 621.7,488.4 622.5,488.5 623.2,488.5 623.9,488.6 624.7,488.7 625.4,488.7 626.1,488.8 626.8,488.9 627.6,488.9 628.3,489 629,489 629.8,489.1 630.5,489.1 631.2,489.2 632,489.2 632.7,489.3 633.4,489.3 634.2,489.4 634.9,489.4 635.6,489.5 636.4,489.5 637.1,489.6 637.8,489.6 638.6,489.6 639.3,489.7 640,489.7 640.8,489.7 641.5,489.8 642.2,489.8 643,489.8 643.7,489.8 644.4,489.9 645.1,489.9 645.9,489.9 646.6,489.9 647.3,490 648.1,490 648.8,490 649.5,490 650.3,490.1 651,490.1 651.7,490.1 652.5,490.1 653.2,490.1 653.9,490.1 654.7,490.2 655.4,490.2 656.1,490.2 656.9,490.2 657.6,490.2 658.3,490.2 659.1,490.2 659.8,490.3 660.5,490.3 661.3,490.3 662,490.3 662.7,490.3 663.4,490.3 664.2,490.3 664.9,490.3 665.6,490.3 666.4,490.3 667.1,490.4 667.8,490.4 668.6,490.4 669.3,490.4 670,490.4 670.8,490.4 671.5,490.4 672.2,490.4 673,490.4 673.7,490.4 674.4,490.4 675.2,490.4 675.9,490.4 676.6,490.4 677.4,490.4" fill="none" stroke="#F5892C" stroke-width="1.3" stroke-linejoin="round"/>
<polyline points="506.8,489 507.5,489 508.3,489 509,488.9 509.7,488.7 510.5,488.5 511.2,488.3 511.9,488.1 512.7,487.8 513.4,487.6 514.1,487.3 514.9,487 515.6,486.6 516.3,486.3 517,485.9 517.8,485.4 518.5,484.9 519.2,484.4 520,483.8 520.7,483.1 521.4,482.5 522.2,481.7 522.9,480.9 523.6,480.1 524.4,479.3 525.1,478.3 525.8,477.4 526.6,476.4 527.3,475.3 528,474.2 528.8,473.1 529.5,471.8 530.2,470.6 531,469.3 531.7,467.9 532.4,466.6 533.2,465.3 533.9,463.9 534.6,462.5 535.3,461.1 536.1,459.8 536.8,458.4 537.5,457 538.3,455.7 539,454.5 539.7,453.2 540.5,451.9 541.2,450.7 541.9,449.5 542.7,448.4 543.4,447.4 544.1,446.5 544.9,445.5 545.6,444.7 546.3,443.9 547.1,443.2 547.8,442.5 548.5,442 549.3,441.5 550,441.1 550.7,440.7 551.5,440.4 552.2,440.2 552.9,440 553.6,439.8 554.4,439.8 555.1,439.8 555.8,439.8 556.6,439.9 557.3,440 558,440.1 558.8,440.3 559.5,440.5 560.2,440.8 561,441.2 561.7,441.7 562.4,442.3 563.2,442.9 563.9,443.6 564.6,444.3 565.4,445.1 566.1,445.9 566.8,446.8 567.6,447.8 568.3,448.7 569,449.5 569.8,450.1 570.5,450.5 571.2,450.8 571.9,451.2 572.7,451.7 573.4,452.2 574.1,452.8 574.9,453.3 575.6,453.9 576.3,454.5 577.1,455.2 577.8,455.9 578.5,456.6 579.3,457.3 580,458.1 580.7,458.9 581.5,459.7 582.2,460.5 582.9,461.2 583.7,462 584.4,462.8 585.1,463.5 585.9,464.3 586.6,465 587.3,465.7 588.1,466.4 588.8,467.1 589.5,467.8 590.2,468.5 591,469.2 591.7,469.8 592.4,470.4 593.2,471.1 593.9,471.7 594.6,472.3 595.4,472.9 596.1,473.5 596.8,474 597.6,474.6 598.3,475.1 599,475.7 599.8,476.2 600.5,476.7 601.2,477.2 602,477.7 602.7,478.2 603.4,478.7 604.2,479.1 604.9,479.6 605.6,480 606.4,480.4 607.1,480.8 607.8,481.2 608.5,481.5 609.3,481.8 610,482.2 610.7,482.5 611.5,482.8 612.2,483.1 612.9,483.3 613.7,483.6 614.4,483.9 615.1,484.1 615.9,484.4 616.6,484.6 617.3,484.8 618.1,485.1 618.8,485.3 619.5,485.5 620.3,485.8 621,486 621.7,486.1 622.5,486.3 623.2,486.5 623.9,486.6 624.7,486.7 625.4,486.9 626.1,487 626.8,487.1 627.6,487.3 628.3,487.4 629,487.5 629.8,487.6 630.5,487.7 631.2,487.8 632,487.9 632.7,488 633.4,488.1 634.2,488.2 634.9,488.3 635.6,488.4 636.4,488.5 637.1,488.6 637.8,488.6 638.6,488.7 639.3,488.8 640,488.8 640.8,488.9 641.5,489 642.2,489 643,489.1 643.7,489.1 644.4,489.2 645.1,489.2 645.9,489.3 646.6,489.4 647.3,489.4 648.1,489.5 648.8,489.5 649.5,489.5 650.3,489.6 651,489.6 651.7,489.7 652.5,489.7 653.2,489.7 653.9,489.8 654.7,489.8 655.4,489.8 656.1,489.9 656.9,489.9 657.6,489.9 658.3,489.9 659.1,490 659.8,490 660.5,490 661.3,490 662,490.1 662.7,490.1 663.4,490.1 664.2,490.1 664.9,490.1 665.6,490.2 666.4,490.2 667.1,490.2 667.8,490.2 668.6,490.2 669.3,490.2 670,490.3 670.8,490.3 671.5,490.3 672.2,490.3 673,490.3 673.7,490.3 674.4,490.3 675.2,490.3 675.9,490.3 676.6,490.3 677.4,490.3" fill="none" stroke="#F6403A" stroke-width="1.3" stroke-linejoin="round"/>
<polyline points="506.8,487.7 507.5,487.5 508.3,487.4 509,487.2 509.7,487 510.5,486.7 511.2,486.4 511.9,486.1 512.7,485.8 513.4,485.4 514.1,485 514.9,484.6 515.6,484.2 516.3,483.8 517,483.4 517.8,482.9 518.5,482.4 519.2,481.9 520,481.4 520.7,480.9 521.4,480.2 522.2,479.2 522.9,478 523.6,476.5 524.4,474.5 525.1,471.8 525.8,468.6 526.6,465.5 527.3,462.7 528,460.1 528.8,457.7 529.5,455.4 530.2,453.1 531,451 531.7,448.9 532.4,447 533.2,445.2 533.9,443.1 534.6,440.5 535.3,436.6 536.1,432.4 536.8,428.9 537.5,425.4 538.3,421.9 539,418 539.7,414.2 540.5,411 541.2,408.2 541.9,405.5 542.7,402.6 543.4,399.7 544.1,397.1 544.9,394.6 545.6,392.4 546.3,390.6 547.1,388.9 547.8,387.5 548.5,386.1 549.3,384.8 550,383.7 550.7,382.8 551.5,382.1 552.2,381.5 552.9,381 553.6,380.5 554.4,380 555.1,379.6 555.8,379.3 556.6,379.4 557.3,379.9 558,380.5 558.8,381.2 559.5,382.1 560.2,383.1 561,384.4 561.7,385.8 562.4,387.1 563.2,388.5 563.9,390 564.6,391.8 565.4,394.3 566.1,396.5 566.8,398.2 567.6,399.4 568.3,400.2 569,400.8 569.8,401.6 570.5,402.4 571.2,403.3 571.9,404.1 572.7,404.8 573.4,405.7 574.1,407 574.9,408.7 575.6,410.4 576.3,412.3 577.1,414.1 577.8,415.9 578.5,417.7 579.3,419.5 580,421.4 580.7,423.2 581.5,425.1 582.2,427 582.9,428.9 583.7,430.8 584.4,432.7 585.1,434.5 585.9,436.1 586.6,437.7 587.3,439.2 588.1,440.6 588.8,442 589.5,443.4 590.2,444.9 591,446.4 591.7,447.8 592.4,449.3 593.2,450.7 593.9,452 594.6,453.3 595.4,454.6 596.1,455.9 596.8,457.2 597.6,458.4 598.3,459.6 599,460.8 599.8,461.9 600.5,463 601.2,464.1 602,465.2 602.7,466.2 603.4,467.2 604.2,468.2 604.9,469.1 605.6,469.9 606.4,470.8 607.1,471.6 607.8,472.3 608.5,473.1 609.3,473.8 610,474.5 610.7,475.2 611.5,475.9 612.2,476.5 612.9,477.1 613.7,477.7 614.4,478.2 615.1,478.7 615.9,479.2 616.6,479.7 617.3,480.1 618.1,480.6 618.8,481 619.5,481.4 620.3,481.8 621,482.2 621.7,482.5 622.5,482.9 623.2,483.2 623.9,483.5 624.7,483.8 625.4,484 626.1,484.3 626.8,484.5 627.6,484.7 628.3,484.9 629,485.1 629.8,485.3 630.5,485.4 631.2,485.6 632,485.7 632.7,485.9 633.4,486 634.2,486.1 634.9,486.3 635.6,486.4 636.4,486.5 637.1,486.6 637.8,486.8 638.6,486.9 639.3,487 640,487.1 640.8,487.3 641.5,487.4 642.2,487.5 643,487.6 643.7,487.7 644.4,487.8 645.1,487.9 645.9,488 646.6,488.1 647.3,488.2 648.1,488.3 648.8,488.4 649.5,488.4 650.3,488.5 651,488.6 651.7,488.7 652.5,488.7 653.2,488.8 653.9,488.9 654.7,489 655.4,489 656.1,489.1 656.9,489.1 657.6,489.2 658.3,489.2 659.1,489.3 659.8,489.3 660.5,489.4 661.3,489.4 662,489.5 662.7,489.5 663.4,489.6 664.2,489.6 664.9,489.6 665.6,489.7 666.4,489.7 667.1,489.7 667.8,489.8 668.6,489.8 669.3,489.8 670,489.9 670.8,489.9 671.5,489.9 672.2,490 673,490 673.7,490 674.4,490 675.2,490.1 675.9,490.1 676.6,490.1 677.4,490.2" fill="none" stroke="#E8108C" stroke-width="1.5" stroke-linejoin="round"/>
<path d="M632 384.3V469" stroke="url(#harr)" stroke-width="2.2" fill="none"/>
<path d="M627.5 461.8L632 470.6L636.5 461.8" stroke="#B88AF0" stroke-width="2.2" fill="none" stroke-linejoin="miter"/>
<text x="642.4" y="395.6" font-family="'Liberation Sans',sans-serif" font-size="11.5" text-anchor="start" font-weight="normal" fill="#222">1 ns</text>
<text x="642.4" y="430.4" font-family="'Liberation Sans',sans-serif" font-size="11.5" text-anchor="start" font-weight="normal" fill="#222">1 s</text>
<text x="642.4" y="465.3" font-family="'Liberation Sans',sans-serif" font-size="11.5" text-anchor="start" font-weight="normal" fill="#222">2 s</text>
<rect x="506.8" y="364.3" width="170.9" height="126.2" fill="none" stroke="#111" stroke-width="1.4"/>
<path d="M506.8 490.5v3M531.2 490.5v3M555.6 490.5v3M580 490.5v3M604.4 490.5v3M628.8 490.5v3M653.2 490.5v3M677.6 490.5v3" stroke="#111" stroke-width="1"/>
<path d="M519 490.5v1.8M543.4 490.5v1.8M567.8 490.5v1.8M592.2 490.5v1.8M616.6 490.5v1.8M641 490.5v1.8M665.4 490.5v1.8" stroke="#111" stroke-width="1"/>
<path d="M506.8 490.5h-3M506.8 469.46h-3M506.8 448.43h-3M506.8 427.39h-3M506.8 406.36h-3M506.8 385.32h-3M506.8 364.29h-3" stroke="#111" stroke-width="1"/>
<path d="M506.8 479.98h-1.8M506.8 458.95h-1.8M506.8 437.91h-1.8M506.8 416.88h-1.8M506.8 395.84h-1.8M506.8 374.81h-1.8" stroke="#111" stroke-width="1"/>
<text x="506.8" y="502.6" font-family="'Liberation Sans',sans-serif" font-size="9.5" text-anchor="middle" font-weight="normal" fill="#111">450</text>
<text x="531.2" y="502.6" font-family="'Liberation Sans',sans-serif" font-size="9.5" text-anchor="middle" font-weight="normal" fill="#111">500</text>
<text x="555.6" y="502.6" font-family="'Liberation Sans',sans-serif" font-size="9.5" text-anchor="middle" font-weight="normal" fill="#111">550</text>
<text x="580" y="502.6" font-family="'Liberation Sans',sans-serif" font-size="9.5" text-anchor="middle" font-weight="normal" fill="#111">600</text>
<text x="604.4" y="502.6" font-family="'Liberation Sans',sans-serif" font-size="9.5" text-anchor="middle" font-weight="normal" fill="#111">650</text>
<text x="628.8" y="502.6" font-family="'Liberation Sans',sans-serif" font-size="9.5" text-anchor="middle" font-weight="normal" fill="#111">700</text>
<text x="653.2" y="502.6" font-family="'Liberation Sans',sans-serif" font-size="9.5" text-anchor="middle" font-weight="normal" fill="#111">750</text>
<text x="677.6" y="502.6" font-family="'Liberation Sans',sans-serif" font-size="9.5" text-anchor="middle" font-weight="normal" fill="#111">800</text>
<text x="503" y="493.9" font-family="'Liberation Sans',sans-serif" font-size="9.5" text-anchor="end" font-weight="normal" fill="#111">0.0</text>
<text x="503" y="472.86" font-family="'Liberation Sans',sans-serif" font-size="9.5" text-anchor="end" font-weight="normal" fill="#111">0.5</text>
<text x="503" y="451.83" font-family="'Liberation Sans',sans-serif" font-size="9.5" text-anchor="end" font-weight="normal" fill="#111">1.0</text>
<text x="503" y="430.79" font-family="'Liberation Sans',sans-serif" font-size="9.5" text-anchor="end" font-weight="normal" fill="#111">1.5</text>
<text x="503" y="409.76" font-family="'Liberation Sans',sans-serif" font-size="9.5" text-anchor="end" font-weight="normal" fill="#111">2.0</text>
<text x="503" y="388.72" font-family="'Liberation Sans',sans-serif" font-size="9.5" text-anchor="end" font-weight="normal" fill="#111">2.5</text>
<text x="503" y="367.69" font-family="'Liberation Sans',sans-serif" font-size="9.5" text-anchor="end" font-weight="normal" fill="#111">3.0</text>
<text x="489" y="427" font-family="'Liberation Sans',sans-serif" font-size="12" text-anchor="middle" fill="#111" transform="rotate(-90 489 427)">Intensity (×10<tspan dy="-4" font-size="8.5">6</tspan><tspan dy="4">)</tspan></text>
<text x="592" y="514.8" font-family="'Liberation Sans',sans-serif" font-size="12" text-anchor="middle" font-weight="normal" fill="#111">Wavelength (nm)</text>
<path d="M64.6 15.7 L79.3 15.7 L83.2 28.8 L72.2 37 L61.3 28.8Z" fill="#F77B7B" stroke="#2a2a2a" stroke-width="1.15" stroke-linejoin="round"/>
<path d="M41 8.6 L55.3 5.8 L64.6 15.7 L61.3 28.8 L47 31.8 L37.4 21.7Z" fill="#F77B7B" stroke="#2a2a2a" stroke-width="1.15" stroke-linejoin="round"/>
<path d="M43.41 10.27L53.7 8.25M62.1 17.02L59.73 26.45M47.18 28.94L40.27 21.67" stroke="#2a2a2a" stroke-width="1" fill="none"/>
<path d="M79.3 15.7 L88.7 5.8 L102.3 8.6 L106.2 21.7 L96.9 31.6 L83.2 28.8Z" fill="#F77B7B" stroke="#2a2a2a" stroke-width="1.15" stroke-linejoin="round"/>
<path d="M90.18 8.25L99.97 10.26M103.37 21.65L96.67 28.78M84.67 26.37L81.86 16.93" stroke="#2a2a2a" stroke-width="1" fill="none"/>
<line x1="72.2" y1="37" x2="62.4" y2="46.9" stroke="#2a2a2a" stroke-width="1"/>
<line x1="72.2" y1="37" x2="82.1" y2="46.9" stroke="#2a2a2a" stroke-width="1"/>
<line x1="106.2" y1="21.7" x2="120.5" y2="24.2" stroke="#2a2a2a" stroke-width="1"/>
<path d="M146.9 30.3 L161.1 33 L165.1 46.5 L156.4 56 L142.2 53.9 L138.1 40.4Z" fill="#A15CD2" stroke="#2a2a2a" stroke-width="1.15" stroke-linejoin="round"/>
<path d="M120.5 24.2 L129.3 13.7 L144.2 17.2 L146.9 30.3 L138.1 40.4 L123.9 37.1Z" fill="#A15CD2" stroke="#2a2a2a" stroke-width="1.15" stroke-linejoin="round"/>
<path d="M130.91 16.23L141.63 18.75M144.08 30.33L137.75 37.61M125.45 34.76L123.01 25.47" stroke="#2a2a2a" stroke-width="1" fill="none"/>
<path d="M165.1 46.5 L180 48.5 L184.1 62.1 L174.6 71.8 L160.4 69.5 L156.4 56Z" fill="#A15CD2" stroke="#2a2a2a" stroke-width="1.15" stroke-linejoin="round"/>
<path d="M178.56 51.01L181.52 60.8M172.95 69.41L162.72 67.75M159.17 56.09L165.43 49.25" stroke="#2a2a2a" stroke-width="1" fill="none"/>
<path d="M161.88 33.78L169.08 26.58M160.32 32.22L167.52 25.02" stroke="#2a2a2a" stroke-width="0.9"/>
<path d="M141.39 53.16L134.59 60.56M143.01 54.64L136.21 62.04" stroke="#2a2a2a" stroke-width="0.9"/>
<text x="170.6" y="25.6" font-family="'Liberation Sans',sans-serif" font-size="8" text-anchor="middle" font-weight="normal" fill="#A864E6">O</text>
<text x="133.2" y="66.6" font-family="'Liberation Sans',sans-serif" font-size="8" text-anchor="middle" font-weight="normal" fill="#A864E6">O</text>
<text x="102" y="98.7" font-family="'Liberation Serif',serif" font-size="31" text-anchor="middle" font-weight="normal" fill="#000">F-AQ</text>
<g clip-path="url(#c1L)" filter="url(#soft)"><rect x="36" y="140" width="27" height="54" fill="#F8F5E8"/><g fill="#9A8650"><circle cx="56.2" cy="172.7" r="0.5"/><circle cx="41" cy="173.8" r="0.6"/><circle cx="48.3" cy="150.9" r="0.6"/><circle cx="53.9" cy="154.7" r="0.5"/><circle cx="60.8" cy="155.2" r="0.5"/><circle cx="54.4" cy="155.8" r="0.3"/><circle cx="60" cy="161" r="0.4"/><circle cx="53.4" cy="165.4" r="0.3"/><circle cx="44.7" cy="166.8" r="0.5"/><circle cx="52.3" cy="164.9" r="0.3"/><circle cx="56.3" cy="154.2" r="0.5"/><circle cx="49.9" cy="170.3" r="0.4"/><circle cx="43.5" cy="153.5" r="0.5"/><circle cx="45.1" cy="146.6" r="0.3"/><circle cx="59.3" cy="177.3" r="0.5"/><circle cx="47.8" cy="182" r="0.3"/><circle cx="52.9" cy="146.5" r="0.5"/><circle cx="60.4" cy="177.2" r="0.3"/><circle cx="52" cy="159.9" r="0.6"/><circle cx="39.4" cy="146.5" r="0.3"/><circle cx="46.5" cy="184.8" r="0.4"/><circle cx="53.6" cy="148" r="0.3"/><circle cx="47.4" cy="173.6" r="0.5"/><circle cx="51.6" cy="158.3" r="0.3"/><circle cx="48.3" cy="157.3" r="0.5"/><circle cx="58.6" cy="181.4" r="0.3"/><circle cx="56.3" cy="146.7" r="0.3"/><circle cx="54.4" cy="160.2" r="0.5"/><circle cx="54.1" cy="174.2" r="0.5"/><circle cx="59.1" cy="182.6" r="0.3"/><circle cx="60.7" cy="165" r="0.4"/><circle cx="58.1" cy="186.4" r="0.5"/><circle cx="54.8" cy="146.5" r="0.3"/><circle cx="56.9" cy="189.9" r="0.3"/><circle cx="55.7" cy="151" r="0.5"/><circle cx="46.8" cy="149.4" r="0.3"/><circle cx="51.5" cy="166.8" r="0.5"/><circle cx="46.7" cy="172.2" r="0.4"/><circle cx="55.9" cy="146.3" r="0.5"/><circle cx="51.9" cy="148.6" r="0.5"/><circle cx="53" cy="187.8" r="0.3"/><circle cx="48.3" cy="184.1" r="0.6"/><circle cx="54.1" cy="161.5" r="0.5"/><circle cx="49" cy="169.5" r="0.5"/><circle cx="59.5" cy="146.4" r="0.5"/><circle cx="59.1" cy="162.5" r="0.3"/><circle cx="51.5" cy="147.3" r="0.5"/><circle cx="49.7" cy="175.2" r="0.5"/><circle cx="39.4" cy="154.3" r="0.4"/><circle cx="52.4" cy="162.1" r="0.3"/></g><g fill="#7A6428"><circle cx="56.4" cy="167.4" r="1.2"/><circle cx="53.9" cy="174.5" r="0.6"/><circle cx="59.8" cy="161.7" r="0.6"/><circle cx="57.5" cy="171.3" r="1"/><circle cx="54.1" cy="164.6" r="0.5"/><circle cx="56.4" cy="164.6" r="0.4"/><circle cx="53.2" cy="168.1" r="1.1"/><circle cx="52.5" cy="170.8" r="0.8"/><circle cx="56" cy="174.6" r="1"/><circle cx="49.3" cy="165.8" r="0.7"/><circle cx="54.6" cy="171.7" r="0.4"/><circle cx="54.1" cy="167.9" r="1"/><circle cx="58.1" cy="167" r="0.9"/><circle cx="50.6" cy="166.2" r="0.6"/><circle cx="57.2" cy="159.2" r="0.8"/><circle cx="55.4" cy="171.9" r="1"/><circle cx="52.3" cy="170.8" r="0.6"/><circle cx="46.7" cy="164.6" r="0.9"/><circle cx="57.8" cy="174.3" r="0.9"/><circle cx="55.1" cy="169" r="0.6"/><circle cx="47.3" cy="168" r="0.6"/><circle cx="52.4" cy="153.6" r="0.8"/><circle cx="52.5" cy="163.6" r="1.1"/><circle cx="50.6" cy="171.6" r="0.8"/><circle cx="52.5" cy="170.1" r="0.4"/><circle cx="49.2" cy="167.7" r="0.5"/><circle cx="48.4" cy="164.9" r="0.4"/><circle cx="52.3" cy="176.2" r="1"/><circle cx="53.4" cy="171.5" r="0.7"/><circle cx="53.3" cy="163.6" r="0.5"/><circle cx="49.7" cy="161.1" r="0.8"/><circle cx="53" cy="169.9" r="0.8"/><circle cx="51.8" cy="167.4" r="1.1"/><circle cx="52.2" cy="163.9" r="0.7"/><circle cx="54" cy="170.3" r="1.2"/><circle cx="58" cy="162.4" r="1.2"/><circle cx="53.6" cy="169.2" r="0.8"/><circle cx="51.1" cy="166.1" r="0.6"/><circle cx="58.8" cy="176.1" r="0.8"/><circle cx="53.8" cy="164.1" r="1"/></g><g fill="#6E5818"><circle cx="58.7" cy="167" r="1.5"/><circle cx="58.3" cy="172.6" r="0.9"/><circle cx="56.7" cy="169" r="1.9"/><circle cx="58.4" cy="164.3" r="1.2"/><circle cx="52" cy="168.7" r="1.2"/><circle cx="52.2" cy="165.8" r="0.8"/><circle cx="57.1" cy="160.5" r="1.3"/><circle cx="53.8" cy="174.3" r="1.7"/><circle cx="55.7" cy="168.6" r="1.6"/><circle cx="59.1" cy="170.6" r="1.9"/><circle cx="60.9" cy="171.5" r="0.8"/><circle cx="57.9" cy="168.1" r="0.8"/><circle cx="59.2" cy="170.5" r="1.9"/><circle cx="60.1" cy="167.4" r="0.9"/><circle cx="59.7" cy="163.8" r="1.1"/><circle cx="61.8" cy="164.5" r="1.8"/><circle cx="54.7" cy="170.2" r="1.2"/><circle cx="55.9" cy="166.9" r="1.9"/><circle cx="60.1" cy="172" r="1.1"/><circle cx="58" cy="175.4" r="1.2"/><circle cx="58.3" cy="164.1" r="1.8"/><circle cx="59.2" cy="168.9" r="0.9"/><circle cx="59.5" cy="167.2" r="1.2"/><circle cx="58.4" cy="169.8" r="1.4"/><circle cx="56.3" cy="169" r="1.7"/><circle cx="63.5" cy="166.9" r="1.1"/><circle cx="56.6" cy="165" r="1.9"/><circle cx="58.5" cy="164.7" r="1.7"/><circle cx="59.6" cy="174.9" r="0.9"/><circle cx="60.1" cy="178" r="1.6"/><circle cx="58.2" cy="169.2" r="1.9"/><circle cx="60.2" cy="167.1" r="1.1"/><circle cx="60.8" cy="170" r="1.4"/><circle cx="55" cy="158.1" r="1.3"/><circle cx="58.3" cy="169.5" r="1.5"/><circle cx="56.4" cy="175.9" r="1.9"/><circle cx="59.1" cy="167.2" r="0.9"/><circle cx="60.9" cy="171.7" r="1.4"/><circle cx="58.3" cy="164.9" r="2"/><circle cx="59.1" cy="166.3" r="1"/><circle cx="61.2" cy="167.9" r="1.9"/><circle cx="56.8" cy="163.8" r="1.6"/><circle cx="56.6" cy="160.2" r="1.5"/><circle cx="56.5" cy="174.7" r="0.8"/><circle cx="57.5" cy="171.2" r="0.8"/><circle cx="56.7" cy="175.7" r="1.2"/><circle cx="51.2" cy="172.6" r="1.3"/><circle cx="60.1" cy="168.9" r="0.9"/><circle cx="62.5" cy="175.7" r="1.2"/><circle cx="60.3" cy="172.4" r="1.8"/><circle cx="54.7" cy="178" r="1.3"/><circle cx="58.4" cy="169.1" r="0.9"/><circle cx="52.1" cy="169.5" r="1.4"/><circle cx="55" cy="160.8" r="1.4"/><circle cx="59" cy="166.5" r="1.1"/><circle cx="57.1" cy="163.7" r="0.9"/><circle cx="54.3" cy="167.2" r="1.5"/><circle cx="56.5" cy="172.3" r="0.9"/><circle cx="60.5" cy="170.6" r="1.2"/><circle cx="59.9" cy="170.7" r="1"/></g><g fill="#654F12"><circle cx="57.6" cy="170" r="1.2"/><circle cx="60.7" cy="166.9" r="2.1"/><circle cx="59.5" cy="168.9" r="1.1"/><circle cx="60" cy="168.4" r="2.2"/><circle cx="58.2" cy="163.1" r="1.9"/><circle cx="58.6" cy="170.8" r="1.4"/><circle cx="61.4" cy="167.5" r="1.6"/><circle cx="55.6" cy="159.6" r="1.4"/><circle cx="59.8" cy="169.5" r="1.8"/><circle cx="59.8" cy="170.7" r="1.2"/><circle cx="59.2" cy="174.5" r="1.8"/><circle cx="58.5" cy="168.5" r="2.2"/><circle cx="59.2" cy="167.1" r="1.4"/><circle cx="60.9" cy="175.4" r="1.2"/><circle cx="60.1" cy="173.2" r="1.6"/><circle cx="59.7" cy="170.3" r="1.9"/><circle cx="58.2" cy="171" r="1.8"/><circle cx="59.4" cy="165.7" r="1.2"/><circle cx="62" cy="174.3" r="1"/><circle cx="57.8" cy="161.8" r="1.2"/><circle cx="59" cy="169.4" r="1.7"/><circle cx="59.3" cy="170.8" r="1.6"/><circle cx="63.2" cy="171" r="2.1"/><circle cx="57.5" cy="163" r="1.7"/><circle cx="61" cy="156" r="2.2"/><circle cx="60.7" cy="171.3" r="1.4"/><circle cx="60" cy="165.1" r="2"/><circle cx="62.5" cy="171.4" r="2"/><circle cx="59.1" cy="163.1" r="2.1"/><circle cx="61.2" cy="175.5" r="1.3"/><circle cx="60" cy="166.2" r="2.2"/><circle cx="59.7" cy="170" r="1.4"/><circle cx="59.3" cy="159.2" r="2.1"/><circle cx="61.8" cy="168.1" r="1.7"/><circle cx="60.3" cy="164.5" r="1.3"/><circle cx="58.3" cy="182.8" r="1"/><circle cx="57.8" cy="160.6" r="1.4"/><circle cx="60.6" cy="170.2" r="1.6"/><circle cx="58.7" cy="162.2" r="1.7"/><circle cx="58.7" cy="177.8" r="1.5"/></g><g fill="#6C5414"><circle cx="52.3" cy="186.2" r="0.8"/><circle cx="51" cy="180.9" r="0.9"/><circle cx="55.8" cy="183.2" r="1"/><circle cx="51.8" cy="178.8" r="1"/><circle cx="52" cy="183.9" r="0.9"/><circle cx="52.9" cy="184.2" r="0.9"/><circle cx="53.2" cy="182.3" r="1"/><circle cx="54.2" cy="182.3" r="0.8"/><circle cx="57.8" cy="180.2" r="0.8"/><circle cx="52.4" cy="175.4" r="0.8"/><circle cx="53.7" cy="178" r="0.6"/><circle cx="49.1" cy="183" r="0.6"/><circle cx="56.1" cy="178.2" r="0.5"/><circle cx="54.4" cy="187.2" r="1"/><circle cx="51.4" cy="185.2" r="0.9"/></g></g>
<g clip-path="url(#c1R)" filter="url(#soft)"><rect x="61" y="140" width="28" height="54" fill="#0B3A5C"/><g fill="#3DAA3A"><circle cx="62.4" cy="146.8" r="0.6"/><circle cx="74.8" cy="175.6" r="0.3"/><circle cx="66.9" cy="180.6" r="0.5"/><circle cx="74.2" cy="179.9" r="0.3"/><circle cx="64.9" cy="167" r="0.6"/><circle cx="70.3" cy="167.8" r="0.6"/><circle cx="83.6" cy="155" r="0.6"/><circle cx="67.4" cy="165.9" r="0.6"/><circle cx="70" cy="172.6" r="0.4"/><circle cx="77.6" cy="166.5" r="0.5"/><circle cx="65.2" cy="161.6" r="0.6"/><circle cx="66.3" cy="180.4" r="0.6"/><circle cx="85" cy="168.1" r="0.5"/><circle cx="74" cy="169.6" r="0.6"/><circle cx="76" cy="170.2" r="0.6"/><circle cx="69.7" cy="144.4" r="0.7"/><circle cx="71.6" cy="166.5" r="0.5"/><circle cx="79.7" cy="153.4" r="0.4"/><circle cx="67.9" cy="177.6" r="0.5"/><circle cx="86.9" cy="185.4" r="0.7"/><circle cx="67.2" cy="152.9" r="0.6"/><circle cx="78.2" cy="157.7" r="0.5"/><circle cx="62.4" cy="190" r="0.3"/><circle cx="82.1" cy="165.1" r="0.6"/><circle cx="63.9" cy="168.2" r="0.5"/><circle cx="79.5" cy="149.8" r="0.7"/><circle cx="86.8" cy="153" r="0.3"/><circle cx="75.4" cy="164.1" r="0.6"/><circle cx="86.6" cy="177.6" r="0.6"/><circle cx="84.4" cy="172.4" r="0.4"/><circle cx="65.5" cy="156" r="0.5"/><circle cx="67.9" cy="155.7" r="0.6"/><circle cx="82.1" cy="157" r="0.7"/><circle cx="81.3" cy="159.9" r="0.5"/><circle cx="65.4" cy="180.6" r="0.7"/><circle cx="81.8" cy="147.4" r="0.7"/><circle cx="70.7" cy="171.5" r="0.4"/><circle cx="70.5" cy="157.6" r="0.3"/><circle cx="76" cy="166.6" r="0.6"/><circle cx="71.7" cy="190" r="0.6"/><circle cx="80.8" cy="157.1" r="0.7"/><circle cx="81" cy="177" r="0.3"/><circle cx="75.3" cy="144.3" r="0.4"/><circle cx="79.3" cy="161.3" r="0.6"/><circle cx="82.5" cy="145.5" r="0.4"/><circle cx="79.2" cy="164.7" r="0.6"/><circle cx="83.7" cy="181.8" r="0.6"/><circle cx="68.2" cy="161.1" r="0.3"/><circle cx="79.3" cy="146.5" r="0.4"/><circle cx="62.2" cy="145.6" r="0.6"/></g><g fill="#58C828"><circle cx="65.1" cy="155.5" r="0.5"/><circle cx="66.3" cy="148.2" r="0.5"/><circle cx="60.1" cy="150.8" r="0.6"/><circle cx="65.3" cy="153.9" r="0.4"/><circle cx="76.5" cy="149.6" r="0.7"/><circle cx="63.2" cy="154.5" r="0.4"/><circle cx="68" cy="155.6" r="0.5"/><circle cx="68.8" cy="155.6" r="0.6"/><circle cx="64.6" cy="144.4" r="0.5"/><circle cx="73.3" cy="149.2" r="0.7"/><circle cx="66.4" cy="152.4" r="0.6"/><circle cx="69.9" cy="154.8" r="0.9"/><circle cx="64.3" cy="147" r="0.9"/><circle cx="71.7" cy="146.5" r="0.6"/><circle cx="67.7" cy="151.5" r="0.9"/><circle cx="65.3" cy="153.4" r="0.5"/><circle cx="62.4" cy="149.2" r="0.9"/><circle cx="69.6" cy="148.2" r="0.3"/><circle cx="65" cy="144.7" r="0.6"/><circle cx="70.3" cy="147.8" r="0.8"/><circle cx="63.6" cy="154" r="0.6"/><circle cx="64.1" cy="157.8" r="0.8"/><circle cx="69.3" cy="142.3" r="0.3"/><circle cx="72.4" cy="149.8" r="0.4"/><circle cx="65.9" cy="148" r="0.7"/></g><g fill="#62D022"><circle cx="64.3" cy="169.2" r="1.7"/><circle cx="73.6" cy="174.1" r="1.1"/><circle cx="71.2" cy="170.9" r="1.6"/><circle cx="73.4" cy="167" r="1.8"/><circle cx="71.2" cy="170.3" r="1.9"/><circle cx="72.5" cy="169.1" r="1"/><circle cx="71.9" cy="167.7" r="1.7"/><circle cx="73.2" cy="169.3" r="1.7"/><circle cx="77.1" cy="169.8" r="1.7"/><circle cx="68.5" cy="168.4" r="2"/><circle cx="76.9" cy="163" r="1.7"/><circle cx="73.6" cy="167.2" r="1.5"/><circle cx="74.2" cy="167.8" r="2"/><circle cx="61.9" cy="165.5" r="1.7"/><circle cx="74.2" cy="165.9" r="1.6"/><circle cx="65.8" cy="172.5" r="2.1"/><circle cx="77.8" cy="171.8" r="2"/><circle cx="80.2" cy="170.2" r="1.5"/><circle cx="72.9" cy="168" r="1.6"/><circle cx="70.5" cy="163.6" r="1.7"/><circle cx="80.7" cy="170.5" r="1.5"/><circle cx="74.3" cy="169.8" r="2"/><circle cx="72.7" cy="162.9" r="1.3"/><circle cx="71.5" cy="167.4" r="1.8"/><circle cx="80.1" cy="171.2" r="1.3"/><circle cx="66.3" cy="166.8" r="2.1"/><circle cx="62.6" cy="170.7" r="1.9"/><circle cx="70.9" cy="171.3" r="1.9"/><circle cx="71.1" cy="172" r="1.7"/><circle cx="81.8" cy="165.8" r="1"/><circle cx="81.7" cy="178.2" r="1"/><circle cx="68.5" cy="161.8" r="1.1"/><circle cx="73.1" cy="166.6" r="0.9"/><circle cx="69.3" cy="170.8" r="0.9"/><circle cx="71.9" cy="161.8" r="2.1"/><circle cx="65.1" cy="170.5" r="1.2"/><circle cx="62" cy="167.3" r="1"/><circle cx="76" cy="169.6" r="2.2"/><circle cx="72" cy="171.4" r="2.1"/><circle cx="75.7" cy="164.2" r="2"/><circle cx="71.7" cy="168.9" r="1.2"/><circle cx="78.5" cy="167.2" r="1.7"/><circle cx="80.5" cy="168" r="1.8"/><circle cx="68" cy="168.3" r="1.1"/><circle cx="76.4" cy="167.7" r="2"/><circle cx="71.5" cy="173" r="1.9"/><circle cx="79.8" cy="168.1" r="1.8"/><circle cx="75" cy="164.3" r="2.2"/><circle cx="70.6" cy="171" r="1.7"/><circle cx="62.8" cy="162.3" r="1.2"/><circle cx="70.7" cy="168.1" r="1.2"/><circle cx="70.9" cy="166.1" r="1.3"/><circle cx="76.7" cy="169.1" r="1.3"/><circle cx="82.1" cy="170.1" r="1.3"/><circle cx="71.6" cy="167.3" r="1.7"/><circle cx="75.4" cy="170.7" r="1.2"/><circle cx="80.4" cy="167.7" r="1.8"/><circle cx="75.4" cy="165.5" r="2"/><circle cx="76" cy="171.5" r="2.1"/><circle cx="66.5" cy="162" r="2"/><circle cx="68.6" cy="167.2" r="1.1"/><circle cx="69.9" cy="164.7" r="0.9"/><circle cx="72.1" cy="168.5" r="2.1"/><circle cx="71.6" cy="169.6" r="1.1"/><circle cx="66.8" cy="167.5" r="1.2"/><circle cx="68" cy="175.3" r="1.8"/><circle cx="76.4" cy="163.2" r="0.9"/><circle cx="80.3" cy="164.5" r="1.2"/><circle cx="74.2" cy="169" r="2"/><circle cx="65.7" cy="168.8" r="1.9"/><circle cx="76.5" cy="167.5" r="2.1"/><circle cx="79" cy="164.4" r="1.9"/><circle cx="76.6" cy="171.8" r="1.8"/><circle cx="72.3" cy="168.2" r="1.8"/><circle cx="78" cy="168.7" r="1.3"/><circle cx="73.9" cy="164.9" r="1.7"/><circle cx="66.9" cy="168.1" r="1.9"/><circle cx="71.9" cy="169.6" r="2.2"/><circle cx="66.4" cy="169.3" r="1.3"/><circle cx="66.1" cy="166.5" r="1.3"/><circle cx="72.7" cy="165.6" r="1.9"/><circle cx="73.8" cy="169.9" r="1.7"/><circle cx="65.7" cy="170.9" r="2"/><circle cx="67.8" cy="167.8" r="1.4"/><circle cx="66.2" cy="170.4" r="1.4"/><circle cx="61.6" cy="170.4" r="2.1"/><circle cx="74.5" cy="168.6" r="1.6"/><circle cx="70.5" cy="160.6" r="2.1"/><circle cx="66.4" cy="169.5" r="2"/><circle cx="69" cy="168.3" r="2.2"/></g><g fill="#86F024"><circle cx="77.1" cy="164.8" r="1"/><circle cx="74.6" cy="169.1" r="0.9"/><circle cx="77.8" cy="167.7" r="1.6"/><circle cx="83.4" cy="162.9" r="1.5"/><circle cx="79.6" cy="170.9" r="2.4"/><circle cx="78.9" cy="166.1" r="1"/><circle cx="77.9" cy="169.6" r="1.2"/><circle cx="81.7" cy="167.4" r="2.3"/><circle cx="86.5" cy="161.9" r="1.4"/><circle cx="76.8" cy="167.1" r="1.1"/><circle cx="82.1" cy="161.1" r="1.2"/><circle cx="85.4" cy="169.4" r="2.2"/><circle cx="77.4" cy="170.2" r="1.1"/><circle cx="76.7" cy="160.7" r="2"/><circle cx="85.7" cy="165" r="1"/><circle cx="75.8" cy="164.6" r="1.7"/><circle cx="83" cy="163.5" r="2"/><circle cx="78.9" cy="164.2" r="1.1"/><circle cx="84.7" cy="166.6" r="2.1"/><circle cx="80.8" cy="165.6" r="2"/><circle cx="77.5" cy="163.3" r="1.1"/><circle cx="74.2" cy="162.4" r="2.1"/><circle cx="79.6" cy="170" r="1.2"/><circle cx="78.8" cy="167.2" r="1.9"/><circle cx="74.6" cy="167.8" r="1.6"/><circle cx="82" cy="164.6" r="1.6"/><circle cx="80.6" cy="164.6" r="1.2"/><circle cx="83" cy="167.5" r="1"/><circle cx="79.7" cy="164.5" r="1.6"/><circle cx="77.5" cy="164.9" r="2.3"/><circle cx="75" cy="168.1" r="1.5"/><circle cx="84.4" cy="164" r="2"/><circle cx="80.3" cy="168.5" r="2"/><circle cx="81.1" cy="161.7" r="2"/><circle cx="72.7" cy="168.7" r="1.1"/><circle cx="77.2" cy="166.3" r="2.2"/><circle cx="75.7" cy="167.8" r="1.4"/><circle cx="80.6" cy="168.6" r="2.1"/><circle cx="84.1" cy="167.9" r="2.3"/><circle cx="78.8" cy="166.3" r="1.6"/><circle cx="82.2" cy="168.1" r="1.1"/><circle cx="83" cy="162.7" r="1.1"/><circle cx="80.3" cy="170.4" r="1.6"/><circle cx="75.9" cy="162.4" r="2.3"/><circle cx="82.2" cy="171.7" r="1.8"/><circle cx="75.4" cy="165.9" r="1.8"/><circle cx="75.8" cy="166.7" r="1.5"/><circle cx="80" cy="165.3" r="1.6"/><circle cx="81.5" cy="168.4" r="1.5"/><circle cx="72.1" cy="158.6" r="1.4"/><circle cx="80.8" cy="168.8" r="1.5"/><circle cx="79.7" cy="157.8" r="1.7"/><circle cx="77.1" cy="165.5" r="2.3"/><circle cx="72.7" cy="169" r="1.9"/><circle cx="75.8" cy="161.2" r="1"/><circle cx="82.4" cy="168.3" r="1.9"/><circle cx="82.6" cy="167.6" r="2.4"/><circle cx="81.6" cy="166.2" r="1.6"/><circle cx="83.3" cy="167.9" r="1.8"/><circle cx="82" cy="167.1" r="1.3"/></g><g fill="#7CE828"><circle cx="64.6" cy="164.9" r="1.4"/><circle cx="66.8" cy="170" r="1.8"/><circle cx="66.7" cy="167.2" r="1.5"/><circle cx="67.4" cy="170.1" r="1.2"/><circle cx="64.6" cy="169.6" r="1"/><circle cx="66.6" cy="172.7" r="1.7"/><circle cx="63.7" cy="166.9" r="1.7"/><circle cx="65.2" cy="166.2" r="1.5"/><circle cx="65.5" cy="169.5" r="1.6"/><circle cx="66.1" cy="168.6" r="0.9"/><circle cx="66.7" cy="170.2" r="1.2"/><circle cx="69.2" cy="168" r="1.9"/><circle cx="66.9" cy="165.1" r="1.3"/><circle cx="67.3" cy="168.3" r="0.9"/><circle cx="67.2" cy="167.8" r="1.5"/><circle cx="66.1" cy="167.3" r="1.2"/><circle cx="60" cy="170.1" r="1.2"/><circle cx="67" cy="167.9" r="1.2"/><circle cx="63.5" cy="173.9" r="0.9"/><circle cx="65.5" cy="165.3" r="1.7"/><circle cx="70" cy="169" r="1.3"/><circle cx="68.1" cy="170" r="1.8"/><circle cx="62.2" cy="164" r="0.9"/><circle cx="68.2" cy="165.9" r="1.4"/><circle cx="66.4" cy="172.5" r="1.5"/><circle cx="64" cy="171.1" r="1"/><circle cx="67.6" cy="166.5" r="1.9"/><circle cx="70.6" cy="165.4" r="1.1"/><circle cx="67.8" cy="166.7" r="1.5"/><circle cx="71.5" cy="169.3" r="1.2"/><circle cx="67" cy="171.7" r="1.5"/><circle cx="62.4" cy="166" r="1.7"/><circle cx="62.6" cy="167.4" r="1.4"/><circle cx="69.2" cy="173.9" r="1.2"/><circle cx="67.2" cy="174.6" r="1"/><circle cx="63" cy="172.5" r="1.4"/><circle cx="64.5" cy="169.3" r="1.5"/><circle cx="66.3" cy="169.9" r="1.1"/><circle cx="67.3" cy="169.4" r="1.1"/><circle cx="65.7" cy="172.4" r="1.7"/></g><g fill="#A8FF40"><circle cx="73" cy="163.8" r="0.6"/><circle cx="76.1" cy="166.8" r="0.7"/><circle cx="69.9" cy="165.7" r="0.8"/><circle cx="74.1" cy="169.5" r="0.6"/><circle cx="73.5" cy="168.3" r="0.4"/><circle cx="71.1" cy="164.8" r="0.7"/><circle cx="77.4" cy="168.5" r="0.8"/><circle cx="74" cy="171.6" r="0.9"/><circle cx="77.6" cy="167.6" r="0.6"/><circle cx="67.3" cy="168.4" r="0.9"/><circle cx="74.9" cy="164.7" r="0.7"/><circle cx="81" cy="169.2" r="0.5"/><circle cx="76.5" cy="166" r="0.7"/><circle cx="77.4" cy="169" r="0.8"/><circle cx="75.5" cy="165.6" r="1"/><circle cx="72.6" cy="170" r="0.8"/><circle cx="71.1" cy="165.1" r="0.8"/><circle cx="71.5" cy="164.3" r="0.9"/><circle cx="78.2" cy="168.8" r="0.8"/><circle cx="74.3" cy="162" r="0.5"/><circle cx="70" cy="166.2" r="0.6"/><circle cx="79.6" cy="165" r="0.9"/><circle cx="83.5" cy="167" r="0.5"/><circle cx="79.2" cy="168.1" r="0.5"/><circle cx="78.2" cy="164.7" r="0.5"/><circle cx="75.7" cy="163" r="1"/><circle cx="80.4" cy="164" r="0.8"/><circle cx="80" cy="166.8" r="0.6"/><circle cx="81.2" cy="163.7" r="0.8"/><circle cx="70.7" cy="167.1" r="0.5"/></g></g>
<g clip-path="url(#c2L)" filter="url(#soft)"><rect x="137" y="140" width="27" height="54" fill="#F3EFE8"/><g fill="#6D3709"><circle cx="161.8" cy="172.8" r="2"/><circle cx="158.7" cy="181.9" r="1"/><circle cx="157.4" cy="171.9" r="2.1"/><circle cx="159.9" cy="181.8" r="2.2"/><circle cx="156.5" cy="182.2" r="1.1"/><circle cx="162.6" cy="178" r="1.9"/><circle cx="157.4" cy="182.7" r="1.3"/><circle cx="154" cy="182.8" r="1.4"/><circle cx="153.1" cy="179.7" r="1.5"/><circle cx="160.7" cy="174.1" r="1.4"/><circle cx="150.3" cy="175.3" r="1.2"/><circle cx="158" cy="186" r="1.6"/><circle cx="155.2" cy="172.6" r="1.2"/><circle cx="156.4" cy="180.8" r="1.1"/><circle cx="158.2" cy="179.5" r="2"/><circle cx="160.4" cy="185.6" r="1.9"/><circle cx="157.6" cy="178.3" r="2.1"/><circle cx="161" cy="183.1" r="2"/><circle cx="163.6" cy="181.9" r="1.9"/><circle cx="156.7" cy="183.5" r="1.1"/><circle cx="155.6" cy="179.7" r="1.7"/><circle cx="155.2" cy="181.6" r="1"/><circle cx="156.4" cy="184.5" r="1.7"/><circle cx="162" cy="181" r="1.9"/><circle cx="163.2" cy="176.9" r="2.1"/><circle cx="161.9" cy="188.8" r="1.9"/><circle cx="159.6" cy="180.7" r="1.4"/><circle cx="157.5" cy="182.2" r="2.2"/><circle cx="162" cy="185.3" r="1.1"/><circle cx="158.5" cy="183.5" r="2.2"/><circle cx="157.4" cy="187.4" r="1.6"/><circle cx="152.9" cy="176.2" r="1.1"/><circle cx="153.1" cy="180.4" r="1.7"/><circle cx="157.1" cy="184.8" r="1.9"/><circle cx="160.9" cy="179.2" r="2.1"/><circle cx="158.7" cy="179.1" r="2.1"/><circle cx="157.6" cy="177.1" r="1.2"/><circle cx="159.5" cy="181" r="2.1"/><circle cx="156.6" cy="190" r="2.3"/><circle cx="161.5" cy="178.4" r="1.2"/><circle cx="158" cy="185.5" r="2"/><circle cx="162.2" cy="190.6" r="1.3"/><circle cx="159.2" cy="165.9" r="1.1"/><circle cx="161.4" cy="178" r="0.9"/><circle cx="158.2" cy="168.6" r="1.7"/><circle cx="156.6" cy="171.8" r="1.4"/><circle cx="159.9" cy="182.6" r="1.3"/><circle cx="156.8" cy="184.5" r="1"/><circle cx="159.5" cy="173.9" r="2.2"/><circle cx="161.2" cy="175.1" r="2.1"/><circle cx="154.9" cy="185.5" r="1.4"/><circle cx="161.1" cy="183.4" r="1.9"/><circle cx="160.6" cy="177.8" r="1.3"/><circle cx="161.9" cy="181.6" r="1.7"/><circle cx="163" cy="185.2" r="1.1"/><circle cx="156.4" cy="187.8" r="1.8"/><circle cx="154" cy="190.3" r="1.8"/><circle cx="153.9" cy="181.7" r="1.9"/><circle cx="160.7" cy="177" r="1.5"/><circle cx="161.7" cy="174.7" r="0.9"/><circle cx="156.8" cy="189.2" r="1.5"/><circle cx="157.5" cy="167.5" r="1.8"/><circle cx="156" cy="186.2" r="1.4"/><circle cx="158.8" cy="184.7" r="2.1"/><circle cx="160.5" cy="188.8" r="2.1"/><circle cx="161" cy="180.9" r="1.5"/><circle cx="158.9" cy="179" r="1.9"/><circle cx="158.8" cy="182.1" r="1.2"/><circle cx="159.9" cy="183.2" r="2.1"/><circle cx="158.6" cy="168.2" r="1.3"/><circle cx="157.9" cy="177.6" r="1.5"/><circle cx="161" cy="172.6" r="1.6"/><circle cx="154.5" cy="172.8" r="1.4"/><circle cx="158.5" cy="193.9" r="1.6"/><circle cx="160.3" cy="171.1" r="0.9"/></g><g fill="#6D3709"><circle cx="164.3" cy="150.9" r="1.6"/><circle cx="162.9" cy="148.8" r="0.8"/><circle cx="159.5" cy="142.9" r="1.8"/><circle cx="160.5" cy="144.9" r="1.8"/><circle cx="163.3" cy="147.2" r="1"/><circle cx="159.2" cy="150.2" r="1.4"/><circle cx="161.2" cy="149" r="1.3"/><circle cx="161" cy="148.1" r="1.8"/><circle cx="158.3" cy="147.5" r="1.4"/><circle cx="161.4" cy="145.6" r="1.5"/><circle cx="161.4" cy="146" r="0.9"/><circle cx="159.9" cy="148.1" r="0.8"/><circle cx="163.3" cy="146.9" r="1.3"/><circle cx="162.5" cy="144.3" r="1.7"/><circle cx="160.3" cy="146.1" r="1.7"/><circle cx="160.6" cy="148.1" r="1.8"/><circle cx="160.8" cy="144.6" r="1.4"/><circle cx="164.7" cy="147.2" r="1.1"/><circle cx="160.3" cy="144.9" r="1.3"/><circle cx="159.9" cy="154.1" r="0.9"/></g><g fill="#6D3709"><circle cx="154.8" cy="184.5" r="1.1"/><circle cx="150.6" cy="188" r="1.3"/><circle cx="145.5" cy="189.7" r="1.5"/><circle cx="150.2" cy="188.5" r="1.7"/><circle cx="149.7" cy="186" r="0.6"/><circle cx="152.8" cy="181.3" r="1.2"/><circle cx="149.8" cy="184.7" r="1.1"/><circle cx="156.3" cy="183.1" r="1.3"/><circle cx="149.6" cy="185.3" r="1.5"/><circle cx="150.9" cy="183.5" r="1.1"/><circle cx="150.2" cy="183.6" r="1.5"/><circle cx="154.3" cy="190.2" r="0.8"/><circle cx="152.8" cy="189.1" r="1.6"/><circle cx="152.5" cy="182.5" r="0.7"/><circle cx="149" cy="190.8" r="0.9"/><circle cx="153.3" cy="181.3" r="0.8"/><circle cx="149.2" cy="182.2" r="0.8"/><circle cx="149.3" cy="192.1" r="1.1"/><circle cx="153.3" cy="187.1" r="1"/><circle cx="153.5" cy="181.3" r="1.7"/><circle cx="157.6" cy="184.4" r="1.2"/><circle cx="148.8" cy="180.3" r="1.1"/></g><g fill="#7E4A1C"><circle cx="140.7" cy="176.7" r="0.3"/><circle cx="157.9" cy="174.6" r="0.5"/><circle cx="152.9" cy="168.6" r="0.7"/><circle cx="140.8" cy="147.5" r="0.6"/><circle cx="156.4" cy="159.9" r="0.8"/><circle cx="140.7" cy="160.8" r="0.7"/><circle cx="156.8" cy="147.4" r="0.6"/><circle cx="140.6" cy="149.8" r="0.4"/><circle cx="161.3" cy="154.5" r="0.4"/><circle cx="149.2" cy="163.4" r="0.5"/><circle cx="144.3" cy="174.2" r="0.6"/><circle cx="157.5" cy="180.7" r="0.8"/><circle cx="141.4" cy="167.5" r="0.4"/><circle cx="144.3" cy="161" r="0.6"/><circle cx="149.3" cy="146.7" r="0.6"/><circle cx="159.8" cy="186.3" r="0.7"/><circle cx="157.4" cy="155.8" r="0.8"/><circle cx="142.5" cy="153.8" r="0.8"/><circle cx="155" cy="185" r="0.4"/><circle cx="154.5" cy="172" r="0.6"/><circle cx="158.3" cy="186.7" r="0.3"/><circle cx="160.9" cy="157" r="0.3"/><circle cx="158.4" cy="157" r="0.7"/><circle cx="141.5" cy="188" r="0.5"/><circle cx="161" cy="176.3" r="0.7"/><circle cx="155.5" cy="188.3" r="0.3"/><circle cx="139.6" cy="145.6" r="0.8"/><circle cx="160.6" cy="157.5" r="0.4"/><circle cx="147.9" cy="162.6" r="0.8"/><circle cx="150" cy="155.7" r="0.7"/><circle cx="158.8" cy="158.5" r="0.7"/><circle cx="157.7" cy="156.1" r="0.6"/><circle cx="146.1" cy="180" r="0.7"/><circle cx="140.9" cy="147.1" r="0.3"/><circle cx="145" cy="178.2" r="0.4"/></g><g fill="#7A4512"><circle cx="148.9" cy="166" r="0.7"/><circle cx="148.4" cy="149.2" r="0.8"/><circle cx="146.2" cy="164.4" r="0.9"/><circle cx="146.4" cy="164.4" r="0.9"/><circle cx="142.9" cy="161" r="0.8"/><circle cx="148.3" cy="160.1" r="0.8"/><circle cx="151.3" cy="173.4" r="0.6"/><circle cx="150" cy="161.4" r="0.6"/><circle cx="141.3" cy="171.3" r="0.9"/><circle cx="152.9" cy="157" r="0.6"/><circle cx="147.9" cy="163.5" r="1"/><circle cx="142.8" cy="162.1" r="0.8"/><circle cx="144.8" cy="164.1" r="0.8"/><circle cx="139.6" cy="159.3" r="0.6"/><circle cx="144.2" cy="158.8" r="0.7"/></g><g fill="#F1ECE4"><circle cx="156.7" cy="174.1" r="0.6"/><circle cx="155.5" cy="168.6" r="0.5"/><circle cx="147.7" cy="174.4" r="0.8"/><circle cx="158.5" cy="161.5" r="0.6"/><circle cx="155.3" cy="171.6" r="0.5"/><circle cx="156.4" cy="172.2" r="0.8"/><circle cx="156" cy="168.3" r="0.5"/><circle cx="159" cy="167.5" r="0.9"/><circle cx="157.8" cy="163" r="0.5"/><circle cx="152.7" cy="169" r="0.6"/><circle cx="155.4" cy="181.2" r="0.6"/><circle cx="156.8" cy="179.4" r="0.6"/><circle cx="155.4" cy="171.7" r="0.9"/><circle cx="159" cy="160.7" r="0.6"/><circle cx="163" cy="173" r="0.8"/><circle cx="162.5" cy="177.5" r="0.8"/><circle cx="156.5" cy="162.4" r="0.9"/><circle cx="160.1" cy="189.1" r="0.9"/></g></g>
<g clip-path="url(#c2R)" filter="url(#soft)"><rect x="162" y="140" width="28" height="54" fill="#2A5414"/><g fill="#F4EE12"><circle cx="164.9" cy="169.5" r="3.4"/><circle cx="172.6" cy="183.3" r="1.7"/><circle cx="168.3" cy="165.4" r="2.4"/><circle cx="174.9" cy="172.4" r="1.8"/><circle cx="167.7" cy="179.7" r="3.1"/><circle cx="168.3" cy="164.9" r="1.8"/><circle cx="164.4" cy="186" r="2.4"/><circle cx="172.6" cy="179.3" r="3"/><circle cx="171.5" cy="180.7" r="1.8"/><circle cx="168.3" cy="154.9" r="3.3"/><circle cx="176.9" cy="164.8" r="2.2"/><circle cx="169.8" cy="171.1" r="1.7"/><circle cx="175.4" cy="186.7" r="1.9"/><circle cx="164.8" cy="168.3" r="2"/><circle cx="168.3" cy="185.8" r="2.6"/><circle cx="174.7" cy="181.5" r="2.8"/><circle cx="178" cy="173.4" r="3"/><circle cx="169.9" cy="184.9" r="2.5"/><circle cx="173.1" cy="162.1" r="1.9"/><circle cx="175.9" cy="161.4" r="2.4"/><circle cx="177.5" cy="179.8" r="2.3"/><circle cx="167.8" cy="160.1" r="1.7"/><circle cx="173.8" cy="172.9" r="2.4"/><circle cx="171.8" cy="173.9" r="3"/><circle cx="173.5" cy="166.5" r="3.1"/><circle cx="167.5" cy="166.6" r="2.4"/><circle cx="174.3" cy="163.3" r="3"/><circle cx="168.7" cy="161" r="2.2"/><circle cx="174.3" cy="172.7" r="1.7"/><circle cx="168.9" cy="170.5" r="2.7"/><circle cx="175.7" cy="159.5" r="1.8"/><circle cx="174.9" cy="186.4" r="2.3"/><circle cx="168.7" cy="187.2" r="2.2"/><circle cx="177" cy="183.9" r="2.5"/><circle cx="161.2" cy="166.8" r="3.2"/><circle cx="174.8" cy="165.3" r="1.7"/><circle cx="168" cy="178.5" r="2.4"/><circle cx="168.6" cy="180.6" r="3.2"/><circle cx="174.7" cy="163.7" r="3.4"/><circle cx="172.4" cy="165" r="2.1"/><circle cx="171.2" cy="156.6" r="2.5"/><circle cx="167" cy="168.3" r="2.3"/><circle cx="175.7" cy="164.4" r="3.2"/><circle cx="165.1" cy="178.6" r="2.9"/><circle cx="171.3" cy="173.1" r="2.8"/><circle cx="171.1" cy="176.5" r="2.2"/><circle cx="171.3" cy="168" r="1.9"/><circle cx="165.5" cy="177.3" r="2.1"/><circle cx="168.4" cy="158.7" r="3.2"/><circle cx="167.3" cy="173.1" r="1.6"/><circle cx="173.7" cy="177.6" r="2.3"/><circle cx="174.6" cy="178.7" r="3"/><circle cx="161.4" cy="178.8" r="2.1"/><circle cx="174.4" cy="182.1" r="2.8"/><circle cx="174" cy="150.4" r="3.2"/><circle cx="171.5" cy="166.4" r="2.1"/><circle cx="174.5" cy="152.7" r="3.4"/><circle cx="172.3" cy="167.7" r="2.5"/><circle cx="175.8" cy="173" r="1.9"/><circle cx="176.8" cy="170.8" r="1.8"/><circle cx="171" cy="171" r="1.7"/><circle cx="175.7" cy="163.8" r="2.6"/><circle cx="173.1" cy="172.6" r="2.4"/><circle cx="172.2" cy="173.8" r="2.6"/><circle cx="170.1" cy="171.5" r="3"/><circle cx="171.6" cy="178.8" r="3.4"/><circle cx="179.8" cy="173.6" r="2.2"/><circle cx="170.6" cy="178.1" r="1.6"/><circle cx="178.8" cy="165.6" r="2.9"/><circle cx="165.9" cy="165.9" r="3.3"/><circle cx="173.7" cy="170" r="3.4"/><circle cx="172.3" cy="166" r="3.3"/><circle cx="172.8" cy="161.4" r="2"/><circle cx="181.6" cy="171.6" r="2.2"/><circle cx="169.4" cy="164.5" r="2"/><circle cx="165.7" cy="157.5" r="2.6"/><circle cx="167.4" cy="160.9" r="3.2"/><circle cx="174.9" cy="164.9" r="3.1"/><circle cx="166.9" cy="173.3" r="1.6"/><circle cx="174.3" cy="158.5" r="2.7"/><circle cx="171.5" cy="162.2" r="2.3"/><circle cx="171.8" cy="172.7" r="2.6"/><circle cx="172.5" cy="156.2" r="2.9"/><circle cx="165.5" cy="162.3" r="2.5"/><circle cx="174" cy="169.1" r="3.1"/><circle cx="165.8" cy="160.9" r="2.1"/><circle cx="165.3" cy="160.5" r="2.8"/><circle cx="171.7" cy="172" r="3"/><circle cx="164.7" cy="158.8" r="2.5"/><circle cx="172.7" cy="162.5" r="2.5"/><circle cx="168" cy="162.7" r="1.6"/><circle cx="172.3" cy="162" r="2.5"/><circle cx="166.7" cy="160.9" r="2"/><circle cx="160" cy="157.5" r="2.5"/><circle cx="168.4" cy="177.8" r="3.2"/><circle cx="166.3" cy="166.5" r="2.7"/><circle cx="172.2" cy="158.7" r="3.4"/><circle cx="170.1" cy="163.2" r="2.6"/><circle cx="170.7" cy="178.9" r="1.7"/><circle cx="172.6" cy="179" r="3.2"/><circle cx="176.5" cy="180.3" r="2.7"/><circle cx="168" cy="170.4" r="2.6"/><circle cx="165.8" cy="186.7" r="2.6"/><circle cx="167" cy="150" r="2.4"/><circle cx="176" cy="175.9" r="2.8"/><circle cx="173.2" cy="169" r="1.8"/><circle cx="174.9" cy="177.3" r="2.5"/><circle cx="164.1" cy="178" r="2.8"/><circle cx="174" cy="167.4" r="3.2"/><circle cx="169.5" cy="173.7" r="2.2"/><circle cx="172" cy="162.7" r="1.9"/><circle cx="170.5" cy="166.4" r="3"/><circle cx="179.1" cy="157.5" r="2.7"/><circle cx="171.6" cy="167.9" r="2.7"/><circle cx="175.7" cy="171" r="3.3"/><circle cx="182.2" cy="169.7" r="1.8"/><circle cx="171.9" cy="160.7" r="2.6"/><circle cx="171.6" cy="170.3" r="2"/><circle cx="166.8" cy="174.1" r="2.9"/><circle cx="176.4" cy="190.2" r="2"/><circle cx="173.8" cy="177" r="3.2"/><circle cx="178.2" cy="154.9" r="1.8"/><circle cx="174.1" cy="181.4" r="1.9"/><circle cx="164.8" cy="172.6" r="2.9"/><circle cx="173.9" cy="161.4" r="3.1"/><circle cx="184.4" cy="169.9" r="2.6"/><circle cx="163.1" cy="179.1" r="3.1"/><circle cx="171.1" cy="163.9" r="2.9"/><circle cx="175.5" cy="170.2" r="2.4"/><circle cx="173" cy="189.7" r="2.7"/><circle cx="167.9" cy="160.9" r="2.7"/><circle cx="178.8" cy="174.6" r="2.8"/><circle cx="166" cy="167.2" r="3.1"/><circle cx="173.1" cy="169.9" r="2.7"/><circle cx="180.5" cy="160.8" r="2"/><circle cx="172.3" cy="165.3" r="2.9"/><circle cx="168.4" cy="177.9" r="2.6"/><circle cx="167.3" cy="144.5" r="3.2"/><circle cx="165.3" cy="165.9" r="2.4"/><circle cx="177.4" cy="162.6" r="2.7"/><circle cx="170.6" cy="162" r="1.8"/><circle cx="173.2" cy="170.8" r="2.1"/><circle cx="173.8" cy="158" r="1.9"/><circle cx="170.3" cy="140.9" r="2.3"/><circle cx="169.4" cy="186.8" r="3.4"/><circle cx="168.6" cy="178.1" r="3.1"/><circle cx="176.9" cy="164.6" r="3.3"/><circle cx="163.9" cy="166.3" r="3.4"/><circle cx="171.1" cy="197.8" r="2.4"/><circle cx="177.1" cy="176.3" r="1.6"/><circle cx="170.4" cy="161.8" r="3.3"/><circle cx="175.2" cy="166" r="2.4"/><circle cx="165.3" cy="166.9" r="1.8"/><circle cx="167.8" cy="185.2" r="2.5"/><circle cx="169.1" cy="175.5" r="3.2"/><circle cx="164.6" cy="165.2" r="3.3"/><circle cx="170.7" cy="168" r="1.9"/><circle cx="173.8" cy="169.4" r="2.5"/><circle cx="173.1" cy="168.5" r="3.3"/><circle cx="171.6" cy="162.6" r="2.5"/></g><g fill="#F6F014"><circle cx="163.7" cy="160.4" r="2.4"/><circle cx="166.7" cy="178" r="2.9"/><circle cx="169.9" cy="161.9" r="2.2"/><circle cx="160.2" cy="152.4" r="2.8"/><circle cx="165.4" cy="163" r="2.9"/><circle cx="167.2" cy="161.5" r="2"/><circle cx="162.2" cy="168" r="2.5"/><circle cx="168.2" cy="166.4" r="2.7"/><circle cx="165" cy="156.3" r="1.8"/><circle cx="167.1" cy="157.6" r="2.4"/><circle cx="166.6" cy="178.7" r="2.3"/><circle cx="165.5" cy="173.5" r="2.7"/><circle cx="166.9" cy="170.2" r="2.3"/><circle cx="163.7" cy="159.7" r="2.3"/><circle cx="168.5" cy="153.4" r="1.5"/><circle cx="165.4" cy="181.4" r="2"/><circle cx="167.2" cy="165.8" r="3"/><circle cx="167.5" cy="150" r="1.8"/><circle cx="166.4" cy="167.5" r="1.5"/><circle cx="166.8" cy="178" r="2.7"/><circle cx="169.5" cy="179" r="1.6"/><circle cx="164.3" cy="172.5" r="2.8"/><circle cx="166" cy="174" r="2.6"/><circle cx="164.1" cy="138.8" r="2.7"/><circle cx="168.5" cy="169.6" r="2.9"/><circle cx="167.8" cy="169.7" r="2.5"/><circle cx="166.6" cy="170.7" r="1.5"/><circle cx="166.2" cy="176" r="3"/><circle cx="167.8" cy="185.7" r="1.4"/><circle cx="165.5" cy="178.4" r="2.6"/><circle cx="164.9" cy="153.3" r="2.2"/><circle cx="165.2" cy="151.5" r="3"/><circle cx="166.9" cy="172.9" r="2.8"/><circle cx="164.1" cy="162.3" r="2.8"/><circle cx="166.8" cy="155.7" r="2.1"/><circle cx="168.8" cy="174.6" r="2.2"/><circle cx="165.4" cy="147.5" r="2.8"/><circle cx="166.1" cy="153.7" r="2.8"/><circle cx="168.6" cy="169.6" r="2"/><circle cx="164.4" cy="165.4" r="2.5"/><circle cx="167.6" cy="172" r="2.5"/><circle cx="165.6" cy="181" r="2.2"/><circle cx="166.5" cy="159.7" r="2.2"/><circle cx="162" cy="159.6" r="1.6"/><circle cx="167.8" cy="162.9" r="1.9"/><circle cx="162.4" cy="156" r="2.8"/><circle cx="168.5" cy="155" r="2.7"/><circle cx="165.1" cy="161.3" r="2.2"/><circle cx="171.3" cy="166.7" r="2"/><circle cx="167.7" cy="154.4" r="2.8"/><circle cx="166.5" cy="153" r="2.6"/><circle cx="169.5" cy="153" r="2.6"/><circle cx="167.9" cy="150.2" r="2.3"/><circle cx="166" cy="149.6" r="2.4"/><circle cx="167.7" cy="174.7" r="2.1"/><circle cx="169.4" cy="167" r="1.8"/><circle cx="163.9" cy="160.5" r="1.6"/><circle cx="166.1" cy="177.2" r="2.7"/><circle cx="166" cy="187.8" r="2.3"/><circle cx="167.1" cy="179.3" r="1.9"/></g><g fill="#E8E010"><circle cx="180.5" cy="161.1" r="1.1"/><circle cx="182.8" cy="156.3" r="1.9"/><circle cx="182.8" cy="157.4" r="1"/><circle cx="179.7" cy="155.3" r="1.3"/><circle cx="178.2" cy="156.6" r="1.2"/><circle cx="179.6" cy="149.7" r="1.6"/><circle cx="175.7" cy="160.2" r="1.3"/><circle cx="179.6" cy="163" r="1.3"/><circle cx="181.7" cy="153.7" r="1.2"/><circle cx="177.1" cy="152.5" r="1.9"/><circle cx="180.9" cy="160.8" r="1.6"/><circle cx="172.2" cy="156.2" r="1.8"/><circle cx="172.1" cy="153.6" r="1.8"/><circle cx="180.2" cy="161.5" r="1.9"/><circle cx="178.9" cy="158.6" r="1.6"/><circle cx="171.4" cy="156.9" r="1.4"/><circle cx="175.1" cy="161" r="1.7"/><circle cx="176" cy="162.1" r="1.4"/><circle cx="173.7" cy="152.3" r="0.9"/><circle cx="178.9" cy="154.1" r="1.9"/></g><g fill="#EAE412"><circle cx="175.5" cy="182.4" r="1.8"/><circle cx="172.1" cy="170.5" r="1.5"/><circle cx="174" cy="172.9" r="1.6"/><circle cx="172.8" cy="179.2" r="0.9"/><circle cx="172.7" cy="181.7" r="1.6"/><circle cx="179.8" cy="173.6" r="1.7"/><circle cx="179.8" cy="167.1" r="1"/><circle cx="174.4" cy="173.6" r="1.6"/><circle cx="175.3" cy="174.9" r="1.4"/><circle cx="173" cy="175.5" r="1.1"/><circle cx="176.2" cy="171.8" r="1.5"/><circle cx="177.5" cy="174.9" r="1.3"/><circle cx="175.5" cy="179" r="0.8"/><circle cx="186.1" cy="181.9" r="1.2"/><circle cx="178.5" cy="173.8" r="0.8"/><circle cx="178.4" cy="181.6" r="0.8"/><circle cx="174.5" cy="177" r="0.8"/><circle cx="174.9" cy="178" r="1.6"/><circle cx="174.2" cy="183" r="1.6"/><circle cx="171.5" cy="178" r="1.3"/></g><g fill="#5A7A14"><circle cx="184.4" cy="181.6" r="0.4"/><circle cx="173.6" cy="155" r="0.3"/><circle cx="168.6" cy="170.4" r="0.4"/><circle cx="185.9" cy="170.7" r="0.6"/><circle cx="166.9" cy="168.5" r="0.6"/><circle cx="174.4" cy="156.6" r="0.6"/><circle cx="167.9" cy="163.9" r="0.7"/><circle cx="167" cy="174.9" r="0.4"/><circle cx="175.4" cy="157.8" r="0.4"/><circle cx="165.4" cy="168.7" r="0.4"/><circle cx="178.4" cy="151.7" r="0.6"/><circle cx="180.2" cy="159.8" r="0.7"/><circle cx="170.8" cy="187.1" r="0.6"/><circle cx="182.9" cy="157.1" r="0.3"/><circle cx="170.9" cy="168.8" r="0.7"/><circle cx="175.9" cy="175.4" r="0.4"/><circle cx="178.2" cy="146.7" r="0.4"/><circle cx="185.3" cy="149.8" r="0.4"/><circle cx="171.6" cy="153.5" r="0.6"/><circle cx="165.4" cy="179.4" r="0.4"/><circle cx="165.8" cy="149.1" r="0.3"/><circle cx="179.2" cy="163.5" r="0.6"/><circle cx="184.2" cy="146.3" r="0.4"/><circle cx="174.6" cy="147.8" r="0.3"/><circle cx="171.8" cy="146" r="0.5"/></g><g fill="#2A5414"><circle cx="175.5" cy="148.4" r="1"/><circle cx="178.4" cy="150.7" r="1.6"/><circle cx="180.8" cy="151.1" r="1.6"/><circle cx="182.9" cy="147.8" r="1.6"/><circle cx="184.6" cy="148.5" r="1.1"/><circle cx="170.2" cy="149.2" r="1"/><circle cx="187.3" cy="150.9" r="1.1"/><circle cx="179.3" cy="146.9" r="1.2"/><circle cx="180.4" cy="149.2" r="1.5"/><circle cx="167.4" cy="148.3" r="1.9"/><circle cx="183.5" cy="149" r="1.3"/><circle cx="180.4" cy="155" r="1.8"/><circle cx="174.2" cy="146.9" r="1"/><circle cx="175" cy="150.4" r="1.6"/><circle cx="177.7" cy="149.2" r="1.4"/><circle cx="175.2" cy="148" r="1.1"/><circle cx="178.5" cy="148.8" r="1.8"/><circle cx="171.6" cy="151.4" r="1.9"/><circle cx="175.2" cy="148.9" r="1.6"/><circle cx="177.1" cy="149.3" r="0.9"/><circle cx="179" cy="150.8" r="1.7"/><circle cx="183.3" cy="149" r="1.5"/><circle cx="182.9" cy="149" r="0.8"/><circle cx="177.6" cy="147.4" r="1.9"/><circle cx="178.2" cy="149.3" r="1.7"/></g></g>
<g clip-path="url(#c3L)"><rect x="36" y="242" width="26" height="53" fill="url(#bg3)"/><path d="M39.7 261.8L42 259.6L61.3 259.2V274.4L43.3 274.2L39.6 267.6Z" fill="url(#yc3)" stroke="#6A5820" stroke-width="0.7"/><path d="M42 262.5L52 263.5L56 266M44 266L50 268L54 270" stroke="#8A7428" stroke-width="0.5" fill="none"/></g>
<g clip-path="url(#c3R)"><rect x="61" y="242" width="28" height="53" fill="#050505"/><path d="M61.25 258.9L80.8 258.6L86.6 267.8L86.2 274.4L61.25 275.0Z" fill="#4CB814" stroke="#90F030" stroke-width="1.0"/><path d="M62 268L66 265.5L68 267.5L72 264.5L76 266L80 262.5L84 266L85 272L62 273Z" fill="#3A9410"/><path d="M62 264.5L70 263L74 261.5L80 261.2" stroke="#7EE025" stroke-width="0.9" fill="none"/><path d="M64 271.5L84 270.5" stroke="#A0F040" stroke-width="0.8" fill="none"/></g>
<g clip-path="url(#c4L)"><rect x="137" y="243" width="27" height="54" fill="url(#bg4)"/><path d="M156.1 265.4L158.2 258.8L160.5 259.7L163 263.6V269.2L159.4 268.9Z" fill="url(#dc4)"/><path d="M156.4 265L158.3 259.3" stroke="#2E2820" stroke-width="0.9"/></g>
<g clip-path="url(#c4R)"><rect x="162" y="243" width="28" height="54" fill="#070202"/><path d="M162.9 263.4L165.4 265.1L173.3 276.5L172.3 279.1L165.7 278.9L162.9 276.5Z" fill="url(#oc4)" stroke="#F49A18" stroke-width="1.1" stroke-linejoin="round"/><path d="M164.2 267.5L170.5 276.5L166.5 276.8L164.2 274Z" fill="#A85008" opacity="0.8"/><path d="M163.5 276.8L166.5 278.6L172 278.6" stroke="#FFE030" stroke-width="1" fill="none"/><path d="M165.4 265.4L173 276.2" stroke="#FFB020" stroke-width="0.8" fill="none"/></g>
<path d="M91 162.3L132.7 162.3M127.1 165.5L133.3 162.3L127.1 159.1" stroke="url(#ga1)" stroke-width="1.3" fill="none" stroke-linecap="round" stroke-linejoin="round"/>
<path d="M134 171.9L92.6 171.9M98.2 168.7L92 171.9L98.2 175.1" stroke="url(#ga2)" stroke-width="1.3" fill="none" stroke-linecap="round" stroke-linejoin="round"/>
<path d="M56.7 240.2L56.7 198.8M59.9 204.4L56.7 198.2L53.5 204.4" stroke="url(#ga3)" stroke-width="1.5" fill="none" stroke-linecap="round" stroke-linejoin="round"/>
<path d="M66.6 196.9L66.6 238.3M63.4 232.7L66.6 238.9L69.8 232.7" stroke="url(#ga4)" stroke-width="1.5" fill="none" stroke-linecap="round" stroke-linejoin="round"/>
<path d="M158.6 240.2L158.6 198.8M161.8 204.4L158.6 198.2L155.4 204.4" stroke="url(#ga5)" stroke-width="1.5" fill="none" stroke-linecap="round" stroke-linejoin="round"/>
<path d="M168 196.9L168 238.3M164.8 232.7L168 238.9L171.2 232.7" stroke="url(#ga6)" stroke-width="1.5" fill="none" stroke-linecap="round" stroke-linejoin="round"/>
<path d="M91.1 261.4L132.4 261.4M126.8 264.6L133 261.4L126.8 258.2" stroke="url(#ga7)" stroke-width="1.3" fill="none" stroke-linecap="round" stroke-linejoin="round"/>
<path d="M133.9 270.9L92.4 270.9M98 267.7L91.8 270.9L98 274.1" stroke="url(#ga8)" stroke-width="1.3" fill="none" stroke-linecap="round" stroke-linejoin="round"/>
<text x="89.6" y="143.6" font-family="'Liberation Sans',sans-serif" font-size="9.3" text-anchor="start" font-weight="bold" fill="#1E1E1E">Dissolve &amp;</text>
<text x="89.6" y="155.1" font-family="'Liberation Sans',sans-serif" font-size="9.3" text-anchor="start" font-weight="bold" fill="#1E1E1E">Evaporate</text>
<text x="115.5" y="184.9" font-family="'Liberation Sans',sans-serif" font-size="10.2" text-anchor="middle" font-weight="bold" fill="#1E1E1E">180°C</text>
<text x="112" y="284.8" font-family="'Liberation Sans',sans-serif" font-size="8.7" text-anchor="middle" font-weight="bold" fill="#1E1E1E">180°C</text>
<text x="85" y="253.9" font-family="'Liberation Sans',sans-serif" font-size="9.3" text-anchor="start" font-weight="bold" fill="#1E1E1E">Recrystallize</text>
<text x="47.1" y="218.9" font-family="'Liberation Sans',sans-serif" font-size="9.2" text-anchor="middle" font-weight="bold" fill="#1E1E1E" transform="rotate(-90 47.1 218.9)">Grind</text>
<text x="147.5" y="218.9" font-family="'Liberation Sans',sans-serif" font-size="9.2" text-anchor="middle" font-weight="bold" fill="#1E1E1E" transform="rotate(-90 147.5 218.9)">Grind</text>
<text x="77.6" y="218.2" font-family="'Liberation Sans',sans-serif" font-size="9.2" text-anchor="middle" font-weight="bold" fill="#1E1E1E" transform="rotate(90 77.6 218.2)">Recrystallize</text>
<text x="178.8" y="218.2" font-family="'Liberation Sans',sans-serif" font-size="9.2" text-anchor="middle" font-weight="bold" fill="#1E1E1E" transform="rotate(90 178.8 218.2)">Recrystallize</text>
<text x="19.4" y="167.6" font-family="'Liberation Serif',serif" font-size="10.8" text-anchor="start" font-weight="normal" fill="#1A1A1A" transform="rotate(-41 19.4 167.6)">Amorphism-G</text>
<text x="159" y="126.6" font-family="'Liberation Serif',serif" font-size="10.5" text-anchor="start" font-weight="normal" fill="#1A1A1A" transform="rotate(35.5 159 126.6)">Amorphism-Y</text>
<text x="62.8" y="305.3" font-family="'Liberation Serif',serif" font-size="10.7" text-anchor="middle" font-weight="normal" fill="#2A2A2A">Crystal-YG</text>
<text x="167.1" y="305.3" font-family="'Liberation Serif',serif" font-size="10.7" text-anchor="middle" font-weight="normal" fill="#2A2A2A">Crystal-O</text>
<text x="15.2" y="19.1" font-family="'Liberation Serif',serif" font-size="26" text-anchor="start" font-weight="normal" fill="#000">a</text>
<text x="240.2" y="20" font-family="'Liberation Serif',serif" font-size="28" text-anchor="start" font-weight="normal" fill="#000">b</text>
<text x="477.4" y="19.5" font-family="'Liberation Serif',serif" font-size="28.5" text-anchor="start" font-weight="normal" fill="#000">c</text>
<text x="241.8" y="191.8" font-family="'Liberation Serif',serif" font-size="28.5" text-anchor="start" font-weight="normal" fill="#000">d</text>
<text x="476.8" y="191.8" font-family="'Liberation Serif',serif" font-size="28" text-anchor="start" font-weight="normal" fill="#000">e</text>
<text x="17.5" y="364.8" font-family="'Liberation Serif',serif" font-size="26" text-anchor="start" font-weight="normal" fill="#000">f</text>
<text x="240" y="358.5" font-family="'Liberation Serif',serif" font-size="26" text-anchor="start" font-weight="normal" fill="#000">g</text>
<text x="476.2" y="358.2" font-family="'Liberation Serif',serif" font-size="26" text-anchor="start" font-weight="normal" fill="#000">h</text></svg></body></html>
